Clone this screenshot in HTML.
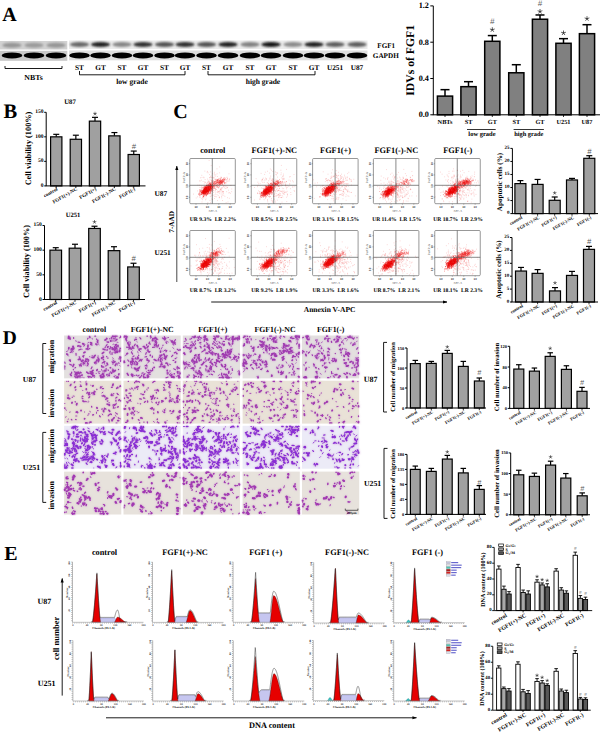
<!DOCTYPE html><html><head><meta charset="utf-8"><title>Figure</title><style>html,body{margin:0;padding:0;background:#fff;width:600px;height:733px;overflow:hidden;}svg{display:block;font-family:"Liberation Serif",serif;text-rendering:geometricPrecision;}</style></head><body><svg width="600" height="733" viewBox="0 0 600 733" font-family="Liberation Serif" font-weight="bold">
<defs><filter id="bl1" x="-50%" y="-50%" width="200%" height="200%"><feGaussianBlur stdDeviation="1.3"/></filter><filter id="bl2" x="-50%" y="-50%" width="200%" height="200%"><feGaussianBlur stdDeviation="1.0 0.8"/></filter><filter id="bl3" x="-50%" y="-50%" width="200%" height="200%"><feGaussianBlur stdDeviation="0.45"/></filter><marker id="ah" viewBox="0 0 10 10" refX="9" refY="5" markerWidth="5" markerHeight="5" orient="auto"><path d="M0,1.5 L10,5 L0,8.5 z" fill="#000"/></marker><filter id="halo0" x="-5%" y="-5%" width="110%" height="110%"><feGaussianBlur in="SourceAlpha" stdDeviation="1.1" result="b"/><feFlood flood-color="#cc8fd4" flood-opacity="0.95"/><feComposite in2="b" operator="in" result="h"/><feMerge><feMergeNode in="h"/><feMergeNode in="SourceGraphic"/></feMerge></filter><filter id="halo1" x="-5%" y="-5%" width="110%" height="110%"><feGaussianBlur in="SourceAlpha" stdDeviation="0.8" result="b"/><feFlood flood-color="#c890c8" flood-opacity="0.8"/><feComposite in2="b" operator="in" result="h"/><feMerge><feMergeNode in="h"/><feMergeNode in="SourceGraphic"/></feMerge></filter></defs>
<rect width="600" height="733" fill="#fff"/>
<text x="9.50" y="14.90" font-size="20" text-anchor="middle" dominant-baseline="central" fill="#000">A</text>
<text x="10.40" y="112.00" font-size="20.5" text-anchor="middle" dominant-baseline="central" fill="#000">B</text>
<text x="180.60" y="111.60" font-size="20" text-anchor="middle" dominant-baseline="central" fill="#000">C</text>
<text x="9.75" y="338.80" font-size="19.5" text-anchor="middle" dominant-baseline="central" fill="#000">D</text>
<text x="10.90" y="554.00" font-size="20" text-anchor="middle" dominant-baseline="central" fill="#000">E</text>
<rect x="0" y="41" width="67.3" height="8.5" fill="#d2d2d2"/>
<rect x="0" y="50.8" width="67.3" height="10" fill="#c8c8c8"/>
<rect x="69" y="40.5" width="298.5" height="8.5" fill="#ececec"/>
<rect x="69" y="50.5" width="298.5" height="9.8" fill="#dedede"/>
<ellipse cx="12" cy="45.2" rx="9.6" ry="2.5" fill="rgb(150,150,150)" filter="url(#bl2)"/>
<ellipse cx="12" cy="55.4" rx="10.3" ry="3.0" fill="#020202" filter="url(#bl3)"/>
<ellipse cx="34" cy="45.2" rx="9.6" ry="2.5" fill="rgb(155,155,155)" filter="url(#bl2)"/>
<ellipse cx="34" cy="55.4" rx="10.3" ry="3.0" fill="#020202" filter="url(#bl3)"/>
<ellipse cx="56" cy="45.2" rx="9.6" ry="2.5" fill="rgb(150,150,150)" filter="url(#bl2)"/>
<ellipse cx="56" cy="55.4" rx="10.3" ry="3.0" fill="#020202" filter="url(#bl3)"/>
<ellipse cx="79.5" cy="44.6" rx="9.6" ry="2.5" fill="rgb(105,105,105)" filter="url(#bl2)"/>
<ellipse cx="79.5" cy="55.4" rx="10.3" ry="3.0" fill="#020202" filter="url(#bl3)"/>
<ellipse cx="100.5" cy="44.6" rx="9.6" ry="2.5" fill="rgb(35,35,35)" filter="url(#bl2)"/>
<ellipse cx="100.5" cy="55.4" rx="10.3" ry="3.0" fill="#020202" filter="url(#bl3)"/>
<ellipse cx="122" cy="44.6" rx="9.6" ry="2.5" fill="rgb(135,135,135)" filter="url(#bl2)"/>
<ellipse cx="122" cy="55.4" rx="10.3" ry="3.0" fill="#020202" filter="url(#bl3)"/>
<ellipse cx="143" cy="44.6" rx="9.6" ry="2.5" fill="rgb(50,50,50)" filter="url(#bl2)"/>
<ellipse cx="143" cy="55.4" rx="10.3" ry="3.0" fill="#020202" filter="url(#bl3)"/>
<ellipse cx="164.5" cy="44.6" rx="9.6" ry="2.5" fill="rgb(85,85,85)" filter="url(#bl2)"/>
<ellipse cx="164.5" cy="55.4" rx="10.3" ry="3.0" fill="#020202" filter="url(#bl3)"/>
<ellipse cx="185" cy="44.6" rx="9.6" ry="2.5" fill="rgb(50,50,50)" filter="url(#bl2)"/>
<ellipse cx="185" cy="55.4" rx="10.3" ry="3.0" fill="#020202" filter="url(#bl3)"/>
<ellipse cx="206.5" cy="44.6" rx="9.6" ry="2.5" fill="rgb(85,85,85)" filter="url(#bl2)"/>
<ellipse cx="206.5" cy="55.4" rx="10.3" ry="3.0" fill="#020202" filter="url(#bl3)"/>
<ellipse cx="228" cy="44.6" rx="9.6" ry="2.5" fill="rgb(35,35,35)" filter="url(#bl2)"/>
<ellipse cx="228" cy="55.4" rx="10.3" ry="3.0" fill="#020202" filter="url(#bl3)"/>
<ellipse cx="250" cy="44.6" rx="9.6" ry="2.5" fill="rgb(130,130,130)" filter="url(#bl2)"/>
<ellipse cx="250" cy="55.4" rx="10.3" ry="3.0" fill="#020202" filter="url(#bl3)"/>
<ellipse cx="271" cy="44.6" rx="9.6" ry="2.5" fill="rgb(20,20,20)" filter="url(#bl2)"/>
<ellipse cx="271" cy="55.4" rx="10.3" ry="3.0" fill="#020202" filter="url(#bl3)"/>
<ellipse cx="293" cy="44.6" rx="9.6" ry="2.5" fill="rgb(140,140,140)" filter="url(#bl2)"/>
<ellipse cx="293" cy="55.4" rx="10.3" ry="3.0" fill="#020202" filter="url(#bl3)"/>
<ellipse cx="314" cy="44.6" rx="9.6" ry="2.5" fill="rgb(35,35,35)" filter="url(#bl2)"/>
<ellipse cx="314" cy="55.4" rx="10.3" ry="3.0" fill="#020202" filter="url(#bl3)"/>
<ellipse cx="335" cy="44.6" rx="9.6" ry="2.5" fill="rgb(95,95,95)" filter="url(#bl2)"/>
<ellipse cx="335" cy="55.4" rx="10.3" ry="3.0" fill="#020202" filter="url(#bl3)"/>
<ellipse cx="357" cy="44.6" rx="9.6" ry="2.5" fill="rgb(95,95,95)" filter="url(#bl2)"/>
<ellipse cx="357" cy="55.4" rx="10.3" ry="3.0" fill="#020202" filter="url(#bl3)"/>
<text x="79.50" y="67.20" font-size="7.3" text-anchor="middle" dominant-baseline="central" fill="#000">ST</text>
<text x="100.50" y="67.20" font-size="7.3" text-anchor="middle" dominant-baseline="central" fill="#000">GT</text>
<text x="122.00" y="67.20" font-size="7.3" text-anchor="middle" dominant-baseline="central" fill="#000">ST</text>
<text x="143.00" y="67.20" font-size="7.3" text-anchor="middle" dominant-baseline="central" fill="#000">GT</text>
<text x="164.50" y="67.20" font-size="7.3" text-anchor="middle" dominant-baseline="central" fill="#000">ST</text>
<text x="185.00" y="67.20" font-size="7.3" text-anchor="middle" dominant-baseline="central" fill="#000">GT</text>
<text x="206.50" y="67.20" font-size="7.3" text-anchor="middle" dominant-baseline="central" fill="#000">ST</text>
<text x="228.00" y="67.20" font-size="7.3" text-anchor="middle" dominant-baseline="central" fill="#000">GT</text>
<text x="250.00" y="67.20" font-size="7.3" text-anchor="middle" dominant-baseline="central" fill="#000">ST</text>
<text x="271.00" y="67.20" font-size="7.3" text-anchor="middle" dominant-baseline="central" fill="#000">GT</text>
<text x="293.00" y="67.20" font-size="7.3" text-anchor="middle" dominant-baseline="central" fill="#000">ST</text>
<text x="314.00" y="67.20" font-size="7.3" text-anchor="middle" dominant-baseline="central" fill="#000">GT</text>
<text x="335.00" y="67.20" font-size="7.3" text-anchor="middle" dominant-baseline="central" fill="#000">U251</text>
<text x="357.00" y="67.20" font-size="7.3" text-anchor="middle" dominant-baseline="central" fill="#000">U87</text>
<path d="M5,66 V68.5 H62 V66" fill="none" stroke="#000" stroke-width="0.9"/>
<text x="33.50" y="77.80" font-size="7.8" text-anchor="middle" dominant-baseline="central" fill="#000">NBTs</text>
<path d="M79.5,71 V74.8 H185 V71" fill="none" stroke="#000" stroke-width="0.9"/>
<text x="132.00" y="81.30" font-size="7.5" text-anchor="middle" dominant-baseline="central" fill="#000">low grade</text>
<path d="M208,71 V74.8 H315 V71" fill="none" stroke="#000" stroke-width="0.9"/>
<text x="263.00" y="81.80" font-size="7.5" text-anchor="middle" dominant-baseline="central" fill="#000">high grade</text>
<text x="386.20" y="45.50" font-size="7.1" text-anchor="middle" dominant-baseline="central" fill="#000">FGF1</text>
<text x="385.80" y="55.50" font-size="7.2" text-anchor="middle" dominant-baseline="central" fill="#000">GAPDH</text>
<line x1="445.00" y1="96.11" x2="445.00" y2="89.66" stroke="#000" stroke-width="1.5"/>
<line x1="440.50" y1="89.66" x2="449.50" y2="89.66" stroke="#000" stroke-width="1.5"/>
<rect x="437.40" y="96.11" width="15.20" height="18.69" fill="#808080" stroke="#000" stroke-width="1.5"/>
<line x1="468.50" y1="86.67" x2="468.50" y2="81.68" stroke="#000" stroke-width="1.5"/>
<line x1="464.00" y1="81.68" x2="473.00" y2="81.68" stroke="#000" stroke-width="1.5"/>
<rect x="460.90" y="86.67" width="15.20" height="28.13" fill="#808080" stroke="#000" stroke-width="1.5"/>
<line x1="492.30" y1="41.29" x2="492.30" y2="35.58" stroke="#000" stroke-width="1.5"/>
<line x1="487.80" y1="35.58" x2="496.80" y2="35.58" stroke="#000" stroke-width="1.5"/>
<rect x="484.70" y="41.29" width="15.20" height="73.51" fill="#808080" stroke="#000" stroke-width="1.5"/>
<path d="M492.30 29.75L492.30 27.65M492.30 29.75L494.30 29.10M492.30 29.75L493.53 31.45M492.30 29.75L491.07 31.45M492.30 29.75L490.30 29.10" stroke="#333" stroke-width="0.798" stroke-linecap="round"/>
<text x="492.30" y="21.90" font-size="8" text-anchor="middle" dominant-baseline="central" fill="#555" font-family="Liberation Sans" font-weight="normal" font-style="italic">#</text>
<line x1="516.30" y1="72.78" x2="516.30" y2="64.71" stroke="#000" stroke-width="1.5"/>
<line x1="511.80" y1="64.71" x2="520.80" y2="64.71" stroke="#000" stroke-width="1.5"/>
<rect x="508.70" y="72.78" width="15.20" height="42.02" fill="#808080" stroke="#000" stroke-width="1.5"/>
<line x1="540.00" y1="19.24" x2="540.00" y2="14.97" stroke="#000" stroke-width="1.5"/>
<line x1="535.50" y1="14.97" x2="544.50" y2="14.97" stroke="#000" stroke-width="1.5"/>
<rect x="532.40" y="19.24" width="15.20" height="95.56" fill="#808080" stroke="#000" stroke-width="1.5"/>
<path d="M540.00 11.50L540.00 9.40M540.00 11.50L542.00 10.85M540.00 11.50L541.23 13.20M540.00 11.50L538.77 13.20M540.00 11.50L538.00 10.85" stroke="#333" stroke-width="0.798" stroke-linecap="round"/>
<text x="540.00" y="3.50" font-size="8" text-anchor="middle" dominant-baseline="central" fill="#555" font-family="Liberation Sans" font-weight="normal" font-style="italic">#</text>
<line x1="563.50" y1="43.29" x2="563.50" y2="38.66" stroke="#000" stroke-width="1.5"/>
<line x1="559.00" y1="38.66" x2="568.00" y2="38.66" stroke="#000" stroke-width="1.5"/>
<rect x="555.90" y="43.29" width="15.20" height="71.51" fill="#808080" stroke="#000" stroke-width="1.5"/>
<path d="M563.50 33.00L563.50 30.90M563.50 33.00L565.50 32.35M563.50 33.00L564.73 34.70M563.50 33.00L562.27 34.70M563.50 33.00L561.50 32.35" stroke="#333" stroke-width="0.798" stroke-linecap="round"/>
<line x1="587.00" y1="33.67" x2="587.00" y2="24.69" stroke="#000" stroke-width="1.5"/>
<line x1="582.50" y1="24.69" x2="591.50" y2="24.69" stroke="#000" stroke-width="1.5"/>
<rect x="579.40" y="33.67" width="15.20" height="81.13" fill="#808080" stroke="#000" stroke-width="1.5"/>
<path d="M587.00 18.70L587.00 16.60M587.00 18.70L589.00 18.05M587.00 18.70L588.23 20.40M587.00 18.70L585.77 20.40M587.00 18.70L585.00 18.05" stroke="#333" stroke-width="0.798" stroke-linecap="round"/>
<line x1="433.30" y1="114.80" x2="433.30" y2="5.90" stroke="#000" stroke-width="1.0"/>
<line x1="432.80" y1="114.80" x2="600.00" y2="114.80" stroke="#000" stroke-width="1.0"/>
<line x1="430.30" y1="114.80" x2="433.30" y2="114.80" stroke="#000" stroke-width="1.0"/>
<text x="428.90" y="114.80" font-size="8.2" text-anchor="end" dominant-baseline="central" fill="#000">0.0</text>
<line x1="430.30" y1="78.50" x2="433.30" y2="78.50" stroke="#000" stroke-width="1.0"/>
<text x="428.90" y="78.50" font-size="8.2" text-anchor="end" dominant-baseline="central" fill="#000">0.4</text>
<line x1="430.30" y1="42.20" x2="433.30" y2="42.20" stroke="#000" stroke-width="1.0"/>
<text x="428.90" y="42.20" font-size="8.2" text-anchor="end" dominant-baseline="central" fill="#000">0.8</text>
<line x1="430.30" y1="5.90" x2="433.30" y2="5.90" stroke="#000" stroke-width="1.0"/>
<text x="428.90" y="5.90" font-size="8.2" text-anchor="end" dominant-baseline="central" fill="#000">1.2</text>
<line x1="445.00" y1="114.80" x2="445.00" y2="117.00" stroke="#000" stroke-width="0.8"/>
<line x1="468.50" y1="114.80" x2="468.50" y2="117.00" stroke="#000" stroke-width="0.8"/>
<line x1="492.30" y1="114.80" x2="492.30" y2="117.00" stroke="#000" stroke-width="0.8"/>
<line x1="516.30" y1="114.80" x2="516.30" y2="117.00" stroke="#000" stroke-width="0.8"/>
<line x1="540.00" y1="114.80" x2="540.00" y2="117.00" stroke="#000" stroke-width="0.8"/>
<line x1="563.50" y1="114.80" x2="563.50" y2="117.00" stroke="#000" stroke-width="0.8"/>
<line x1="587.00" y1="114.80" x2="587.00" y2="117.00" stroke="#000" stroke-width="0.8"/>
<text x="410.20" y="60.30" font-size="11.7" text-anchor="middle" dominant-baseline="central" fill="#000" transform="rotate(-90 410.20 60.30)">IDVs of FGF1</text>
<text x="445.00" y="122.90" font-size="6.3" text-anchor="middle" dominant-baseline="central" fill="#000">NBTs</text>
<text x="468.50" y="122.90" font-size="6.3" text-anchor="middle" dominant-baseline="central" fill="#000">ST</text>
<text x="492.30" y="122.90" font-size="6.3" text-anchor="middle" dominant-baseline="central" fill="#000">GT</text>
<text x="516.30" y="122.90" font-size="6.3" text-anchor="middle" dominant-baseline="central" fill="#000">ST</text>
<text x="540.00" y="122.90" font-size="6.3" text-anchor="middle" dominant-baseline="central" fill="#000">GT</text>
<text x="563.50" y="122.90" font-size="6.3" text-anchor="middle" dominant-baseline="central" fill="#000">U251</text>
<text x="587.00" y="122.90" font-size="6.3" text-anchor="middle" dominant-baseline="central" fill="#000">U87</text>
<line x1="467" y1="129.5" x2="495.7" y2="129.5" stroke="#000" stroke-width="0.8"/>
<line x1="513.6" y1="129.5" x2="543.9" y2="129.5" stroke="#000" stroke-width="0.8"/>
<text x="482.00" y="134.30" font-size="6.5" text-anchor="middle" dominant-baseline="central" fill="#000">low grade</text>
<text x="528.80" y="134.30" font-size="6.4" text-anchor="middle" dominant-baseline="central" fill="#000">high grade</text>
<line x1="56.25" y1="136.83" x2="56.25" y2="134.33" stroke="#000" stroke-width="1.2"/>
<line x1="53.25" y1="134.33" x2="59.25" y2="134.33" stroke="#000" stroke-width="1.2"/>
<rect x="50.60" y="136.83" width="11.30" height="49.07" fill="#a0a0a0" stroke="#000" stroke-width="1.2"/>
<line x1="75.85" y1="139.28" x2="75.85" y2="135.21" stroke="#000" stroke-width="1.2"/>
<line x1="72.85" y1="135.21" x2="78.85" y2="135.21" stroke="#000" stroke-width="1.2"/>
<rect x="70.20" y="139.28" width="11.30" height="46.62" fill="#a0a0a0" stroke="#000" stroke-width="1.2"/>
<line x1="95.00" y1="121.13" x2="95.00" y2="117.35" stroke="#000" stroke-width="1.2"/>
<line x1="92.00" y1="117.35" x2="98.00" y2="117.35" stroke="#000" stroke-width="1.2"/>
<rect x="89.35" y="121.13" width="11.30" height="64.77" fill="#a0a0a0" stroke="#000" stroke-width="1.2"/>
<path d="M95.00 113.75L95.00 112.15M95.00 113.75L96.52 113.26M95.00 113.75L95.94 115.04M95.00 113.75L94.06 115.04M95.00 113.75L93.48 113.26" stroke="#333" stroke-width="0.6080000000000001" stroke-linecap="round"/>
<line x1="114.40" y1="135.85" x2="114.40" y2="132.56" stroke="#000" stroke-width="1.2"/>
<line x1="111.40" y1="132.56" x2="117.40" y2="132.56" stroke="#000" stroke-width="1.2"/>
<rect x="108.75" y="135.85" width="11.30" height="50.05" fill="#a0a0a0" stroke="#000" stroke-width="1.2"/>
<line x1="133.75" y1="154.50" x2="133.75" y2="151.06" stroke="#000" stroke-width="1.2"/>
<line x1="130.75" y1="151.06" x2="136.75" y2="151.06" stroke="#000" stroke-width="1.2"/>
<rect x="128.10" y="154.50" width="11.30" height="31.40" fill="#a0a0a0" stroke="#000" stroke-width="1.2"/>
<text x="133.75" y="146.25" font-size="7.6" text-anchor="middle" dominant-baseline="central" fill="#555" font-family="Liberation Sans" font-weight="normal" font-style="italic">#</text>
<line x1="46.20" y1="185.90" x2="46.20" y2="112.30" stroke="#000" stroke-width="1.0"/>
<line x1="45.70" y1="185.90" x2="145.50" y2="185.90" stroke="#000" stroke-width="1.0"/>
<line x1="44.20" y1="185.90" x2="46.20" y2="185.90" stroke="#000" stroke-width="1.0"/>
<text x="43.40" y="185.90" font-size="5.5" text-anchor="end" dominant-baseline="central" fill="#000">0</text>
<line x1="44.20" y1="161.37" x2="46.20" y2="161.37" stroke="#000" stroke-width="1.0"/>
<text x="43.40" y="161.37" font-size="5.5" text-anchor="end" dominant-baseline="central" fill="#000">50</text>
<line x1="44.20" y1="136.83" x2="46.20" y2="136.83" stroke="#000" stroke-width="1.0"/>
<text x="43.40" y="136.83" font-size="5.5" text-anchor="end" dominant-baseline="central" fill="#000">100</text>
<line x1="44.20" y1="112.30" x2="46.20" y2="112.30" stroke="#000" stroke-width="1.0"/>
<text x="43.40" y="112.30" font-size="5.5" text-anchor="end" dominant-baseline="central" fill="#000">150</text>
<line x1="56.25" y1="185.90" x2="56.25" y2="188.10" stroke="#000" stroke-width="0.8"/>
<line x1="75.85" y1="185.90" x2="75.85" y2="188.10" stroke="#000" stroke-width="0.8"/>
<line x1="95.00" y1="185.90" x2="95.00" y2="188.10" stroke="#000" stroke-width="0.8"/>
<line x1="114.40" y1="185.90" x2="114.40" y2="188.10" stroke="#000" stroke-width="0.8"/>
<line x1="133.75" y1="185.90" x2="133.75" y2="188.10" stroke="#000" stroke-width="0.8"/>
<text x="28.20" y="148.50" font-size="8.3" text-anchor="middle" dominant-baseline="central" fill="#000" transform="rotate(-90 28.20 148.50)">Cell viability (100%)</text>
<text x="57.75" y="189.50" font-size="5" text-anchor="end" dominant-baseline="central" fill="#000" transform="rotate(-30 57.75 189.50)">control</text>
<text x="77.35" y="189.50" font-size="5" text-anchor="end" dominant-baseline="central" fill="#000" transform="rotate(-30 77.35 189.50)">FGF1(+)-NC</text>
<text x="96.50" y="189.50" font-size="5" text-anchor="end" dominant-baseline="central" fill="#000" transform="rotate(-30 96.50 189.50)">FGF1(+)</text>
<text x="115.90" y="189.50" font-size="5" text-anchor="end" dominant-baseline="central" fill="#000" transform="rotate(-30 115.90 189.50)">FGF1(-)-NC</text>
<text x="135.25" y="189.50" font-size="5" text-anchor="end" dominant-baseline="central" fill="#000" transform="rotate(-30 135.25 189.50)">FGF1(-)</text>
<text x="70.00" y="102.00" font-size="6.8" text-anchor="middle" dominant-baseline="central" fill="#000">U87</text>
<line x1="55.75" y1="250.16" x2="55.75" y2="247.69" stroke="#000" stroke-width="1.2"/>
<line x1="52.75" y1="247.69" x2="58.75" y2="247.69" stroke="#000" stroke-width="1.2"/>
<rect x="49.95" y="250.16" width="11.60" height="49.34" fill="#a0a0a0" stroke="#000" stroke-width="1.2"/>
<line x1="75.00" y1="248.19" x2="75.00" y2="244.24" stroke="#000" stroke-width="1.2"/>
<line x1="72.00" y1="244.24" x2="78.00" y2="244.24" stroke="#000" stroke-width="1.2"/>
<rect x="69.20" y="248.19" width="11.60" height="51.31" fill="#a0a0a0" stroke="#000" stroke-width="1.2"/>
<line x1="94.50" y1="228.45" x2="94.50" y2="226.23" stroke="#000" stroke-width="1.2"/>
<line x1="91.50" y1="226.23" x2="97.50" y2="226.23" stroke="#000" stroke-width="1.2"/>
<rect x="88.70" y="228.45" width="11.60" height="71.05" fill="#a0a0a0" stroke="#000" stroke-width="1.2"/>
<path d="M94.50 222.00L94.50 220.40M94.50 222.00L96.02 221.51M94.50 222.00L95.44 223.29M94.50 222.00L93.56 223.29M94.50 222.00L92.98 221.51" stroke="#333" stroke-width="0.6080000000000001" stroke-linecap="round"/>
<line x1="114.00" y1="250.65" x2="114.00" y2="246.71" stroke="#000" stroke-width="1.2"/>
<line x1="111.00" y1="246.71" x2="117.00" y2="246.71" stroke="#000" stroke-width="1.2"/>
<rect x="108.20" y="250.65" width="11.60" height="48.85" fill="#a0a0a0" stroke="#000" stroke-width="1.2"/>
<line x1="133.50" y1="266.94" x2="133.50" y2="263.24" stroke="#000" stroke-width="1.2"/>
<line x1="130.50" y1="263.24" x2="136.50" y2="263.24" stroke="#000" stroke-width="1.2"/>
<rect x="127.70" y="266.94" width="11.60" height="32.56" fill="#a0a0a0" stroke="#000" stroke-width="1.2"/>
<text x="133.50" y="258.75" font-size="7.6" text-anchor="middle" dominant-baseline="central" fill="#555" font-family="Liberation Sans" font-weight="normal" font-style="italic">#</text>
<line x1="44.50" y1="299.50" x2="44.50" y2="225.49" stroke="#000" stroke-width="1.0"/>
<line x1="44.00" y1="299.50" x2="145.00" y2="299.50" stroke="#000" stroke-width="1.0"/>
<line x1="42.50" y1="299.50" x2="44.50" y2="299.50" stroke="#000" stroke-width="1.0"/>
<text x="41.70" y="299.50" font-size="5.5" text-anchor="end" dominant-baseline="central" fill="#000">0</text>
<line x1="42.50" y1="274.83" x2="44.50" y2="274.83" stroke="#000" stroke-width="1.0"/>
<text x="41.70" y="274.83" font-size="5.5" text-anchor="end" dominant-baseline="central" fill="#000">50</text>
<line x1="42.50" y1="250.16" x2="44.50" y2="250.16" stroke="#000" stroke-width="1.0"/>
<text x="41.70" y="250.16" font-size="5.5" text-anchor="end" dominant-baseline="central" fill="#000">100</text>
<line x1="42.50" y1="225.49" x2="44.50" y2="225.49" stroke="#000" stroke-width="1.0"/>
<text x="41.70" y="225.49" font-size="5.5" text-anchor="end" dominant-baseline="central" fill="#000">150</text>
<line x1="55.75" y1="299.50" x2="55.75" y2="301.70" stroke="#000" stroke-width="0.8"/>
<line x1="75.00" y1="299.50" x2="75.00" y2="301.70" stroke="#000" stroke-width="0.8"/>
<line x1="94.50" y1="299.50" x2="94.50" y2="301.70" stroke="#000" stroke-width="0.8"/>
<line x1="114.00" y1="299.50" x2="114.00" y2="301.70" stroke="#000" stroke-width="0.8"/>
<line x1="133.50" y1="299.50" x2="133.50" y2="301.70" stroke="#000" stroke-width="0.8"/>
<text x="26.50" y="261.50" font-size="8.2" text-anchor="middle" dominant-baseline="central" fill="#000" transform="rotate(-90 26.50 261.50)">Cell viability (100%)</text>
<text x="57.25" y="303.00" font-size="5" text-anchor="end" dominant-baseline="central" fill="#000" transform="rotate(-30 57.25 303.00)">control</text>
<text x="76.50" y="303.00" font-size="5" text-anchor="end" dominant-baseline="central" fill="#000" transform="rotate(-30 76.50 303.00)">FGF1(+)-NC</text>
<text x="96.00" y="303.00" font-size="5" text-anchor="end" dominant-baseline="central" fill="#000" transform="rotate(-30 96.00 303.00)">FGF1(+)</text>
<text x="115.50" y="303.00" font-size="5" text-anchor="end" dominant-baseline="central" fill="#000" transform="rotate(-30 115.50 303.00)">FGF1(-)-NC</text>
<text x="135.00" y="303.00" font-size="5" text-anchor="end" dominant-baseline="central" fill="#000" transform="rotate(-30 135.00 303.00)">FGF1(-)</text>
<text x="73.00" y="215.30" font-size="6.6" text-anchor="middle" dominant-baseline="central" fill="#000">U251</text>
<text x="212.80" y="150.60" font-size="8.3" text-anchor="middle" dominant-baseline="central" fill="#000">control</text>
<text x="274.25" y="150.60" font-size="8.3" text-anchor="middle" dominant-baseline="central" fill="#000">FGF1(+)-NC</text>
<text x="335.60" y="150.60" font-size="8.3" text-anchor="middle" dominant-baseline="central" fill="#000">FGF1(+)</text>
<text x="396.40" y="150.60" font-size="8.3" text-anchor="middle" dominant-baseline="central" fill="#000">FGF1(-)-NC</text>
<text x="457.75" y="150.60" font-size="8.3" text-anchor="middle" dominant-baseline="central" fill="#000">FGF1(-)</text>
<path d="M207.1 190.4h0m-0.5-2.2h0m0.4-0.5h0m1.1 4.2h0m-0.6-3.8h0m-1.7 3.5h0m-0.3-2.6h0m2.1 1.8h0m2.5-4.5h0m0.6-2.4h0m1 1.6h0m-1.1 1.9h0m-4.4 2.7h0m7.1-6.6h0m-6.2 6.5h0m3.5-4.1h0m-1.9 0.8h0m-5.7 4.7h0m4.8-0.3h0m0.5-2.6h0m-1.7 1.8h0m3.7-3h0m-9 3.8h0m3.2 1h0m6.3-0.9h0m-7.4-1h0m3.8 0.7h0m0.9-0.4h0m-0.4 0.2h0m-5.7 1.7h0m3.7-2.5h0m-0.5-1.2h0m3-0.3h0m-2.7 5.2h0m4.1-7.7h0m-6.8 3h0m5.2-0.1h0m-4 5h0m3.3-5h0m1.8 2.6h0m-1.4-2.8h0m-2 2h0m0.4-2.5h0m0.3 1.3h0m-2.2 4.1h0m3.4-2.7h0m1.3-0.2h0m-1.5 0.2h0m3.4-3.3h0m-1.5-4.1h0m-2.6 4.7h0m2.1 5.2h0m-0.3-6h0m-1.7 3.8h0m0.3-1.8h0m-1.7 3h0m4.2-4.8h0m-4 1.2h0m-0.5 0.8h0m-0.8 3h0m1.6-3.1h0m-0.9-2.3h0m5.4 0.8h0m3.3-1.7h0m-1.2 0.8h0m-2.5 2.1h0m-5.2-0.8h0m0.1 6.5h0m1.8-5.3h0m-0.5-1.2h0m-3.1 3.5h0m3-3h0m1.1-1.9h0m-4.1 5.8h0m1-0.5h0m4.3-4.2h0m0 0.7h0m-0.9 0h0m2.3-2.9h0m-8.4 7.1h0m8.7-4.9h0m-8.8 3.3h0m5.4-2.6h0m5.8-1.8h0m-5.6 3.1h0m2.5-1.1h0m-1.2-0.3h0m0.4-2.7h0m-6.1 6.5h0m3.4-1.8h0m1.6-2.3h0m-2.8 2.7h0m2.5-1.3h0m-3 3.9h0m0.9-3.5h0m6.6-2h0m-7.8 3.9h0m2.2 0.3h0m-0.6 0.8h0m4.2-2.1h0m1.5-2.7h0m-4.8 4h0m-3.3 4h0m5.1-11.2h0m-4.8 5.4h0m4.3 0.6h0m1.4-7.7h0m-3 7.3h0m1.4-1.2h0m0.1-3.5h0m-1.4 2.3h0m5.7-1.4h0m-4.5 3.5h0m1.5-3.5h0m-0.3-0.4h0m-3.2 2.9h0m0.8 1.9h0m-6.6 1.5h0m4.6-0.9h0m1.1-3.8h0m3.6 1.8h0m-1.8 0h0m1.8 1h0m-4.4-3.8h0m2.1-1.3h0m8.7-4h0m-12.2 11.3h0m6-7h0m-5.3 6.7h0m2.8-2.8h0m1 1.1h0m-2.1 0.5h0m4.8-3.3h0m-0.4 1.6h0m0.3-3h0m-4.8 1.3h0m-1.8 7.7h0m5.3-5.9h0m-6-2.6h0m3.1 3.1h0m-0.6-1.7h0m2 0.3h0m-3.6 4.1h0m4.7-1.2h0m-0.6-3.8h0m5.7-0.3h0m-8.5 5.5h0m-0.1-1.7h0m0.9-1.5h0m1.5-0.6h0m-4.2 4.6h0m3.1-5.1h0m4 1.6h0m-4.8 0.6h0m1.1-3.6h0m1.3 3.3h0m-0.2-2.2h0m-0.2 0.8h0m3.5-3.6h0m-0.9 3.2h0m-0.5-0.2h0m-7.4 4.1h0m6.5-4.2h0m-3-0.2h0m2 5h0m-0.4-4.6h0m2.8-1.1h0m-1-2.3h0m-6.9 6h0m3.2 2.8h0m1.3-3.2h0m-5.6 2.9h0m5.9-7.3h0m1.3 5.1h0m-5.2-1h0m5.5-3.6h0m-2.8 3h0m0.7 0.5h0m1.1-1.6h0m-1.5 1.1h0m1.3 3.2h0m-2.2-2.2h0m6.7-4.8h0m-1.2-2.9h0m-5.5 9.2h0m0.2-5.5h0m1.7 0.9h0m0.4 6.1h0m-2.1-4.9h0m4.6-2.3h0m-3.9 0.9h0m-0.9 0.7h0m-0.4 5.2h0m-1.5-2.1h0m1.9-0.9h0m2.3-2.3h0m1.4-3.6h0m-4.5 6.5h0m2.9 0.2h0m3.5-6.8h0m-4.1 5.9h0m2.3-0.4h0m-4.1-1.6h0m5.4 0h0m-6.8-0.3h0m0.2 5.3h0m-1.1-1.3h0m3.8-4.8h0m-6.9 7.8h0m2.2-2.8h0m2.8-4.6h0m4.4 2.2h0m2.6-1.9h0m-6.8 0.9h0m3-1.2h0m-1.3 1h0m2.4-1.5h0m-0.5-1.8h0m-0.4 5.2h0m3.2-4.6h0m-3.5 0.7h0m-3.7 4.1h0m-2.1 1.1h0m3.7-1.8h0m4-1.6h0m-1.6 1.4h0m-2.1-1.9h0m1.3 1.3h0m-4 1.2h0m2-3.4h0m-1.3 2.5h0m8-4.3h0m-9.7 4.7h0m6.9-4h0m1.4 1.4h0m-2.1-0.7h0m-3.9 3.1h0m0.1-0.6h0m3.7-4.9h0m-7 9h0m4.9-3.3h0m0.3-0.1h0m-6.1 2.6h0m9.8-7.9h0m1.2 2.8h0m-7.8 2.7h0m6.8-4.3h0m-10.4 3.2h0m4.3 0.3h0m-1.5 1.2h0m3.3-3.6h0m5 2.2h0m-6.9 1.8h0m3.1-5.9h0m0.7 3.6h0m-1 0.6h0m3-2.4h0m-1.6 4.3h0m-6.9 2.5h0m7.5-5.9h0m-1.2-0.6h0m-1.9 0.9h0m-0.8 2.8h0m0.9-1h0m1.9-3.2h0m-0.9 1.6h0m-0.8 1.8h0m4.6-3.5h0m-0.8-0.9h0m-4.5 0.5h0m1.3 3.8h0m0.1-1.3h0m0-1.2h0m0.2 0.8h0m-1.8-0.1h0m1.1 2.1h0m0.4-1.6h0m-3.2 0h0m2.3 2.3h0m0.6-0.2h0m1.9-3h0m-2.8 3.8h0m-0.9-3.5h0m2 4.3h0m-2.4-0.2h0m8-4.9h0m-7.7-1.4h0m-0.4 2.6h0m5.6-2.7h0m-6.9 6.2h0m5.1 0.5h0m-5.7 0.6h0m3.9-5.7h0m3.1 1.2h0m-3.4 2.1h0m-2.6 0.2h0m4.5-0.5h0m-1.4 2h0m-0.9-2.3h0m-0.7-1h0m7.3-2.5h0m-4.7 3.3h0m3.9-4.7h0m-3.7 1.9h0m5.3-3.1h0m-8.1 8.2h0m3.8-4h0m-6.8-0.5h0m6 2.3h0m-1 3.4h0m-2.7-0.8h0m2.8-1.3h0m1.5-3h0m-1.9 6h0m0.8-5.1h0m0.5 2.6h0m0.8-0.3h0m0.8-4.4h0m-1.1 3.1h0m-6-0.2h0m7.5-2.1h0m-2.7-1.8h0m-2.6 6.5h0m0.5-2.5h0m-1.2 1.5h0m-1-0.7h0m6.7-3h0m0.1 1h0m-4.4 0.1h0m1.1 0.3h0m-2.6 1.6h0m5.7-0.7h0m-6.6 7.2h0m4.2-7.4h0m-4.5 3h0m7.3-5.5h0m-5.1 2h0m5.3-5.6h0m-5.8 6.2h0m3.3-0.5h0m-2.7 1h0m-0.3-1h0m2.3-2.2h0m-3.1 4.8h0m4.9-4.8h0m-0.3 2.6h0m1.9-5.4h0m0.5 7.5h0m-6.6-0.5h0m3 2.3h0m0.1-5.3h0m-3.2 4.4h0m0.5-2.5h0m-1.1 5.8h0m2.7-4.5h0m7.2-6h0m-5.4 3.9h0m-3.3 1h0m7.4-4.5h0m-3.4 1.3h0m-0.4 0.3h0m6.5-1.9h0m-7.3 5.7h0m-6 2.6h0m9.6-9.9h0m-1.3 1.9h0m-5.2 0.9h0m-0.2 1.3h0m1.6 1.7h0m1.8-1.3h0m0-1.2h0m3.9-1.9h0m-7.7 10.7h0m0.1-2.8h0m6.4-3.7h0m-3.4-0.5h0m0.8-0.3h0m0.2-0.6h0m1.5-1.9h0m-9.1 8.1h0m7.7-4.9h0m-4.4 0h0m4.8 0.5h0m-2.2 0.1h0m-4.5 1.9h0m4.3-3.2h0m-5.5 1.3h0m7.6-3h0m-2.5 4.5h0m-4.4-1.2h0m3.2 0.2h0m4.8-2.1h0m-2.1-4h0m-0.9 2h0m2.8 1.8h0m-1.4 3.8h0m-1.9-5.3h0m2.2-0.4h0m2.8 0.7h0m-4.2-1.9h0m-1.8 5.6h0m1.2-0.5h0m-0.8 0.5h0m-1.3 1.9h0m2.3-2h0m4.6-5h0m-3 3.3h0m4.7-0.7h0m-7.2-0.4h0m6.1-2.9h0m-5 3.1h0m-0.5 0.6h0m-1.3 0.9h0m3.5 0.9h0m-9.5 3.4h0m8.7-6.8h0m-3.8 2.5h0m4.7-1.5h0m0.4-2.3h0m-2.6-0.4h0m4.5 0h0m-4.2 4h0m5.1-4.8h0m-6.1 7.3h0m0.9-3.9h0m-1.7 2h0m4.8-4.4h0m-6.2 7.3h0m0-1.6h0m0.5-0.6h0m6.4 1.5h0m-5.8-1.8h0m3.3-0.9h0m-4.5 1.9h0m8.5-6.5h0m-4.5 4.6h0m-3.4 3.2h0m-0.2-3h0m3.3 4.4h0m-1.7-2.7h0m3.4 0.6h0m1-5h0m-3 4.3h0m2.1-2.6h0m-0.7 0.1h0m-1.8-1.3h0m1.9 2.9h0m1.4-3.6h0m-5.4 2.6h0m1.3-1.1h0m1 6.6h0m-5.2-1.2h0m4-2.5h0m3.3 0.4h0m3.4-3.9h0m-3.1 3.3h0m-3-2.2h0m1.3 2.1h0m0.4-0.9h0m-1.2-4.7h0m-1 7h0m1.5-2.6h0m-3.1 1.4h0m5.2-3.7h0m-6.6 2.8h0m0.8 1h0m8.4-2.8h0m-5.5-1h0m3.1 2.3h0m-5.8 1.8h0m3.4-0.3h0m2.6-2.9h0m-2.7 0.2h0m1.9-0.2h0m-2.1 0.3h0m3.1 1.2h0m-2 1.2h0m-3.1 1.8h0m-4.5 0.6h0m4.6-2.7h0m-0.8 5.1h0m7.8-12.3h0m-5.4 8.4h0m-1.1-1h0m1.5 0.3h0m1.9-0.7h0m5.7-5.5h0m-3.1 3.2h0m-4.2-0.6h0m-1.7 1.4h0m2.9-3.9h0m-0.3 4.8h0m-3.6 1.6h0m0.1 0.2h0m3.8-1.9h0m-4.2 1.5h0m3.8-2.8h0m-1.7-0.2h0m-2.1 2.8h0m1.1-1.8h0m1.6 1.3h0m4 0.4h0m-2.5 1.5h0m-4.3-1.9h0m4.9-1.6h0m-1.6 0.5h0m-1.1-3.2h0m-0.6-0.4h0m0 3.3h0m3.6-1.8h0m-4.1 0.6h0m6-4.1h0m1-0.6h0m-10.3 8.3h0m2.3-2.6h0m2.1 0.6h0m2 0.3h0m-5.5 3.7h0m3.3-5.3h0m-0.5 2h0m-0.5 0.9h0m-4.6-0.5h0m8.8-0.9h0m-1.7-2.3h0m-0.8-0.6h0m3 5.9h0m-6.7-2.3h0m6.4-3.7h0m-5.7 3.7h0m6.6-1.6h0m-5.7 1.9h0m4.3-6.1h0m-2 0.1h0m-2.3 5.4h0m3.5 2.7h0m-5.2-2.4h0m3.3 2.3h0m2.3-6.5h0m-2.5 0.6h0m-5.3 2.6h0m9.5-3.1h0m-2 2.6h0m-1.8 0.6h0m-4.5-0.5h0m4.7-0.7h0m0.7 1.5h0m2-3.5h0m-3.7 5.2h0m5.9-1.2h0m-12.1 2.3h0m9.9 0.6h0m-3.9-1.9h0m2-3.3h0m0 0h0m-2.5 2.4h0m2.4-3.8h0m-0.7 1.3h0m2.4 2.3h0m-2.1 0.5h0m-0.4-0.6h0m0.9-1.6h0m-3.3 1h0m-0.4 2.8h0m5.3-5.5h0m0.5 1.1h0m1.1 1.2h0m-3.5-4.7h0m0.2 0.5h0m1.4 5.6h0m-4.6-1.6h0m7.4 0.9h0m-5 0.1h0m0.6 5h0m-3.2-2.5h0m3.2-1.6h0m0.9-4.4h0m-1.8 1.7h0m1.5 1.1h0m-7.8 4.3h0m7.7-4.8h0m-0.3 2.9h0m0.6-4.6h0m3.1-2.8h0m-5.1 6.3h0m3.9-4.1h0m-1.9 3.5h0m0.9-2.4h0m2.4-4h0m-10.7 6.5h0m8.1-1.3h0m-1-1.4h0m0 1.8h0m-2-2.6h0m1.3 1.2h0m2.3 0.5h0m-2.6 3.7h0m3.2-2.6h0m-4.5 4.1h0m-1.9-1.2h0m5.4-2.3h0m2.7-3.6h0m-3 1.2h0m2.8-3.5h0m-2.9 6.3h0m-3.9 1.1h0m2.5-3.7h0m-1 2.1h0m1.6 3.1h0m-1.7-5.7h0m2.3-1.9h0m4 2.9h0m-7.1-0.5h0m1.8 4.7h0m0.8-4.9h0m1 1.3h0m-1.8 3.4h0m-1.6 1.3h0m-1-0.3h0m7.2-7.7h0m-5.4 3.9h0m-1.6 1.4h0m7.1-1.8h0m-5.8 2h0m0.2 1.7h0m-2.2-6h0m5 0.3h0m1.6 0.2h0m-6.9 4.1h0m9.3-2h0m-5.5-2.8h0m-0.1 3.8h0m3-1.7h0m-2.4-1.7h0m-0.1 3.7h0m1.8-2.4h0m1.2 4.5h0m0.2-3.3h0m-3.5-0.5h0m-1.1 3.1h0m-2.1 0.5h0m4.3-5.4h0m-1.9 4h0m-2.7 1.9h0m2.2 0.6h0m-0.8-6h0m3.8-3h0m-7.1 7.1h0m2.6 1.1h0m-0.9 1.7h0m3.8-5.8h0m-0.1 0.9h0m1.5-1.7h0m-7.8 2.8h0m4.6-2.1h0m2.1 2.1h0m0.6-0.6h0m4.6-3.1h0m-3.2 1.6h0m-5.7-2.4h0m5.7 1.6h0m-6.4 5.3h0m1.8-5.2h0m0.1 7h0m1.8-5.9h0m5.8-2.4h0m-12.3 9.7h0m3.8-3.5h0m7.2-4.1h0m-1-2.6h0m-3 4.9h0m-0.9-0.3h0m1.4-4.9h0m-1.6 2.6h0m3.2-3.9h0m-2.9 1.1h0m2.6-1.6h0" stroke="#ee0000" stroke-width="0.8" stroke-linecap="round" opacity="0.5" fill="none"/>
<path d="M219.3 182.8h0m-7.3-1h0m10.6 0.9h0m-2.2-1.4h0m-6.9 1.9h0m9.9-4.3h0m-4.7 3.9h0m5.6-3.6h0m-6.2 4.2h0m4.3-1.1h0m-5.4-2.4h0m4.1 2.4h0m-0.1-4h0m0.1 4.5h0m-7.9-2.4h0m-3.2 2.6h0m6.9 1.8h0m-0.6-1.6h0m7.9-1.4h0m-2.9-4.2h0m-11.3 8.3h0m2.9-3.4h0m2.3 3.3h0m-1-2.3h0m9.8-3h0m3-3.2h0m-7.9 3.3h0m1.2 1.1h0m-6.9 4.2h0m7.1-2.2h0m2-3h0m-6.5 0.4h0m4.2-1.3h0m-0.1 4.7h0m2.5-2.9h0m-0.1-2.2h0m2.3 3.5h0m-13.3 2.2h0m11.2-2.8h0m-1.4 0.5h0m-2.4-0.1h0m-1.5-0.9h0m3.1-2.8h0m0.3 0.5h0m-0.9 0.9h0m-0.3 2.4h0m4.9-3.4h0m-1 2.8h0m-9.5 2.8h0m7.7-1.2h0m4.1-1.1h0m-4.8-5.5h0m-10 9.8h0m12.6-5.8h0m-3 0.7h0m4.2-2.4h0m-6.6 3.3h0m-2.7 0.5h0m-4.4 0h0m7-3.9h0m6.7 3.3h0m-1.4-0.9h0m-3.8-1.4h0m1.2 0.5h0m1.1 1.7h0m-4.7-0.8h0m6-0.3h0m-2.6 1.9h0m-10 2.5h0m9.3-4.2h0m2.6-1.9h0m0.7 0.6h0m-1.6 2.3h0m-0.5-1.4h0m3.7 1.9h0m-6.1 2h0m-1.1-0.2h0m3.4-2.2h0m-11.4 0.1h0m6.7 2.8h0m2.3-2.1h0m-3.7-1.3h0m3-1.2h0m4.1-0.7h0m-1.6 1.7h0m-2.9-1.8h0m-4.5 5.5h0m4-3.6h0m3.4 0.5h0m-2.8-2.8h0m0.7 7.3h0m8.7-5.6h0m-8.6 0.6h0m-4.1-0.6h0m5.5 2.8h0m0.5-3.2h0m-1.1 0.2h0m-5.5 0.8h0m2.4-1.2h0m1.2 1.5h0m12-3.2h0m-5.8 0.9h0m-9.8 1.7h0m10.6 1.2h0m-4.3 1.4h0m-1.8-3.5h0m2.4 2.8h0m-4.3-0.8h0m3.3-1.1h0m3.2 2.4h0m-3.5-4h0m2.6 2.3h0m-4.5-0.1h0m4.9-1.2h0m3.1-3h0m-8.7 3.8h0m2.2 2.1h0m-1.5-1.5h0m-5.2 2.5h0m9.2-2.5h0m-3.5-1.6h0m1.6 0.7h0m7.5-2.1h0m-6.3 1.3h0m5-1.2h0m-5.7 2.3h0m4.3-0.3h0m-0.1-1.4h0m-9.5 1.9h0m7.4 0.8h0m-1-1.9h0m-1.7 2.6h0m8.2-5.3h0m-4.6 0.8h0m-0.4 0.5h0m-4.3 1.2h0m1.2 1.7h0m3-1.3h0m-8.6 2.8h0m8.2-3h0m1.2 0.3h0m-7 0.2h0m4.7 1.8h0m0.7-1.7h0m1.5-2.1h0m-0.6 5h0m-1.6-3.9h0m0.7 0.4h0m-4.2 1.7h0m-5 1.5h0m2.2-0.5h0m2.3-3.4h0m3.2 1.3h0m-0.4-3.2h0m-3.3 3.7h0m4.8-1.1h0m-0.5 1.2h0m3.2-3.1h0m-5.2 3.2h0m2.1-1.7h0m1.9 0.3h0m-7.7 0.5h0m-0.4 3.2h0m7-2.1h0m2.6-4.7h0m-0.1 2.1h0m-3.4 0.8h0m-2.2-2h0m-1.2 1.5h0m4.6 0.3h0m-9.1 5.4h0m-3.6-0.8h0m-0.3-0.6h0m3.6 2h0m-1.6-0.6h0m6.1-6h0m2.1 2.9h0m-9.9 7.2h0m1.7-3.3h0m1.6 2.6h0m-3.6 0.6h0m8.7-5.5h0m-11.5 4.1h0m7.1 0.3h0m2.3 0.2h0m-0.4-5.5h0m-3.3 1.7h0m9.3-0.5h0m-10.2 0.6h0m3.9-0.2h0m-8.9 5.1h0m8.3-8.4h0m-7 6.6h0m5.2-4.2h0m7-1.8h0m-1.7-2.9h0m-1.6 3.8h0m-0.6 0h0m-3.6 6.7h0m-1.7-1h0m0.2-0.8h0m-2.3 3.3h0m11.1-7h0m-10.7 6.7h0m3.4-3.2h0m-2.1 0.6h0m-0.9 0.1h0m7.8-3.1h0m-7 3.4h0m8.2-2.3h0m-2.9-5h0m-4.9 4.5h0m11.9-2.7h0m-3.1-2.1h0m-7.3 7.1h0m9.7-6.9h0m-1.3 1.4h0m-7.3 1.8h0m-2-2.5h0m8.9 1.4h0m-1.5-4.1h0m-3.9 8h0m-4.3 4.3h0m7-7.4h0m-2-0.1h0m-5.4 3.5h0m6.8-2.4h0m-5.9 1.3h0m8.9-6.1h0m-9.2 6.3h0m-2 1h0m-2.1 5.5h0m7.8-5.5h0m5.7-1.7h0m-9.3 1.6h0m3.1-1.2h0m8.9-4.7h0m-11.2 6h0m0.9-2.6h0m9.1-2.8h0m-13.2 8.3h0m13.5-10.8h0m-4.4 0.2h0m-8.1 8.2h0m4.9-4.8h0m-0.6 0.2h0m3.7 3.4h0m-10-0.2h0m4.1 0.6h0m-3-0.1h0m0.5 1.3h0m0.8-0.8h0m10-6h0m-4.1 1.8h0m-3.1 2.7h0m5.7 0.1h0m-6.8-2.4h0m2.5 6.1h0m-3.6-5.8h0m8.2-3.5h0m-10 6h0m3.7-4.4h0m9.1-1.8h0m-10.4 7.8h0m8.4-6h0m-10.5 4.5h0" stroke="#f01818" stroke-width="0.8" stroke-linecap="round" opacity="0.42" fill="none"/>
<path d="M228.7 192.9h0m-24.3-4.9h0m15.5 3.6h0m9.4 6.7h0m-20.1-11h0m-6.3 2.6h0m11.7-17.6h0m-6.5 16.5h0m-5-7.3h0m7.6 9.1h0m1.7-9.3h0m8.1 2.7h0m-10.9-6.3h0m-2.5 15.2h0m-7.1-5.4h0m19.9-2.3h0m-4.1-5.6h0m9.1 16.7h0m-9.1-21.5h0m-10.9 20.5h0m23.5-5.1h0m-4-6.8h0m-12.2 4.6h0m5.2-11.5h0m4.4 21.4h0m-17.8-20.1h0m12.8 5.3h0m-23.2 11h0m21.5-9.7h0m16.7 4.6h0m-24.4-0.2h0m-2.4-6.5h0m12.1 1.5h0m-7.1 16.7h0m11.1-6.5h0m-2.8-2.4h0m7.9-3.7h0m3.4-7h0m-18-3.2h0m-0.7 14.2h0m15.2-8.9h0m-12.3 2.3h0m-6.3-6.2h0m6.8-4.1h0m0.4 13.2h0m-6.5-7.8h0m-6.2 21.6h0m0.4-2.3h0m16.5-14.4h0m-14.9 10.5h0m24.5-14.8h0m-17.2 14.9h0m-2.3-3.8h0m-1.4-20.7h0m5.1 15.6h0m17.4-1.5h0m-16.4 7h0m13.6-5h0m-4.7 4.4h0m-11.3-3.3h0m2.7-7.5h0m10.1-3.5h0m-0.3 17.6h0m-10.8-12.9h0m-1.1 9.2h0m8.2-1.3h0m2.1-6.4h0m-6.4-7.6h0m4.5 12.9h0m-10 7.6h0m9.4-29.8h0m-5.6 10.2h0m-4.7 11.5h0m2.3 2h0m7.6 7.1h0m-13.9 2.1h0m0.5-9.7h0m17.7 3.2h0m-17.8-10.6h0m4.1 4.9h0m13.6-9.3h0m-5.7 14.3h0m0.7-1.1h0m8.2 0.2h0m-5.6 0.5h0m7.9-18.4h0m-4.3 12.2h0m-13.3-5.3h0m-13.5 4.4h0m10.1 6.6h0m-6.7 7h0m14.8-12.6h0m-8.3-4h0m-3.6 1.8h0m9.7 2.8h0m-12.1-0.7h0m4.4 3.2h0m23.4 3.5h0m-18.5-16.9h0m-9.3-0.5h0m18.2 7h0m-5.7 1h0m0.3 15.2h0m-6.6-13.1h0m-1.1 9.2h0m-1.8-15.1h0m-3.1-2.1h0m3.3 17.7h0m10.6-15.4h0m-4.5 6.6h0m-3.5 16.2h0m-10.3-11.6h0m19-7.2h0m-1.5 10.9h0m0-3.5h0m4.6-18.3h0m2.4 22.8h0m-20.3-8.5h0m5.1-3.5h0m15.1-1.6h0m-9.3-8.3h0m-0.2 15h0m-4.7-6.1h0m22-3.7h0m-24.9 3h0m11.7 0.7h0m-6.4 13.4h0m-4.1 2.9h0m19.7-10.4h0m-6.5 5.1h0m7.7-13.5h0m-3.2 5.1h0m-16.5 3.6h0m4.7-8.2h0m-11.8 0.3h0m25.9 21.8h0m-6.8-5.8h0m-9.9-9.5h0m6.8-7.5h0m-10.8 8.8h0m5.7-8.7h0m6 6h0m5.4 2h0m-11.3 1h0m1.1-6h0m-1.9 10.6h0m8.9 4h0m-19.9-12.5h0m10.9 4.2h0m-0.3-5.1h0m10.5 5.1h0m-16.6 8.7h0m18.4-14.3h0m-1.4-1.2h0m2.5 3.9h0m-16.4-1.2h0m0.3 4.2h0m8-1.1h0m-6.2-27.8h0m5.5 13.3h0m1.3 22.7h0m0.2-11.4h0m-3.8 1.9h0m-3.2-3.4h0m-3.2 13.3h0m7.8-1.7h0m-2-6.7h0m0.7 3h0m8.4-1.7h0m-12.7-7.6h0m19.8 3.7h0m-16.6 13.1h0m11.7-7h0m-5.9 0.1h0m-4.8-14.7h0m-9.8 13.7h0m14.6-4.9h0m-13.3-9h0m7.2-0.1h0m10.4 19.5h0m-12.6-15.1h0m3.5 13.8h0m6.7-2.9h0m-3.4 0.6h0m10.5-13h0m-16.2-2.4h0m17.7 20.1h0m-7.4-18.7h0m-4.9 7.2h0m-0.8 0.4h0m3.7-1.6h0m2.9 4.8h0m-9.8-2.6h0m-1.2 6.9h0m1.4-3.9h0m-1-13.3h0m11 3.2h0m-1.9 11.1h0m-19.9-10.3h0m9.7 0.9h0m-5.6 11.8h0m8-2.7h0m-1.7-0.6h0m-2.7-2.5h0m11.3 0.5h0m-8.8-8.4h0m5.3 10.7h0m-3.6-8.4h0m-0.4 8.3h0m5.8-21.7h0m-2.1 13.9h0m10.7 3.4h0m-18.4 0.3h0m8-2.6h0m-1.8-6h0m-1.5 16h0m18.6-0.5h0m-14.4 3.6h0m6.4 3.6h0m0.5-13.4h0m-7 2.2h0m0.4 0.2h0m-9.3-17.3h0m1 0.6h0m6.3 15.2h0m-14.8 5.2h0m21.6-4.5h0m6.8 13.3h0m-24.5-6.2h0m14-4.7h0m4.2-8.5h0m-12.9-0.8h0m-1.4 5.5h0m-5.9-7.1h0m17.2 7.3h0m-1.6-13.7h0m-10 10h0m7-0.2h0m7.6 4h0m-7.8 0.5h0m5.9-3.6h0m3.5 7h0m-8.2-3.2h0m3.1 7.3h0m3.6-4.8h0m-0.5-1.9h0m3.1-1.1h0m-28.2 10.2h0m18.5-18.8h0m-2.6 2.2h0m19.6 10.3h0m-31.2 0.4h0m9.9 10.3h0m-5.5-31.3h0m9.5 14.3h0m-4.1-13.5h0m7.1 28.7h0m-19.8-3.8h0m19.9-10.2h0m5.7 5.3h0m-14.4 1.4h0m0.7-18.7h0m21.6 10.8h0m-22.5 5.1h0m-8.1-12.7h0m9.1 6.3h0m4.8 12.3h0m-4.6-4.7h0m9.1-11.8h0m-3.2 1h0m7.1 10.5h0m-8.9-13.4h0m0.9 4.2h0m5 4.9h0m-12.9 7.8h0m13-11.3h0m3.8 2.2h0m-12.5 3.1h0m-3.8-4.2h0m5 14.8h0m14.1-13.4h0m1 1.6h0m-10.5 6.9h0m-1.1-15.6h0m9 5.9h0m-13.7-19.3h0m11.1 28.5h0" stroke="#f04848" stroke-width="0.7" stroke-linecap="round" opacity="0.38" fill="none"/>
<rect x="189.8" y="158.5" width="45.5" height="45.2" rx="1" fill="none" stroke="#606060" stroke-width="0.65"/>
<line x1="212.3" y1="158.5" x2="212.3" y2="203.7" stroke="#4a4a4a" stroke-width="0.65"/>
<line x1="189.8" y1="185.3" x2="235.3" y2="185.3" stroke="#4a4a4a" stroke-width="0.65"/>
<text x="186.80" y="163.70" font-size="3.2" text-anchor="middle" dominant-baseline="central" fill="#333" transform="rotate(-90 186.80 163.70)">10</text>
<line x1="188.8" y1="163.70" x2="189.8" y2="163.70" stroke="#444" stroke-width="0.4"/>
<text x="196.00" y="207.10" font-size="3.2" text-anchor="middle" dominant-baseline="central" fill="#333">10</text>
<line x1="196.00" y1="203.7" x2="196.00" y2="204.7" stroke="#444" stroke-width="0.4"/>
<text x="186.80" y="174.90" font-size="3.2" text-anchor="middle" dominant-baseline="central" fill="#333" transform="rotate(-90 186.80 174.90)">10</text>
<line x1="188.8" y1="174.90" x2="189.8" y2="174.90" stroke="#444" stroke-width="0.4"/>
<text x="207.40" y="207.10" font-size="3.2" text-anchor="middle" dominant-baseline="central" fill="#333">10</text>
<line x1="207.40" y1="203.7" x2="207.40" y2="204.7" stroke="#444" stroke-width="0.4"/>
<text x="186.80" y="186.10" font-size="3.2" text-anchor="middle" dominant-baseline="central" fill="#333" transform="rotate(-90 186.80 186.10)">10</text>
<line x1="188.8" y1="186.10" x2="189.8" y2="186.10" stroke="#444" stroke-width="0.4"/>
<text x="218.80" y="207.10" font-size="3.2" text-anchor="middle" dominant-baseline="central" fill="#333">10</text>
<line x1="218.80" y1="203.7" x2="218.80" y2="204.7" stroke="#444" stroke-width="0.4"/>
<text x="186.80" y="197.30" font-size="3.2" text-anchor="middle" dominant-baseline="central" fill="#333" transform="rotate(-90 186.80 197.30)">10</text>
<line x1="188.8" y1="197.30" x2="189.8" y2="197.30" stroke="#444" stroke-width="0.4"/>
<text x="230.20" y="207.10" font-size="3.2" text-anchor="middle" dominant-baseline="central" fill="#333">10</text>
<line x1="230.20" y1="203.7" x2="230.20" y2="204.7" stroke="#444" stroke-width="0.4"/>
<text x="183.60" y="177.50" font-size="3.0" text-anchor="middle" dominant-baseline="central" fill="#444" transform="rotate(-90 183.60 177.50)" font-weight="normal">PerCP-A</text>
<text x="212.80" y="210.50" font-size="3.0" text-anchor="middle" dominant-baseline="central" fill="#444" font-weight="normal">APC-A</text>
<text x="213.10" y="220.00" font-size="5.6" text-anchor="middle" dominant-baseline="central" fill="#000" style="white-space:pre">UR 9.3%  LR 2.2%</text>
<path d="M266.6 193.6h0m-3.6 0.7h0m1.3-2.6h0m5.6-0.6h0m-4.7-1.5h0m1.3 1.5h0m4-1.9h0m-3.3-1.7h0m5.6 2.8h0m-0.6-3h0m-5.5 5.4h0m4.1-5.4h0m-2.6 4.6h0m0.1-4.4h0m-2.2 6.8h0m0-3.8h0m0.6 1.1h0m-2.6-0.8h0m3.2-0.2h0m3.8-2.4h0m-3.9 1.8h0m-2.1-0.5h0m3.3 1.4h0m-0.3 1.7h0m1.4-6.8h0m-1.9 5.8h0m-5.1 4.6h0m8.6-6.6h0m-2.6-3h0m-7.7 10.3h0m5.6-4h0m-3.4 2.1h0m0.2-3.1h0m10-2.7h0m-9 5.4h0m3.1-3.4h0m4-0.3h0m-4.8 1.8h0m1.3 0h0m-0.7-0.1h0m4.5-4.1h0m-10.5 6.3h0m8-3.4h0m-3.4 2.1h0m7.1-6.1h0m-2.6-0.7h0m-4.3 4.7h0m3 5.1h0m-2.5-3.3h0m3.2-5.6h0m0.6-0.2h0m-0.1-0.3h0m-2.8 1.6h0m3-3.2h0m-3.8 6.1h0m-0.5 2.6h0m3.4-3.6h0m4.8-0.4h0m-10 2.8h0m7.2-4.7h0m0.7-3.1h0m-6.4 7.1h0m4.5-1.7h0m0.8-2.1h0m-2.8-0.3h0m-2.8 2.1h0m-3.6 3.8h0m-0.8-0.5h0m3.8-3.3h0m6.9-2.7h0m-7.2 2.8h0m-0.9 1.8h0m4.2-0.9h0m-3.7-1.8h0m-0.3 5.5h0m4-6.8h0m3.2-3.4h0m-5.1 6.5h0m4.4-4.1h0m-7.3 6.5h0m7.8-2.8h0m-4.3 0.7h0m1.3-4.5h0m2.7 0.1h0m-1.8 3.3h0m-2.3 1.6h0m-0.4-2.4h0m7.2-4.8h0m-3.5 2.6h0m-2.5 0.7h0m3.5-0.4h0m-4 2.1h0m-0.6 1.5h0m4.5-3.2h0m-8.8 5.7h0m4.2 1.1h0m-3.3-2.1h0m-0.5 2.4h0m6-5.7h0m-2.1 2.3h0m3.5-0.1h0m-1-4.3h0m-2.3 5.7h0m-2.8-1.6h0m1.7 2h0m-3.7-0.7h0m5.3-2.3h0m4.6-4.7h0m-7.3 6.6h0m6.6-2.5h0m-4.7 4.1h0m3.9-5.5h0m-5.7 3.4h0m6.5-2.1h0m-8.6 2.7h0m11.4-10h0m-3.1 5.4h0m-4.5 3.7h0m4-2.6h0m0.5-0.9h0m2 4.4h0m-7.8-1.3h0m5.5-3.7h0m1.5-1.8h0m-0.8 4.2h0m-2.7-1.5h0m2.1-2.6h0m-2.5 4.2h0m-3.8 2.2h0m1.2 1h0m0.5-5.5h0m6.6 0.7h0m-8.1 5.5h0m1.1-2.3h0m2.9-2.9h0m-2.7 4.4h0m2.7-3.7h0m-1.6 2.7h0m5.4-1.3h0m-4.9 0.2h0m-2.3 4.1h0m3.9-4.2h0m1.5-3.8h0m5.3-0.3h0m-1.6 0.1h0m-4.8 0.3h0m-0.4 3.1h0m-0.7 3.8h0m-0.2-1.7h0m2.5-2.4h0m-3.4 0.1h0m1.2 0h0m-0.4 1.3h0m0.8-3.1h0m-4.6 1.6h0m7.4 1.1h0m3.4-7.7h0m-10.6 6.5h0m-6.3 3.2h0m7.7 2.7h0m-0.5-3.5h0m0.9-2.2h0m-1.5 0.8h0m5.3 0.3h0m0.9-3.7h0m-4.7 1.6h0m-0.9 4.5h0m7-6.6h0m-2.7 0.9h0m-2.4 1.8h0m-2.5 2.1h0m0.7 0.9h0m-0.2-0.9h0m3.1-4h0m-0.8 5.3h0m-3.9 4h0m3.6-6.3h0m-0.2 0.6h0m-1.9 3.7h0m4.6-7.4h0m-5 6.3h0m5.4-2.5h0m-1.2-2.3h0m-1.6-2.3h0m-2.9 4h0m4.5-2.7h0m-2.9 3.9h0m0.3-3.8h0m0.5 0.1h0m0.9 3.3h0m2.7 1.5h0m-3.1-0.7h0m0.2-1.9h0m-0.9 3.6h0m6.3-5.3h0m-5.2 4h0m-2.2-3h0m7.9 0.3h0m-7.5-1h0m0.9 1.6h0m4-7.5h0m2.1 3.9h0m-4.9 2.9h0m0 1.8h0m5.7-6.6h0m-4.6 1.7h0m0.4 2.1h0m-2.2-1.1h0m4.4 4h0m-2.4-6.1h0m-1.3 6h0m-2.4-1.8h0m-1.1 1.7h0m6.2-4.7h0m-1.5 4.1h0m-2.8 0.7h0m-0.8 0.8h0m-1.5-2h0m9.3-2.8h0m-1.7-1h0m-3.8 2.7h0m3 1.7h0m5.3-5.4h0m-14.4 9.9h0m7.2-4.4h0m-7.3 1.7h0m6-2.6h0m-0.9 1.5h0m-1-0.5h0m1.5-1.8h0m2.6-0.9h0m-2.6-0.2h0m-3.7 5.3h0m9.6-5.1h0m-2.4 0.7h0m-2.3 1.3h0m-1.4-0.7h0m3.1 3.2h0m4.3-7.8h0m-8.7 4.6h0m8.5 0.1h0m-2.9 2.2h0m-4.7-0.6h0m0.8 0.6h0m-2.2 1.4h0m2.6-2.7h0m-2.7 3.6h0m5.1-7.3h0m-3.7 3h0m1.6-2h0m1.1 2.1h0m-3.9 2.3h0m-3.1 2.4h0m-2 3.9h0m5.9-8.1h0m9.7-7.2h0m-6.2 9.6h0m4.4-3.6h0m-4.5 1.1h0m5.8-6h0m-5.6 5.7h0m-3.1-1.4h0m-0.5 4.4h0m1.4-0.4h0m-2.6-0.2h0m5.5-7.4h0m-5.4 8.9h0m2.3-4.3h0m0.7 0.4h0m0.2-1.8h0m-6 7h0m6.1-8.4h0m2.6 2.4h0m-5.2 2.2h0m1.9-1.8h0m5-0.5h0m-2.9 4.9h0m0.3-6h0m-4.7 3.6h0m5.6-6.1h0m-2.8 5.1h0m1.3 0.4h0m-3.8 1.6h0m2.1-3h0m-0.2 2.8h0m0.9-1.8h0m-1-3.3h0m4.3 1.3h0m-3.2 4.4h0m0.3-1.8h0m-3.4 3h0m4.2-5.9h0m-3 0.6h0m1.2 3.4h0m3.7-0.9h0m-2.9-2.4h0m-0.6-0.6h0m-1.1 2.5h0m-2.8 3.6h0m2.2-3.7h0m5.6-4.3h0m-0.4 2.7h0m-1.6 2.8h0m-3 0.7h0m0.7-2h0m-0.4 1.9h0m3.4-3.7h0m-10 6.9h0m7.4-7.4h0m5.4-0.3h0m-5.2 2.3h0m-2.6 7h0m6.1-8.1h0m-5 2.6h0m0-0.9h0m-2.4 3.4h0m4.1-2.1h0m-2.4 0.3h0m3 0.4h0m-2.5-2h0m3.6-3.5h0m1 0.1h0m-6 0.2h0m3.6 3h0m-2.2-1.8h0m-2.8 2.9h0m6.6-6.2h0m-1.2 5.5h0m-4.1 1.7h0m5.7-6.6h0m-0.3 1.3h0m2.7-1.6h0m-7 5.2h0m-0.4-1.5h0m5.7-4h0m-5.5 8.2h0m4.7-3.5h0m0 0.7h0m-4.4-0.7h0m-1.2 0.3h0m4.1-4.9h0m-1.8 4.6h0m0.5-1.2h0m-4.2 3.4h0m7.8-2.7h0m-7 3.7h0m7.9-8.5h0m-5.9 6.2h0m-4.2 0.4h0m3.3-1.1h0m-1.2 2.2h0m0.2-1.4h0m6.3-6.2h0m-2.2 2h0m-2.5 7.2h0m0.1-5.2h0m1.4-0.5h0m-3.3 5h0m1.9-3.2h0m6.6-6.2h0m-1.2 3.5h0m-4.7 1.3h0m3.9 2h0m-1.1-4.6h0m-1.8 2h0m1.9 1.1h0m-8.5 1.9h0m6.8-1.6h0m0-0.4h0m2 0.9h0m-0.9-1.7h0m-1 1.3h0m1.4 0.8h0m-1.3-0.7h0m-1.2-1.6h0m2.1-1.9h0m-2.5 2.8h0m4.6-1.6h0m-6.6 1h0m-1.3 5h0m6.1-2.7h0m-2.3-1.8h0m-6.5 4.2h0m8.5-2.7h0m1.7-3.5h0m-1.3 6.7h0m0.9-6.2h0m-4.2 3.7h0m5.6-3.8h0m-3.7 3h0m-2.2 3.1h0m1.2-2.6h0m3.8-4h0m-4 2.7h0m-0.1-0.9h0m-0.8 7.3h0m3.5-6.8h0m0.5 1.5h0m-3.2 0h0m1.9-1.4h0m2.8-1.1h0m-1 0.5h0m-1.7 2.6h0m0.3-0.4h0m2.1-2.6h0m-2.4 1h0m0 1.7h0m5.2-5.6h0m-0.6 2.4h0m-1-4h0m2 4.1h0m-2.7-1.1h0m-4.2-0.8h0m2.1 3.7h0m-0.1 0.7h0m-0.5-1.6h0m0.4 0.4h0m-6.4 5.2h0m3.7-5.2h0m4.9 0.6h0m-1.5-4h0m-2.3 3h0m-7.9 2.2h0m7.8 0.4h0m2.7-5.2h0m-1.9 6.5h0m0.3-7.3h0m-1.9 8.4h0m-0.4-7.9h0m-2.8 6.8h0m1.1-0.6h0m3.7-4h0m-3.1 6.8h0m7.5-11.4h0m-10.3 9.7h0m9.2-6.7h0m-3.7 2.7h0m0.9-1.1h0m0.6 0.9h0m0.3-1.6h0m-0.1 3.6h0m-3-0.7h0m0.1 1.1h0m-1.4 1.4h0m-1.1 2.7h0m3.2-6.5h0m-1.6 3.3h0m0.6-4.9h0m6.9-1.5h0m-6.8 6.5h0m6-4.4h0m-2.8 0.9h0m-4 0.6h0m1.5-4h0m1.2-0.4h0m-1.8 5.6h0m-1 1.5h0m4.3-3.6h0m-0.4 0.9h0m-3.7-0.5h0m2 0.7h0m1.8 0.4h0m-7 2.9h0m3.7-7.2h0m1.3 2.9h0m6.5-3.7h0m-8.8 5h0m2.4-2.5h0m-3.7 1.9h0m6.7 2.1h0m-2.6-1.2h0m-1.2-2.6h0m1.4 2.4h0m2.7-2.4h0m-5.6 6.2h0m5.7-9.2h0m2.3 2.6h0m-6.6 4.6h0m2.1-5.9h0m-1.3 3.9h0m2.7-2.1h0m-4.1 3.6h0m2.2-7h0m0.3 4.8h0m-0.7-0.8h0m2.5 0.6h0m-2.5 0.6h0m1.8-3h0m-3.6 2.1h0m4.7-2.4h0m-6.3 6.3h0m-1.1 0.2h0m3.6-5.7h0m3.8 3.1h0m-3.3 1.1h0m-1.8-0.1h0m2.7-1.9h0m-2.1 2.4h0m0.1-0.8h0m3.1-3.4h0m1.9 1.3h0m1.9-4.3h0m-12.7 10.1h0m10.2-7.6h0m-6.9 5.3h0m2.1-1.2h0m6.1 1.8h0m-5.2-3.8h0m2.5-0.1h0m-2.1 2.6h0m-1.6-3.6h0m0.1 2.4h0m1-3.4h0m1.7 0.3h0m-2.3 0.3h0m1.4 2.3h0m2.5-3.7h0m0.9 2.6h0m3.4-5.5h0m-2.6 1.9h0m-7.2 5.5h0m1.8-1.9h0m-3.2 6.5h0m-0.1-4.9h0m8.8-1.9h0m-4 0.3h0m-2.5-0.1h0m0.1 2.7h0m0.1-1.6h0m-0.1 0h0m0.7 3.5h0m-0.5-0.9h0m-2.7-4.9h0m2 3.7h0m2.1-1.8h0m3.9-3.7h0m-3.7 7.3h0m1.1-6h0m-5.8 4.8h0m-0.7 2.6h0m9.3-5.5h0m-9.8 2.7h0m1.6 1.2h0m0.1-0.3h0m9.5-5.9h0m-5.3 7.9h0m-3.7 0h0m4.2-6.1h0m-0.2-0.6h0m-1.9-2.2h0m1.4 4.4h0m-5.8 6.5h0m8.3-7.3h0m0.8-3.2h0m4 1.2h0m-9.7 2.2h0m4.1 1.3h0m-2.1 0.5h0m2.7-4.4h0m-1 4.2h0m0.4-4.8h0m-5.4 4.8h0m1.5 1.4h0m2.2 1.5h0m-0.5-1.7h0m2.9-5.6h0m-2 6.5h0m-1.2 2.7h0m0.7-5.2h0m-2.1 1.3h0m1.8-3.8h0m-3 2.4h0m1-1.6h0m-1.2 1.9h0m0.1-1.4h0m6.6 0.7h0m-0.2-2.3h0m-3.5-2.3h0m0.8 5.4h0m4.1-3.1h0m-2.6-1.3h0m-1.9 2.2h0m-7.3 4.1h0m7.1-0.2h0m4.6-9.8h0m-5.7 7.5h0m2.2 1.7h0m-0.3-4.7h0m8-3.7h0m-4.9 4.3h0m-5.1 0.4h0m-1.5 6.7h0m0-5h0m4.2-2.1h0m-0.6-0.7h0m-0.9 3.7h0m-0.6-1.1h0m-1.9 3h0m10.4-10.3h0m-5.7 8.2h0m-0.7-2.1h0m2 0.4h0m-1.9-1.2h0m2 0.8h0m-3-2.4h0m-2.2 3.9h0m2 0.8h0m-1.7 2.8h0m3.7-5.6h0m4 0.7h0m-5.2 3.7h0m-1.6-6.3h0m-2.8 7h0m3.8-3.2h0m-0.9 1.8h0m6.9-4.4h0m-4.7 0.4h0m-4.8 7h0m2.8-8.4h0m1.2 4.3h0m-1.3-2.9h0m2-1.7h0m-0.6 5.1h0m-3.9-0.2h0m3.6-0.1h0m1.3-2.7h0m-7 6.5h0m2.8-3.6h0m1-3.7h0m3.3 3.7h0m-5.9 4.9h0m2.7-4.8h0m3.4-3.2h0m-4.1 2h0m-1.1 0.4h0m7.5-6.2h0m-0.7-0.2h0m-6.5 7.9h0m4-0.3h0m-4.7 0.2h0m0.7 1.4h0m3.8-3h0m2.7-4.9h0m-2.2 4.9h0m0-1.6h0m-2.1 5.1h0m0.4-0.7h0m1.6-4.7h0m-2.1 1.6h0m4.5 0.7h0m-3.7-2.7h0m1.1 5.2h0m0.5-1.7h0m-0.5-3.5h0m1.1-0.1h0m-8.1 4.5h0m0.7-0.3h0m7.2-1.8h0m-3 1.2h0m6.5-5.1h0m0.6 4.3h0m-4.8-1.2h0m1.8-3.1h0m2 1.6h0m-3.3 1.8h0m0-2.3h0m-6 3.9h0m10.1-5.3h0m-2.7 0.4h0m-6.2 4.2h0m0.3 0.1h0m0.4 4.1h0m3.8-6.6h0m1.5-0.2h0m-7.3 2.3h0m0.8-0.3h0" stroke="#ee0000" stroke-width="0.8" stroke-linecap="round" opacity="0.5" fill="none"/>
<path d="M279.6 179.5h0m-9.9 5.7h0m6.4-3h0m-3.5-1.2h0m5.5 5.3h0m0.5-3.7h0m-4.1-0.1h0m3.1 1.9h0m-0.9-0.7h0m1.9-0.6h0m-0.9 2.1h0m-3.1-1.8h0m11.7-1.8h0m-12.1 0.8h0m9.7-3.1h0m-10.4 3.1h0m5.5 0.5h0m-6.1 1.3h0m4.5-2.1h0m-5.5 4.1h0m5.1-5.4h0m3.3 2.3h0m-0.1 0.5h0m-4.1 0.2h0m-1 0.6h0m5.1-2.7h0m-11.8 1.9h0m11 0.5h0m-1.9-2.5h0m4.7 0.9h0m-8 3.6h0m3.3-1.5h0m3.5-2.4h0m-1.3 0.4h0m-4.7 2.7h0m6.3-1.4h0m-2.8-2.9h0m-1.2-0.3h0m0.1 2.7h0m0.8 0.2h0m0.2-0.9h0m4-1.1h0m-2.3-0.1h0m-2.4 1.7h0m4.8-4.2h0m-4 4.4h0m-2.2 1.3h0m-3.5 0.3h0m4.1-3.5h0m3.5-0.1h0m-4 2.2h0m0.8-0.8h0m-2.1 1.1h0m1.2-0.1h0m2.5-2.9h0m-3.1 3.2h0m2.2-1.9h0m-9.1 2h0m9.3-1h0m3.3-1.2h0m-10.2 4.2h0m4-1.7h0m2 0h0m0.4-2.3h0m-0.3 2.2h0m-1-0.1h0m8.7-1.6h0m-15.6 4.6h0m8.6-5.9h0m-2.2 0.4h0m-5.1 1.9h0m4.2-0.2h0m0.5 3.6h0m-0.1-3.4h0m-0.7 3.1h0m4-4.8h0m-1.6 2.9h0m-3.9 5.9h0m-0.6-7.5h0m-1.5 8.8h0m0-2.7h0m3.5-2.5h0m-3.9 1.6h0m-0.5 0.4h0m2.8-2h0m0.2-4.6h0m-2 5.4h0m-2.1 0.3h0m2 1.4h0m-1.7 0.8h0m6.1-5.6h0m-8.7 6.2h0m6.7-2.5h0m-8-2.4h0m2.6-0.8h0m10.1 0h0m-7.5 3.4h0m3.7-2.6h0m-1.6 1.6h0m-8.7 1.7h0m6.7 0.4h0m4.8-6.6h0m-5.5 7.2h0m3.7-6.9h0m-8.3 3h0m6.4-5.7h0m-0.6 9.9h0m-2.7-1.9h0m5.4-3.8h0m2.9-3.5h0m-11.2 6.1h0m3.4 2.1h0m0.6-4.9h0m1.8 1.9h0m-3 4.7h0m3.1-7.4h0m1.8 1.6h0m-0.5 0.2h0m0.7 2h0m-1.5 2.3h0m-2.7-3.4h0m-0.1 1.9h0m3-0.9h0m4.6-1.6h0m-7.2 1.7h0m7.1-4h0m-7.2 6.2h0m-2.3-0.9h0m-1.1 0h0m3.1 0.3h0m4.6-6.1h0m-0.1-1.1h0m4.3 0.5h0m-5.7 2.8h0m-4.3 1.6h0m4.7-2.2h0m4.7-0.7h0m-9.1 7.3h0m7.6-6h0m-6.7 5h0m4.8-4.7h0m-2.5 1.9h0m7-2.2h0m-3.3-4h0m-7.2 8.5h0m6.6-3.9h0m-5.1 4.2h0m1.4-3.3h0m0.8 6.1h0m0.6-4.7h0m-2.7 0.3h0m-1.8 2.3h0m3.3-4h0m4.7-2.5h0m-4.7 6.4h0m2.2-9.3h0m-4.2 3.8h0m1.7 4.4h0m4.9-5.9h0m-5.1 0.3h0m-1.6 1.4h0m5.1-0.5h0m4.4 1.5h0m-10 2.9h0m-0.1-0.5h0m3.3-0.5h0" stroke="#f01818" stroke-width="0.8" stroke-linecap="round" opacity="0.42" fill="none"/>
<path d="M282.8 197h0m-5.6-6.4h0m-3.4 0.1h0m-8.9 0.4h0m11.2-9.4h0m16.5-0.9h0m-25.7 9.4h0m-9-8h0m3.5-1.3h0m11.8 9.6h0m10.5 3.6h0m0.6-1.6h0m-14 3.9h0m-0.1-12.9h0m17.1 10.5h0m-11.1-0.3h0m5.5-15.8h0m-8.2 1.4h0m1.8 3.8h0m10.5 8.9h0m-18.4-4.1h0m-3.4 0.5h0m14.9 1.7h0m-21-4.5h0m20.7 4.8h0m5.5-12h0m-5.4 4.8h0m-2.8 7.9h0m4.2-7.4h0m-4.3-4.4h0m-13.5 12.9h0m11.5-16.3h0m-6.8 12.3h0m20.5 7.7h0m-6.5-21.2h0m-7.6 16.9h0m4.2-0.4h0m-5.3 10h0m14.5-13.8h0m-17.2 9.6h0m20.9-16h0m-13.8 4.5h0m1.9 5h0m12.2 2h0m-16.6 4h0m-2.3-11.2h0m21.4-3.4h0m-23.2 6.5h0m-4.8-16.2h0m17.9 10h0m-13.5 3.1h0m-3.8-5.3h0m14.6 13.7h0m-19-5.8h0m2.7 5.9h0m8.1-5.5h0m1.2-4.6h0m-12.2 8.7h0m1.2-13.2h0m9.2 3.6h0m4.8 12.8h0m-0.1-6.1h0m-2 5h0m-15.8-3.7h0m7.7-12h0m8 6.4h0m4.9 11.1h0m-24.7-8.8h0m36.4 7.1h0m-4.4-5.8h0m-24.5-9.2h0m18.3 15.6h0m-12.3-9.2h0m8.5-11.1h0m-5.2 25.3h0m21.5-13h0m-3-3.1h0m-22.4-12.8h0m15 14h0m11.7 5.2h0m-18.2-16h0m11.1 10.8h0m-14.1-13.8h0m9.2 24h0m-13-6.7h0m8.5 6.5h0m-2.4 5.7h0m-3-17.5h0m-1.9-14.5h0m-2.9 26.6h0m9.1-13.7h0m0.8-9h0m-5.4 19.1h0m8.3-9.7h0m1.8 19.8h0m-11.3-8.4h0m-9.6-20.3h0m18.4 15h0m-3.5-4.7h0m-4.2 10.5h0m17.1-7.7h0m-28.6 11.2h0m19.1-4.5h0m-4.4-1.2h0m-16.4-8.2h0m9.9 4.1h0m8.8-5.4h0m11.7-2.4h0m-18.5 9.8h0m-6.8 2.5h0m16-6.5h0m10.9 2.8h0m-13.9-7.8h0m-16.6 2.5h0m11.5 1.3h0m9.3-14.5h0m-16.2 4.2h0m21 9.5h0m-15.8-4.1h0m12.1 5.2h0m-5.8-12.2h0m8.1 18.3h0m-5.3 6.3h0m-6.3-10.5h0m7.7 4.4h0m-8.2-2.8h0m-2.2 5h0m12.3-5.3h0m8-11.6h0m-18 24.4h0m-1.6-24.9h0m15.5 16.1h0m-22 1.8h0m1.4-15.9h0m7.4 6.4h0m-8 0.9h0m0.8 3.2h0m8.3 5.1h0m-3.6-15.6h0m-7.4 8.2h0m24.3 8.2h0m-18.5 0.7h0m-4.4 0.6h0m6.6-1.9h0m8.6-7.8h0m-2.6-6h0m-3.4 16.2h0m1.4-15.8h0m8.3-4.8h0m-15.9 15.1h0m-3.4 8.9h0m19.6-15.8h0m-14.1-5.7h0m-7.2 13.3h0m17.3-0.7h0m-3.1-6.9h0m0.8-6.8h0m-3 22.1h0m11.2-14.5h0m-14.1 13.8h0m18.1-21.6h0m-18.9 13h0m14.1-8.1h0m-5 4.1h0m14.8 5.5h0m-21.4-5.8h0m10.2 7.7h0m-18.3-3.5h0m-2.2-7.3h0m0.4-4.3h0m5.2 2.6h0m10.4 13.4h0m-6.6-14.5h0m8.9-6.8h0m-23.3 20.7h0m22.1 1.9h0m-7.5-16.8h0m-2.5 13.7h0m-2.2-9.5h0m-5.3-3.5h0m19.1 12.2h0m-17.1-11.6h0m5.1 12.3h0m-5.2-5.4h0m-8.3-8.2h0m21.9 16.2h0m-13.5-12.6h0m16.7 2.9h0m-11.5 6.9h0m6.3 4.4h0m5.2-12.7h0m-7.8 3.9h0m-10.6-6.9h0m19.9-4.6h0m0.2 14.1h0m-9.7 1.9h0m5.2 5.1h0m-7.4-10.8h0m1.3 15.9h0m10.2-21.2h0m-11 1.7h0m3 6.9h0m19.5-15.3h0m-10.8 17h0m-14.8-4.4h0m1.8 1.5h0m12.8-11.8h0m2.6 8.6h0m1.6 5.9h0m-2.3 1.2h0m-1.2-3.9h0m-16.4 4.7h0m-9.9-6.6h0m26.1-7.9h0m3 2.8h0m0.1 15.6h0m-5.5-6.1h0m-4.6-9.4h0m-6.4 12.1h0m5.6 8.4h0m-4.1-32h0m0 20.2h0m6.2-1.6h0m-10.3 10.7h0m1.4-5.9h0m3.2-14.3h0m14.4-9.9h0m-19.2 22.1h0m4.2 2.4h0m2.2-9h0m19.2 1.8h0m-19.7-6.5h0m-5 13h0m11.2-4.9h0m-10.8 5.2h0m-8.5-7.7h0m12.3-3.8h0m3.5 1.3h0m-8.1 18.6h0m13.1-4.5h0m-5.8-1.8h0m6.2 1.9h0m13.5-10.8h0m-17.9 1.3h0m-2.1 5.2h0m-5 3.8h0m15.8-11.7h0m1.2 16.3h0m-8.1-20.5h0m8.5 6.1h0m-15.7 2.2h0m-1.3 7.1h0m11.1 1.1h0m-1.6-15.1h0m-6.3 12.6h0m-0.7-11h0m11.8 10h0m-10-7.3h0m3.9 8h0m2.8-8.6h0m-2.8 8.6h0m2.9-29.4h0m-14.1 17.3h0m5.6 7.1h0m9.8 3.3h0m-8.9-4.4h0m16-4.8h0m-12.4 16.3h0m0.4-27h0m0.2 12.4h0m-4.1 10.8h0m4.9-9.9h0m3.6 5.3h0m-6.7-1h0m1.3-4.8h0m-6.1 2.7h0m-4.2-9.6h0m19.2 7.6h0m-11.3 0.8h0m0.4 1.2h0m0.4-6.2h0m7.4 0.8h0m0.8-9.2h0m-17.8 21.8h0m7.8-12.4h0m4.4-2.8h0m-2.5-8.8h0m-4.5 11.7h0m8.4 11.5h0m-11.8 5.5h0m2.2-27.5h0m-15.2 26.9h0" stroke="#f04848" stroke-width="0.7" stroke-linecap="round" opacity="0.38" fill="none"/>
<rect x="251.25" y="158.5" width="45.5" height="45.2" rx="1" fill="none" stroke="#606060" stroke-width="0.65"/>
<line x1="273.75" y1="158.5" x2="273.75" y2="203.7" stroke="#4a4a4a" stroke-width="0.65"/>
<line x1="251.25" y1="185.3" x2="296.75" y2="185.3" stroke="#4a4a4a" stroke-width="0.65"/>
<text x="248.25" y="163.70" font-size="3.2" text-anchor="middle" dominant-baseline="central" fill="#333" transform="rotate(-90 248.25 163.70)">10</text>
<line x1="250.25" y1="163.70" x2="251.25" y2="163.70" stroke="#444" stroke-width="0.4"/>
<text x="257.45" y="207.10" font-size="3.2" text-anchor="middle" dominant-baseline="central" fill="#333">10</text>
<line x1="257.45" y1="203.7" x2="257.45" y2="204.7" stroke="#444" stroke-width="0.4"/>
<text x="248.25" y="174.90" font-size="3.2" text-anchor="middle" dominant-baseline="central" fill="#333" transform="rotate(-90 248.25 174.90)">10</text>
<line x1="250.25" y1="174.90" x2="251.25" y2="174.90" stroke="#444" stroke-width="0.4"/>
<text x="268.85" y="207.10" font-size="3.2" text-anchor="middle" dominant-baseline="central" fill="#333">10</text>
<line x1="268.85" y1="203.7" x2="268.85" y2="204.7" stroke="#444" stroke-width="0.4"/>
<text x="248.25" y="186.10" font-size="3.2" text-anchor="middle" dominant-baseline="central" fill="#333" transform="rotate(-90 248.25 186.10)">10</text>
<line x1="250.25" y1="186.10" x2="251.25" y2="186.10" stroke="#444" stroke-width="0.4"/>
<text x="280.25" y="207.10" font-size="3.2" text-anchor="middle" dominant-baseline="central" fill="#333">10</text>
<line x1="280.25" y1="203.7" x2="280.25" y2="204.7" stroke="#444" stroke-width="0.4"/>
<text x="248.25" y="197.30" font-size="3.2" text-anchor="middle" dominant-baseline="central" fill="#333" transform="rotate(-90 248.25 197.30)">10</text>
<line x1="250.25" y1="197.30" x2="251.25" y2="197.30" stroke="#444" stroke-width="0.4"/>
<text x="291.65" y="207.10" font-size="3.2" text-anchor="middle" dominant-baseline="central" fill="#333">10</text>
<line x1="291.65" y1="203.7" x2="291.65" y2="204.7" stroke="#444" stroke-width="0.4"/>
<text x="245.05" y="177.50" font-size="3.0" text-anchor="middle" dominant-baseline="central" fill="#444" transform="rotate(-90 245.05 177.50)" font-weight="normal">PerCP-A</text>
<text x="274.25" y="210.50" font-size="3.0" text-anchor="middle" dominant-baseline="central" fill="#444" font-weight="normal">APC-A</text>
<text x="274.55" y="220.00" font-size="5.6" text-anchor="middle" dominant-baseline="central" fill="#000" style="white-space:pre">UR 8.5%  LR 2.5%</text>
<path d="M328.6 188.9h0m1.4-2.1h0m-4.8 6.2h0m-1.3 0.8h0m12.7-8.1h0m-6.7 3.1h0m-5.5 4.4h0m1.4-0.5h0m6-3.8h0m0.3 1.3h0m-5.6 2.1h0m1.5-0.2h0m2.8-1.6h0m-0.4-0.2h0m1.5-2.3h0m-4.8 1.9h0m2.6-1.6h0m-3.4 2.4h0m3.2 2.3h0m-3.1-4.3h0m3.5 3h0m1.2-0.9h0m-3.3 1.2h0m1.5-3.2h0m0.6 0.7h0m-1.8 2.3h0m1.9-2.4h0m-3.8-0.6h0m4.2-1.6h0m-1 2h0m-0.5-0.9h0m-1.4 3.7h0m6.2-5.7h0m0.4 3.4h0m-4.2-1.2h0m-1.3 1.5h0m2.3 2h0m-1.6-0.3h0m-4.4-0.3h0m0.2 3.4h0m0.4-3.7h0m1.7 1.4h0m5.8-0.7h0m-5.8-0.7h0m2.3 0.6h0m-3 1.7h0m0.7 1.4h0m4.8-8.2h0m-0.2 1.4h0m-6.1 6.2h0m6-6.9h0m-6.1 4.4h0m4.1-1.4h0m5.3-3.4h0m-6.3 4.7h0m2.3-4.8h0m0 2.2h0m-2 1.4h0m-3.5 5.5h0m4.9-8.3h0m-6.5 6h0m3 1.7h0m3.4-6.8h0m-2.4 0.6h0m3.5-1.8h0m-5.2 4.1h0m2.9-2.4h0m5.4-0.1h0m0.4-5.1h0m-8.9 5.7h0m2.7 3.6h0m3-4.7h0m1-0.2h0m-3.6 2.4h0m-3.3 3.2h0m0.2 0.2h0m6.7-6.3h0m-6.6 1.6h0m-0.7 3.9h0m1.7-3.5h0m2.1 0.9h0m0.9-1.2h0m6.4-2.4h0m-6.7-2.4h0m1.1 2.2h0m-4.3 3.3h0m0.6-0.6h0m-3.7 6.3h0m-1-2.6h0m3.7-2.9h0m2 2h0m4.1-7.4h0m-1.6 0.5h0m-0.6 1.7h0m3.1-0.2h0m-7.1 2.7h0m4.5-0.8h0m-1.6-0.2h0m-1.3 4.4h0m-0.7-1.7h0m-1.6 5.6h0m4.7-7.9h0m-5.2 2.7h0m3.1-0.7h0m2.8-2.9h0m2.1-2.4h0m4.2 2.8h0m-10.9 6.6h0m3.1-3.1h0m-2.7 2.3h0m-1.1-3.4h0m1.8-0.6h0m3.9-4.5h0m-2.2 6.6h0m5.8-3.2h0m-10.2 3.7h0m5.7-4h0m-4.4 2.9h0m6.7-3.9h0m2.4-2.4h0m-8.8 7.6h0m1.2-0.7h0m-0.2-0.5h0m4-4.1h0m-0.5 3.7h0m-5.7 2.8h0m5.4-7h0m0.7 4.1h0m-3-0.7h0m4.1-1.3h0m-4 1.2h0m2.4 1.9h0m0.8-0.6h0m-5.7 1h0m0.8-1h0m4.6-4.2h0m1.1 0.9h0m-2.5 2.2h0m-6.3-3h0m2.9 0.5h0m1.4 0.9h0m2.6 2.8h0m3.8-5.7h0m-6.8 1h0m0 4.2h0m2.4-3.6h0m-10 9h0m13.4-12.3h0m-3.4 4.1h0m-1.5-0.3h0m-1.1 2.2h0m4.9-4.8h0m-0.9 4.4h0m-3.7 0.5h0m1.9-0.4h0m-6.6 3.6h0m5.9-1.9h0m3.4-3.9h0m-3.9 1.7h0m0.5 2.9h0m-2.9-0.4h0m5.4 1.2h0m1.3-5.7h0m-5.6 4.4h0m0.7-0.5h0m0.9 1.7h0m1.5-3.6h0m-1.1-0.5h0m-0.9-0.8h0m1 5.5h0m-3.2 1.6h0m7.7-5.8h0m-2.4-1.5h0m-8.2 4.5h0m4.2-0.5h0m1.6-3.8h0m-1.2 1.9h0m0.1 3.6h0m4.9-7.8h0m-3.7 1.5h0m3.6-0.1h0m-4.4-0.3h0m3.3 2.1h0m0.3-3.4h0m-5.4 9.4h0m6.1-10.9h0m-5.4 4.8h0m2.5-0.5h0m-4.5-0.8h0m9.1-4.7h0m-7.8 8.8h0m8.3-5.4h0m-7.5 4.6h0m3.6-1.5h0m-4.6 3.2h0m1.7-1.8h0m1.6-3.3h0m-1.1 2.3h0m2.7 0.5h0m-2.1 1.6h0m5.4-5.2h0m-4.2 0.5h0m2.9 2h0m-6.8 1.4h0m6.3-3.6h0m-0.1 3.7h0m-1-6.9h0m-1.4 5.2h0m-0.3 1.9h0m-6.6 3h0m5.8-7.9h0m0.6 5.3h0m1.8-0.7h0m-0.4 1.1h0m-3.7-2.7h0m2.2-2.9h0m5.1-0.1h0m-5.5 8.2h0m0.2-5h0m4.3-0.8h0m-5.9 1.3h0m0.4 2.2h0m7.3-5.6h0m-6.8 3.1h0m3.9 1.5h0m-5.4 4.6h0m4.8-9.4h0m-6.3 4h0m3.9-4.5h0m-4.1 9.7h0m3-4.4h0m1.7-2.8h0m-3.2 2h0m-1.5 1.7h0m7.8-2.5h0m-2.8 0.7h0m-2.3-4.3h0m-1.7 3.4h0m-1.7 0.9h0m10.3-4.3h0m-6.7 5h0m5.5-2.7h0m-0.8-2.4h0m-1.8 1.7h0m-4.9 3.4h0m2.3 1.1h0m4.3-7.7h0m-3.1 3.8h0m-3.3-0.1h0m1.7 4.4h0m0.2-4.8h0m0.4 1.5h0m-1.1 1.9h0m-0.8-0.1h0m-4-0.8h0m9.9-2h0m1.6-0.8h0m-1.5-0.2h0m-1.4 0h0m-2.7 3h0m4 1.7h0m-4.5-3.3h0m-0.6 4.5h0m0.2 2h0m5.3-6h0m-7 3.4h0m-0.7-6h0m7.4 4.4h0m0.9-5.8h0m-4.6 6.2h0m-6.3 0h0m7.3-0.2h0m2.8-4.3h0m-7.5 9.2h0m-0.4-8.3h0m5.1 2.4h0m0-1h0m-9.7 7.6h0m11.9-8.7h0m-2.5 0.8h0m0.6 1.9h0m-3.1-1.8h0m2.9 1.3h0m1.6 0.1h0m-5.7 0.1h0m4.4 2.8h0m-5.6 0.2h0m1.2-2.3h0m7.9-3.8h0m-4.8 3.8h0m0.5-0.8h0m1.5-1h0m-4.3 2.4h0m-1.8-2.3h0m8 0.6h0m-8.5 4.3h0m3.6-6.3h0m0.9 3.8h0m5-4.6h0m-5.7 4.4h0m4.6-3.6h0m2.1 0.4h0m-7.4 0.3h0m-0.9 5.8h0m6.7-3.2h0m-1.1-3.3h0m-8.9 1.6h0m2.9 2.5h0m1.8-3.7h0m-1 0.8h0m4.3-2.1h0m2.9 2.1h0m-2.2-3.3h0m-2 3.3h0m-2.2 3.6h0m1.7-4.1h0m0.4 2.4h0m-3.3-0.3h0m10.6-2.8h0m-10.5 4.4h0m0.9-2.4h0m3.9-2.8h0m-2.5 1.4h0m3.8-2.5h0m-5.8 4.5h0m-0.2-3.4h0m2.7 2.1h0m1.2-4.5h0m-3.6 5h0m0.2 0.7h0m-0.3 0.4h0m6.2-4.6h0m-2.5 3.7h0m-0.8-1.7h0m-1.9 5.1h0m0.1-0.4h0m0.6-1h0m-1.6 0.4h0m2-2.2h0m-6.7 5.2h0m7-6.5h0m0.1 1.2h0m0.6-5.4h0m-3.6 3.8h0m2 2.2h0m-0.8 4h0m-0.2-4.7h0m4-3.8h0m-4.7 1.1h0m2.1 2.8h0m-2 0.8h0m1.1-1.7h0m0.5-2.7h0m1.9 5.7h0m-1.4-1.4h0m4.4-1.3h0m-1.3-0.3h0m-4.3-0.3h0m-1.6 3.4h0m2.9-1.4h0m-0.3-1.5h0m-1.4 1h0m0.8-1.2h0m4.3-3.6h0m-2 3.2h0m-6.5 1.6h0m2.4-3.1h0m5.1-0.5h0m1.9-4.5h0m-4.6 8.1h0m-0.2-1.8h0m-5.7 6h0m10.4-4.5h0m-6.3 0.7h0m-1.1 2h0m1.7-1.1h0m5.4-2.9h0m-5.4 0.1h0m4.7 0.5h0m-2.1-0.3h0m-2.8 2.5h0m6.7-4.4h0m-6.7 6h0m-2.4 0.9h0m3.6-0.3h0m3.2-2.3h0m-6.7 3.4h0m-0.2 0.3h0m7.9-5.8h0m-4.2 1.8h0m1.5 0.8h0m-3.3-1.7h0m1.7 1.7h0m2.2-4.3h0m-1.2 0.5h0m-0.3 3.8h0m-4.1 3.8h0m2.4-2h0m-2.5-1.3h0m2.5-0.6h0m1.5-2.9h0m1.2-0.6h0m2.9-0.6h0m-3.8 2.2h0m-0.4 1.6h0m1.7-3.2h0m0.6-5.1h0m5 4.2h0m-1.5-1.2h0m-10.2 6.4h0m2 3.4h0m2.5-0.9h0m-2.4-4.8h0m0.6 0.1h0m4.2-5.3h0m-9.4 9.3h0m6.4-5.5h0m0 0.9h0m0.5-2.5h0m3.3-1.7h0m-1.7 7.6h0m-2.4 1.5h0m-0.5-3.8h0m5.2-4.1h0m2-2.3h0m-9.9 9.5h0m0.6-2h0m6.9-5.9h0m-0.9 4.5h0m-8.8 2.8h0m7.2-4.5h0m-1.2-1.5h0m0.5 3.2h0m-2.5-1.4h0m0.8-1.9h0m-2.1 3.3h0m3.9-1.9h0m0.2-1.5h0m6.4 0.9h0m-7.3 2.7h0m-5.5 3.8h0m4.4-3.4h0m-1.2 2.1h0m1.6-3h0m1.6 1.8h0m5.2-7.1h0m-4.8 3.6h0m5.5-2.3h0m-4.2 1.4h0m-2.5-1.1h0m-0.4-0.1h0m3 0.8h0m-2.2 2.7h0m2.6 2.4h0m-5.2-3.1h0m3.5-1.7h0m-1.1 1.1h0m4.3 1.4h0m-4.6-0.5h0m0.9-0.5h0m-3.8 4.6h0m-3.2-5.3h0m6.8 3.7h0m-5.8 2.4h0m11-7.7h0m-5.7-0.6h0m3.1 3.7h0m-5.4 3.7h0m8.2-2.8h0m-2.5-3.7h0m2.3 1.3h0m-5.8 3.7h0m0-2h0m-2.2-2.2h0m0.7 5.5h0m2.9-4.4h0m-0.2 3.7h0m-2-1.7h0m0.9-4.2h0m2 1.9h0m-1 0.8h0m-2.4 2.7h0m1.6-0.7h0m-0.5-1.2h0m-2.7-1.5h0m-1.7 2.3h0m2.6 0.8h0m-0.7 0.7h0m6.8-3.4h0m-4.2 1.4h0m1.3 0.9h0m-2.9 0.7h0m5.9-6.3h0m-2.2 6.7h0m-2.9-1.9h0m-2.3 1.9h0m3.8-2.5h0m4.9-2.3h0m-6.7 2.8h0m4.9-2.9h0m-8 4.7h0m8-4.3h0m-1.3-4.7h0m-1.6 4.7h0m-0.3 0.5h0m-1.4 1.9h0m2.4-2.5h0m-1.9 4.7h0m-1.1 0.3h0m9.9-11.9h0m-7 8.5h0m5-1.4h0m-7.6 1.7h0m0.7 0h0m3.5-1h0m-3-1.8h0m2 1.3h0m2.7 0.8h0m0.5 0.6h0m-8.4 1h0m4.4 1.1h0m-1.7-3.9h0m2.6 4.9h0m3-5.6h0m-5 2.6h0m0.9-1.2h0m-3 4.5h0m6.8-3.4h0m-0.2-1.9h0m-3.5 4.1h0m-0.7 0.3h0m1-1h0m0.2 2.4h0m1.9-3.7h0m-4.3 1.4h0m3.1-2.1h0m0.6-4.4h0m-6.3 4.7h0m-0.6 3.4h0m3.7-2.3h0m-0.9 0h0m2.4-1.6h0m-2.6 4.9h0m-1.5-0.5h0m1.9-6.1h0m0.4 5.3h0m2.9-2.5h0m-5.5 3h0m0.8-0.3h0m7-7.4h0m-2.6 4.3h0m0.2-2.3h0m0.7 0.3h0m-1.8 3.7h0m-2.9 0.6h0m1.5-1.3h0m1.9 1.6h0m5.4-8.3h0m-6.4 8.2h0m3.1-4.3h0m-6.3 3.5h0m7.8-6.3h0m-0.9 3h0m0.3 2.3h0m-5.6-1.2h0m1.5-1.8h0m0.3 5.4h0m1.1-2.1h0m1.3-2.5h0m-10.9 5.2h0m5.8 1h0m5.9-10.6h0m0 5.2h0m-2.7-0.2h0m-2.9 3h0m0.9-1.7h0m-3 1.4h0m-1.1 1.9h0m8-4.4h0m-6.3-0.6h0m1.3 0.3h0m5.2 0.4h0m-0.3-0.6h0m0.3 3.1h0m-4.1-3.4h0m3.1-2h0m-2.5 4h0m-2.2 2.2h0m2.6-1.7h0m0.7-0.7h0m-2.1 2.8h0m1-6.4h0m3 2.1h0m3.8-4.9h0m-8.3 6.6h0m6.9-0.5h0m-9.2 3.1h0m1.9 1.9h0m8.4-3.8h0m-3.8-3.5h0m0.8 0.1h0m0.6-0.6h0m-6.5 5.8h0m5.2-1.4h0m1.2-2.2h0m-2.5 0.4h0m-1 0.6h0m-0.8-1.4h0m2.8 0.5h0m-3-1.1h0m2.1-0.8h0m-0.8 2.7h0m-1.3-0.8h0m-0.6-1.1h0m9.5-4.9h0m-4.4 1.6h0m0.5 3.1h0m-0.4-0.5h0m-3.6-0.3h0m4.8-0.3h0m-5.1 4.9h0m-4.6 2.7h0m3.9-4.1h0m0.3-0.7h0m5.3 0.7h0m0.9-4.5h0m-6.6 5.2h0m3.6-3.7h0m-2.4 0h0m-0.4 1.8h0m2.6 0.3h0m1.1-1.5h0m-1.2 1h0m-2.1 1.3h0m1.8-3.8h0m0.7 1.6h0m-3.5 4.8h0m2.4-4.1h0m0.6-5.6h0m-0.4 3.7h0m0.7-3h0m-4.7 6h0m9.5-0.9h0m-8 0.7h0m-1.9 0.6h0m-3.4 1.1h0m9.6-4.8h0m0.2 3.2h0m0-4.7h0m-3.7 5.9h0m-2.4 1.4h0m-4.2 1.7h0m7.1-2.9h0m0.1-2.6h0m0.1-0.8h0m1.9-1.4h0m2.2 0.2h0m1.9 2.1h0m-10.2 6.3h0m3.5-6.6h0m-3.1 4.3h0m0.8-2.7h0m-1.5 1h0m1.7-3.4h0m4.5 1.2h0m-1.5-0.8h0m-3.1 3.3h0m-3.8-2h0m5 2.3h0m4-7.2h0m-6.5 5.8h0m6-1.3h0m-1 0.6h0m1.3-1.5h0m-5.4 4.5h0m9.5-7.1h0m-7.9 3.2h0m-4.7 1.9h0m-0.1 2.6h0m1.5 0h0m8.2-6.4h0m-4.1 4.4h0m-3.6-0.2h0m3.3 0.8h0m0.3-3.9h0m3.8 0.6h0m-6.6 1.9h0m8.2-2.1h0m-0.6-1.9h0m-4.1-0.8h0m-1 4.1h0m-1 6.3h0m3.2-5.4h0m-5.1 0.8h0m7.6-1.6h0m-3.1-1h0m-0.3 0.1h0m1.8 0.4h0m-6.4 2.8h0m7.8-5.5h0m-0.4-1.1h0m-4.4 10.1h0m-1.3-6.4h0m-2.4-0.7h0m8.2 1.6h0m-7.2-0.5h0m9.1-2.6h0m-6 1.8h0m-1.3 1.1h0m8-3.5h0m-5.5 0.5h0m3.3 0.1h0m-1.1 1.7h0m-1 1.8h0m-1.5-2.5h0m3.9-4.2h0m-3 11.5h0m1.1-9.8h0m-2.8 5.6h0m2.4-2.8h0m2.2-2.7h0m-5 8.3h0m1-4.9h0m-0.3 3.2h0m-2.1-2.4h0m2.2 2h0m0.5-5.5h0m-1.5 5h0m-1.6 0.7h0m3.9-4.3h0m0.5-1.6h0m-0.8 1.7h0m-5.4 2.8h0m3.9-1.8h0m-3.4 4.7h0m5.8-3.6h0m-2.6-0.7h0m-2.8 5h0m-0.1 1h0m1.6-3.5h0m5.8-3.5h0m-3.3 2.6h0m-1.2-2h0m4.2-0.4h0m-7.4 3.9h0m4.1 0.3h0m1.7-5.2h0m2.5 1.3h0m-5.7 1h0m5.7-4h0m-7.5 5.9h0m4.9-2h0m1.7-2.6h0m-6 3.1h0m5-1.9h0m-2.5 1h0m-0.4 1.3h0m2.2-3.7h0m-1.9 5.5h0m-4.6-0.6h0m2.4 1.5h0m2.9-2.9h0m-1 3.7h0m3.9-5.8h0m-3.4 1h0m-2.4 4.3h0m4.8-6.4h0m-4.7 1.4h0m-0.3 3.1h0m2.4-1h0m-4.9 3.3h0m7.8-2.7h0m-2-3.2h0m4.2 0h0m-5.3 3h0m-0.4-1h0m2-3h0m-2.4 3.9h0m-4.3 1.6h0m5.6-5.1h0m-5.4 3.9h0m4.5 2.1h0m1.8-3h0m4.3-5.9h0m-0.7 1.8h0m-5.6 2.5h0m-1.4 3.6h0m3.1-4.5h0m3-1.7h0m-10.5 7.5h0m4.9-3.7h0m0 2.2h0m0.5-5.2h0m3.9 3.2h0m-1.3-0.1h0m-2-3.8h0m-0.2 4.9h0m2-3.2h0m-2.6 1.7h0m0.3 0.6h0m7.5-6h0m-5.6 3.1h0m-2.4 2.7h0m1.3 2.4h0m-1.7-4.4h0m5 1.2h0" stroke="#ee0000" stroke-width="0.8" stroke-linecap="round" opacity="0.5" fill="none"/>
<path d="M340.3 181.5h0m-0.1 2.1h0m-1.2 0.5h0m3.5-2.4h0m-1.9 1h0m6.4-2.2h0m-2 3.1h0m-10.2 3.4h0m1.8-4h0m-0.4 0.6h0m0.9-1.4h0m4.8 0.8h0m-8.5 1.7h0m-0.6 4.5h0m11.4-7.6h0m-1.2 0.2h0m-1.5 0.5h0m-4.9 3h0m2.1-2.1h0m0.6 0.1h0m-1.7 0.2h0m-0.3-1.9h0m0.3 4.7h0m0.8-5.2h0m-3.7 2.7h0m15.4-4.1h0m-12.4 4.4h0m-2.2 1h0m2.9-4.9h0m5.3 1.9h0m-6.9 0h0m5.2 0.9h0m3.6-4.8h0m-5 4.9h0m-0.2-4h0m-1.4 2h0m-1.7 2.4h0m1.7 0.7h0m2.8-0.5h0m-6.4 1.1h0m-0.7-1.4h0m1.8 0.9h0m6.6-2.4h0m-1.8-0.3h0m-1.5 3h0m-6.3 2h0m0.7-1.1h0m4.4-2.6h0m-5.8 5.7h0m-1 0h0m0.3-4.6h0m7.3-3.6h0m-0.1 1.8h0m-5.8 5h0m-1.7-1.7h0m3.8-0.6h0m4.8-3h0m-2.7 1.8h0m2-0.3h0m-8.2 4.3h0m5.6-4.7h0m-3.9 0.2h0m5.1 1.6h0m-0.7-0.6h0m-5.3 3.5h0m3.6-1.8h0m2.4-2.5h0m-5.1 4h0m-2.2-0.2h0m5.2-0.6h0m2.6-1.7h0m-5.1-0.7h0m-0.5 5.2h0m2.6-5.4h0m7.9 0.1h0m-8-1.2h0m4.4-1.4h0m-3.8 2.7h0m2.8 1.3h0m-0.6-1.5h0m-3.2 2.7h0m-1.6-2.5h0m-1.2 5.6h0m2.6-4.3h0m0.8-0.8h0m2.4-3h0m-5.4 2.7h0m0.4-0.3h0m-2.8 4.8h0m-3.4 2.6h0m7.2 0.1h0m-1.8-3.3h0m7.1-5.2h0" stroke="#f01818" stroke-width="0.8" stroke-linecap="round" opacity="0.42" fill="none"/>
<path d="M330.8 187.7h0m16.7 4.1h0m-15.2-9h0m0 9.3h0m19.3-12.2h0m-15.8 5h0m-6.3 5.8h0m11-13.5h0m-13.4 19.4h0m11.4-5h0m-6.9-6.7h0m8.1-0.9h0m-13.2 3.7h0m16.9-7.6h0m1.3 12.9h0m-16.2-5.2h0m7 4.7h0m5.9-14.4h0m-16.9 17.3h0m12.3-4.6h0m1.8 8.3h0m-12.9-3.3h0m3.2-2.7h0m18.2-15.6h0m-7.9 8.2h0m-5.8 2.4h0m-6.4-7.5h0m14.3 13.4h0m-10.3-17.1h0m24.3 19h0m-16.5-15.8h0m-7.9 9.4h0m-3.2 10.1h0m9.3-8.9h0m-9.8-9.7h0m2 8.8h0m4.4-4.2h0m4.9 3.8h0m9.8-3.1h0m-21 1.4h0m20.8-4h0m-11.9 1.4h0m3 4.5h0m-10.2-3.5h0m14.7 9.7h0m-0.2-1.7h0m-10.5-9h0m10.6-6h0m-8.3-5h0m-2.7 8.4h0m-6.9 9.5h0m4-7h0m4-2.7h0m14 1.8h0m-10.2-6h0m-5.6 7.3h0m1.4-1.9h0m3.7 15.7h0m-2.3-12.5h0m14.6 5.2h0m-7.6-9.4h0m-7.1 6.8h0m2.2-7.8h0m-7.5 10.1h0m9.1-19.3h0m-1.8 24.8h0m-6.1-7.6h0m-6.8 4.4h0m2.8-15.3h0m4.2-0.1h0m9 11h0m10-11.1h0m-27.1 7.1h0m16.4 4.9h0m5.9-13.6h0m-15.9 10h0m13.8 4.5h0m-10.5-11h0m10.9 14.5h0m6.2-15.9h0m-18.1 3.9h0m0.7-1.5h0m-0.7 6.1h0m0.8 5.2h0m3.1-4.8h0m12.9 2.3h0m-11-2.5h0m-0.7 4.4h0m-7.2 4.2h0m19.7 0.1h0m-17.1-20.2h0m0.4 12.8h0m10.5-2.5h0m-9.4 12.6h0m-3-3.4h0m13.1-17.6h0m-5.2 5.7h0m-10.2-9.5h0m-5.2 16.6h0m9.8-1h0m-5.6-4.4h0m6.6-9h0m-11.6 14.6h0m15.1-10.1h0m-2.1 11.7h0m16.1-11.3h0m-14.7 17.3h0m-22.1-0.2h0m21.5-24.4h0m6.5 21.5h0m3.6 1.1h0m-10.3-14.3h0m-3.6 5.2h0m7.2-3.3h0m-2.9 10h0m17.5-14.9h0m-22.7-1.1h0m-5 13.6h0m1.5-11.7h0m6 13.6h0m-0.7-8.5h0m10.6 6.1h0m-3.8 3.5h0m-12.3-5.4h0m3.2 5.9h0m12.1-15.2h0m4.3-0.9h0m-1.4 10.1h0m-17-9.8h0m4.7 8.1h0m-3.4 4.3h0m-5.8-4.2h0m11.8-13.7h0m2.5 4.5h0m-23.4 4.7h0m18.9 11.3h0m-2.1 4.2h0m16.1-2.9h0m-1-5.4h0m-15.7 2.2h0m12.7-3.1h0m-10.1-13.3h0m7.7 14.2h0m-16.6-1.9h0m17-1.5h0m0.5 6.4h0m-18.9-7.9h0m16.4 9.1h0m7.8-21h0m-12.4 19.5h0m10.8 7.2h0m-18.1-15.3h0m-1 8.8h0m-2.3 2.7h0m19-5.1h0m-26.1-8.6h0m24.5-5.5h0m-8.3 9.7h0m9.5 2.9h0m-5.2-5.4h0m-2.2 2.3h0m6.1-0.4h0m2.5-11.2h0m1.4 11.3h0m-0.6 1.9h0m-2.3 10.4h0m-11.8-10.4h0m3.2 0.9h0m-12.2-2.8h0m11.5-4.6h0m0.5-5.6h0m13.4 14.8h0m4-9.8h0m-25.6 8.5h0m-4.2-0.4h0m8.1-4.1h0m8 2.8h0m13.6 4.3h0m-26.5 2.6h0m-0.4-6.6h0m0.7-6.8h0m21.5 2h0m-16.4 0h0m2.8 14.8h0m-7.3-19.8h0m14.8-2.7h0m-8 20.2h0m3.1-11.9h0m-6-3.3h0m1 7.8h0m15.4 6.1h0m-15.2-12.5h0m10.6-8.1h0m-9.6 11.1h0m-5.6-5h0m12.2-4.9h0m-10.6 7.4h0m8.4-5.3h0m8.4 7.8h0m-11.3-0.4h0m-3.5-4.6h0m15.2 8.8h0m-10.5 5.8h0m-5.1-2.7h0m6.2-11.3h0m6.1-4.4h0m-0.9 4.5h0m-2 16.7h0m1.3-14.7h0m-5 1.8h0m-9.6-5.5h0m10.1 12.1h0m-15.1-4.5h0m19 1.3h0m-12.7 6.8h0m-1.8-2.8h0m23.6-19.9h0m-11.3 17.4h0m-0.2-8h0m-4.5-4.7h0m3.7 14.3h0m-6.7-10.8h0m1.6 6.8h0m4.4-0.7h0m0.1-8.9h0m11.3-0.8h0m-17.5 12.6h0m13.6 2.6h0m2.7-5.2h0m-7.3 3.4h0m-7 5.8h0m8.8-1.6h0m-8.5 0.4h0m-5.5-4.7h0m-13-10.4h0m27.9 4.2h0m-4.7-8.7h0m11.4 16.3h0m-13.1-1.3h0m3 7.3h0m-1-21.2h0m-3.9 20.3h0m6.9-12.5h0m0.3 3.9h0m0-12.5h0m-12.5 16.5h0m5.6-2.3h0m18.1-4.8h0m-14.2-1.8h0m-7.2 3.5h0m-6.9-14.9h0m23.4 14.7h0m-2 1.6h0m-8.1 4.1h0m4.7-13.8h0m4.1 1.7h0m-9.4 19.4h0m-3.5-7.7h0m3.3-1.5h0m-7.5-9.8h0m9.8-4.7h0m-9.7 16.2h0m1.9-11.2h0m-4.1 7.5h0m6.1 0.1h0m1.5 12.4h0m-2.1-27.9h0m4.6 14.4h0m0.4-11.8h0m8.1 11.5h0m-9.8-11.3h0m4.3 11.1h0m7.3-2.6h0m-21.5 4h0m2.7 2.1h0m-1.4-4h0m7.1 0.7h0m-2.4-5.7h0m3.8 1.7h0m1.7 2.3h0m-19.8 1.5h0m30 2.7h0m-6.5 1.1h0m-8.8-13h0m10.5 17.3h0m-2-4.5h0m-1.4-3.3h0m-1 0.3h0m0.5-7h0m-7.9 11h0m2.4-21.7h0m3.8 1h0m14.7 21.8h0" stroke="#f04848" stroke-width="0.7" stroke-linecap="round" opacity="0.38" fill="none"/>
<rect x="312.6" y="158.5" width="45.5" height="45.2" rx="1" fill="none" stroke="#606060" stroke-width="0.65"/>
<line x1="335.1" y1="158.5" x2="335.1" y2="203.7" stroke="#4a4a4a" stroke-width="0.65"/>
<line x1="312.6" y1="185.3" x2="358.1" y2="185.3" stroke="#4a4a4a" stroke-width="0.65"/>
<text x="309.60" y="163.70" font-size="3.2" text-anchor="middle" dominant-baseline="central" fill="#333" transform="rotate(-90 309.60 163.70)">10</text>
<line x1="311.6" y1="163.70" x2="312.6" y2="163.70" stroke="#444" stroke-width="0.4"/>
<text x="318.80" y="207.10" font-size="3.2" text-anchor="middle" dominant-baseline="central" fill="#333">10</text>
<line x1="318.80" y1="203.7" x2="318.80" y2="204.7" stroke="#444" stroke-width="0.4"/>
<text x="309.60" y="174.90" font-size="3.2" text-anchor="middle" dominant-baseline="central" fill="#333" transform="rotate(-90 309.60 174.90)">10</text>
<line x1="311.6" y1="174.90" x2="312.6" y2="174.90" stroke="#444" stroke-width="0.4"/>
<text x="330.20" y="207.10" font-size="3.2" text-anchor="middle" dominant-baseline="central" fill="#333">10</text>
<line x1="330.20" y1="203.7" x2="330.20" y2="204.7" stroke="#444" stroke-width="0.4"/>
<text x="309.60" y="186.10" font-size="3.2" text-anchor="middle" dominant-baseline="central" fill="#333" transform="rotate(-90 309.60 186.10)">10</text>
<line x1="311.6" y1="186.10" x2="312.6" y2="186.10" stroke="#444" stroke-width="0.4"/>
<text x="341.60" y="207.10" font-size="3.2" text-anchor="middle" dominant-baseline="central" fill="#333">10</text>
<line x1="341.60" y1="203.7" x2="341.60" y2="204.7" stroke="#444" stroke-width="0.4"/>
<text x="309.60" y="197.30" font-size="3.2" text-anchor="middle" dominant-baseline="central" fill="#333" transform="rotate(-90 309.60 197.30)">10</text>
<line x1="311.6" y1="197.30" x2="312.6" y2="197.30" stroke="#444" stroke-width="0.4"/>
<text x="353.00" y="207.10" font-size="3.2" text-anchor="middle" dominant-baseline="central" fill="#333">10</text>
<line x1="353.00" y1="203.7" x2="353.00" y2="204.7" stroke="#444" stroke-width="0.4"/>
<text x="306.40" y="177.50" font-size="3.0" text-anchor="middle" dominant-baseline="central" fill="#444" transform="rotate(-90 306.40 177.50)" font-weight="normal">PerCP-A</text>
<text x="335.60" y="210.50" font-size="3.0" text-anchor="middle" dominant-baseline="central" fill="#444" font-weight="normal">APC-A</text>
<text x="335.90" y="220.00" font-size="5.6" text-anchor="middle" dominant-baseline="central" fill="#000" style="white-space:pre">UR 3.1%  LR 1.5%</text>
<path d="M386.6 191.8h0m5.3-3.4h0m-3.7 1.8h0m1.2 2.2h0m-3-1.2h0m8.5-4.8h0m-3.6 3.9h0m-5 6.6h0m3.1-3.7h0m-4.7 1.7h0m4.5-2h0m-0.6-2.4h0m2.5-1h0m0.4 1.3h0m0 1.5h0m-7 0h0m1.2 0.8h0m0.2 1.8h0m4-2.9h0m1-1.6h0m-3 1.5h0m-0.9-1.1h0m-0.7 0.1h0m1.6 2.3h0m-1.3-1.1h0m-5.9 5.5h0m7.1-7h0m-3.1 3.2h0m0.7-1.5h0m2.4-0.8h0m-1.6 1.4h0m5.6-2.9h0m-0.6-2.5h0m-6.2 3.1h0m1.6 1.9h0m5.1-2.9h0m-5 2.4h0m3.6-0.1h0m-3.4 1h0m3.2-4.4h0m1.2 2.4h0m-3.5 2.1h0m-2.8 1h0m4.6-3.9h0m-7.8 2.8h0m6.9-0.3h0m2.5 1.8h0m-4.6 0.5h0m5.2-4.8h0m-1.8 0.5h0m-2.1 0.6h0m1 3.6h0m-2.5-0.9h0m8.7-5.3h0m-9.2 4.9h0m5-2.3h0m1-0.5h0m-1.1-2.7h0m-3.4 1.7h0m2.1 2.4h0m3.8-2.3h0m-2.3 1.1h0m-3.1 0.5h0m0.7-3.2h0m1.4 0.8h0m-4.4 7.3h0m7.7-6.8h0m-5.4 2h0m0.6 1.9h0m1.6-3.5h0m-2.6 0.7h0m0.8 1.2h0m1.5-2.8h0m-0.8 4.2h0m-1.8-2.1h0m-0.1 2.2h0m1.4 0.9h0m2.6-4.8h0m-1.5-0.3h0m-5 7.9h0m9.4-8.8h0m-2.5 3.5h0m-3-0.2h0m0.4 0.8h0m-0.3-1h0m1.2 0.5h0m2.1-2.7h0m-3.2 1.5h0m-3 0.9h0m3.3-1.8h0m-2 2.4h0m2.2 0h0m4.3-3.5h0m-2.9 1h0m-0.6 2.7h0m-1.2 3h0m-0.8-4h0m2.9-0.1h0m-5.8 4.2h0m5.6-4.8h0m-2.4 1.5h0m0-5.3h0m3.1 4.8h0m-5.3-2.4h0m0.9 0h0m-3.1 6.8h0m8.9-6.1h0m-1.3 0.6h0m-3.8-0.4h0m-1.9 1.2h0m-0.3 3.1h0m4.3-7.3h0m-3.7 9.6h0m7.7-5.9h0m-5.6 0.8h0m0.7-0.6h0m-3.6 3.8h0m10.5-4.7h0m-10.3 2h0m3.4-2.5h0m0.3 2.5h0m-1.5-0.8h0m4.1-0.5h0m-0.4 3.3h0m0.4-3.4h0m-3.8 0h0m-2.5 3.9h0m5.4-5.4h0m-5.9 3h0m1 3.1h0m5-2.7h0m-6.1 3.4h0m5.4-1.9h0m-6.2-0.5h0m5.1-2.8h0m-0.7-2h0m-1.9 4.7h0m3.5-0.1h0m0.2-3.2h0m-2.6 1.4h0m2.3 0.6h0m0.3 0.9h0m0.8-3h0m1.4-1.8h0m-0.4 3.4h0m-4.6 2h0m-2 3.6h0m0.8-5.1h0m6.4-3.9h0m-3.5 1.6h0m-1.2-1.1h0m-4.2 4.5h0m7.5-2.5h0m2.8-1.7h0m-8 4h0m5.2-4.5h0m3.9 0.6h0m-7.2 1.5h0m3.9-0.5h0m-8.3 3h0m5-5.1h0m-1.3 5.1h0m-4.5 3h0m6.5-6.5h0m-4.3 1.6h0m2.2 2.1h0m2.1-4.1h0m-1.3 6.8h0m2.6-4.9h0m-7 3.3h0m4.7-5.1h0m0.9 1.7h0m0.1-1.4h0m2.4-3.3h0m0.5 3.8h0m-2.8-0.9h0m-1.7 4.3h0m2.6-4.5h0m-2.8 4.3h0m3.9-3.4h0m-1.3 2.8h0m2-2.1h0m-5.4 0.5h0m0.3 3.7h0m7.5-3.8h0m-3.5-3.3h0m-0.4 4h0m-3.4 0.9h0m-1.5 2.3h0m2.4 3.1h0m-2.4-9.4h0m3.3 0.4h0m-0.2 2.7h0m2.2-4.5h0m-1.6 3.4h0m7.5-3.7h0m-8.1 4.6h0m-1.8-0.7h0m3.1 1.8h0m-3.6 1.8h0m2.3-4.7h0m-2.9 5.3h0m1.9-7.3h0m1.4-0.7h0m-3.5 7.4h0m4.9-5h0m-7.5 9.4h0m9.3-10.6h0m-2-1.8h0m0.6 8.5h0m-6.3 0.1h0m5.4-4.2h0m-5.6 1h0m11.5-2.2h0m-6.2 4.5h0m0-0.3h0m1.3-3.1h0m-5.4 5.5h0m5.4-4.7h0m-1.9-3.5h0m-0.3 6.4h0m-3.7-2.7h0m2 2.6h0m0.3-7.2h0m-0.5 7.8h0m-1.3-4.6h0m8.4-1h0m-6.9 4.6h0m2.8-2.5h0m0.1-1.6h0m1.5 0h0m-0.5 1.9h0m-5.1 0.3h0m-3.4 2.1h0m6.2-0.3h0m-5.8-2.4h0m4.4 3.9h0m-4.9-3.5h0m8.2-2.1h0m0.9 2.4h0m0.5-0.6h0m-6.3-0.7h0m5.4-2.3h0m-1.5 4.4h0m0.7-0.7h0m-0.4-8.4h0m0.3 7.4h0m-1.5-2h0m1 5.7h0m-1.4-4.7h0m5 1.8h0m-3.7 0.1h0m-3.1 3.5h0m5.9-5.1h0m-5.4 3.5h0m-1.6-1h0m3-2.5h0m-2.4 1.8h0m0.5-1.4h0m2.3-0.3h0m0.5 0.7h0m-0.2-0.6h0m6.7-2.6h0m-5.5 1.5h0m1.9 1.2h0m-0.3-0.8h0m-4.6 6.3h0m-1.2-1.4h0m7.4-4.5h0m-7.1 4.8h0m0.2-1.8h0m4.8-1.7h0m-7.3 1.3h0m2.4 0.8h0m0.1 0h0m0.2 1.5h0m-2-3.6h0m1.7 1.7h0m6.2-3.6h0m0.9-0.3h0m-10.1 5.2h0m3.2-0.5h0m-1.2-3h0m1.7 1.8h0m-0.5 0.2h0m-0.7 1.1h0m2.3 0.5h0m1-1.6h0m-0.6-0.5h0m2.3-1.4h0m-5.7 2.9h0m1.7-0.3h0m5.2-4.4h0m-7.6 4.4h0m9.3-6.2h0m-1.4 4.8h0m-3.6-1.1h0m1.8-1h0m-1.4-1.3h0m-1.2 1.2h0m-4.2 2.7h0m4.3-2.5h0m6.1 0.1h0m1.8-1.9h0m-3.4-0.2h0m-12.4 5.4h0m13.6-3.8h0m-6.2 1.1h0m0.1-1h0m2.2 3.5h0m-0.1-2.9h0m-2.4 6h0m3.2-6.2h0m-1.1-1.2h0m-0.4 0.4h0m2.2-4.7h0m-0.5 5h0m-6.1 3.5h0m5.1-1.6h0m-3.3 1h0m4.3 0.8h0m-1.8-3.7h0m4.6-1.7h0m-2.2 5h0m-1-1.6h0m-2.6 3.9h0m6.1-5.1h0m-5.4 0.8h0m0.6-1.1h0m-2-2.6h0m0.2 5.1h0m3.9-3.5h0m-8.5 7.9h0m8.8-4.3h0m-0.8-3.4h0m-0.8 0.5h0m-2.6 3.9h0m3.2-4.2h0m-2.5 1.5h0m0-0.7h0m2.7-0.6h0m1.2-0.2h0m-3.7 0.2h0m1.6-0.4h0m-0.6 1.8h0m-0.9-1.4h0m-2.6 6h0m3.6-2.9h0m-1.8-1.1h0m3.7 3.2h0m-4.2 0h0m3.4-3.7h0m-7.4 5.7h0m4-1.6h0m1.6-0.5h0m-0.1-2.3h0m4.6 0.8h0m-5.2-1.2h0m-3.5 1.7h0m3.4-3.5h0m0.4 0.6h0m-1.2 1.4h0m3-2.7h0m-1.6 0.8h0m-1.6 3.8h0m0.2-4.1h0m-1.1 0.7h0m2.3 1h0m1.2-2.9h0m3.3 3.5h0m-3.5-2h0m-2.7 3.6h0m-2-1.9h0m10.6 1h0m-6.6-2.3h0m0.8 2.1h0m2.9-3.9h0m-2.8 3.1h0m-1.8-1.1h0m0.9-4.7h0m-4 5.3h0m7 0.9h0m-1.1-1.4h0m-0.4 0.6h0m-2-1h0m-3.3 3.2h0m7.2-6h0m-5.9 3.2h0m1.3 2.9h0m-5 1.2h0m2.8-4.6h0m4.8-0.1h0m-2.4 1.6h0m0.8-1.8h0m1.9 0.4h0m-2.4 2.6h0m-0.6 1.7h0m5.8-8.3h0m-4.6 3.4h0m-1.8 4.4h0m2.5-3.3h0m-4.2 2.4h0m5.5-1.9h0m-1.5 2.4h0m-0.5-1h0m0.7-4.2h0m-3.2-1h0m2.7 5.5h0m-0.4-2.2h0m-2.5 2.4h0m2.6 2.6h0m-0.6-2.1h0m-0.1-1.4h0m0.4-0.7h0m-3.9-0.4h0m6-0.1h0m0.7-2.2h0m0.2 1h0m-3.2 4.7h0m-1.2-3.5h0m2 1.1h0m-5.9-0.9h0m3.1-1.9h0m1.4 3.6h0m1 0.1h0m-1.2-2.2h0m2 2.3h0m0-2.5h0m4.1-1h0m-3.9-0.8h0m-0.2-0.1h0m1.6 3.1h0m-2.6 2.5h0m-4.2-1.4h0m5.1 0.8h0m-7.8 0.3h0m11.8-5.7h0m-4.4 0.5h0m-1.7 1.8h0m7.9-4.8h0m-5.7 6.1h0m-2.7 1.2h0m2.3-3.7h0m4-2.8h0m-5.9 7.2h0m-3.7 1.3h0m11.3-7.2h0m-9.6 3.7h0m8.4-4.2h0m-7.5 3.5h0m3.2-1.8h0m1.7-2.6h0m-2.6 4.1h0m-0.1-4.6h0m-4.8 7.4h0m4.9-4.4h0m-1.8 0.7h0m2.1 1h0m-3.1 0.7h0m5.1-2.4h0m-8.6 4.5h0m5.6-2.9h0m1.3 1.7h0m0.1-0.9h0m-1.3-0.8h0m0.2-2.4h0m1.3 0.8h0m1.3 2.1h0m-2 1.1h0m-4.8-2h0m4.2 1.4h0m0.1-2.7h0m0.8 4.5h0m-2.5-0.5h0m2 0.4h0m-2.8 3h0m3.3-5.1h0m0.1 0.2h0m2.3-0.8h0m-1.1-2.4h0m-2.5 2.6h0m0-3.2h0m-0.6 4.8h0m2.9-1.4h0m-2.1-0.7h0m-4.5 4.2h0m5.1 0.6h0m2.4-5.6h0m1.6 0.7h0m-3.5-1.6h0m-2.4 6.1h0m6.2-4.4h0m-1.3 4.2h0m-7.5-0.7h0m5-4.8h0m-0.1 2.1h0m-1.6 1.3h0m5-5.9h0m-5.7 8.8h0m2.9-5.1h0m0.2 0.2h0m4.9-2.2h0m-3.5 1.2h0m5.1-3.9h0m-12.9 5.3h0m2.3 3.8h0m3.9-7.5h0m-3.1 6.5h0m0.9-1.9h0m4.9-1.7h0m0.5-0.3h0m0-3.8h0m1.7 3.3h0m-1.7-3.8h0m-5 7h0m-2.5 5.4h0m3.1-4.9h0m4.9-7.3h0m-3.3 4.2h0m2-3.3h0m0.7 3.7h0m-4.9 1h0m2.5-0.7h0m0.6-1.7h0m3.7-1h0m-7.5 5.5h0m1.3-1.1h0m-4.4 3.2h0m7.8-8.9h0m-3.3 7.1h0m-0.4-0.2h0m-0.8-4.2h0m2-2.3h0m-0.4 1.2h0m0 2.6h0m6.4-3.4h0m-9.5 3.3h0m3.9 1.3h0m1.3-0.8h0m-1.1 1.4h0m-1.3-1.6h0m0.1 1.9h0m-0.5-2.1h0m2.8-2.2h0m0.1 1.2h0m-2.3 1.2h0m0.7 0h0m-3.1 4.7h0m4.9-5.7h0m-1.2-0.1h0m-0.8-0.5h0m1.1-4.8h0m-0.4 8.1h0m2.3-3.3h0m-1.6 0.8h0m0.6-1.5h0m-4.1-1.2h0m1.4 3.5h0m8.1-4.9h0m-7.1 4.8h0m-1.7 0.1h0m3.9-3.2h0m1 4.8h0m-9 1.6h0m7-4h0m-3.7 0.9h0m7-0.1h0m-9.2 0.1h0m8.4-5.4h0m-4 6.2h0m-0.7-4h0m0.8 4.1h0m-0.6-1.9h0m-1.1 1.8h0m4.8-3.6h0m1.4 0.7h0m-6.9 1.5h0m3.1 2.3h0m4.9-7.1h0m-11.8 6.7h0m5.1-3.9h0m-1.3-1h0m6.2-1.1h0m-3.8 5.1h0m0 1.6h0" stroke="#ee0000" stroke-width="0.8" stroke-linecap="round" opacity="0.5" fill="none"/>
<path d="M404.4 183.7h0m5.5-3h0m-13.6 7.6h0m7.6-4.5h0m-1-1.5h0m-3.4 1h0m8.2 1.7h0m6.2-4.6h0m-1.6-1.1h0m-5.6 2h0m-1.1-0.3h0m0.8-0.9h0m0.9-0.6h0m-3.6 1.2h0m0.2 1.3h0m4.1 1.3h0m-2.7-4h0m-1.8-1.1h0m1.9 3.4h0m6.1-1h0m-3.1 3.9h0m0.4-0.2h0m-7.5-1.9h0m8.6 0.6h0m-2.9-1h0m-0.1-2.1h0m0.5 0.2h0m4.4-0.1h0m-11 6.1h0m6-4h0m-1.6 2.3h0m0-2.9h0m3.2 1.7h0m-11.4 0.4h0m17.1-2.5h0m-7.3 1h0m-4.7 1.2h0m8.3-5.6h0m-4.2 2.5h0m-1.3 0.1h0m2.2-0.9h0m0.5 1.5h0m-2.7 3.6h0m1.9-4h0m-7.1 3.9h0m4.9-1h0m-2.9 1.5h0m2.7-1.2h0m4.9-3.5h0m-2.4 1.8h0m-0.4 0.4h0m-0.3-1.1h0m6.4 0.2h0m-8.6-0.3h0m0.9 1.8h0m0.6-3.7h0m5 0.5h0m-10.1 2.5h0m6.9-2.4h0m1.1 2h0m4.3-6.2h0m-8.6 7h0m4.9 0.1h0m-6.9-3h0m5.4 3.6h0m1.2-2.6h0m-5.7 1.7h0m7.5-2.8h0m1 1.7h0m1.6 0.3h0m-0.7-1.4h0m-0.8-0.3h0m-8.3 4.6h0m-1.5-1.5h0m4.4-0.7h0m-18.7 8h0m13.6-7.9h0m-8.4 6.8h0m7.4-4h0m-6.5 1.3h0m1.6 5h0m-3.6 0.3h0m19.1-7.5h0m-17.4 2.9h0m11.3-5.6h0m-9.1 4h0m6.9-2.1h0m-5.7 0.8h0m6.1-3.4h0m-4.3 6.9h0m-5.3-5.6h0m-2.3 6h0m-1.5 0h0m0.5 0.7h0m16.3-2.6h0m-11.4 1.5h0m9.1-4.4h0m-12.4 6h0m15.7-5.3h0m-14.4 8.1h0m1.2-5.4h0m-2.7-0.1h0m2 2.9h0m4.9-3.4h0m3.1-1h0m-8.9 4.5h0m1.4 2.1h0m-3.4-1.1h0m7.8-4.1h0m-6 3.8h0m4.6-6.4h0m7-1.1h0m-7.3 3h0m-2.8 4.4h0m2.2-3.5h0m10.1-2h0m-15.3 2.7h0m12.6-3.3h0m-15.2 3.1h0m4.1 0.6h0m11.5-6.3h0m-7.4 2.1h0m1.1 2.8h0" stroke="#f01818" stroke-width="0.8" stroke-linecap="round" opacity="0.42" fill="none"/>
<path d="M395.5 191.1h0m-8 6.3h0m9.6-4.8h0m-15.9-16.5h0m12.4 18.5h0m14.6-7.3h0m-14.9 5.3h0m15.3-9.6h0m-7.7 4.4h0m-8.2 7.9h0m-3.8-14.1h0m12.3 7.8h0m-7.9-0.8h0m6.5-1.8h0m2.3 5.9h0m6.1 6.4h0m-5.3-11h0m-6.3-2.9h0m3.7 14.6h0m-16.3-16.4h0m8.2-1.2h0m-7.4 3.6h0m21.8 9.3h0m-10.7-5.2h0m-14.4 5h0m17.7-13.4h0m-1.8 6.7h0m-6.2-6h0m-1.3 0.4h0m9.7 9.8h0m-1.2-4.1h0m-18.6 10.3h0m18.8-8.4h0m-7.3-2.2h0m-5.7-8.7h0m9.1-2h0m8.1 20.7h0m-4.8-6.7h0m-1.4 1.5h0m5.4 3.4h0m8.9-6.3h0m-7.9-12.4h0m-8.5 3h0m5.8-0.6h0m-5.6 10h0m2.7 8h0m6.4-28.1h0m3.5 16.2h0m-16.4 14.3h0m2.5-20.9h0m-9 10.8h0m19 10.8h0m-9.2-14.8h0m15.3 0.1h0m-1.4 5.2h0m-10.4-3.5h0m0.5-1.8h0m-8.3 2.5h0m0.3 3.3h0m6.2-4.2h0m-2.4 0.2h0m16.5 1.7h0m-19.8-2.2h0m10.6 0.7h0m-6.9-0.4h0m2.7 4.9h0m2.4-15.2h0m-12.9-7.5h0m15.9 28h0m4.2-7.2h0m-1.2-1.4h0m-10.8-11.2h0m-5.7 7.1h0m14.5 16.9h0m-11.8-9.7h0m6.3-8.6h0m-16.9 0.2h0m2.4 3.2h0m11 1.1h0m-0.2 4.9h0m-6.5 3.1h0m-6.3-6.2h0m17.5-6.4h0m-16.9 10.7h0m7.9 1.1h0m12.2-5.9h0m-6.5 7.4h0m3.2-14.4h0m-1.8 11.1h0m0.3-2.7h0m-3-2.3h0m-6.7-9.8h0m17.5 5.9h0m-7.7-6.4h0m-0.5 5h0m-9.5 13.2h0m17.8-22.7h0m-7.5 22.2h0m-12.5-1.4h0m5.9-12.6h0m1.5 4h0m-0.9-2.1h0m11.1 5h0m4-1.4h0m-8.3 2.7h0m-1.5-2.3h0m-2.3 14.1h0m-4.9-16.6h0m2.9 8.3h0m6.2 2.7h0m-14.7-5h0m9.9-4h0m2.8-12.6h0m1 15.8h0m-14.4-1.8h0m25.1-2.2h0m-8 1.2h0m-11.9-5.2h0m3.5 16.6h0m10.2-15h0m1.6 4.3h0m-14.3 4.2h0m-1.8-14.9h0m18.6-1.9h0m-6.4 2.3h0m-4.8 9.8h0m-3.4-14.7h0m2.7 15.9h0m-6.6-0.2h0m15.9-4.8h0m-6.2-3.2h0m1.1 13.2h0m17.6 2h0m-17.2 3.7h0m-12-2.5h0m3.8-12.5h0m13.8 6.3h0m1.9-12.4h0m-8.8 6.8h0m-4.6-10.2h0m10.2 15.7h0m-16.1-11.5h0m0.9 20.3h0m6.5-12.8h0m5 2.5h0m-2.2 5.5h0m0.8 1h0m-12.7-6.1h0m7 0.4h0m2.6-5.5h0m-2.5 11.7h0m-1.7-16.2h0m9.6 16.4h0m-7.2-6.2h0m-4.8-2.5h0m16.3 7.4h0m-8-7.9h0m-14.8 4.4h0m17.4 5.4h0m13-5h0m-8.9-10.9h0m2.1 14.6h0m1.3-1.4h0m-7.5 5.9h0m-9.3-6.2h0m14.5-10.4h0m-18.6 8.9h0m10.7 1.3h0m4.3-10.1h0m-2.5 13.9h0m-5.8-10.3h0m-6.4 8h0m25.6-15.9h0m-9.9 16.6h0m-10.9-9.3h0m-4.1-3h0m10.1 10.5h0m-0.4 1.5h0m0.7-14.8h0m10.4 17.2h0m-17.9 4.3h0m9.7-12h0m12-19.2h0m-29.1 23.4h0m11.2-12.1h0m14.6 10.5h0m-23.1-8.4h0m17.6 17.9h0m-23.6-11.2h0m13.4-14.6h0m1.8 1.1h0m-3 23.5h0m8.7-6.1h0m0.7-3.1h0m3.1-11.1h0m-11 14.8h0m-3.1-9.5h0m16.1 14.5h0m-15-17.2h0m9.8 7.9h0m-10.4 2.4h0m10.2-3.7h0m2.2 6.9h0m-12.7-5.2h0m6.5-6.5h0m1.6 6h0m-2.6-5.4h0m7.3-8.1h0m0 11.8h0m-4.6-17.5h0m11.7 4.7h0m-21.1 17.4h0m2.1-7.7h0m-13.5-0.2h0m20.3 8.2h0m-4.1-3.4h0m6-6.5h0m-10.7 14h0m7.7 1.7h0m-5.9-7h0m8-5.4h0m-0.1-4h0m-3.3 2.7h0m7 2.3h0m-17.9-2.1h0m10.8-3.9h0m11.9 9.6h0m-4.1-8.6h0m-10.3 13.1h0m-8.7-4.8h0m12.7-6.3h0m0-4.3h0m1.2-1h0m-12.6 19.2h0m4.8-25.8h0m14 9.9h0m-0.4 8.2h0m6.6-3.5h0m-9.3-6.5h0m-3.6 18.7h0m2.8-10.1h0m-20.7-3.9h0m5.7 8.5h0m4.6-3.1h0m-3.6-1.6h0m2.5 3.5h0m15.6 1.9h0m-24.8-4.8h0m17.1-5.1h0m5 7.1h0m-15.5 8.4h0m7.9-25h0m13.7 24.3h0m-1.2-7.3h0m-18 2.9h0m23.1-0.9h0m-2.1-11.8h0m-4.9 12.7h0m-21.1-19h0m6.5 12.7h0m9.8-2.3h0m-4.3 0.8h0m1.3 5.2h0m3.4-4.7h0m-2-3h0m4.6-0.4h0m7.1 3.6h0m-11.5-5.5h0m-5.3 6.9h0m3.1-5.8h0m-9.9 4.9h0m11 3.8h0m9.3-6.4h0m-27.4 1.2h0m1.3-8.5h0m24.3 13.8h0m-14.2-8.9h0m4.7-8.4h0m4.8 10.5h0m11.5-5.3h0m-7.1 2.8h0m0.2-2.2h0m-2.4 4h0m-13.2 2.2h0m11 4.1h0m9.3 3.1h0" stroke="#f04848" stroke-width="0.7" stroke-linecap="round" opacity="0.38" fill="none"/>
<rect x="373.4" y="158.5" width="45.5" height="45.2" rx="1" fill="none" stroke="#606060" stroke-width="0.65"/>
<line x1="395.9" y1="158.5" x2="395.9" y2="203.7" stroke="#4a4a4a" stroke-width="0.65"/>
<line x1="373.4" y1="185.3" x2="418.9" y2="185.3" stroke="#4a4a4a" stroke-width="0.65"/>
<text x="370.40" y="163.70" font-size="3.2" text-anchor="middle" dominant-baseline="central" fill="#333" transform="rotate(-90 370.40 163.70)">10</text>
<line x1="372.4" y1="163.70" x2="373.4" y2="163.70" stroke="#444" stroke-width="0.4"/>
<text x="379.60" y="207.10" font-size="3.2" text-anchor="middle" dominant-baseline="central" fill="#333">10</text>
<line x1="379.60" y1="203.7" x2="379.60" y2="204.7" stroke="#444" stroke-width="0.4"/>
<text x="370.40" y="174.90" font-size="3.2" text-anchor="middle" dominant-baseline="central" fill="#333" transform="rotate(-90 370.40 174.90)">10</text>
<line x1="372.4" y1="174.90" x2="373.4" y2="174.90" stroke="#444" stroke-width="0.4"/>
<text x="391.00" y="207.10" font-size="3.2" text-anchor="middle" dominant-baseline="central" fill="#333">10</text>
<line x1="391.00" y1="203.7" x2="391.00" y2="204.7" stroke="#444" stroke-width="0.4"/>
<text x="370.40" y="186.10" font-size="3.2" text-anchor="middle" dominant-baseline="central" fill="#333" transform="rotate(-90 370.40 186.10)">10</text>
<line x1="372.4" y1="186.10" x2="373.4" y2="186.10" stroke="#444" stroke-width="0.4"/>
<text x="402.40" y="207.10" font-size="3.2" text-anchor="middle" dominant-baseline="central" fill="#333">10</text>
<line x1="402.40" y1="203.7" x2="402.40" y2="204.7" stroke="#444" stroke-width="0.4"/>
<text x="370.40" y="197.30" font-size="3.2" text-anchor="middle" dominant-baseline="central" fill="#333" transform="rotate(-90 370.40 197.30)">10</text>
<line x1="372.4" y1="197.30" x2="373.4" y2="197.30" stroke="#444" stroke-width="0.4"/>
<text x="413.80" y="207.10" font-size="3.2" text-anchor="middle" dominant-baseline="central" fill="#333">10</text>
<line x1="413.80" y1="203.7" x2="413.80" y2="204.7" stroke="#444" stroke-width="0.4"/>
<text x="367.20" y="177.50" font-size="3.0" text-anchor="middle" dominant-baseline="central" fill="#444" transform="rotate(-90 367.20 177.50)" font-weight="normal">PerCP-A</text>
<text x="396.40" y="210.50" font-size="3.0" text-anchor="middle" dominant-baseline="central" fill="#444" font-weight="normal">APC-A</text>
<text x="396.70" y="220.00" font-size="5.6" text-anchor="middle" dominant-baseline="central" fill="#000" style="white-space:pre">UR 11.4%  LR 1.5%</text>
<path d="M459.1 184.2h0m-1.8 1.4h0m-8.3 4.8h0m6.6-2.2h0m-0.9 3.9h0m-2.9 0h0m-5.1 1.9h0m4.4-4.6h0m1.4 3.3h0m-4.2 1.1h0m5-5.7h0m2.9-0.4h0m-10.4 3h0m13.9-3.1h0m-2.7-0.1h0m-0.5 1.4h0m-6.4 3.8h0m-0.2 0h0m2.6 1.7h0m-4.1-2h0m5.7-3.8h0m-1.2 1.7h0m1.6-0.1h0m-2.1 1.1h0m0.4 0.3h0m4.4-1.5h0m-5.6 2h0m0 1.5h0m-1.3-0.8h0m0.6-4.6h0m0.3 2.6h0m4.4 2.4h0m1.8-6.6h0m-7.6 8.2h0m-2.5-2.9h0m8.2-2.5h0m-0.7 3h0m-3.1-0.8h0m-1.1-0.2h0m0.5-1.2h0m0.6-0.1h0m-1.8-0.6h0m6.9-1.5h0m-6.4 2h0m1.2-1.1h0m-6.9 4.5h0m1.7 0.3h0m4.2-2.3h0m3.6-0.2h0m-4.7 1.1h0m7.4-0.8h0m-8.6 2.7h0m4.9-3.7h0m0 2.1h0m1.6-4h0m0.9 2.1h0m-8.7 4.1h0m5.1-0.9h0m-0.2-5h0m-2.2 5h0m4.6-1.6h0m-4.8-3.3h0m1.6 2.5h0m-4.3 3.6h0m6.3-4.2h0m-3.2-1.4h0m1.5 1.2h0m-0.6 6.5h0m3.4-10.2h0m-0.5 1h0m0.4 1.3h0m-6.5 2.3h0m6.8-6.7h0m-4 10.2h0m4.2-9.9h0m-1.7 7.4h0m-3.4 0.8h0m1-0.6h0m5.2-0.7h0m-4.8-2.7h0m0.8-1.7h0m1.5 4.6h0m3.6-2.9h0m-10.2 6.7h0m7.8-9h0m-2.8 1.3h0m3.7-0.8h0m-2.1 3.6h0m4.3-0.6h0m-7.4 3.9h0m5.7-2.9h0m-0.8 0.8h0m-6.9-0.3h0m7.3 0.2h0m-6.3 0.6h0m2.6-1.3h0m2.3-2.8h0m-0.5 0h0m-3.8 1.9h0m0.5 2h0m0.7 1.1h0m-1.6 0.7h0m0.6-2.3h0m-0.4-1.2h0m4.1 0.3h0m-0.9 0h0m3.8-1.1h0m-2.4-0.2h0m-0.9 2h0m-1.1-3.4h0m5-2.5h0m-1.1 2.7h0m-10.4 2.4h0m10.4-2.9h0m-7 5.8h0m2.7-1.8h0m0.6 2h0m-3.3-3.7h0m4.6-0.6h0m0.5-1.4h0m-1.3 0.1h0m-3.1 3.2h0m4.7-4.5h0m-0.1 6.3h0m-1.3-0.3h0m-4.6-4.3h0m1.7 1.5h0m4.6-4.3h0m-9.4 6.6h0m9.8-2h0m-6.7-0.8h0m3.4-0.2h0m1.7 1.5h0m-0.1-2.3h0m-7.4 2.7h0m7.7-1.2h0m1.2-3.5h0m1.1 0.9h0m-1.3 2.4h0m-5.4 2.9h0m4.1-3h0m-2.8-1h0m-1.3 4.3h0m-0.9-2.8h0m3.5 4.9h0m-3.1-5.4h0m3.1 0.5h0m-0.7 0.2h0m-1 0.4h0m0.5-1h0m2.2 2h0m1.3-1.8h0m0-2.3h0m-0.1 3.6h0m1.5-1.2h0m0.5-3.5h0m-5.8 6.7h0m3.3-7.1h0m-5.4 4.4h0m1.7 0.3h0m4.8 2.4h0m-6.1 1.6h0m7.7-7.5h0m-4.5 2.8h0m-5.4 0.8h0m4.9 0.1h0m4.8-0.3h0m-0.4-3.5h0m-6.2 0.2h0m5.6-1.9h0m-4.2 7.7h0m-0.2-1.4h0m7.9-6.5h0m-3.8 5.2h0m-4.1 5.7h0m0.3-3.4h0m4.1-5h0m1.5 0.6h0m-1.3-1.4h0m-1.4 0.6h0m-3.7 2.8h0m0.2-1.1h0m-2.9 3.2h0m4.1 2.8h0m6.3-12.2h0m-3.9 8.1h0m-0.1-1.7h0m0.9-0.4h0m1.7-0.7h0m2-7.8h0m-11.4 13.9h0m10-3.6h0m-6.7 3.1h0m3.6-4.1h0m-5.1-0.9h0m1.3 2.2h0m-0.3 3.6h0m3.4-7.1h0m-1 3.7h0m0.9-2.5h0m-2.3 3.2h0m-1.8 1h0m3.6-7.5h0m-3.3 5.9h0m3.4-2.7h0m3.4-3h0m2.9-2.4h0m-2.4 7h0m-6.1 0.4h0m1.9 0.6h0m1.5-3.4h0m1.9 4.6h0m-6.1-5h0m2.9 7.8h0m6-2.9h0m-5.3-1.3h0m0.1-2.9h0m1-2.6h0m5.1 0.8h0m-3.7 1.3h0m-5.4 2.1h0m1.4 0.1h0m1.7-1.1h0m-2.7-0.1h0m4-3h0m-1.6 6.4h0m-5 1.7h0m1.3-1.5h0m-0.5 0.4h0m1.6-2.2h0m3.6 2h0m1.3-5.4h0m-0.7 2.7h0m-8.3 4h0m14.2-9.6h0m-12.3 4.9h0m4.3 0.1h0m6.8-3.9h0m-8.5 6h0m3.3-4.9h0m0.1 2.6h0m2.1 0.6h0m-8-1.8h0m-1.1 6.3h0m6.4-5.4h0m3.8-2.9h0m0.5-3.2h0m-8.6 12.2h0m2.5-7.1h0m-2.7 4.3h0m2.9-0.8h0m3.9-2.8h0m3.8-1.6h0m-4-1.5h0m-1.1 4h0m-4.5 2.8h0m0.7-0.3h0m-0.9-4.7h0m6.1-5.9h0m-4.2 8.2h0m0.7 0.4h0m-1.1-1.9h0m2.7-4.3h0m-4.7 10.4h0m6.1-7.8h0m-3.1 6.9h0m1.4-4.5h0m-7.3 1.6h0m7.5-2.2h0m2.4 3h0m-6.8 1.2h0m6.1-3.5h0m-6.2 1.9h0m2-3.8h0m1.6 4h0m-3.5 2.2h0m-0.8-2h0m5.8-0.7h0m-4.9-0.5h0m1.7 2.3h0m-1.4-0.5h0m3.9-2.5h0m-6.8 5h0m7.1-5.4h0m1.6-1.5h0m-1.9 3.2h0m-1.1 1.1h0m-7.9 3.5h0m10-6.6h0m-2.6 1.4h0m2-0.7h0m-5-2.1h0m3.7 2.7h0m-5.2 2.1h0m7.7-2.4h0m-1.7-0.9h0m-2.4 3.4h0m-0.8-3.6h0m-2.1 3.3h0m7.2-0.3h0m-7.5-0.9h0m4.8-2.1h0m-1.1-2.9h0m-1.4 7.4h0m0.3-3h0m1.2 1.4h0m2.6-4.4h0m-0.3 2.6h0m-4.6-0.8h0m6 2.1h0m-0.8-3h0m0.2 2.3h0m-3.5-1h0m3.5-2.4h0m-4.8 6.1h0m7.2-4h0m-6-1h0m-0.6 1.5h0m2-1.7h0m-1.3 1.4h0m5.9-2.5h0m-2.7 3.7h0m-3.7 1.8h0m1.7 0h0m-1-4.3h0m-3.9-0.7h0m5.3 2.3h0m1.3 1.3h0m-4.5 1.1h0m4.3-1.3h0m-0.9-2.7h0m-3 4.7h0m-4.6 2h0m12.3-8.1h0m-10 6.3h0m1.3 3.3h0m3.9-8.3h0m2.9 0h0m-5.7 4.8h0m4.2-6.5h0m-0.4-1.7h0m-0.2 0.3h0m-1.2 5.5h0m-2.8 1.3h0m3.8-3.1h0m-3.9 2.6h0m1.5-1.3h0m2-0.9h0m2.8 0h0m0.7-1.9h0m0.6 1.9h0m-9.1 2.2h0m3.5-3.6h0m0.6 3h0m-9.5 3.8h0m4.6-2.1h0m4.4-0.3h0m-1.2 0.1h0m1.6-2.4h0m0.3 2.5h0m2.8-6.1h0m-1.1-0.1h0m1 3.8h0m-8.2 7.3h0m8.1-9.6h0m0.3 0.6h0m-6.8 5.9h0m0.4-1.9h0m6.1-9.2h0m-2.5 7.8h0m-5 2h0m4.1-2h0m-3.2 1.9h0m7.5-3.5h0m-5.1 2.6h0m4.4-4.5h0m-0.9-3.8h0m-2.6 5.7h0m-0.2 4.4h0m2.1-1h0m0.5-2.7h0m1.2-2.4h0m-3.1 1.8h0m-4.4-0.2h0m2.5 0.4h0m1.3 1.6h0m0.6-2.2h0m3.3-0.6h0m-1.5 1h0m3.2-0.5h0m-1.4 0.7h0m-2.4 0.5h0m-0.7 0.9h0m0.2 1.1h0m-2.5 0.8h0m-4.4 0.5h0m1.9 0.2h0m8.4-6h0m-2.3 4.6h0m-1-2.9h0m-4.2-0.9h0m0.2 1.9h0m0.4 5.7h0m0.4-7.8h0m1.4 2.9h0m-2 0.6h0m5.6-4.3h0m1.4 3.2h0m-3.3-2.7h0m-2.6 0.7h0m2.4 0.6h0m0-0.3h0m-4.2 5h0m6.4-7.2h0m-6.2 4.6h0m2.6-0.7h0m-1.5 0.8h0m1.2-2.5h0m-1.5 1.1h0m-2.9 4.4h0m6.5-3.5h0m-1.2-0.6h0m-1-1h0m2.5-2h0m-5.8 4.9h0m4.6-3.4h0m-0.5 5.9h0m3.1-5.7h0m-3.9 1.3h0m-2.2-0.4h0m0.7 2.8h0m6.8-2.5h0m-5.8 3.8h0m5-7.4h0m-1.7 3.4h0m-8.1 1h0m5.8-0.7h0m-2.8 2.4h0m6.4-5.5h0m-1.3-0.3h0m-2.8 3h0m-1.8-0.9h0m-2.8 8.5h0m1.8-7.2h0m8.7-6.1h0m-2.1 8.7h0m-7.5-0.1h0m2.2 2.1h0m3.4-2.8h0m-2.9-1.8h0m4.9-2.8h0m-7.6 3.4h0m9.6-3.5h0m4.5-0.9h0m-7.7 3.9h0m-9 2.4h0m12.4-1.8h0m-4.8-1.4h0m-0.1 2.8h0m-4.2 1.3h0m4.6-4.1h0m-0.4 3.3h0m1.1 0.3h0m1.4-4.1h0m-6.7 7.2h0m1.7-6.3h0m3.8-1.5h0m-3 2.3h0m4.5-4.8h0m-3.9 6.7h0m4.2-6.1h0m0.5-0.9h0m-14.2 13.1h0m10.4-10h0m1.1-3.7h0m-1.6 4.8h0m-5.9 1.8h0m6.3 1.5h0m6.1-6.5h0m-1.2 0.6h0m-9.4 6.6h0m2.7-3.8h0m2 2.5h0m-0.1-2.8h0m-0.6 2.6h0m5-5.8h0m-2.2 2.9h0m-5.2 3.8h0m-2.1-1.2h0m4.8-4h0m-0.1 2.6h0m-0.7-2.4h0m0.5 1.3h0m-1.8 1.9h0m-1 1.9h0m8.2-7.6h0m0 2.6h0m-9.3 5.3h0m1.3-4.2h0m8.7-5.1h0m-6.8 3.4h0m1 3.2h0m-0.2 3h0m-2.6-2.2h0m3.1-0.3h0m4.1-1.8h0m-7.3 2.5h0m8.9 1.8h0m-7.4-0.3h0m-2.7 2.3h0m4.2-4.1h0m3.3-2.7h0m1.4-1.8h0m-8.2 2.2h0m-3.4 3.8h0m3.2-1.2h0m1.9-1.9h0m-4.4 7.4h0m1.7-2h0m2.5-3.4h0m3.2-1.6h0m-2-0.1h0m4.2-3.8h0m-5.8 4.5h0m1.1-0.2h0m3.1-4.3h0m-0.2 1.5h0m0.2 3.1h0m-1.1-6.2h0m-3.4 6.3h0m5.7 2.1h0m-6.7 1.1h0m0.9-1.8h0m-0.8-1h0m4.9-3.7h0m-4.3 8.1h0m5.8-5.7h0m-1.4 1h0m0.4-0.5h0m-2-1.2h0m0.2 0.8h0m-0.1-3.4h0m-5.4 6.7h0m8-10.8h0m4.7-0.1h0m-13.1 8.4h0m4.6-4.2h0m-1.7 6.3h0m3.4-0.5h0m-4.2 2.7h0m3.8-8.4h0m0.8-1.7h0m-6.4 8.8h0m5.2-3.4h0m-6.3 3.4h0m3.4-0.8h0m1.4-6.1h0m-1.8 4.1h0m5.1-1.9h0m-0.6 2.5h0m1.1-3.1h0m-2.9 2h0m-1.5 0.6h0m-2 0.6h0m8.4-5.3h0m-8.1 5.5h0m5.4-4h0m-2.1 2.1h0m-2.1-1.7h0m-0.9 5.9h0m7.7-4.5h0m-3.7 3.2h0m4.9-3.6h0m-7.6-2.1h0m-0.1 4h0m5.2-4h0m3.5-1.1h0m-5.9 2.9h0m-4.4 4.2h0m4.9-6.2h0m0.5 4.2h0m-0.8-4.1h0m-3.1 5h0m5 0.5h0m1.3-5.3h0m1.1-2h0m-5.3 7.5h0m5.1-4.8h0m-7 3.5h0m-4.7 4.2h0m10.1-7.4h0m4.1-0.7h0m-10.4 4h0m2.1 0.4h0m-5.1 1.6h0m7.7-9.6h0m-2.3 3h0m1.8 3h0m-0.7-2.5h0m-3.9 4.9h0m4.1-0.7h0m2.3-6.2h0m-10.1 10h0m10.1-8.5h0m-2.4-0.2h0m0.8 2.1h0m-0.5 1.6h0m2.7-6.8h0m-6.1 7.4h0m-0.4 2h0m7.8-5.9h0m-1.4 0.6h0m-4.4 7.8h0m2.2-5h0m-1 1h0m6.9-8.3h0m-7.2 7.9h0m3.4-2h0m-6.2 3.3h0m3.3-3.7h0m0.7 3h0m-5.8 1h0m6.7-6.2h0m-4.4 5.9h0" stroke="#ee0000" stroke-width="0.8" stroke-linecap="round" opacity="0.5" fill="none"/>
<path d="M464.7 183.6h0m-0.5-0.8h0m5-2.2h0m-3.9 2.7h0m1.5-1.7h0m-6.4 1.7h0m4.3-0.9h0m3.4-3h0m-0.9 1.4h0m-5.2 0.9h0m5.4 1.5h0m-1.2 0h0m-4.4-2.2h0m4.9-0.3h0m-6.1 3.1h0m3.9 1.9h0m2.5-3.4h0m-3 0.3h0m-2.6 2.5h0m0.6-1.4h0m4.7-2h0m-0.4-1.9h0m-1.7 4.4h0m0.8-2.4h0m0.2 1.2h0m-0.4 2.6h0m3.7-3.3h0m-5.8 1.1h0m2.9-2.6h0m2.1 2.2h0m-8 0.1h0m4 0.8h0m-2 0.1h0m2.3 0.4h0m5.5-2.9h0m1.3-3.7h0m-3.2 1.6h0m-3.8 5.2h0m2.5-2.5h0m-0.3-0.1h0m-1.1 1.3h0m1.7-2.4h0m0.9 2.4h0m-0.1 1h0m-0.7 0.1h0m2.6-4.1h0m-5.6 3.5h0m3 1.7h0m-1.6-2.4h0m2.9 1.4h0m-5.7-0.4h0m9-2.6h0m-4.2 1.2h0m-5.5-0.3h0m3.2 1.7h0m-0.3-1.8h0m4.3-1.8h0m1.4 2.3h0m-5.8-1.9h0m0.3-0.2h0m12.9 0.3h0m-17.2 0.6h0m7.5 0.6h0m-1.6-1.3h0m0.7 0.8h0m0.3 0.6h0m-1.5-1.1h0m-1.3-1.1h0m-5.2 1.4h0m6.4 1.5h0m-1.8 0.4h0m-3.6-1.2h0m5.3 0.5h0m1.2-1.5h0m-6.5 1.6h0m6.6-1.1h0m-0.8 0.9h0m0.1 0.3h0m-1.2 0.5h0m-5-0.7h0m-0.8 0.9h0m3.8-0.1h0m2.5-4.1h0m-6.3 3.7h0m9.3 0.2h0m-2.7 2.1h0m-6.2-0.1h0m5.1-1.4h0m5.4-2.4h0m-5.5 0.5h0m-0.8-1.3h0m-1.2 4.7h0m7.4-3.9h0m-10.1 3.2h0m8.6-4.6h0m-5.5 6h0m6.2-4.6h0m-1.3-0.1h0m-3.7 1.4h0m4.4 2.2h0m-2.8-2.9h0m-4.5 1.6h0m5.1 0h0m2.9-1.1h0m-7.4 2h0m4-2.2h0m5.4-1.8h0m-6.7 3.5h0m0-2h0m3.6-0.5h0m-2.9 2.9h0m-0.2-2.7h0m0.4-0.1h0m-0.3-2.6h0m5.2 0.1h0m-6.8 3.7h0m1.6 1.5h0m4.3-1.2h0m-5.9-1.3h0m-4.2 0h0m9.8-0.8h0m-5.4 1.6h0m8.9-2.7h0m-6.1 6.2h0m-6.1-2.1h0m8.8-2.1h0m0.2-0.3h0m-5.7 0.6h0m0.5 0h0m3.6 1.9h0m-4.8-1.5h0m5-0.7h0m-4.5 2.3h0m-3.3 0.4h0m9.8-0.3h0m-8.6 0.5h0m-1.5-3.2h0m6.4-0.3h0m-5.8 0.6h0m6.5 2.4h0m-4.2-1.8h0m-4.8-0.1h0m5.5 0.2h0m-0.2-0.1h0m4.9-0.6h0m1.9 0h0m-3.4 1.6h0m-0.2-2.5h0m-2.2 3.6h0m8.3-4.1h0m-10.2 0.5h0m6.2 1.5h0m-0.7-1.8h0m-9.1 2.1h0m8.5-4.6h0m1.3 1.3h0m-8.9 6.4h0m10.8-1.9h0m-8.1-1.1h0m0.1 0.9h0m4.7-4.7h0m1.2 2.4h0m-2.2-0.5h0m-4.9 0.8h0m0.6 0.8h0m2.5-1.7h0m0.5 0.4h0m6.5-0.6h0m-5.7 2.9h0m-1.9-2.4h0m2.6-3h0m3.3 5h0m-9.5 1.8h0m4.2-1.4h0m-1.6-3.2h0m6 2.9h0m-7.6 0.6h0m5-2.4h0m0.6-1h0m5.3 0.2h0m-5.4 1h0m-7.3 3.3h0m8.6-2.4h0m3-0.2h0m-6.8 0h0m-0.4 2.7h0m2.7-4.6h0m-8.7 4h0m1.9-1.6h0m3.9-1h0m-0.7 0.7h0m5.3 1.4h0m-5-4.2h0m2.5 1h0m3.6-0.5h0m-2.4 1.7h0m0.4-3.1h0m0.2 4.3h0m2.8-1.3h0m-6.9 0.3h0m0.4-0.6h0m2.4-1.1h0m-2 4.4h0m3.9-1.4h0m4.4-4.5h0m-2.9 4.9h0m-1.9-0.9h0m4.9-2.5h0m-9.4 2.4h0m11.8-3h0m-12.1 5.3h0m0.2-4.9h0m3.3 3.2h0m2-1.1h0m-1.4-0.3h0m-4.7 0h0m-7.2 3.4h0m8.6-3.8h0m1.2 0.4h0m4.9-3.4h0m-5.6 3.9h0m9.6-6h0m-7.5 5.4h0m-3.7-0.8h0m0.4 1.3h0m4-0.8h0m-5 2.5h0m-0.2-1.9h0m4-1.9h0m1.3 0.9h0m0.1 1.7h0m-3.2 1h0m1.2 0.1h0m0-0.2h0m-1.4 0.1h0m1.2-3.5h0m6.2 3.3h0m-7.2-0.4h0m1.7-1.8h0m-11.2 2h0m4.8-2.5h0m5.6-1.4h0m-8.8 11.5h0m8.2-10.9h0m-1.6 3.7h0m-0.5 0.1h0m-1.8 0.6h0m-8.6 4.1h0m-0.4-3.5h0m11.2-2.6h0m2.8 5.4h0m-7.3 1.4h0m4.8-3.7h0m-7.5 6.5h0m-3.3-4.2h0m9.7-1h0m-2.1-0.5h0m-7.8 0.8h0m9.4-2h0m-11.7 3.2h0m1.9 3h0m6.8-4h0m-5.1 1.6h0m6.5-4.2h0m-1.4-1.5h0m-2.6 5h0m7.6-7h0m-11 9.1h0m-1.3-0.4h0m6.7-6h0m-3.3 3.2h0m9.6-3.9h0m-2.1-2h0m-11.5 7.2h0m12.7-8.4h0m-1.2 7.2h0m5.8-6.8h0m-9.8 2.1h0m5.7 1h0m-1.3-0.4h0m1.3-2.9h0m2 1.6h0m-1.1 3.2h0m-13.1 4.4h0m14.5-6.3h0m-2.9 2.2h0m-5.9 3.4h0m0.1-2.5h0m-2 3.5h0m1.8-4.5h0m4.5 1.6h0m-0.5-0.4h0m2.3-4.9h0m-7.2 9.4h0m-1.1 0h0m6.1-4.3h0m1.6-3.7h0m-8.1 5.6h0m3.6-3.4h0m-7.2 3.7h0m1-2.4h0m10.3-2h0m5.4-3h0m-9.9 5.2h0m4.5-3.9h0m-5.9 6.2h0m4-5.1h0m6.7-2.2h0m-10.4 3.7h0m2.5-0.1h0m1.8 0h0m-7.2 1h0m-3.1 3.8h0m7.9-1.7h0m-3.3-1.8h0m-0.2 1.8h0m-1.1-1.3h0m9.6-0.9h0m-6.7 3.9h0m1.2-3.8h0m-1-5h0m3.3 9.2h0m2.5-8.9h0m-4.6 5.9h0m-5.1 2.6h0m3.8-4.4h0m-0.8-0.2h0m5.6-2.3h0m2.4-1.5h0m-11.7 10h0m8.1-5.6h0m-2.2-2.2h0m1.5 0.8h0m-3.2 0.1h0m7.3-1.2h0m-6.4 3.5h0m2 0.8h0m3-2.5h0m-2.9-0.9h0m-7.8 3.8h0m5.4-1.2h0m6.7-2.8h0m-10.2 1.9h0m3.4-2.4h0m-0.6 1.5h0m-5.6 1.4h0m1.3 3.7h0m3.2-0.8h0m4.2-5.1h0m-5.1 5.9h0m7.7-8.4h0m-2.2 0.4h0" stroke="#f01818" stroke-width="0.8" stroke-linecap="round" opacity="0.42" fill="none"/>
<path d="M457.1 189.2h0m14.8 9.9h0m-6.9-3.4h0m-2.5-4.1h0m5.7-1.7h0m-6.3-8.8h0m5.4 8.4h0m-1.2-2.6h0m-21.9 5.4h0m25-13.4h0m-18.2 7.4h0m6.2-10.5h0m17 20.3h0m-20.2-21.2h0m12.3 22.3h0m-15-7h0m12.8-17.5h0m-20.6 19.4h0m16.9-5.9h0m2-11.2h0m-4.5 3.7h0m-5.5 12.2h0m5.4-10.4h0m1.2 1.9h0m4.7 4.2h0m-1.2-0.2h0m3.1 1h0m-6.5-3.2h0m1.3-9.1h0m-0.4 9.8h0m-5 6.5h0m-0.2-6.2h0m-7.4-3.7h0m1.8 20.4h0m-1.4-21.5h0m13 18.7h0m-16.1-22.3h0m15.5 14.1h0m-13.1-16h0m3.9 19.1h0m7.7 0h0m-0.5-5.9h0m6.1-0.6h0m-3.2-6h0m-7.1 10.4h0m3.1-9.1h0m7.6 9.7h0m-5.7-9.8h0m-6.9-5.9h0m0.3 4.5h0m-4.1-1.8h0m18 15.3h0m5.3-0.9h0m-16.6 2.6h0m-1.1-10.8h0m-4.8 11.8h0m18.5-12.7h0m-11.2 3.8h0m4.3 6h0m-1.1-3.3h0m-13.3-5.3h0m-2.5 15.7h0m27.1-8h0m-3.9-17.4h0m-9.7-5.7h0m-5.2 8.4h0m6.8 12.2h0m-7.8-5.1h0m10.3 1h0m-3.9-16.9h0m-2.3 24h0m6-17.1h0m-4.6 13.1h0m-5.9 3.1h0m1.4-7.5h0m4.1-1.9h0m8.8 0.8h0m-4.4-13.4h0m0.9 16.8h0m-13.5 10.3h0m8.9-11.6h0m-9.1-10.8h0m6.3 0.8h0m9 17.9h0m-9.6-18.6h0m2.1 4.2h0m4.7 9.3h0m-5-0.8h0m12.5 12.2h0m-13.3-7.4h0m2.4-13.3h0m12.9 10.8h0m-9.7-0.2h0m-2.6-10.6h0m16.5 14.6h0m-12.9 0.5h0m8.7-8.7h0m-5.9-0.9h0m0.5 0.5h0m-1.1 5.4h0m-7.2 3.5h0m2.1-10.1h0m0.7-2.5h0m10.2 10.3h0m-1.9-14.8h0m-6 4.3h0m-1.6 15.3h0m1.5-10.8h0m7.3 8.9h0m6.2-21.6h0m-12.9 10.9h0m-10.2 4h0m-2.5-17.7h0m2.2 14.8h0m23.6-3.4h0m-25.8-9.4h0m6.9 13h0m4.3-9.1h0m-7.8-6.1h0m7.9 5.2h0m-24.7 20.5h0m27.6-6.1h0m-1.3-10.4h0m6.1-0.1h0m7.1 9.6h0m-31.9 4.8h0m32.5-8.4h0m-7.7 0.3h0m-14.4-17.8h0m15.8 16.1h0m-7.3-5.2h0m-10.9 16.9h0m4.4-11.4h0m-7.4 4.6h0m17.3-5h0m-8.2-5.7h0m13.6 4.5h0m-13.3 17.3h0m-0.6-24.3h0m-6 8.9h0m23.1 4.4h0m-17.1 4.6h0m13.1-12h0m1.1 12.2h0m-8.4-24.3h0m-2.2 28.4h0m-1-18.2h0m4.5 9.9h0m2-3.9h0m4-2.5h0m-10-5.2h0m-7.9 10.9h0m1.2-4.9h0m3.9 5.3h0m8.3 3.9h0m2.2-4.2h0m-13.4-13.6h0m1.7 6h0m-12.6 18.5h0m-0.2-9.8h0m20.5-4.4h0m-11.3 15.1h0m-0.3-24.3h0m-1.8 6.1h0m9.1 7.4h0m-13.5 0.1h0m32.3-8.1h0m-20.4 10.7h0m11.5-10.3h0m-18.6-2.6h0m17.7 14.5h0m-28.1-23.1h0m8 4.8h0m14.2 13.1h0m13.4 4.4h0m-15.9 2.9h0m-8.7-19.6h0m7.9 17.8h0m-14.2-0.4h0m21.4-10.6h0m-6 1.7h0m-0.7 8.3h0m-7.7 1.8h0m14.5-1.1h0m-24.5-21h0m22.9 9.7h0m-11.9-1.4h0m-5.6 3.6h0m5.3-2.8h0m10.4-4h0m5.6-7.9h0m-4.7 23.9h0m-5.1-1.3h0m-0.9-19.1h0m3.9 22.2h0m-7.7-21.7h0m-0.5 15.4h0m7.9 6h0m2.2-4.6h0m-4.4 2.7h0m-3.4-7.7h0m3.5 13.2h0m12.6-7.3h0m4.1-7.8h0m-12.7-0.4h0m6.7 3.7h0m-2.7 12.9h0m-5.7-15.6h0m-19.4 0.2h0m-3.3 3h0m18.4 13.3h0m-1.3-5.8h0m0.7-2.4h0m-11.1-14.3h0m10.9 8.3h0m-8.2-2.9h0m16.7-0.4h0m-7.5-3.3h0m13.4 20.5h0m-10.2-14.5h0m12.7 4.5h0m-20.3-14h0m5.8 8.7h0m11.5-0.2h0m-8.2-6.1h0m-14.1 2.3h0m12.7 0.6h0m-19 8.7h0m15.7-5.8h0m-3.9-15.2h0m19.2 13.7h0m-9.3 14.4h0m5.3-9.2h0m-9.8 0.8h0m7.8 2.1h0m-11.8-1h0m7.2 1.9h0m-1.5 5.2h0m0-3.7h0m-1.4-11.2h0m-8.6 3.2h0m12.9 10.9h0m-5.4-13.7h0m-3.7 13.9h0m5.4-13.8h0m5.5-6.3h0m-5.4 9.9h0m-2.2-8.6h0m9.7 21.8h0m-20.1-12h0m7.9-8.2h0m4.3 9.3h0m14.8-18.4h0m-34.3 23.4h0m25.6-17.7h0m-2.2 11h0m-2.7-6.5h0m-5.8-0.5h0m4.4 4.9h0m14.2 6.6h0m-28.4-1.6h0m26.2-1h0m-3-2.5h0m-3.3-6.9h0m0.7-3.4h0m4.4-1h0m-29.7 15.7h0m16.9-3.2h0m5.3-1.1h0m-11.5 1.8h0m10.8 2.2h0m14.3-9.5h0m-16.8 10h0m-4.4-13.5h0m-1.1 17.4h0m2.6-3.5h0m-4.1-1.3h0m0.6-9.9h0m6.8 6.9h0m11.9-12.9h0" stroke="#f04848" stroke-width="0.7" stroke-linecap="round" opacity="0.38" fill="none"/>
<rect x="434.75" y="158.5" width="45.5" height="45.2" rx="1" fill="none" stroke="#606060" stroke-width="0.65"/>
<line x1="457.25" y1="158.5" x2="457.25" y2="203.7" stroke="#4a4a4a" stroke-width="0.65"/>
<line x1="434.75" y1="185.3" x2="480.25" y2="185.3" stroke="#4a4a4a" stroke-width="0.65"/>
<text x="431.75" y="163.70" font-size="3.2" text-anchor="middle" dominant-baseline="central" fill="#333" transform="rotate(-90 431.75 163.70)">10</text>
<line x1="433.75" y1="163.70" x2="434.75" y2="163.70" stroke="#444" stroke-width="0.4"/>
<text x="440.95" y="207.10" font-size="3.2" text-anchor="middle" dominant-baseline="central" fill="#333">10</text>
<line x1="440.95" y1="203.7" x2="440.95" y2="204.7" stroke="#444" stroke-width="0.4"/>
<text x="431.75" y="174.90" font-size="3.2" text-anchor="middle" dominant-baseline="central" fill="#333" transform="rotate(-90 431.75 174.90)">10</text>
<line x1="433.75" y1="174.90" x2="434.75" y2="174.90" stroke="#444" stroke-width="0.4"/>
<text x="452.35" y="207.10" font-size="3.2" text-anchor="middle" dominant-baseline="central" fill="#333">10</text>
<line x1="452.35" y1="203.7" x2="452.35" y2="204.7" stroke="#444" stroke-width="0.4"/>
<text x="431.75" y="186.10" font-size="3.2" text-anchor="middle" dominant-baseline="central" fill="#333" transform="rotate(-90 431.75 186.10)">10</text>
<line x1="433.75" y1="186.10" x2="434.75" y2="186.10" stroke="#444" stroke-width="0.4"/>
<text x="463.75" y="207.10" font-size="3.2" text-anchor="middle" dominant-baseline="central" fill="#333">10</text>
<line x1="463.75" y1="203.7" x2="463.75" y2="204.7" stroke="#444" stroke-width="0.4"/>
<text x="431.75" y="197.30" font-size="3.2" text-anchor="middle" dominant-baseline="central" fill="#333" transform="rotate(-90 431.75 197.30)">10</text>
<line x1="433.75" y1="197.30" x2="434.75" y2="197.30" stroke="#444" stroke-width="0.4"/>
<text x="475.15" y="207.10" font-size="3.2" text-anchor="middle" dominant-baseline="central" fill="#333">10</text>
<line x1="475.15" y1="203.7" x2="475.15" y2="204.7" stroke="#444" stroke-width="0.4"/>
<text x="428.55" y="177.50" font-size="3.0" text-anchor="middle" dominant-baseline="central" fill="#444" transform="rotate(-90 428.55 177.50)" font-weight="normal">PerCP-A</text>
<text x="457.75" y="210.50" font-size="3.0" text-anchor="middle" dominant-baseline="central" fill="#444" font-weight="normal">APC-A</text>
<text x="458.05" y="220.00" font-size="5.6" text-anchor="middle" dominant-baseline="central" fill="#000" style="white-space:pre">UR 18.7%  LR 2.9%</text>
<path d="M206.1 266.9h0m-4.6-0.7h0m5.7-5h0m-2.1 3.3h0m0.4 0.6h0m2.1-5.6h0m0.2-0.7h0m-1.4 4.9h0m-7.3 6.5h0m8.2-4.7h0m1-3.3h0m-4.4 4.7h0m0.4-2.9h0m4.9-3.6h0m-0.9 2.6h0m-1.5 0.9h0m4.7-2.9h0m-5-1.6h0m2.6 0h0m-5.7 7.7h0m5.9-6.2h0m-4.9 0.2h0m2-2.7h0m-1-0.5h0m1.6 2.5h0m0.2 0.1h0m-5.1 5.2h0m3.8-0.6h0m-1.9 1.4h0m2.2-5.8h0m1.3 0.3h0m-1.8 2.4h0m-3.2 2.5h0m-0.7 3.2h0m6.3-5.6h0m7.5-4.9h0m-10.5 6.4h0m8.3-2.1h0m-7-0.2h0m-4 3.2h0m6.6-3.5h0m0.5-0.3h0m-2.8 3.2h0m3.9-3h0m-3.5 4.5h0m2.6-2.3h0m-5 1.7h0m3.8-3.7h0m-5.5 1.5h0m5.3-4.3h0m-6.5 7.4h0m1.6-1h0m2.3-2h0m2.6 0.1h0m-2.7 0h0m4.5-3.5h0m-2.9 0.5h0m-5.6 3.3h0m5.5-0.6h0m-5.2 1.6h0m3.3-0.9h0m1.5-6.6h0m5.3 1.8h0m-8 2.1h0m3.2-0.4h0m-0.4 1.1h0m-8.2 5h0m5.9-4.8h0m2.1-2h0m-0.7 1.4h0m-0.9 2.4h0m5.5-0.6h0m-1-2.8h0m-10.7 6.4h0m4.8 0.9h0m-0.8-6.7h0m-1 5.2h0m7-3.1h0m0.2-0.7h0m-1-0.3h0m0.4-2.5h0m-0.8 0h0m-2.5 3.3h0m1.6 2h0m-2.6-5h0m2.6 2.2h0m-2.7 4.4h0m-1.2-1.9h0m-0.4-2.3h0m0.2 4h0m1.3-2.9h0m1-1.5h0m-2.2 0.3h0m0.9 3.5h0m-3.6 1.7h0m6.3-4.7h0m-0.7-0.1h0m2.1-4h0m-0.6 2.4h0m0.8-2.6h0m-0.5 4.6h0m-0.3 0.2h0m-3.2 2.8h0m2.7-4.8h0m3.8-3.8h0m-7.1 4.9h0m0.2 5.5h0m4.4-4.7h0m0.8-5.1h0m-1.8 3.8h0m-1.5-0.7h0m-4.9 6.6h0m5.2-3.4h0m-0.7-1.5h0m0.6-3.6h0m-5.1 5.8h0m9.2-7.3h0m2.9 3.9h0m-6.3 3.9h0m-4 1.4h0m1.1-3.8h0m2-1.4h0m-0.5 0.2h0m-1.9 4.8h0m1.3-6.5h0m0.5 5.3h0m-0.2-4.7h0m1.1 4.3h0m6.2-6.1h0m-0.8-0.4h0m-10.2 8.3h0m3.2-3.5h0m4.3 2.4h0m-6.8-0.4h0m5.3-3.6h0m-7.1 6.3h0m2.4-3.3h0m8.7-3.3h0m-5.7 0h0m1.8-1.3h0m-1.2-1h0m-3 6.8h0m-0.2-1.5h0m2.4-0.8h0m-1.7 2.8h0m0.8-3.8h0m4.2-3.9h0m-1.3 1.7h0m4.1 1.5h0m-8.3-1.4h0m4.6-2.2h0m-1.1 6.3h0m3-3.5h0m-1.5 2.4h0m-5.5 2.7h0m1.5-1.9h0m1.8-4.1h0m-0.8 3.1h0m2-1.7h0m-1.6-0.8h0m3.4 2.1h0m-0.6 1h0m-0.4-5.8h0m-1.3 5.8h0m2-2h0m-4 4.3h0m1.8-3.9h0m4.4-3.5h0m-4 6.3h0m2-6.6h0m1.1 3h0m2.2-6.2h0m-11.1 13h0m8.8-8.9h0m-5.5 5.9h0m1.6-4.3h0m-2.2 3.5h0m0.5 0.5h0m4.8-1.6h0m-1-1.4h0m-0.4-1.2h0m-1.5 0.3h0m0.8 3.8h0m-4.5 3.9h0m5.8-4.7h0m-1.3 1.9h0m4.4-4.3h0m-2.2 1.1h0m-0.7-0.1h0m-3.6-3.2h0m3.8 0.5h0m-5-0.3h0m5.1-0.8h0m-1.8 3.5h0m-0.1-3.7h0m-1.9 4.2h0m-1.9 1.1h0m0.3-1.1h0m2.1 0.4h0m-1.6-0.9h0m1.7-1.2h0m1.7 1.9h0m-9.5 6.4h0m6.5-5.1h0m-0.8 1.4h0m0.1-0.3h0m-2.7 4.5h0m10.4-10.9h0m-7.7 0.8h0m4.5 0.1h0m0.3 1.1h0m3.7-1.6h0m-7.7 5.4h0m2.7-3h0m1.6 1.2h0m-1.8 3.3h0m1.9-2.7h0m-1.2-2.6h0m2.1-0.2h0m-2.7 2.4h0m-5.1 2.7h0m4.2-1.3h0m-0.3-2.9h0m-0.1 2.3h0m-0.8 1.4h0m3.6-3.8h0m-6.3 3.1h0m2.3-2.2h0m3.1 2.7h0m-2.9-3.6h0m0.8 2h0m-3.9-0.3h0m7.1-3h0m3.1 0.2h0m-0.8-3.7h0m-1.4 1.5h0m-5 6.9h0m-0.4 0.3h0m8-7.3h0m-1.4-0.6h0m-4.1 3.3h0m-2.8 1.7h0m-1.9 4.7h0m1.7-1.1h0m-0.1-1.7h0m-4.1 1.2h0m5.4-2.1h0m2.3-1.2h0m2-0.4h0m-5.1 2.5h0m-1.1-1.6h0m7.6-5.3h0m-1.1 7.7h0m-1.6-1.9h0m-1.8 3.9h0m0.5-3.6h0m-0.8-2.8h0m2.4-1.7h0m-5.7 7h0m4.1-4h0m1.1-1h0m-0.7 2.1h0m-5.1-0.8h0m5.1 2.4h0m1.8-5h0m-1.9 4.5h0m-2.6-0.8h0m1.6 1.5h0m1.2 0.8h0m-3.2-3.8h0m4.3-1.5h0m-0.8 2.3h0m-0.4 2.7h0m-1.5 0.8h0m2.4-6.2h0m-3.5 4h0m0.3 0.1h0m5.1-0.9h0m-8.5-0.3h0m6.6-1.9h0m-3.7 2.8h0m6.7-3.5h0m-2.8 3.2h0m-1.7 0.9h0m-1.6 1h0m3.9-2.8h0m-4.4-1.4h0m2.6-0.2h0m-1.3 3.3h0m4.5-3.5h0m-4.9 0h0m-2.2 2.5h0m7.3-2.7h0m-7.4 3h0m1.4 2.5h0m5.5-2.3h0m-3.2-1.3h0m6.9-4.7h0m-5.1 3.8h0m3.8-1.6h0m-8.1 8.2h0m10.9-11.8h0m-13.1 2.8h0m6.2 1.4h0m-6.8 4h0m4.2-1.8h0m-0.8-0.1h0m0 3h0m6.5-4.9h0m-3.3-0.4h0m-4.8 4.7h0m2.3-0.3h0m-1.5-1.7h0m5.6-1.9h0m-5.1 3.5h0m3.2-1.5h0m-2.9-2.6h0m1.2 3.2h0m-2.9-0.7h0m5.6-1.9h0m-1.3 0.2h0m-3.4 3.8h0m-2.6 1.9h0m1.2 0.7h0m-3.5 0.6h0m8.7-4.4h0m-0.7-3.2h0m-1.2 2.8h0m4.5-3.9h0m-3.4 2.1h0m-1.5 0.9h0m-1.8 3h0m3.1-3.4h0m-2.7 3.7h0m-1.6-0.7h0m5.4 0.3h0m0.1-0.8h0m-4.7-0.8h0m7.4-3.7h0m-3.4-0.2h0m4.9 0.2h0m-6.3 2.6h0m-0.6 1h0m1.1-0.3h0m-2.3-4.9h0m0.4 6.2h0m3.3-0.1h0m-0.9-9.1h0m-4.5 10.9h0m7.8-8.2h0m-7.1 4.1h0m3.7 4.2h0m-4.6-0.9h0m2-3.6h0m1.2 0.3h0m2-3.8h0m-6.6 8.5h0m7.7-7.4h0m-4.8 8.4h0m4.3-6.7h0m-4.7 2.8h0m5-5.6h0m-3 3h0m4.2-2.3h0m-5.2 6.3h0m4.5-1.1h0m-0.6-3.8h0m2.6-0.2h0m-6.1-0.4h0m5.7 2.9h0m-6.2 1.4h0m-2.2-2h0m5-3.5h0m1 1.3h0m-2.3 4.9h0m0.6 3.2h0m1.2-6.9h0m-3.7 1.2h0m3.6-0.2h0m1.7-1.3h0m-7.6 2.8h0m11.1-6.5h0m-3.4 3h0m-1.5 1.5h0m-3.8 4.3h0m2-6h0m4.8-6.2h0m-2.2 6.8h0m-1.1-0.6h0m1.4-3.5h0m2.8 2.6h0m0.8-0.5h0m-3.1 2.3h0m-2.9 2.8h0m-4.3 0.1h0m6.4-4.4h0m0.6 1.8h0m-2.5 0.6h0m-2 0.6h0m-3.4-0.2h0m5 1h0m1.5-3.8h0m-4.3 4.3h0m6.8-7.8h0m-7.7 7.3h0m1.6 3.6h0m3.3-4.5h0m0.8-2.7h0m0.7 1.6h0m0.8-2.3h0m-3 3.9h0m3.6-8h0m-1.8 4.9h0m-2.4 2.9h0m-4.7 4.8h0m2.8-4.7h0m0.7 2h0m-0.6-1.4h0m1.9 2.1h0m0-8.1h0m-1.4 7.5h0m1.7-4h0m-8.3 6.8h0m11-9.1h0m-4.9 3.8h0m3.4-0.8h0m0-0.4h0m-2.4-0.6h0m-0.4 0.1h0m-2.2 2.2h0m2.3-3.8h0m1.2 0.3h0m-4.1 5.9h0m0.9-4.4h0m6.6-1.9h0m1.7 1.4h0m-3.7 0.9h0m-2.3 1.2h0m-1.8 0.4h0m3.1 1.5h0m-0.7-1.7h0m1.4-1.4h0m-3.1 1.9h0m7-4.8h0m-3.9 3.9h0m0.6 1.8h0m0.7-6.1h0m-5.2 4.1h0m2 0.6h0m7.1-4.3h0m-9.7 7h0m8.2-5.5h0m-1.9-0.4h0m-4.7 2.4h0m6.5-3.9h0m-5.3 2.8h0m3.7 0.4h0m-3.2 0h0m2.1-0.3h0m-2.3 1.1h0m3.9-3.6h0m-1.7 2.3h0m-3.9 5.1h0m0.5-2.2h0m2.9-1.9h0m-0.3-1.2h0m1.3-0.5h0m-0.1 4.2h0m-4-1.5h0m-0.8 0.4h0m0.7 2.1h0m-7.1 1.9h0m9.1-5.4h0m-0.1 1.8h0m2-4.6h0m-1.7 5h0m1.2-6.4h0m-3.7 8.1h0m-1.7-2.4h0m4.7-1.4h0m-2.1 1h0m2.6 0.4h0m-0.6-2.9h0m0 0.1h0m-1.2 1.6h0m3.2 0.8h0m-3.8-0.6h0m-2.8 1.9h0m3.9-2.2h0m1.2-1.7h0m-2.9 0.1h0m3.1 1.1h0m-1.8 1.6h0m-5.1 5h0m5.8-6.5h0m0.2 1h0m1.9 0.7h0m1.3-2.9h0m-6.2 1.3h0m1.5 2.5h0m5.2-0.6h0m-6.4-0.4h0m2.8-3.1h0m-1.2 2.6h0m3.4-5h0m-1.2 2.3h0m-1.3 0.4h0m-1 4.3h0m-1.7-5.2h0m3.5 2.9h0m-0.5-0.2h0m-2.3-1.8h0m9.1-3.1h0m-5.5 4.1h0m-1.2-0.2h0m-5.5 2.3h0m3.8-2.8h0m1.4 2.1h0m-1.9 0.9h0m5.5-4.3h0m-5.3 5.9h0m-3.7 2.1h0m7.2-8.2h0m-1.3 4.4h0m3.1-2.9h0m-6.6 1.7h0m0.3 0h0m2.1-0.7h0m-1.6-0.6h0m-1.8-0.6h0m4.2 0h0m-4.2 5.7h0m4-6.3h0m-1.1 1.4h0m-8 2.2h0m6.1-4.4h0m-0.9 4.2h0m-1.3 1.6h0m2.2-0.2h0m-0.5 0h0m10.3-10h0m-2 5.2h0m-6.6 3.3h0m0.5 0.1h0m4.5 0h0m-4.4-1h0m4.1-4.2h0m-3.4 3.8h0m1.4-0.9h0m1.8-1.4h0m0.2-2h0m-0.4 3.9h0m-4.1 1.7h0m3.9-4.1h0m-3.5 6.3h0m4.3-7.1h0m-3.4 4.4h0m0.6 0.2h0m4.8-2h0m-2.3-1.2h0m-3.3 5h0m-1.4 0.4h0m-2-0.4h0m3.1 1h0m1-7h0m3.6 3h0m-7.8 2.7h0m3.5-1.2h0m-4.6-1.2h0m6-1.4h0m-2 2.3h0m1.9-1.1h0m8.9-1.4h0m-11.3 4.6h0m3.4-3.8h0m-5.8 7.7h0m2.2-8.2h0m0.7 1.4h0m-2.9 0.3h0m4.4-0.3h0m1.6 0.3h0m-0.6-4.3h0m0 4.3h0m-1.6-1.7h0m-2.1 3.5h0m3.5-3.1h0m-0.3 1.3h0m-2.5-1h0m2.1-0.8h0m-1.5 2.8h0m2.7-3.3h0m-1.8 4.1h0m1.1 0.9h0m-0.7-2h0m-0.8-2.9h0m0.3 2.8h0m-0.9 0h0m0.8-2.6h0m1.2 1.7h0m-7.2-2h0m5.4 4.7h0m-2.5 0.6h0m0.8-2.4h0m3-0.4h0m1.4-3.9h0m-4.1 2.2h0m0.3-0.5h0m1.1 2.2h0m1.1-2.9h0m-1.5-1.5h0m2.1 3.2h0m-4.9 2.7h0m5.6-0.6h0m-7 1.8h0m3.5 0.6h0m-0.8-3.9h0m5.6-1.2h0m-9.6 6.2h0m4.2 1h0m5-9.4h0m-5.8 8.1h0m1.5-3.4h0m-0.8-0.6h0m-5.6 3.5h0m12.9-7.8h0m-9.4 6.3h0m3.5-4h0m0.1 0h0m2-2.6h0m2.2 5.2h0m-3-1.1h0m-7 4.1h0m9.9-5.7h0m0.4-0.8h0m-7.9 3.5h0m7.4-0.2h0m-1-4.2h0m-3.1 3.4h0m4.9 0h0m-2.1-1h0m-1-0.4h0m3.8-0.6h0m-2.2 2.5h0m0.2-3.9h0m-3.8 4.4h0m2.8-2.8h0m1.9-1.2h0m3.8-2.8h0m-10.1 9.8h0m0-2.8h0m1-0.8h0m1.9-0.9h0m9.9-5.9h0m-10.4 8.3h0m3.6-3.3h0m-6.9-0.5h0m8.4-2.1h0m-3 2.3h0m1.5 2h0m0.4-6.4h0m-2.5 2h0m0.4 2.6h0m2.4-1.2h0m-6.4 6.8h0m-1.8 1.6h0m6.2-3.7h0m-1.9 1.8h0m-1.7-7h0m5 0.7h0m-5.1 3.3h0m-2.2-0.2h0m6.8-1h0m-2.9 0.5h0m-2.6 4.3h0m5-6h0m2.2-2.3h0" stroke="#ee0000" stroke-width="0.8" stroke-linecap="round" opacity="0.5" fill="none"/>
<path d="M214.8 250.9h0m-2.6 6.4h0m3.3-2.5h0m-3.9-0.6h0m1.8 0.4h0m8.3-4.4h0m-2.5 3.8h0m-2.3 0.5h0m1-3.8h0m-7.1 8.2h0m4.6-5.8h0m-3.1-0.5h0m4.6-1.8h0m-1.7 3h0m2.7-2.1h0m3.8-1.3h0m-9.3 3.3h0m-0.3-0.7h0m4.8-0.7h0m1.1 1.5h0m6.2-1.7h0m-9.8 1.6h0m2-0.9h0m-2 1h0m5.4-1.4h0m-6.1 2.1h0m3.1-1.2h0m1.5-1.4h0m4.9-1h0m-10 2.5h0m7.1 0h0m-4 0h0m-0.9 1.1h0m1.2-2.7h0m-5.8 3h0m8.7-2.3h0m-7.4-0.3h0m0.1 1.9h0m-2 1.8h0m7.5-1.2h0m-5.4-1h0m3.5-1.2h0m-2.7-0.6h0m3.4-2.1h0m-2.6 0.6h0m6.6 2h0m-2.7-0.4h0m2.1-0.6h0m3 0.4h0m-8.6 3.1h0m3.1-0.2h0m-1.8 0.1h0m-0.1-1.4h0m2.8-4.8h0m-3.8 4.9h0m-5.3-1.4h0m4.3 0.4h0m2.9-0.7h0m-0.8 1.5h0m-1.7 0.8h0m1.8 1.2h0m-0.7-2h0m-2.5 0.7h0m2.8-1h0m2.6-4.8h0m-3.9 3.9h0m1 4.2h0m6.6-3.3h0m-4.3 0.6h0m3.6-1.7h0m-4.1 3.3h0m-7.2 0.3h0m9.3 0.3h0m-1.8-3h0m-0.5 1h0m-2.5-0.9h0m3.8 2.7h0m-6.4-0.4h0m4.2-2.2h0m-2.6 0.3h0m3.1-0.8h0m2.7 0h0m-2.4-0.3h0m0.5 0.9h0m1.1-1.4h0m-0.6 2.2h0m-4.4 0.5h0m4.6-1.7h0m-7.1 3.5h0m9.4-4.1h0m-1.6-0.1h0m4.1-0.5h0m-1.4-0.6h0m-9.1 5h0m7.3-5.1h0m-0.2-1.3h0m0.9 2.2h0m0.6 1.4h0m-3.9-0.9h0m-5.6 3.5h0m6.1 0h0m-5.2-2.4h0m3.5-0.6h0m6.9 1.6h0m-11.3-1.6h0m3.3-1.5h0m-1.3 2.8h0m5.1 0.5h0m-1.6-1.8h0m-3.1 0.8h0m-3.4 5.3h0m3.1-4.4h0m1.5 1.1h0m-7.9 4.2h0m6.8-6.3h0m1.1 4.9h0m-2-0.4h0m-5.1 1.8h0m5.2-3.5h0m-1.6-3.7h0m-2.6 5.3h0m2 2.6h0m0.7-7.2h0m4.4 0.1h0m0.2 0.6h0m0.7-2.1h0m-8.7 14.4h0m5.9-12.7h0m3.5 0.3h0m-2.5-1.6h0m1.3 1.1h0m0.6 1h0m-1.4 0h0m-6.7 9.7h0m0.3-4.6h0m4.8-0.6h0m4.1-6.6h0m-4.4 6.5h0m-4.3 2h0m4.6-8.2h0m-0.7 3.7h0m2.6-1.8h0m-2.6 4.4h0m-1.6 1h0m1.5-3.1h0m3.3-0.3h0m-8.8 8h0m5.4-3h0m-8.8 2h0m8.8-7.3h0m-1.9 2.5h0m7.9-3.9h0m-9.2 6.8h0m7.9-5.3h0m-7 4h0m6-10.8h0m-3.6 6.7h0m-4.5 7.9h0m6.8-8.5h0m-8 12.8h0m3.9-10.5h0m1.8-1.9h0m-2.5 2.8h0m1.7-1.3h0m0.1-0.4h0m3.3-1.1h0m-9 5.8h0m7.1-8.6h0m2.4-0.6h0m-4.7 8.2h0m4.1-5.3h0m-1.4-0.5h0m-1.5 4.2h0m-2.3 0h0m0.9-0.6h0m-3.3 0.3h0m-2.4 0.4h0m6.4-6.7h0m-2.9 10.4h0m-1.3-5.4h0m3.1-1.1h0m4.3-2.1h0m-1.1 0h0m-10.5 8.3h0m6-2.7h0m2.7-0.9h0m-4.2 1h0m3.1 2.9h0m6.3-7.5h0m-1.5-3.6h0m-12 12.6h0m8.4-8.2h0m-3.5 5.6h0m3.3-2.4h0m4-5.7h0m-5.4 5.1h0m-4.8 3.5h0m5.9-1.7h0m4.9-1h0m-1.9-4.9h0m1.4 0.5h0m0.3 0.3h0m-3.5 0.2h0m-3.1 2.6h0m-1.7 0.2h0m9.4-3.4h0m-1.3-1.4h0m-6.4 1.1h0m4.2 2.2h0m4-0.7h0m-3.1 2.9h0m-6 0.2h0m-1.6 3h0m-0.4-0.2h0m6.6-3.9h0m-5 3.7h0m0.2-0.8h0m-2.9-1.2h0m-2.2 5.9h0m5.7-7.1h0m3.3-3.3h0m2.8-2.2h0m0.8 3.1h0m-8.6 2.8h0m-3 5.9h0m9.9-14.8h0m-3.2 7.3h0m2 2.1h0m1.9-2.7h0m-5-2.6h0m-4.3 8.7h0m5-3.6h0m-0.6-5.7h0m2.3 3.7h0m-3.9 9h0m7.9-11.9h0m-7 5.5h0m4.3-3.1h0" stroke="#f01818" stroke-width="0.8" stroke-linecap="round" opacity="0.42" fill="none"/>
<path d="M220.6 253.3h0m-2.9 11.7h0m8.6-16.6h0m-16.7 10h0m4.3-2h0m-5.9 2.3h0m-2.1-3h0m8.5 6.2h0m2.6-0.1h0m-14.1 5.3h0m12.1-9.7h0m-4.3 6.6h0m2.9-3.3h0m5.8 8.8h0m-9.1-8h0m-6.6-1.1h0m13.2 7.6h0m-2.5-7h0m-7.4 2.2h0m-3.1-0.6h0m9.2-7.6h0m2.6 5.1h0m2.3-2h0m-1 15h0m-2.6-5.7h0m-6.8-8.4h0m-10.4 1.5h0m6.3 2h0m-7.7-7.2h0m17.8 9.2h0m-14.5-5.9h0m35.2 8.8h0m-20-26h0m-9 24h0m9.6-0.4h0m6-2.7h0m-0.9-13.9h0m13.8 11h0m-26.3 13.2h0m10.5-3.9h0m-10.2-5h0m11-10.5h0m-7.7 6.6h0m-0.6-3.3h0m-8.1 8.3h0m12.5 5.3h0m-2.6-13.4h0m-11.5 5.5h0m31.2 11h0m-26.6-21.9h0m5.5 3.7h0m13.8 7.4h0m-15.2-0.9h0m13.8-6.9h0m-6.4-2.7h0m-5.7 4.8h0m4.3 6h0m7.3 3.9h0m-15-14.7h0m-1.7 6.5h0m4.9-2.4h0m10.9 12.4h0m-11.3-10.5h0m0.3 3.3h0m1.8-11.5h0m-3.4-1.9h0m3.9 18.7h0m-9.2-3.7h0m3.8-6.4h0m21.4 11.7h0m-12.3-9.7h0m-0.6 1.7h0m0.3-5.2h0m-4.3 3.7h0m-11.2 15.4h0m18.5-18.3h0m-19 0.5h0m5.3 0.9h0m-5.6-1.7h0m13.1 9.2h0m-17.1-3.1h0m8.3-7.6h0m5.6 2.6h0m8.4 10.2h0m-8.3-9.9h0m5.8 3.6h0m5.1 11.8h0m-12.8 2.6h0m3.1-5.2h0m-3-7.6h0m0.5-0.3h0m12.3-6.8h0m-11 10.6h0m-3 3.2h0m19.1-3.2h0m-25.4-6.5h0m12.4 6.7h0m7.7 4.2h0m4.1-15.4h0m-4-5.9h0m-7.1 5h0m-16.3 14.7h0m14.8 0.6h0m-13.1-16.4h0m12.5 4.1h0m1.4 0.3h0m-3.4-3.9h0m13.6 6.1h0m-20.7 7.5h0m14-3.5h0m-2.2-4.5h0m-3-13.6h0m-12 7.4h0m15.5 18.2h0m-3.8-11.1h0m10.9-0.7h0m-4 5.9h0m-16.7-0.8h0m12.9-10.9h0m-10.4-1h0m14.7 21.2h0m-17.4-1.2h0m28.1 1.6h0m-24.6-4h0m6.9-0.1h0m-4.4-7.9h0m0.6 3.5h0m4 4.7h0m7.8-5.2h0m-7.3-5.3h0m0.4 7.8h0m1-3.4h0m-1.4-2.7h0m-5.3-13.5h0m10.5 18.2h0m-14.8 3.3h0m12.1-5.1h0m7.5 4.5h0m-9.5-14.8h0m-10.5 9.3h0m23.7 5.2h0m-13.6-4.1h0m6 10.4h0m-12.2-7.4h0m8.8-11.1h0m-11 15.1h0m11.4-11h0m-1.9 8.9h0m-0.1 4.6h0m-3-17.8h0m1.3-1.2h0m-2 16.2h0m17.4-4.4h0m-12.8-11.6h0m-10.2 9.6h0m10-7.1h0m-5.2 16h0m12.1-11.3h0m-6.4 9.2h0m1.1-7.8h0m-16.4-14.4h0m-2.9-4.2h0m16.1 19.3h0m-7.2 0.8h0m11.1-3.8h0m-16.3 11.3h0m24.2-15.1h0m4.8 4.7h0m-23.1-3.4h0m-9.1 0.4h0m2.2 11.1h0m16.3-18.9h0m2.1-2.4h0m-3.5 16.4h0m-0.8-12h0m-1.5 7.1h0m1.4 12.5h0m13.9 0.7h0m-19.7-17.5h0m5.5 8.9h0m-17.7-7.9h0m32.8-4.7h0m-21.5 4h0m10.4 4.8h0m-6.9-10.9h0m7.9 11.4h0m-10.8 0.2h0m12.3-11.3h0m-19.9 3.4h0m5.8-15.2h0m2.3 31.3h0m2.3-0.8h0m14.6 4.2h0m-16-18h0m7.5-2.9h0m-6.4-3.4h0m3.8 12.5h0m13.2 2.7h0m-19.5-3.4h0m-5.4 1h0m9.2 2.9h0m9.7-18.2h0m-5.1 20.5h0m3.9 1.8h0m-4.4 0.3h0m-11.1-13.7h0m-7.9 10.2h0m10.7 1.6h0m11.1-15.8h0m0.9 12h0m-4.3 1.6h0m-1.9-3.4h0m9.2-7.6h0m-19.2 1.8h0m19 3.3h0m7.5-20.8h0m-22.4 19.8h0m8.4 13.5h0m-3.9-17.7h0m8.7 19.2h0m-28.9-7.2h0m24.3-10.7h0m-6.6 8.5h0m4.3-4.1h0m-10.1 4h0m4.2-1.5h0m0.7 0.9h0m11.4 0.3h0m-0.8-12.2h0m-1.7 12.6h0m-9.2-3.4h0m1.8-15.9h0m7.8 12.3h0m-2 3h0m1.8 2.4h0m-6.6 3.1h0m9.6-20.8h0m-6.9 12.6h0m-9.7 14.3h0m17.6-17.6h0m-17.6 13.9h0m4.1-8.6h0m-11.4 1.4h0m26.4-2.4h0m-10.7 16.6h0m8.5-2.5h0m-2.1-1.6h0m-19.5-15.2h0m15.7 5.2h0m-8-6.7h0m5.7 8.1h0m-11.2-0.9h0m15.1-0.2h0m2.1-5.7h0m-2.5 13h0m2-3.8h0m-5.7-10.3h0m5.6 4.5h0m-12.7 8.7h0m-5.6-9.9h0m20.2 11.2h0m-9.8-6.6h0m7.8-1h0m-11.1 3.8h0m7.9-2.5h0m8.1 1.5h0m-13.4-1h0m20.4-6.6h0m-18.7-0.7h0m5.2-3.4h0m0.8 15.1h0m-10.3-12h0m-6.1 6.7h0m3.1-5.1h0m6-0.4h0m10.6 17.1h0m-25.2-18.1h0m20.3-1.7h0m-6.7 9.4h0m16.4 7.3h0m-14.3-7.9h0m-0.6-2.3h0m-6.9-11.9h0m6.8 20.6h0m9.6-21.3h0m-8.1 9.2h0" stroke="#f04848" stroke-width="0.7" stroke-linecap="round" opacity="0.38" fill="none"/>
<rect x="189.8" y="230.5" width="45.5" height="45.2" rx="1" fill="none" stroke="#606060" stroke-width="0.65"/>
<line x1="212.3" y1="230.5" x2="212.3" y2="275.7" stroke="#4a4a4a" stroke-width="0.65"/>
<line x1="189.8" y1="257.3" x2="235.3" y2="257.3" stroke="#4a4a4a" stroke-width="0.65"/>
<text x="186.80" y="235.70" font-size="3.2" text-anchor="middle" dominant-baseline="central" fill="#333" transform="rotate(-90 186.80 235.70)">10</text>
<line x1="188.8" y1="235.70" x2="189.8" y2="235.70" stroke="#444" stroke-width="0.4"/>
<text x="196.00" y="279.10" font-size="3.2" text-anchor="middle" dominant-baseline="central" fill="#333">10</text>
<line x1="196.00" y1="275.7" x2="196.00" y2="276.7" stroke="#444" stroke-width="0.4"/>
<text x="186.80" y="246.90" font-size="3.2" text-anchor="middle" dominant-baseline="central" fill="#333" transform="rotate(-90 186.80 246.90)">10</text>
<line x1="188.8" y1="246.90" x2="189.8" y2="246.90" stroke="#444" stroke-width="0.4"/>
<text x="207.40" y="279.10" font-size="3.2" text-anchor="middle" dominant-baseline="central" fill="#333">10</text>
<line x1="207.40" y1="275.7" x2="207.40" y2="276.7" stroke="#444" stroke-width="0.4"/>
<text x="186.80" y="258.10" font-size="3.2" text-anchor="middle" dominant-baseline="central" fill="#333" transform="rotate(-90 186.80 258.10)">10</text>
<line x1="188.8" y1="258.10" x2="189.8" y2="258.10" stroke="#444" stroke-width="0.4"/>
<text x="218.80" y="279.10" font-size="3.2" text-anchor="middle" dominant-baseline="central" fill="#333">10</text>
<line x1="218.80" y1="275.7" x2="218.80" y2="276.7" stroke="#444" stroke-width="0.4"/>
<text x="186.80" y="269.30" font-size="3.2" text-anchor="middle" dominant-baseline="central" fill="#333" transform="rotate(-90 186.80 269.30)">10</text>
<line x1="188.8" y1="269.30" x2="189.8" y2="269.30" stroke="#444" stroke-width="0.4"/>
<text x="230.20" y="279.10" font-size="3.2" text-anchor="middle" dominant-baseline="central" fill="#333">10</text>
<line x1="230.20" y1="275.7" x2="230.20" y2="276.7" stroke="#444" stroke-width="0.4"/>
<text x="183.60" y="249.50" font-size="3.0" text-anchor="middle" dominant-baseline="central" fill="#444" transform="rotate(-90 183.60 249.50)" font-weight="normal">PerCP-A</text>
<text x="212.80" y="282.50" font-size="3.0" text-anchor="middle" dominant-baseline="central" fill="#444" font-weight="normal">APC-A</text>
<text x="213.10" y="290.50" font-size="5.6" text-anchor="middle" dominant-baseline="central" fill="#000" style="white-space:pre">UR 8.7%  LR 3.2%</text>
<path d="M266.3 262.7h0m-0.8 2.6h0m2.1 0.7h0m5.9-7.3h0m-9.5 8.3h0m1.8-0.6h0m4.2-3.7h0m-3.3 4.9h0m-3.7-2.3h0m1.5-1.7h0m3.9-0.7h0m-1.6 2.4h0m-2.7 0.2h0m2.2 0.4h0m0.7-4h0m0 3.3h0m-1 0h0m3.4-1.8h0m-1.7 2.1h0m-5.4 1.5h0m-2.8-2.8h0m5.2 0.4h0m-3 2.3h0m2.5-2.3h0m8.1-2.6h0m-7.2 2.6h0m-3.9 4h0m1.6-2.9h0m8.2-4.3h0m0.6 0.4h0m2.8-3h0m-5.6 2.1h0m-1.4 2.8h0m3-0.2h0m-2.6 1.2h0m-3.3 1.7h0m1-1.5h0m1.6 0.7h0m1-5.3h0m2.7-1h0m-4.2 5.3h0m3-1.2h0m-1.9 3.6h0m2.8-4.1h0m-5.2 1h0m1.6-1.3h0m2.4 0.9h0m2.8-5h0m-1.5 3.3h0m0.1 0.5h0m-0.6-1.4h0m-3.2 4.4h0m0.9-1.5h0m-0.9 3.8h0m1.6-5.9h0m4.5 1.7h0m-3.7-3.7h0m-0.7 5.8h0m3-5h0m-0.1-1.2h0m-7.6 8.1h0m5.2-4.4h0m-1.7 1h0m2.9-4.8h0m-8.5 7.9h0m2.4-1.8h0m1.2 2.1h0m5.6-1.8h0m-0.4-4.5h0m-0.8-0.6h0m-1.6 0.9h0m2.7 3.4h0m0.8-6.9h0m-1.3 2.8h0m-4.2 6h0m0.9-1.8h0m-6.7 2.6h0m11-6.7h0m-4 2.9h0m1.8-3.8h0m-0.9 2h0m0.1-0.9h0m-3.4 6.1h0m-2.5-0.1h0m5.3-3.7h0m0.1-0.1h0m-1.3-2.7h0m3.2 3.3h0m3.5-5.2h0m-5.3 7.9h0m1-2.6h0m-4.2 5.3h0m4.1-7.5h0m-3.2 4.4h0m3.8-4.1h0m-2.3 2h0m1.5-1.4h0m5.6-0.2h0m-7.8 5.9h0m2.3-4.9h0m-1.3 2.5h0m6.2-6.1h0m-2.8 1.3h0m1 3.1h0m-5.2 0.5h0m-2.4 1.9h0m5.8-5h0m-0.8 1.1h0m-3.5 2.6h0m3.7-0.6h0m-1 0.7h0m-2-3.3h0m3.1-3.3h0m-4.1 7.8h0m3-5.5h0m-1.4 3h0m-0.6-1h0m6.5-0.1h0m-2.1-1.7h0m-8.3 2.8h0m3.8 1.1h0m2.5-1.7h0m0.3-5.6h0m-6.5 9.5h0m4.3-0.4h0m0.9-2.3h0m0.1 2.5h0m0.2-0.9h0m0.4-4h0m-0.2 1.9h0m0.4 3.1h0m-2.8-1.8h0m-2.9 2.9h0m4.7-3.4h0m0.2-3.7h0m-0.5 2.1h0m3.3-1.7h0m-2.6 0.6h0m4.8-3h0m-8.7 9.4h0m0.9-2.8h0m-0.6-0.9h0m5.5-1.9h0m2.2-2.8h0m-3.1 6.1h0m1.4-3.9h0m-1.1-1.2h0m5.2-5.1h0m-9.1 10.6h0m4.8 0.3h0m-5-4h0m3.3-0.1h0m-5.9 3h0m5.3-0.3h0m2.5-3.9h0m3.3-2.7h0m0-1.1h0m-10 10h0m4.4-4.2h0m-5.4 5.3h0m2-3.8h0m3.4-4.1h0m-0.3 1h0m-1.8 4.4h0m1.8-4.1h0m7.6-6.3h0m-7.5 8.9h0m6.1-11.7h0m-7.5 9.1h0m1.6-0.1h0m-3.7 0h0m6.2 1.1h0m-4-0.6h0m0.5 2h0m4.1-2.5h0m-5.2 2.5h0m-1.8-0.8h0m1.5 0.9h0m4.3-4.4h0m-5.8 4.8h0m4.1-3.5h0m3 1.1h0m-8 7.3h0m4.1-4.6h0m1.1-3.6h0m4.3 0.6h0m-4.6-0.9h0m1.8 0.5h0m-0.4 0h0m-0.6 3.3h0m2.8-4.5h0m-2.3 0.3h0m-5.3 6.6h0m5.4-4.7h0m-0.3 1.6h0m0.6-1.8h0m-1.3 0h0m-0.8-0.7h0m1 2.6h0m0.5-3.3h0m-3.1 1.7h0m0.2 3h0m7.3-8.9h0m-1.8 4.7h0m-7.7 1.9h0m5.6-2.2h0m0 1.7h0m-3.8 2.9h0m0 0.7h0m1.8-4.4h0m3.1 0.1h0m-4.2 4h0m1.8-4.6h0m0.1 3.5h0m-1.3-1.2h0m3.5-2.3h0m-5.3 1.2h0m-3.3 2.8h0m3-0.9h0m1.5-2.5h0m3.6 0.3h0m-2.1-0.5h0m-1.9 3.8h0m1.5-2.3h0m-4.7 3h0m4.3-2.2h0m2.4-7.1h0m-1.2 7.1h0m-1.7-1.7h0m3.8-0.2h0m-3.6-2.3h0m-0.7 4.6h0m1.7 0.4h0m-3.1 1.5h0m1.3-6.9h0m0.8 3.6h0m-1.4 4.2h0m2.5-1.8h0m0-3.1h0m1.8-2.1h0m-1.4 4.2h0m2.3-2.5h0m-10.8 4.2h0m8.7-4.1h0m-1.4 5.4h0m-2.8-2.1h0m5.7-4.7h0m-1.9 2.2h0m3.7-0.3h0m-1.4-0.7h0m-4.4-0.2h0m1.6 1.1h0m1.5 0.5h0m2.6 1.6h0m-8.1-0.9h0m12.3-5.4h0m-8.8 4.7h0m1.8-4.7h0m6.7 3.2h0m-12.9 3.8h0m-2.1-1.1h0m6 0.6h0m3-5h0m1.1 0.2h0m-5.5 6.6h0m2.6-1.9h0m7-3.8h0m-8.3-0.4h0m1.6 0.1h0m-0.3 2.3h0m7.8-4.2h0m-13.8 6.2h0m3.2 2.4h0m1.7-0.5h0m5.7-6.7h0m0.7 3h0m-4-4.6h0m-3.8 7.2h0m2.5-3.1h0m0.1 3.4h0m1.2-6h0m0.2 0.9h0m-3-0.2h0m-0.8 0.6h0m2.8 0h0m1.7 2.4h0m-5.7 3.8h0m-1.3-1.9h0m0.8-0.1h0m3.6-2.3h0m3.4-4.8h0m-2.2 4h0m-1.4-1.5h0m3.8-1.2h0m-1.2-1.7h0m-1.6 4.3h0m-0.1-4.2h0m-0.3 5.9h0m0.7-3.1h0m6.7-2.7h0m-3.6 2.5h0m-2.4 0.1h0m-2.9-1.3h0m-7.9 7.1h0m8.2-5.1h0m3.3 2.1h0m2.9-5.8h0m-6.3 5.8h0m-0.7-1.4h0m5.1-5.4h0m-1.2 5.5h0m-0.4 2.3h0m-1.6-1.8h0m-2.4-2.3h0m-0.4 1.7h0m6.4 2.3h0m0-4.9h0m-4.2 3.5h0m0-1.5h0m-7.1 2.6h0m12.2-2.3h0m-6.8 0.7h0m4.6-2.7h0m-9.1 9.1h0m10-8.8h0m0.2 2.6h0m-2.8 1.8h0m1.2 0.8h0m-2.6-1.8h0m3.2-4.2h0m-4 3.1h0m-5.3 5.5h0m10.1-6.1h0m-1.2-0.3h0m-2.5-0.5h0m-3.2 4.5h0m0.3-1.2h0m6.1-7h0m-1.4 3.5h0m-0.9 2.2h0m3.4-3.3h0m-1.1-1.2h0m-8.5 11.3h0m8.8-6.1h0m-6 2.9h0m-1.3-1.4h0m3.8-4.4h0m-2.4 1.1h0m4.9-0.3h0m-0.2-0.1h0m-7.9 3.6h0m1.5-0.6h0m7.5-4.1h0m-6.5 3.2h0m5.2-3.7h0m0.7 0.9h0m-0.5-0.6h0m-3.2 2.3h0m-2.5 1.5h0m8.3-0.9h0m-8.5 2.6h0m2.2-1.1h0m4.1-2.7h0m-1.6 2.7h0m5.5-5.6h0m-7.3 2.7h0m2-1h0m2.3-2.3h0m-6.9 3.6h0m2.3-3.8h0m3.6 3.2h0m-1.9 0.7h0m3.6-1.7h0m-0.2 0.9h0m-4.6 0.9h0m-3.5 2.9h0m1.8-0.4h0m3.8-1.2h0m-2.3-0.3h0m1.8-1h0m-1.1-0.2h0m0.7-5.6h0m-0.1 5.2h0m-3 4h0m1.6 1.5h0m0.7-6.3h0m-2.3 2.5h0m5.2 0.2h0m-2.6 1.4h0m4.2-5.7h0m-8.4 3.9h0m4.4 0.1h0m8.3-4.2h0m-6.3 1.4h0m-8.5 3.3h0m4.9-1h0m0.7-1.5h0m-4 2.7h0m4.6-0.1h0m0.4-2.2h0m1.9 1.4h0m-3.2 0.1h0m4.6-3.2h0m-4.8 3.5h0m-4.5-0.4h0m-1.1 4.7h0m8.5-10.4h0m-3.2 7.7h0m2.4-3.3h0m-1.5 0.3h0m-1.6 3.7h0m1.1-5.9h0m-2.9 4.9h0m8.6-3.2h0m-7.8-0.8h0m7.8-2.8h0m-0.9 1.2h0m-7.5 13.1h0m5.1-9h0m-3.6 0.9h0m7.9-3.8h0m-4.3 2.1h0m-3.8 0.4h0m-1.8 3.4h0m3.5-4h0m0.2 3h0m3.1-3.5h0m-2.3-2.1h0m1.7 2.7h0m-1.9 2.6h0m1.9-4.6h0m-1.1 2.9h0m-1.2-2.5h0m6.4-0.5h0m-9.4 3.6h0m-0.5 1.8h0m4.3-0.6h0m0.4-4.9h0m4.7-1.4h0m-5.5 5.7h0m-1.3-0.6h0m-2.7-0.3h0m3.8 0.3h0m2.7 0.5h0m-1.9 0.7h0m-3-0.9h0m-1.5 4.1h0m4-6.1h0m3-2.4h0m-1.9 2.3h0m0.9 0h0m-3.3-2h0m2-0.1h0m2.8-0.9h0m-7.1 3.9h0m9.3-5.5h0m-14.5 11h0m7.8-6.1h0m0.4 3.9h0m2.5-2.7h0m1.6-3.5h0m0.5-0.4h0m-1.8 1.6h0m1.4-1.2h0m-4.3 1.8h0m1.9-2.9h0m0.6 3h0m-1 0.3h0m-4.5 2.6h0m4-0.7h0m-1.1-0.1h0m2.9 1h0m-2.1-3.4h0m0.3 4.2h0m-4-0.2h0m2.1-0.7h0m2.3-1.6h0m-2.1 0.6h0m-3.6 1.9h0m3.6 2.5h0m-4-0.8h0m4.4-7.7h0m4 5.6h0m-0.1-8.8h0m-4.4 8.4h0m6.8-7h0m-7.7 3.1h0m-1.5 1.7h0m1.1 2.4h0m3.2-6.6h0m0.7 2.8h0m-1.2-0.2h0m1.8 1.8h0m0.8-3.1h0m-3.6 3.4h0m0.6 3h0m1.9-4.5h0m6.7-6.7h0m-11 7.2h0m-2.7 0.6h0m1.5 1.8h0m6.7-5.4h0m-2.7 1h0m3.6-1.9h0m-5.5 6.6h0m-2.2-0.4h0m5.1-3.6h0m-0.6 2.2h0m-4.3 4h0m5.2-2.8h0m-0.2-5.7h0m-2.5 5.3h0m2.4-0.2h0m0.1-2.5h0m-1.1 2.7h0m-2.3 0.7h0m-0.7-5h0m-1.8 3.3h0m8 2.5h0m-3.7-6.1h0m-4.3 5.8h0m5.4-3.6h0m-1.5 3.4h0m2.8-1.6h0m1.7-2.3h0m-0.8 0.6h0m-1.1-1.6h0m-6.7 4h0m9.2-3.8h0m-3.6 0.7h0m2.4 3.7h0m-0.1-5.2h0m-4 1.9h0m2.1 1.4h0m3.1-1.2h0m-0.7-2.2h0m-0.6 7.8h0m2.7-8.6h0m-12.9 8.6h0m4.9-2.2h0m7.3-5.5h0m-1.9 0.8h0m2.4-0.6h0m1.6-3.3h0m-9.6 9.4h0m3.8-4.7h0m3.4 3.7h0m-4-2.7h0m1.4-2.2h0m-3.9 2.9h0m4-3.2h0m-0.5 2h0m0-0.8h0m2.3 1.3h0m-4-0.1h0m-0.3 0.8h0m5-4.4h0m-8.2 8.3h0m0-2.7h0m7.5-6.1h0m-8.3 6.1h0m8.3-2.2h0m-3-0.4h0m-1.4 1.8h0m2.1-1.4h0m0.8-1.3h0m-4.9 1.8h0m2.3-2.1h0m-0.8 4.5h0m-0.1 1h0m-0.5-0.2h0m5.2-3.9h0m1.9 1.6h0m-5.2 0.4h0m4.8-2.8h0m-9.6 2h0m6-2.5h0m2.3 2.2h0m-10.6 3.3h0m4-1.5h0m-3.2-2.2h0m9 0.7h0m0.9-0.8h0m-0.8 0.5h0m-4.7 0.5h0m4-2.8h0m-5.2 4.6h0m8.7 0.2h0m-1.3-6.7h0m-6.8 3.8h0m2.2-0.5h0m5.1-2.2h0m-2.3-0.8h0m-7 4.9h0m4.2 1.6h0m-1.8 0h0m1.4-5.3h0m0.9 3.3h0m0.3-3.4h0m-3.9 3.1h0m1.8-0.2h0m8.2-2.2h0m-7.6 3.9h0m5-5.6h0m-5.4 3.1h0m-5.2 1.5h0m2.8-2h0m7-4.5h0m-5.4 5.7h0m3.3-3.1h0m2.3-1.9h0m-0.8 1.9h0m-3.9-1.4h0m4.6 4.2h0m-1.8-1.4h0m0-1.4h0m-2.5 0.6h0m-0.1-0.6h0m-1.3 1.2h0m1.9 4.2h0m6.1-5.7h0m-2.9 3.4h0m-1.2-2.2h0m1 2.6h0m4.1-4.5h0m-7.1 3h0m2.5 1.1h0m-2.2 3.5h0m0.3-8.1h0m1.6 2.4h0m1.2 2.1h0m-8.5 5.2h0m12-8.5h0m-4.2 1.3h0m-3.8 3.8h0m2.4-2.2h0m-1.9 2.4h0m-7.6-1.8h0m10.6-3.3h0m-3.6 4.7h0m-1.9-2.1h0m5.2 0.3h0m-1.6-1h0m1.4 3.4h0m6.6-5.5h0m-9.4 2.2h0m-0.1 2.1h0m-2.4 0.1h0m0.5-0.7h0m3.6 0.7h0m1.1-1h0m1.9-0.7h0m-2.2-2.1h0m-0.4 1.8h0m2.9-0.6h0m-2.2 1.4h0m1.8-5.6h0m-3.1 3.2h0m1.3 2.3h0m-2.5 4.1h0m-1.4-3.6h0m0.8-0.3h0m-0.5-0.7h0m-0.7 3.7h0m2.7-6h0m-0.7 2.4h0m-0.1-0.3h0m3.6-0.1h0m-7.7 2.2h0m6.5-1.7h0m-1-1h0m-6.9 4.8h0m5.4-3.7h0m-0.7-3.4h0m-0.5 5h0m7.2-1.8h0" stroke="#ee0000" stroke-width="0.8" stroke-linecap="round" opacity="0.5" fill="none"/>
<path d="M282.3 250.6h0m2.7 1.9h0m-3.7-1.2h0m4.6-2.2h0m-5.6 3h0m8.1-3.7h0m-6.5 7.5h0m1.4-8.2h0m-4.7 4.1h0m7.9-0.6h0m-4.5-1.1h0m4.2 0.1h0m-5.7-1h0m-3 1.7h0m-0.8 2.8h0m5.7-1.6h0m1.3-1h0m-8.3 1.5h0m2.9-1.4h0m3.7 2h0m4-2.2h0m2.8-3.1h0m-5.4 4.7h0m-4.8-1.5h0m3.5 0.8h0m5.2-1.1h0m-10.1 4.1h0m6.3-4.3h0m1.2-0.5h0m-2 2.4h0m-1.8-2h0m-1.9 3.4h0m4.7-3.1h0m-2.5-1.6h0m0.2 3.7h0m-6.7 1.1h0m7.8-2.8h0m-2.8 2.3h0m5-2.3h0m-6.3-1.8h0m-1.8 3.4h0m1.8-0.2h0m4-1.2h0m-1.5 1.9h0m1.1-3.5h0m1.6-0.2h0m-5.2 1.5h0m-2.2 2.4h0m6.2 0.1h0m0.3-2.6h0m-3.6 2.7h0m7 0.7h0m-7.1-3.9h0m3.5 2.5h0m-1.4 0.3h0m-7.7 2.2h0m1.2-0.7h0m9.9-1.4h0m-0.1-0.9h0m-5.6-1.3h0m5.1-0.4h0m-3.3 3.4h0m1.4 0.5h0m-3.9-2.9h0m5.6-0.4h0m-0.4-0.2h0m-4.6 1.8h0m-1.1-1.2h0m6.3-2.9h0m3.7 0.5h0m-6.5 2.3h0m1.1 3.2h0m3-4.5h0m-2.5-0.3h0m-6.2 3.1h0m-0.1-1.7h0m-0.8 5.7h0m8.9-6.2h0m-2.5 1.6h0m4.2-1.3h0m-7.7 0.5h0m10.7-3.2h0m-6.1 4.1h0m0-3.1h0m-3.8 3.5h0m-0.6-0.3h0m-1 1h0m10.1-3.4h0m-9.2 2.4h0m-2.7 0h0m2.4-2h0m2.8 0.3h0m3.2-2.1h0m-3.6 3.8h0m2.4-3.3h0m1.7 2.7h0m1.3 0.2h0m1.3-1.7h0m-8 3.7h0m3.1-4h0m4.3 1.5h0m-5.2-0.7h0m1.3 0.7h0m-1.2 1.8h0m7.7-2.7h0m-6.2 0.3h0m-0.8 0.2h0m-3.7 1.6h0m7.7-2.7h0m-4.6 2h0m-3.7 6.1h0m-4.2 1.9h0m1.7 3.2h0m-3.4-3.1h0m0.3-2.9h0m-0.4 5.1h0m5.9-6.8h0m-3.4 5.1h0m-3.1 4.7h0m6.6-13.7h0m-7.4 7.9h0m-4 6.2h0m12-9.5h0m-4.1-1.6h0m0.8 4.5h0m-4.1 0.2h0m5.1-2.7h0m4.3-5h0m-4.8 8.3h0m3.8-4.4h0m-6 2.1h0m-4.3 3.4h0m6.6-5.8h0m4-2.8h0m-13.3 9.2h0m5.7-0.2h0m-4.2 2.3h0m0.2 0.8h0m2.7-4.1h0m6.2-4h0m-1.8 1.5h0m0.5 0.5h0m3-7.7h0m-8.2 8.1h0m10.3-11.1h0m0.1 10.7h0m-11.1 2.7h0m-1.5 3.4h0m2.6-3.8h0m7.7-3h0m-2-1.5h0m-5.1 2.8h0m5.8-4.7h0m-2.4 5.2h0m4-4.6h0m-0.6-2.8h0m-4.5 8.7h0m-5.8-0.2h0m6.8-5.5h0m-5.5 5.6h0m6.5-3.6h0m-0.3 2.9h0m-5.6 2.3h0m8.5-8.1h0m-3.7 7.2h0m1.5-7h0m-0.2-1.3h0m1.8 1.6h0m-2.6-0.1h0m-1.1 0.7h0m-0.9 3.8h0m-3.4 1.2h0m8.9-4.2h0m-14.3 4.8h0m10-1.6h0m4.3-4.5h0m-1.2-1.6h0m-0.8-1.3h0m-0.8 1.1h0m4.1-1.4h0m-0.7 2.4h0m-6.9 7.6h0m6.4-8.6h0m-7 5.6h0m7.3-2h0m-8.8-1.5h0m8.3-4.7h0m-6.7 8.7h0m-2.3 3.1h0m6.8-6h0m-1.6 1.9h0m-0.6-1h0m-0.9-0.5h0m-7 5.6h0m10.6-3.5h0m-6.8-2.2h0m-1.5 6.7h0m8.4-8.2h0m-0.5-3.2h0m0.2 1.5h0m-1.9 6.7h0m-2.2-0.7h0m-1.6 5.7h0m4.7-7.6h0m1.7-1.8h0m-2.5-0.7h0m-3.4 5.2h0m3.1-3.5h0m1.4-2.6h0m-1.6 5.3h0m4.3-3.4h0m-6.8 5.7h0m-0.1-2.4h0m7.1-9.4h0m-8.4 10.1h0m3.1-1.2h0m2.7-4.3h0m-8.3 9.4h0m4.9-9.7h0m-3.9 7.5h0m8.6-10.2h0m-5 7.4h0m0.9 0.8h0m1.4-3.3h0m4.9-0.5h0m-10.4 3.2h0m-1.3 0.2h0m8.9-2.1h0m-2.2-1.9h0m-3.8 6.3h0m8.3-7.7h0m-0.5 4.7h0m1-7.5h0m-0.2-1.7h0m-9.3 14.3h0m0.8-5.3h0m8.9-2.7h0m-11.4 6.6h0" stroke="#f01818" stroke-width="0.8" stroke-linecap="round" opacity="0.42" fill="none"/>
<path d="M274.2 261.6h0m6.8 0.5h0m2.1-14.5h0m-1 10h0m-6.8 0.7h0m5.3 2.3h0m-0.1-5.1h0m-3.7 15.1h0m7.8-11.7h0m-8.2-0.1h0m-2.2 2.8h0m11.2 4.2h0m2.1 7.1h0m-22.9-9.1h0m6.9-14.2h0m-5.3 8.2h0m23.1 4.4h0m-15.6-0.9h0m-4.7 1.5h0m5.5-13.3h0m6.1 11.3h0m0.3-6.4h0m-4.9 13.6h0m-14.1-11.9h0m10.1 3.4h0m-1 4h0m12.8 0.6h0m0.1 5.1h0m-13.6-5.6h0m1.9 2.8h0m0.2-6.2h0m17.1 0.1h0m-27.2 2.1h0m15.5-4.6h0m-1.9 11.3h0m-4.9-8.9h0m-1.6 3.8h0m4.9-9.2h0m-13.1-3.4h0m16.9 0h0m13.5-0.7h0m-27.1 7.1h0m19.8 9.7h0m-4.2-3.7h0m6.1-15.5h0m-8.5 23.8h0m-11.2-8.2h0m19 6.9h0m-5.9-1.4h0m-13.1-13.3h0m2.6 18.4h0m-13.1-26.3h0m26 14.5h0m-9.2 7.8h0m-13.3-12.8h0m24.7 9.5h0m-16.4-7.7h0m-4.6 12.1h0m8.6-0.7h0m10.2-15.7h0m-7.8 11.2h0m4.9 6.4h0m5.5-8.8h0m-3.5-7.5h0m-10.6 9.6h0m7.7-12.5h0m-3.4 2.3h0m-3.9 15.2h0m-3.2-14.2h0m12.4 5.3h0m-3.2-11h0m-1.6 7.8h0m-6.5-1.4h0m4.3 10.2h0m17.9-5.3h0m-3.3 0.1h0m-24.4-0.4h0m22.8 9.7h0m-16.6-15.5h0m1.7 15.9h0m7.6-3.9h0m-21.5-7h0m17.3 5.4h0m-2.9 3.7h0m-1.8-18.8h0m-7.8 19.3h0m19.7-14.9h0m2.9 4.5h0m-10.1-9.4h0m-3.5 11.4h0m6.2-4.9h0m6.5 14.6h0m-14.8-7.6h0m-5.9 0.1h0m4.6-4.1h0m9.4-0.6h0m7.1-3.9h0m-12.4 8h0m3.6-0.5h0m-1.5-7.7h0m7.2 6.4h0m2 9.1h0m-10.3-15h0m-0.8 0.7h0m-12.6 16.6h0m11.7-7.6h0m6.9-4.8h0m5.7 0.5h0m-8.6 1.2h0m-17.7-6.4h0m12.3 17.1h0m10.8-6.2h0m0.4-7.1h0m8.4-0.1h0m-25.1 6.1h0m21.2-3.8h0m-6.7 6.2h0m9.6-2.7h0m1.2-2.2h0m3.4-12h0m-9.4 12h0m-6.8-11.3h0m7.9 7.8h0m-17-3.1h0m6.3 5.3h0m-5.6-7.4h0m10.9 6.1h0m12.7-2.5h0m-10 15.6h0m-7.8-5.4h0m4.1-6.8h0m10.7-7.5h0m-18.1-5.6h0m4 19.9h0m-1.1-1.2h0m-4.1 2.3h0m5.2-11.7h0m14.4 3.4h0m-8.8 0.9h0m1.1 0h0m-15.6 1.2h0m13.8 0.7h0m-9.9-1.9h0m7.7-8.7h0m-11.5 12.6h0m15.3-3.7h0m-18.6-3.1h0m15 6.5h0m7.8-1.2h0m-1.9 8.7h0m-26.9-4.8h0m15.5-3.7h0m5.3-10.8h0m-9.1 10.5h0m5.9 2.1h0m-4.8-1.2h0m15.4-13.5h0m-17.1 12.3h0m17.3 6.9h0m-4.9-2.3h0m-14-10.5h0m21.3-1h0m-13.8-8.5h0m0.5 1.1h0m4.4 22h0m-0.4-9.4h0m-5.8 2.7h0m-5.7-7.2h0m26.6-6.1h0m-22.2-0.7h0m14.6 8.4h0m-20.4-7.4h0m19.4 13.9h0m-2.6-5.3h0m0.8 9.9h0m-1.9-21h0m-21.4 1h0m18.2-0.3h0m-11.1 11h0m1.7-9.5h0m14.9 12.8h0m-1.4 3h0m5.3-6.9h0m-13.3-12.4h0m-0.5 8.3h0m10.5 9.2h0m3.5 3h0m-2.4-4.1h0m-8.5-6.6h0m-1.3-4.1h0m3.3 6.3h0m-19.8-18.9h0m10.7 16.1h0m3.4 12.6h0m-2.7-18.4h0m8.3 16.3h0m10.3-14.5h0m-15.5 4.2h0m14.3 8.1h0m-12.1 0.2h0m-3.1-6.7h0m2.6-2.1h0m-1.7 6.1h0m4 8.1h0m5-11.2h0m-24.9-10.1h0m13.8 7.9h0m-6.6 0h0m11.6-1.9h0m-2.1 3.9h0m-4.6-5.5h0m4.6 8.1h0m-7.4-16.6h0m0.7 18.3h0m-5.4 2.9h0m8.4-5.7h0m-1.6 3.3h0m6.7-1.6h0m-16.2 2.5h0m2.2-7.5h0m17.8 1h0m-0.2 2.6h0m-3.3-7h0m7.4 13.8h0m-12.5-14.4h0m6 1h0m-0.5 11.2h0m4.2 4.7h0m-1.6-18h0m-10.6 11.2h0m22.2-6.3h0m-22.7 12.5h0m6.3-5h0m9.7-12h0m-11.5 3.1h0m7.1 8.6h0m-8.2-0.7h0m-10.4-1.5h0m17.1-2.5h0m-14.4-0.7h0m3 11h0m6.3-11.7h0m1.4 5.2h0m1.5 0h0m-8 4h0m3.5-2.4h0m5.8 2.2h0m-2.5-18h0m-8.6 8.8h0m20.3-1.3h0m-10.6 11.8h0m-5-6.7h0m6.8-6.4h0m-0.4 11.6h0m6.5-9.7h0m-10.6-2.8h0m-5.6 10.9h0m-3.1-7h0m10.7-8h0m-7.7 18.1h0m3.5-8.9h0m1.9 5.9h0m12.3 0.6h0m-5.4-2.5h0m-13.8 5.2h0m5-15.4h0m1.4 0.6h0m6.3 10.7h0m6.9-5.8h0m-14.9-1.3h0m-4.6-3.2h0m25.3-0.2h0m-19.6 9.8h0m5.7 1h0m-9-12.9h0m17.4 2.7h0m-11.3 6.3h0m-13.9-2.8h0m9.5 5h0m2.7-19.5h0m8.8-2.2h0m-9.6 13.1h0m-1.6 4.8h0m12.5-6h0m-12.5 11.3h0m9-0.1h0m-1.4-6.8h0m-6.6-1.6h0m11.2 13.8h0" stroke="#f04848" stroke-width="0.7" stroke-linecap="round" opacity="0.38" fill="none"/>
<rect x="251.25" y="230.5" width="45.5" height="45.2" rx="1" fill="none" stroke="#606060" stroke-width="0.65"/>
<line x1="273.75" y1="230.5" x2="273.75" y2="275.7" stroke="#4a4a4a" stroke-width="0.65"/>
<line x1="251.25" y1="257.3" x2="296.75" y2="257.3" stroke="#4a4a4a" stroke-width="0.65"/>
<text x="248.25" y="235.70" font-size="3.2" text-anchor="middle" dominant-baseline="central" fill="#333" transform="rotate(-90 248.25 235.70)">10</text>
<line x1="250.25" y1="235.70" x2="251.25" y2="235.70" stroke="#444" stroke-width="0.4"/>
<text x="257.45" y="279.10" font-size="3.2" text-anchor="middle" dominant-baseline="central" fill="#333">10</text>
<line x1="257.45" y1="275.7" x2="257.45" y2="276.7" stroke="#444" stroke-width="0.4"/>
<text x="248.25" y="246.90" font-size="3.2" text-anchor="middle" dominant-baseline="central" fill="#333" transform="rotate(-90 248.25 246.90)">10</text>
<line x1="250.25" y1="246.90" x2="251.25" y2="246.90" stroke="#444" stroke-width="0.4"/>
<text x="268.85" y="279.10" font-size="3.2" text-anchor="middle" dominant-baseline="central" fill="#333">10</text>
<line x1="268.85" y1="275.7" x2="268.85" y2="276.7" stroke="#444" stroke-width="0.4"/>
<text x="248.25" y="258.10" font-size="3.2" text-anchor="middle" dominant-baseline="central" fill="#333" transform="rotate(-90 248.25 258.10)">10</text>
<line x1="250.25" y1="258.10" x2="251.25" y2="258.10" stroke="#444" stroke-width="0.4"/>
<text x="280.25" y="279.10" font-size="3.2" text-anchor="middle" dominant-baseline="central" fill="#333">10</text>
<line x1="280.25" y1="275.7" x2="280.25" y2="276.7" stroke="#444" stroke-width="0.4"/>
<text x="248.25" y="269.30" font-size="3.2" text-anchor="middle" dominant-baseline="central" fill="#333" transform="rotate(-90 248.25 269.30)">10</text>
<line x1="250.25" y1="269.30" x2="251.25" y2="269.30" stroke="#444" stroke-width="0.4"/>
<text x="291.65" y="279.10" font-size="3.2" text-anchor="middle" dominant-baseline="central" fill="#333">10</text>
<line x1="291.65" y1="275.7" x2="291.65" y2="276.7" stroke="#444" stroke-width="0.4"/>
<text x="245.05" y="249.50" font-size="3.0" text-anchor="middle" dominant-baseline="central" fill="#444" transform="rotate(-90 245.05 249.50)" font-weight="normal">PerCP-A</text>
<text x="274.25" y="282.50" font-size="3.0" text-anchor="middle" dominant-baseline="central" fill="#444" font-weight="normal">APC-A</text>
<text x="274.55" y="290.50" font-size="5.6" text-anchor="middle" dominant-baseline="central" fill="#000" style="white-space:pre">UR 9.2%  LR 1.9%</text>
<path d="M323.4 264.8h0m6.9-3.4h0m-1.3-1.3h0m-3.5 8.3h0m4.1-7.5h0m-1.1-0.6h0m2.8 1.8h0m-5.1 4.4h0m-1-3.1h0m14.4-6.8h0m-10.5 5.6h0m-4.8 2.1h0m7.1-5.4h0m-5 7.6h0m9.7-6.4h0m-6 2.3h0m3.5 0.1h0m-3.8 2h0m3.2-3.9h0m-3.8 1.2h0m1.9-2.6h0m1-0.7h0m-1.8 4h0m2.4-5.3h0m-3.1 1.3h0m0.6 2.4h0m0.4 1.1h0m-2.6 2.9h0m1.5-1.7h0m1.3-4.2h0m-2.3 5h0m-4.9 2.4h0m9-6.3h0m-2.7-0.3h0m-1.9 7.5h0m0-5.4h0m0.9 0.5h0m5.3-2.5h0m-4.2 4.3h0m1.1-3.6h0m-2.9-1.1h0m-7.4 5.2h0m11.5-5.8h0m2 0.1h0m-3.3 2h0m-1.9 1.5h0m0.1-0.6h0m0.1 2h0m0.6-3.1h0m1.1 0.6h0m-0.8-0.8h0m5.5 0.4h0m-1 0.3h0m-6.1 3.7h0m0.8-1.9h0m0.1 0.2h0m-0.5 2.4h0m3.8-5.3h0m-6.1 6.9h0m6-7.2h0m-3.6 2.8h0m7.5-4.8h0m-0.4 3.1h0m-8.5 2.1h0m0.3 0.3h0m2.9-2.9h0m-3.1 1.1h0m1 3.2h0m-0.9 0.9h0m-1.1-0.1h0m-0.7-0.8h0m3.9-0.2h0m-6 1.1h0m11.7-4.3h0m-7.4 5.4h0m-0.9-2.6h0m2.9-5h0m-3.6 7.1h0m0.8-5.1h0m2.8-1.3h0m-2.9-2.4h0m3.2 6.9h0m0.5-3.7h0m-3.3 0.5h0m-0.3 0.6h0m3.5-0.6h0m-1.2 0.7h0m3-1.1h0m0.6-0.3h0m-3.8-1.2h0m-0.9 1h0m2.2 0.2h0m-2.6 4.1h0m-0.3-2h0m5.5-4.4h0m-3.2 2.8h0m0.2-1h0m-4.5 2h0m4.9 1.5h0m-0.3-4.6h0m-0.8 2h0m0.5 3.3h0m0.2-1.9h0m0.1-2.4h0m-2.5 1.8h0m-2.2 2.3h0m3-3.8h0m0.8-0.6h0m-0.7-1.1h0m2.4 5.6h0m5.1-4.2h0m-5.7 2.8h0m3.7-0.5h0m-2.1-2.9h0m-8.4 4.4h0m11.9-7.2h0m-5.2 2.4h0m-0.2-1h0m-3.5 8.7h0m6.2-8h0m-1.2 3.6h0m1.6-0.1h0m-4.9-1.3h0m0.5 0.1h0m-5.7 6.2h0m7.5-6.2h0m-6.5 3h0m11.1-4.2h0m-8.2 2.9h0m3.6 0.5h0m7.5-5.8h0m-7.7 5h0m2.2 3.5h0m-0.5-3.9h0m4.4-6h0m-11.2 5.7h0m9.6-4.3h0m-7.3 8.4h0m3.9-5h0m3.5 0.2h0m-2.8 1.3h0m-2.6-1.4h0m-5.9 3.6h0m1.5-0.1h0m5.5-5.6h0m-4.7 5.6h0m2.6-5.3h0m-1.6 6.9h0m2.1-2.3h0m8.6-9.9h0m-8.8 8.6h0m2.1-1.5h0m-0.5-1.5h0m2.3-0.2h0m-2.1 0.4h0m-5.4 5.4h0m2.3-5.2h0m4.1 2.2h0m-4 1.2h0m2.1-1.6h0m-2.1 0.8h0m10.6-3.6h0m-12.4 5.5h0m-2.1-0.9h0m2 1.7h0m0.5-1.6h0m3.1-0.5h0m-2.6 2h0m0.5-2.9h0m-2.7 4h0m4.9-5.1h0m2.3-2.8h0m1.9 0.5h0m-4 3.3h0m2.5-3.5h0m-0.1 3.2h0m-0.4-5.2h0m-5.7 8.8h0m9-5.2h0m-8.7 6.7h0m8.8-9.5h0m-3.8 2.3h0m4.2 1h0m-4.1 0.1h0m-3.8 3.8h0m0-2.2h0m0.7-0.2h0m8.3-4.1h0m-6.2 1.8h0m-1.5-0.7h0m1.7-2.4h0m-1.4 7.8h0m-1.4-3.9h0m-2.6 3.9h0m6.4-8.8h0m-1.3 8.5h0m-0.7-4h0m-0.5-0.1h0m1.9 0.9h0m1.2 0.4h0m0.5-0.8h0m-4.9 1.6h0m1.9-1.4h0m-6.1 3.9h0m3.4 1.2h0m4.9-2.7h0m4.2-6.5h0m-7.2 5.5h0m-2.5 1.1h0m4.6-0.3h0m-2.6-2.8h0m-0.9 2.9h0m3.9-1.8h0m-1.1-2.5h0m-0.6 2.2h0m-1.9-0.6h0m-2.7 6.3h0m4-4.2h0m8.1-5.1h0m-4.6 2.8h0m1 0.2h0m-3.1 0h0m-4.5 6.3h0m6.3-8.9h0m-3.9 4.2h0m-2.2 0.8h0m7.3-6.4h0m-3.2 5.8h0m-1.8 3h0m-0.2-3.1h0m-1.2 1.3h0m2.9-3.2h0m-1.8 5.8h0m-4.4-3.2h0m1.1 0.1h0m5.9-1h0m0.8-4.7h0m1.5 5.2h0m-7.9 0.8h0m3.8-0.8h0m-1.4-0.7h0m-2.8 3h0m0.3-3.2h0m3.2 1.5h0m-5.7-1.4h0m5.9 2.6h0m2.9-1.2h0m-7.1 4.9h0m4.1-2.4h0m0.9-1h0m-2.5-2.1h0m6.6-1.4h0m-6.6 1.4h0m3.9 1.5h0m2.3-7.1h0m-4.9 7.8h0m3.3-6.7h0m-1.1 6.2h0m-3.6-5.2h0m-0.4 5.3h0m2.9-4.9h0m-3.1 5.7h0m2.4-1.7h0m0.4 0.7h0m-5.6 0.4h0m5.6-3.3h0m-4.7 4.3h0m9.5-7.3h0m-3.2 1.1h0m-1.5-0.1h0m7.7 0.9h0m-8.1 0.4h0m0.3 4.7h0m4.7-7.8h0m-6.1 4.1h0m-0.9-0.1h0m4.3-1.1h0m-2.8 2.7h0m2.6-3.1h0m6.7 0h0m-7.4 0.8h0m-0.9 2.6h0m-1.6-1.4h0m6.2-4h0m-2.8 1.5h0m-1.4 2.9h0m-4.1 2.4h0m9.3-5.9h0m-9.9 3.1h0m2.9 1.7h0m3.2-2.7h0m-2.1 2.7h0m-2.8 1h0m5.8 0.5h0m0.1-6h0m-0.9 3.1h0m-6.3 0.6h0m-0.2 0.4h0m-3.3 3.9h0m4.6-2.9h0m0.6-1.6h0m2.5-0.3h0m0.9 0.9h0m0.3-2.7h0m2.7-1.7h0m-1.3 3.2h0m-5 0.6h0m2.9 2.1h0m-0.9-4.8h0m-5.6 8.5h0m7-1.5h0m1.9-6.4h0m3.3-2.2h0m-7.8 3.6h0m4.1-2.1h0m0.2 3.7h0m-1.9-2.3h0m-1.7-1.7h0m1.1-0.4h0m-2.6 0.3h0m6.1 0.3h0m0.8-4.6h0m-8.4 7.4h0m4.6-0.1h0m0.8-5.1h0m-6.1 7.4h0m2.6-2.5h0m-0.1-1.1h0m5.1-3.7h0m-1.6 2.3h0m0.3 2.1h0m1.1 0.2h0m0.1-0.7h0m-4.4 6h0m9.3-7.6h0m-1 0.1h0m-6.1 2.6h0m3.3-1.4h0m-6.2 1.8h0m5.2-1.1h0m-4.7 3.7h0m3.1-4.3h0m-2.8 4.1h0m-1.3-0.4h0m5.3-4.1h0m-4.1 1.6h0m-0.4-0.4h0m0.8-0.1h0m-3.2 6.6h0m2.5-7.6h0m6.3-0.7h0m-3.4 1.9h0m2-5.6h0m-3.3 5.6h0m3.4-4.1h0m-5.6 5.3h0m2.9 2.3h0m-1-2.6h0m3.8-0.7h0m-0.1-5h0m-4.4 2.8h0m-1.9 3.4h0m1.6-0.6h0m2.5-1.4h0m3.6-5.4h0m-0.6 7.8h0m-5.2 1h0m5.4-4h0m-6.6 5h0m-6.1 0.4h0m11.5-7h0m0.1 0.6h0m-4.3 3.4h0m1.7-0.5h0m-3.1 0.2h0m6.1-0.9h0m-3.1-1.9h0m-1.3 2.1h0m0.8 0h0m-0.4 2.4h0m1.8-6.1h0m-6.2 6.2h0m7.5-8.8h0m-2.9 5.1h0m4.7-4.5h0m0 4.3h0m-4.7 1.7h0m4-3.7h0m-5.1 4.9h0m-1.1 0.8h0m1.4-0.4h0m4.5-1.7h0m-3.2 1.5h0m1.9-5.8h0m-2.1 2.4h0m-1 3.4h0m-1.5 1.6h0m7-4.9h0m-3.1-1.1h0m-1.3 2.6h0m0.4 5.9h0m0.2-3.2h0m0.6-2.9h0m0-1.7h0m-4.2 5.4h0m1.1-3.7h0m-2.8 3.7h0m6.7-5.2h0m-2.8 4.1h0m-4.2-0.6h0m8.1-0.9h0m-9.9 3.3h0m5.6-6.6h0m2.8-0.8h0m-2.4 1.2h0m-1.6 3.9h0m4.3-1.4h0m-2.3-2.9h0m2.9 5.2h0m-2-2h0m0-1.7h0m-4.5-1.6h0m7-1.3h0m-0.5 4.9h0m-8.4 5.2h0m5.7-4.6h0m-4.8 0.3h0m6.8-3.1h0m-4.5-0.9h0m0 0.7h0m1.7 4h0m8.1-7.4h0m-8.1 4.2h0m0.7 5.2h0m-2-5.1h0m5.3-4.6h0m1.3 4h0m-4.9 1.5h0m-1.6 1.4h0m1.4-3.1h0m2.8-0.3h0m3.3 0.9h0m-6 0h0m-2.9 1.3h0m1 1.7h0m-3 1h0m6-5.6h0m3.6-0.5h0m-0.5 0.5h0m-0.4 2h0m4.7-5.2h0m-7.7 5.3h0m3.8 0.8h0m-2.1-1.2h0m-1.2-0.7h0m0.1 2.1h0m2.1-4.2h0m1.8 0.4h0m-2.8-0.2h0m-3.4 4.4h0m0.6-0.7h0m0.2 0.3h0m4.4-3.3h0m-2.7 1.1h0m-2 1h0m5.6-0.7h0m-9.8 4.6h0m2.7-0.6h0m3.7-5.7h0m-0.5 1.3h0m0.4 0.3h0m3.3-0.5h0m-2.1-2.6h0m-3.7 7.1h0m-2.2 0.4h0m7-3.4h0m-2.9-0.5h0m2.6-1h0m4.4-3.3h0m-0.6 1.3h0m-1.5 0.8h0m-12.3 7.9h0m12.6-5.4h0m-5.3-2.3h0m-6.6 1.6h0m9.3-4.3h0m-3 0.9h0m-1 7.5h0m0.9-3.9h0m5.2-2.3h0m-2.2 2.1h0m-5.5 3.2h0m7.7-8.5h0m-8.4 9.6h0m-2.9-3.2h0m6.6-0.8h0m3.7-4h0m-6 7.5h0m4-3.8h0m-6.4 2.1h0m4.8 0.8h0m3.1-1.9h0m-1.9 1.1h0m-3.8 1.2h0m2.4-4h0m-0.3 2.2h0m-3.8 2.5h0m4.9-0.1h0m-1.3-1.7h0m-4 2.5h0m4.1-1.9h0m-0.5-3.7h0m4.7-1.9h0m-5.9 7.5h0m-1.6 1.1h0m3.9-8.4h0m0.9 1.9h0m1.9 1.1h0m-0.2-0.6h0m-6.9 0.5h0m6.6 1.2h0m-4.8 1.4h0m4.6-5.5h0m-1.3 5.3h0m-2.5-0.8h0m1.6 0.5h0m3.7-6.9h0m-2.7 7h0m-5-0.2h0m3-2.4h0m2.1 0.2h0m-0.9-0.8h0m1.2-3.2h0m-0.8 4.5h0m-3.4 0.6h0m6-0.4h0m-3.6 2.1h0m1.1-4.3h0m3.4 0.9h0m-3-3.5h0m2.2 4.8h0m-3.3 0.4h0m-0.5-0.2h0m-0.7-2.4h0m-3.8 5.8h0m-0.2-2.8h0m2.3-1.1h0m6.6-2.3h0m-5.3 6.8h0m-2.6-1.5h0m1.2-1.7h0m4.6-1.9h0m-0.5 1.8h0m5.1-3.6h0m-3.2 3.3h0m-7.6 0.5h0m5.3-0.3h0m0.5-3.6h0m0.3 3.1h0m-4.7 1.3h0m2.3 2.3h0m-2.6-2.7h0m6-2.7h0m-4.5 4h0m1.9-4.6h0m-3.8 4.9h0m-2.7 0h0m6.7-4.3h0m-4.1 7.4h0m3.1-9.5h0m-2.3 6.5h0m4.5-7.4h0m-2.8 5.2h0m1.3 0.2h0m0.8-2h0m-2.7 2.5h0m3.4-1.1h0m5.3-3.1h0m-8.8 2.9h0m3.8 1.2h0m-5.2-2.3h0m6.4-1h0m-7.1 7.2h0m5.3-4.8h0m-1.6-0.7h0m-2.9-1.5h0m1.1 4.9h0m2.5-5.1h0m3.3-0.3h0m-3.8 3h0m-6.9 0.4h0m8.3-3.7h0m-4.1 4.5h0m5.7-3.7h0m-2.2 4.9h0m-1.8-3h0m1.7-2.2h0m-1 4.4h0m1-2.9h0m-4.2 4h0m1.2-3.6h0m1.9-3.9h0m4.8 1.6h0m-7.9 5.1h0m7.1-5.1h0m-6.8 5h0m0.8-0.4h0m5-6h0m0.8 6.4h0m-5.1-1.4h0m1.3-0.1h0m1.7-2h0m0.4 1.5h0m-4.4 4.9h0m4.4-5.3h0m-0.7-3.1h0m-0.4 4.1h0m0.7-0.1h0m-2.6 2h0m0.5-5h0m-4.5 5.6h0m4-1.2h0m4.4-0.7h0m-4.8-0.1h0m2-3.7h0m4 0.1h0m-3.4 0.5h0m-2.5 2.3h0m-0.7 0h0m4.9-0.7h0m0.1-0.7h0m-3.9 1.9h0m4.6-6.7h0m-1.5 1.3h0m-5 5h0m6.2-4.3h0m-4.4 1.1h0m0.6 4.7h0m3.4-2.6h0m1.2-3.9h0m-3.2 3.9h0m-4 2.5h0m6.5-4.2h0m-3 2.9h0m1.1-1.4h0m1.1-0.1h0m-1-1.7h0m-5.2 3.9h0m4.6-0.9h0m1.2-0.2h0m0.9-0.5h0m0.2-5.3h0m-1.6 7.3h0m-6.7 0.5h0m5-3.2h0m7.1-3.2h0m-4.2 4.8h0m-3.8-1h0m3-1.7h0m-3.5 2.2h0m-5.7 6.2h0m10.7-9.1h0m-5.9 5.6h0m2.9-4.7h0m0.7-1.7h0m0.8 2.5h0m1.6 1.6h0m-4.8-0.5h0m3.2 1.5h0m3.2-5.3h0m-11.2 10.8h0m8.9-9.2h0m1 5h0m-2-5h0m-2.2-0.7h0m9.4-5.2h0m-10.7 8.4h0m1.3 1.5h0m-3.1-2.7h0m0.5 5.1h0m1-2.7h0m1.6-2.5h0m0.4 2.8h0m2.6-2.3h0m-0.5-0.1h0m-0.6 1.1h0m-6.4 3.8h0m6-6.3h0m-3.1 2.5h0m-0.2 1.8h0m-0.7-1.3h0m4.9-4.4h0m-3.7 3h0m-2.2-1h0m5.8-0.6h0m2.7-3.2h0m-0.3 1.4h0m-2.6 3.9h0m-0.9-4.4h0m1 2.9h0m-1.7 1.5h0m-3.6 1.9h0m3.4-3.9h0m3 1.6h0m-6.5-2.6h0m-1.7 2.8h0m7.7 0.1h0m-2 0.7h0m-2.3 1.4h0m5.9-4.7h0m-4.5-2.4h0m2.1 4.8h0m-1.7 0.2h0m-4.2 4h0m2.3-1.8h0m-2.7 0.8h0m3.6 1.8h0m3.4-4.6h0m2-3.1h0m-7 3.2h0m7.9-4.6h0m-3.9 3.5h0m-1 2.3h0m-4 2.4h0m8.8-6.7h0m-5.8 3.6h0m-3.2 2.9h0m5.5-4.1h0m4-2.2h0m-3.8 4.7h0m-3.1-0.3h0m-0.3-3.1h0m2.3 1.3h0m-2.8 2.6h0m1.1-0.3h0m2.9-3.3h0m-2.5-1.3h0m5.8-0.2h0m-7.5 7.4h0m6.4-5h0m-9.1 2.5h0m5.6 0.7h0m0.5-1.5h0m0.4-3.6h0m-4 3.6h0m2.4-1.4h0m4.6-0.7h0m-4.3-0.4h0m1.2-0.2h0m2.2 0h0m-1.7 1.2h0m-0.4-3.6h0m1.4 1.6h0m1.8-0.2h0m-2.7 2.3h0m0.1-0.2h0m-0.3-3.9h0m-3.9 4.3h0m-1.4 0.9h0m1.4-1.4h0m8.6-2.2h0m-4.7 2.9h0m-4-2.6h0m2.4 4.1h0m-1.9 2.8h0m0.7-4.3h0m-0.3-2.2h0m0.2 4h0m-0.5-2.8h0m-0.6 0.9h0m-1.7 1.3h0m5.2-3.6h0m0.7-1.9h0m-3.7-0.4h0m-3.3 8.9h0m3.4-5.5h0m1.2 0.9h0m-1.3-2.1h0m0.2-1.1h0m1.3 1.2h0m1.7-0.2h0m-2.3 5.3h0m-0.3-4.9h0m-4.3 2.9h0m6.9-3.1h0m2.1 1.6h0m-3.4 2.3h0m1.7-1.9h0m-1.5-1h0m-0.6 1.7h0m-1.4-0.1h0m5.6-4.9h0m3.3-2.6h0m-4 5.6h0m6.5-2.7h0m-10.4 0.7h0m0.1 4.4h0m1.8 2.2h0m1.5-5.3h0m-3.7 1h0m1.6 2.8h0m2.3-3.6h0m-4.9 4.4h0m6.8-6.4h0m-2.3 4h0m0.1 1.6h0" stroke="#ee0000" stroke-width="0.8" stroke-linecap="round" opacity="0.5" fill="none"/>
<path d="M344.2 254.5h0m-0.8 2.2h0m-9.8-1.5h0m3.3 0.5h0m8-3.8h0m-5.4 4h0m1.5-0.8h0m-2.4 0.6h0m5.3-1.7h0m-6.8-0.6h0m-2.4 5.3h0m5.2-0.5h0m2.2-5.4h0m-0.6 0.5h0m-8.4 3.6h0m6.8-1.4h0m-5.9 1.3h0m7-1.8h0m-6 1h0m-0.3 0.9h0m5.7-1.3h0m-7.9 1h0m2.4 0.6h0m4.1-2h0m-2.1 1.5h0m1.6-0.4h0m3.9-3.1h0m0.6 0.3h0m-2.8 0.8h0m-2.9-0.1h0m3.5 1.8h0m-7.2 0.8h0m2.3 1.4h0m7.4-3.8h0m-0.2-1h0m-5.5 0.2h0m0 1.7h0m3.1 0.3h0m1.1-3.9h0m-2.6 2.3h0m0.6-0.8h0m2.7-0.6h0m1.3-0.1h0m-1.4 1.8h0m-14.2 2.9h0m17.2-2.9h0m-1.8-1.8h0m-2.8 2.2h0m-1.3 0.7h0m1 1.1h0m-4.1-1.5h0m3.4-2.2h0m-2.6 2.5h0m-4.5 0.6h0m1.2-0.8h0m-0.5 2.6h0m1.8 2.8h0m-6.6 0.1h0m5.2-2.3h0m2.7-8.1h0m-3 8.9h0m-5.4-0.6h0m3.2-1.9h0m1.8 2.9h0m5.5-3.4h0m-8 5.1h0m6.5-3.8h0m1.9-2h0m-5.7 7.2h0m4.5-3.6h0m0.7-4.1h0m-4.7-0.2h0m4.5 3.5h0m-2.6 0.3h0m4.2-1.1h0m-8 2.6h0m2.9-1.6h0m-0.5-2.3h0m1.8 4.5h0m-2.8-0.9h0m4.3-1h0m-0.5-0.1h0m-6.8 2.7h0m7.4-2.6h0m4.5-3.9h0m-1.2 0h0m-11.7 1.8h0m2.8 7.6h0m-0.4-6h0m6.3-5.5h0m0.8 3.5h0m-10 3.6h0m10-3h0m-5.5 0.4h0m3.9-5.3h0m-4.6 11.7h0m0.7-3.5h0m5.1-3.5h0m-3.3-0.9h0m0.3 4.5h0m-1.6-3.6h0m0.9 4.3h0m-1.3-5.3h0m-2.4 2h0m-1.9 3h0m8.8-4.8h0m-4.7 3.6h0m7.1-5.8h0m-6.5 8.8h0m-2.9-3.5h0m0.7 3.8h0m3.9-3.6h0m4.3-2.8h0m-7.5 4.3h0m3.8-0.2h0m1.3-3.2h0m-2.1 0.3h0m-5.1 3.4h0m3.1-4.8h0" stroke="#f01818" stroke-width="0.8" stroke-linecap="round" opacity="0.42" fill="none"/>
<path d="M344.9 266.1h0m-21.9-14.4h0m10.1 22h0m-0.2-13.9h0m1.6 2.4h0m-5.6-0.4h0m11.6 5.8h0m-11.3-1h0m23.4-0.8h0m-10.4-23.9h0m5.5 32.2h0m-1-10.4h0m-16.1-6.7h0m15.2 4.8h0m-27.4-0.2h0m21.1-8.5h0m0.2 8.7h0m-18.3 2h0m33.2 9.1h0m-27.6-22.7h0m10.1 11.8h0m-11.8-7.5h0m22.7 7.3h0m-2.7-2.1h0m-0.1-3.7h0m-13-3.1h0m-11.8 4.1h0m4.7-0.5h0m12.6 4.7h0m2.1-4.2h0m-3.8 11.5h0m-0.8-8.4h0m-19.3-8.4h0m29.8 1.8h0m-18.3 13.6h0m-1.3 0.2h0m9.5-12.1h0m-16.4 14.6h0m1.9-19.1h0m22-0.1h0m-2.4 9h0m-6.6-7.6h0m-3.3 9.9h0m-2.7 2.7h0m10.4-0.7h0m-0.1 0.1h0m1.2 2h0m0-3.7h0m-10.9-15.3h0m8.2 20h0m-8.3-19h0m3.2 14.5h0m11.8-5.1h0m-17.1 2h0m15.7 0h0m2.8-3.3h0m-1.2 15.9h0m-15.8-18.6h0m12.7 6.2h0m6.8-0.6h0m-24.8-6.3h0m25.1-5.4h0m-23.4 18.7h0m13.3 2.9h0m-10.2-14.5h0m6-3.8h0m0.9 8h0m9.3 0.6h0m-10.7 4.3h0m12.8 4.1h0m-7-10.6h0m-6.4-6.9h0m4.6 9.6h0m13.4 1.8h0m-7.7 8.1h0m-22.1-14.6h0m13.8 5.7h0m-7.6 5.6h0m17.3-2.7h0m-1.9-12h0m3.8 3.7h0m-25.6 5.5h0m19.6-6.1h0m-17.6-3.5h0m12.7-10.3h0m10 26.4h0m-10.2 0.5h0m0.1-16.5h0m6.8 12.7h0m-13.2-14.7h0m-0.5 19.3h0m2.7-4.2h0m8.3-6.2h0m4.4-4.8h0m-7.6-2.3h0m-18 9.3h0m8.8-10.3h0m14.6 8.5h0m-1.6 14.2h0m-1.8-9.6h0m-11.6 2.9h0m17.4-14.1h0m-1.7 10.2h0m-7.4-1.7h0m22.4-5.5h0m-23.4 5.6h0m1.3-14.4h0m7 20.6h0m9.2-11.2h0m-25.4 9.2h0m2-5h0m5.3 1.5h0m-0.4 3.8h0m10.5-9.9h0m-14.8 3.3h0m4.2-4.8h0m15.8 13.5h0m-21-3.1h0m9.3 1.6h0m0.5 9.1h0m-4.6-4.8h0m3.1 2.4h0m-0.7-20.5h0m-7.5 3.2h0m14.2 7.6h0m-4.1 5.2h0m12.9-15.5h0m-19.1 3.3h0m8.7 6h0m-8-2.3h0m18.2 7.4h0m-20.5-19.7h0m-2.6 14.2h0m2.8-7.7h0m12.8 4.2h0m-9.4 3.8h0m15.6 0.7h0m-6.5-1.7h0m7.3-9.8h0m-22.7 5.3h0m26.8 15.4h0m-26.6-15h0m14 4h0m2.9-4.2h0m-21.6 8.3h0m24.7-16.1h0m-26.6 8.1h0m0.1 6.6h0m6 2.3h0m7-4.5h0m8.5-2.5h0m-14.2 8.4h0m-3.9 3.6h0m7.3-14.5h0m8.6 7.1h0m0.9-14.1h0m-11.8 13.6h0m10.7-3.3h0m7.8-0.6h0m-3 9.4h0m-5-9.5h0m3.3 4.8h0m-1-9.9h0m-1.3 18.5h0m-6.4-10.9h0m0.4 5.5h0m-15.5 5.4h0m21.9-13.7h0m-2 10.2h0m0.8-3.4h0m7.1-3.8h0m-3.9 9.8h0m-1.5-15.7h0m-7.5 8.1h0m6.3 3.2h0m-7.1-6.7h0m20.1 5.3h0m-21.8 0.7h0m5.8 5.6h0m-14.2-10.7h0m21.9-10.2h0m-14.6 13h0m6.7-5.8h0m2.2-8.1h0m-9.6 23.2h0m1.6-9.6h0m5 3.1h0m3.2-3.4h0m7.1-0.6h0m-24.2-7.3h0m26.4 12.8h0m-14-19.7h0m12 20.9h0m-23.6-19.1h0m8.6 0h0m5.9 1.9h0m3 6.5h0m-8.7 6.5h0m8.5-3.9h0m-6.8-1.3h0m-13.2-14.2h0m10.5 15.5h0m20.5 2h0m-23.1-6.6h0m-2.3 3.3h0m9.9 0h0m3 8h0m3.5-16.3h0m1.3 1.1h0m-3.9 8.2h0m10.9-1.4h0m-14.9-1.3h0m8 4.3h0m-9.4 3.9h0m19.9 5.9h0m-5.1-16h0m-13.3 5.1h0m-13.5 11.6h0m2.2-9.8h0m1.7-2h0m17.3 2.9h0m-14.1-8.6h0m15 4.3h0m-6.8 7.4h0m-22-5h0m31.6 11.2h0m-4.9-18.5h0m2.4 19.2h0m-13.4-19.1h0m4.1 2.3h0m-15.8-14.4h0m6.1 12.7h0m14.5 0.8h0m-2.1 14h0m-9.6-2.8h0m8.1-4.8h0m8.1 3.2h0m-19.1-14.1h0m13.2 13.6h0m15.4-0.8h0m-20.7-8h0m-2.9-6h0m-4.9 5.5h0m11.7-1.6h0m-0.7 3.6h0m-2.1-1.2h0m4.4 3.4h0m-24.5 1.8h0m22.9-6.5h0m0.6-0.6h0m-0.4-1.3h0m4.6 9h0m-17.8-7.7h0m18 8.1h0m-4.7-11.3h0m-6.8 9.5h0m8.1-1.3h0m-9.4-1.6h0m2.8-6.8h0m-5 2.5h0m-3.4 9.4h0m18.9 3.1h0m-12.9-12.1h0m8.5 2.1h0m-4.6 1.2h0m-10.8 11.6h0m1.4-20.9h0m18.6 3.5h0m2.2 10.5h0m-5.9-5.3h0m-14.7-5.9h0m12.6 7.9h0m-10.9-7.5h0m2.8 7.9h0m10.9 7h0m-6.8 3.9h0m9.1 0.3h0m-13.2-6.6h0m16.2-17.1h0m-1.4 15.9h0m0-1.7h0m1.9-4.4h0m-13.8 8.4h0m10.3-15.1h0m3.9 18.4h0m-1.4-13.9h0m1.9 9.1h0m-2.7-4.2h0m-11.2-4.7h0m-1.5 11.6h0m-1.3-11h0" stroke="#f04848" stroke-width="0.7" stroke-linecap="round" opacity="0.38" fill="none"/>
<rect x="312.6" y="230.5" width="45.5" height="45.2" rx="1" fill="none" stroke="#606060" stroke-width="0.65"/>
<line x1="335.1" y1="230.5" x2="335.1" y2="275.7" stroke="#4a4a4a" stroke-width="0.65"/>
<line x1="312.6" y1="257.3" x2="358.1" y2="257.3" stroke="#4a4a4a" stroke-width="0.65"/>
<text x="309.60" y="235.70" font-size="3.2" text-anchor="middle" dominant-baseline="central" fill="#333" transform="rotate(-90 309.60 235.70)">10</text>
<line x1="311.6" y1="235.70" x2="312.6" y2="235.70" stroke="#444" stroke-width="0.4"/>
<text x="318.80" y="279.10" font-size="3.2" text-anchor="middle" dominant-baseline="central" fill="#333">10</text>
<line x1="318.80" y1="275.7" x2="318.80" y2="276.7" stroke="#444" stroke-width="0.4"/>
<text x="309.60" y="246.90" font-size="3.2" text-anchor="middle" dominant-baseline="central" fill="#333" transform="rotate(-90 309.60 246.90)">10</text>
<line x1="311.6" y1="246.90" x2="312.6" y2="246.90" stroke="#444" stroke-width="0.4"/>
<text x="330.20" y="279.10" font-size="3.2" text-anchor="middle" dominant-baseline="central" fill="#333">10</text>
<line x1="330.20" y1="275.7" x2="330.20" y2="276.7" stroke="#444" stroke-width="0.4"/>
<text x="309.60" y="258.10" font-size="3.2" text-anchor="middle" dominant-baseline="central" fill="#333" transform="rotate(-90 309.60 258.10)">10</text>
<line x1="311.6" y1="258.10" x2="312.6" y2="258.10" stroke="#444" stroke-width="0.4"/>
<text x="341.60" y="279.10" font-size="3.2" text-anchor="middle" dominant-baseline="central" fill="#333">10</text>
<line x1="341.60" y1="275.7" x2="341.60" y2="276.7" stroke="#444" stroke-width="0.4"/>
<text x="309.60" y="269.30" font-size="3.2" text-anchor="middle" dominant-baseline="central" fill="#333" transform="rotate(-90 309.60 269.30)">10</text>
<line x1="311.6" y1="269.30" x2="312.6" y2="269.30" stroke="#444" stroke-width="0.4"/>
<text x="353.00" y="279.10" font-size="3.2" text-anchor="middle" dominant-baseline="central" fill="#333">10</text>
<line x1="353.00" y1="275.7" x2="353.00" y2="276.7" stroke="#444" stroke-width="0.4"/>
<text x="306.40" y="249.50" font-size="3.0" text-anchor="middle" dominant-baseline="central" fill="#444" transform="rotate(-90 306.40 249.50)" font-weight="normal">PerCP-A</text>
<text x="335.60" y="282.50" font-size="3.0" text-anchor="middle" dominant-baseline="central" fill="#444" font-weight="normal">APC-A</text>
<text x="335.90" y="290.50" font-size="5.6" text-anchor="middle" dominant-baseline="central" fill="#000" style="white-space:pre">UR 3.3%  LR 1.6%</text>
<path d="M387.7 264.9h0m6.1-5.8h0m-2.2 6.7h0m-5.6-1.1h0m5.4-3.2h0m-3.9 2.5h0m-1.3-0.3h0m3.1 3.1h0m6.8-8.2h0m-7.4 7h0m-0.1-1h0m-0.4 0.7h0m2.1 1.4h0m-3.2 1.3h0m3-5.5h0m-5.2 3h0m-0.2-0.5h0m-0.3 5.8h0m5.5-8.1h0m4.5-2.8h0m-8.1 8h0m5.4-1.4h0m-3.9-0.2h0m2.5-1.7h0m-8 6.3h0m11.3-9.8h0m-8.6 9.2h0m5.7-6.5h0m2.9-1.8h0m-2.9-0.1h0m-1 0.4h0m-3.8 7.8h0m3.9-6.1h0m-5.8 3.9h0m5.2-5.5h0m-4.4 5.8h0m3.6-4.2h0m4-0.3h0m-1.9-1.6h0m1.8-2.7h0m-2.5 3.3h0m2.6-2.4h0m-5.9 0.5h0m0.5 4.6h0m5.3-4.3h0m-4.6 4.3h0m1.1-0.8h0m-3.1-0.4h0m5.2-0.6h0m-3.2-0.4h0m1.3-0.3h0m-1.9-0.5h0m4.7-3.4h0m0.1 8.3h0m-4.4 0.9h0m3.1-1.7h0m-2.6-1.2h0m-3.3 0h0m8.9-7.2h0m-7.5 10.6h0m2.1-4.2h0m1.6 0h0m2.3-1h0m0.9 0.5h0m-4.1-1.5h0m-0.2 0.1h0m-1.3-0.8h0m3 1.6h0m-2.9 1.4h0m-3.6 0.1h0m5.1-1.6h0m-0.3 0.8h0m-3.5 3.4h0m8.9-2h0m-5.4-1.2h0m-2.8 1.3h0m4.6-0.6h0m1.2-3.8h0m-3.4 7.6h0m0.8-4.7h0m-4.7 0.8h0m5.6-3.1h0m1.5-5.7h0m-0.5 8.6h0m-2.5 2.8h0m7.7-9.4h0m-11.8 8.2h0m8.5-4.4h0m-3.3 3.4h0m0.7 0.7h0m-3 0.3h0m3.4-1.8h0m1.1-0.3h0m-5 4h0m6.1-6.1h0m-4.1 4.3h0m3.8-6.2h0m-2 5.8h0m0.9-1.8h0m-0.9 3h0m-4.3-4.1h0m3.7 1h0m-3.8 4h0m2.2-5.9h0m0.3 2.2h0m-2.4 4.2h0m4-10.3h0m0 5.6h0m0.7-2.3h0m-4.5 6.5h0m7.5-7.1h0m-5.7 3.5h0m-0.3 2h0m-5.6 3.8h0m8-8.1h0m-1.4 6.4h0m-1.2-2.1h0m-0.1-2h0m-0.3-1.4h0m0 3.6h0m0.1-2.9h0m1.5-0.7h0m-1.2 1.7h0m1.1 1.7h0m-4.5-0.5h0m4.3-3.7h0m-4.1 3.9h0m0.1 0.7h0m0.8-0.8h0m4.2-2h0m-1.2 0.4h0m-0.2 3h0m-2.3-1.7h0m8.1-5.3h0m3.3-1.5h0m-11.5 5.3h0m0.7 0.6h0m-2 1.4h0m5.9-4.5h0m-3.3 1.9h0m-4.9 5.4h0m1.5-1h0m5.2-5.2h0m2.5 0.4h0m-5.8 4h0m5.9-4.5h0m-3.4-3.5h0m-1.5 3.2h0m4 0.6h0m-1 0.2h0m-4 5.9h0m-0.7-1h0m5.2-0.9h0m0.8-3.8h0m-2.2 1.7h0m-1.4 0.8h0m-1.6-0.8h0m0.6-0.9h0m0.6 3.9h0m1.9-4.8h0m0.7 1.7h0m2.4-5.3h0m-5.9 6.5h0m4-7.6h0m-1.8 2.5h0m0.2 3.4h0m-5.9 2.3h0m3.3-2.6h0m5.6-2.5h0m1.7 3.1h0m-4.9-1.6h0m-6.5 5.2h0m7.9-5.2h0m2 0.1h0m-7.3 2h0m5.5-2.6h0m1.5-3.2h0m-2.4 2.8h0m0 3.7h0m-0.2-1h0m2-3.6h0m-2.3 4.4h0m1.3-1.1h0m-1.4-2.5h0m-0.7 2.2h0m6.8-2.9h0m-5.8 4.5h0m3.1-0.9h0m-3.1 1.4h0m1.7-4.1h0m-4.9 4.6h0m5-0.8h0m-4.4 0.9h0m-3.8-0.6h0m6.3-3.1h0m-1.9 6.1h0m3.7-6.1h0m-3.4 3.6h0m2.3-0.9h0m-5.4 2.6h0m7.9-7h0m-3.1 2h0m-0.9 3h0m-0.8 0.2h0m0.2-3.4h0m1.8-1.1h0m-1 2.4h0m1.6 0h0m1.3 0.2h0m-5.7 0.4h0m-0.1 1.3h0m5.5-4.4h0m2.1-0.4h0m-8.5 3.1h0m4.2 0.9h0m-0.5 0.6h0m-0.6-1.9h0m-0.4 2h0m0.3-0.2h0m2.4-2.8h0m-1.2 3.3h0m4.3-8.4h0m0.1 1.5h0m-1.8 3.1h0m0.1 2.2h0m-1.2-3.3h0m0.9 0.1h0m-2.8 1.9h0m2-3.5h0m-2.1 3.5h0m3.4-2.2h0m-1.1 5.7h0m-6.5-0.8h0m4.5-5.9h0m4.1-3.2h0m-5.9 8.4h0m5.8-5.8h0m-2.6 2.1h0m-6.5 2.7h0m7.3-1.5h0m-4.9-1h0m1.7 0.5h0m1.7-2h0m1.2 8.8h0m-4.1-3.7h0m8.6-4.6h0m-9.9 4h0m-0.1-1.5h0m7.9-2.4h0m1 0.5h0m-8.3 5.3h0m4.1-0.1h0m-0.4-0.3h0m-4.8-0.9h0m0.2 4.5h0m5.1-4.9h0m-1.1-0.4h0m2.9-3.7h0m-0.3 3.4h0m-2.8 0.9h0m2.4-0.2h0m4-7.8h0m-8.5 8h0m2.8 1.9h0m-3.5-3.5h0m3-1.9h0m0.4 4.3h0m1.4-2.2h0m1.3 1.8h0m-2.6-1.3h0m-0.3 1.9h0m-1.5-1h0m2.3-0.8h0m-2.3 0.1h0m3.2-2.4h0m-3 2h0m4.2-3.2h0m-0.6 2.5h0m-0.9-1.3h0m-5.5 6.2h0m8.2-5.1h0m-3.6-1.3h0m-3.3 1.4h0m3.9 1h0m-3.2 0.4h0m3.7-2.2h0m-6.3 1.6h0m3.2 1.8h0m-2.9-0.6h0m0.8-0.2h0m2.8-1.2h0m7.7-5.6h0m-6.7 7.3h0m0.7-4.7h0m-2.8 3.9h0m1 3h0m1.7-4.8h0m-0.6-3.4h0m0.9 5h0m-3.6 1.4h0m-2.6 1.1h0m5-4.1h0m1.4-0.6h0m0.5-0.7h0m-2.1 2.8h0m4-2.4h0m-0.7 0.4h0m-4.8-1h0m5.9 1.2h0m-2.7-1.2h0m0.2 1.4h0m-3.1 1.7h0m-3.2 2.1h0m6.1-4.2h0m0 3.5h0m-7.6 2.5h0m7.7-4.3h0m0.1 0.4h0m2.5-2.1h0m2.6-2.9h0m-5.6 8.7h0m2.4-5.7h0m-5.8 1.4h0m1.1-0.7h0m3.1-4h0m-2 2.6h0m6.3-2.4h0m-0.5 1.3h0m-6.8 2.4h0m4.8-4.1h0m-0.1 1.2h0m0.3 5.7h0m1.5-7.6h0m-5.4 7.8h0m-4.2-0.8h0m-0.6-3.6h0m6.7 2.5h0m-4.9-0.8h0m3.4-4.4h0m0.6 1.2h0m-2.1 3h0m-0.2 1.6h0m4.5 0.3h0m-7.3-0.6h0m1.5 3.1h0m-0.1-0.5h0m7.6-8h0m0.6-2.7h0m-1.9 7.3h0m-3.1 0.3h0m-3.1 0.1h0m0.2 2.2h0m4.8-5.6h0m-0.7 3.1h0m-5.5 2.6h0m6.7-1h0m-9.3 7.6h0m5.9-9.5h0m-0.6 2h0m5.1-1.9h0m-11.4 4.6h0m9.4-7h0m2.7 0.6h0m0.3-0.6h0m-4.9 4.2h0m4.5-5h0m-4 4.9h0m-1.8-1.6h0m-0.1 4.2h0m-2.8-2.2h0m2.1-2.1h0m3.7 0.6h0m5.6-0.3h0m-11.1 1.5h0m5.7-3.2h0m-2.4-0.5h0m-0.4-0.4h0m4.9 3.2h0m-3.8-1.6h0m-3.8 4.6h0m1.7-3.2h0m-1.1 1.3h0m1.7 0.8h0m-2 2.4h0m2.6-6.6h0m1.2-0.2h0m-4.8 4.5h0m11.4-7.6h0m-9.9 5.3h0m-0.2-0.7h0m2.6 0.4h0m0.4 0.9h0m3.1-1.7h0m-1.2-0.5h0m-6.4 3h0m6.4 0.2h0m-5.7-0.2h0m6.5-2.7h0m-0.4-0.7h0m2.6-0.9h0m0.1-1.2h0m-7.3 4.2h0m5.7-6h0m4.3 3.3h0m-3.3-4.1h0m-4.8 6.9h0m-0.6 3.2h0m0.1-3.1h0m2.7-2.4h0m-3.4 4.4h0m-1.5-3.7h0m4.9-1.9h0m-1 0h0m-1.1 5.6h0m-4.9 0.5h0m6-3.5h0m-1.3-1h0m-3.5 0.3h0m3.7-2.8h0m-2.5 3.2h0m6.4-2.3h0m0 0.6h0m0 3.8h0m-0.7-5.6h0m-4 5.3h0m-0.1-0.8h0m-0.7 2h0m-2.9-1.4h0m4.3-0.9h0m-1.2-0.6h0m-1.6 0.4h0m1.8 2.6h0m7.4-6.3h0m0.5-0.1h0m-1.6-0.1h0m-5.4 1h0m6.7-0.8h0m-3.2 3.9h0m0.6 3.2h0m-1.7-0.8h0m-2.3-1.8h0m-1.4-0.6h0m5.9 0.4h0m-4.3-2.6h0m-1.7 2h0m3.4 1.6h0m-2.7 3.7h0m-0.9-1.8h0m1.4-1.9h0m3.7 1.3h0m-0.5-0.9h0m-0.4-0.7h0m6.5-7.6h0m-4.7 7h0m-8.4 2h0m6.1-1.6h0m-1.9-0.2h0m-3.5-0.3h0m0.2 3.8h0m11.1-12.1h0m-4.4 10.7h0m-4.3-4.8h0m-1.8 5.7h0m4.5-2.3h0m-0.2-2.4h0m-3.3 3.9h0m-0.8-1.1h0m-3.1 0.3h0m10.6-4.5h0m-3.3 2.1h0m-1.4 0.3h0m3.6-1.9h0m-7.9 3.9h0m1 4.6h0m6.8-7.3h0m-0.3-1.8h0m-0.4-0.6h0m2.5-1.2h0m-3 0.9h0m3.6-0.9h0m-11.3 8.3h0m4.9-5.7h0m1.2-0.4h0m3-2.5h0m-1.6 4h0m-0.6 0.3h0m-3.8 4.6h0m1.9-7.5h0m1.3 3h0m-3.2 2.8h0m-5.5 3.5h0m5.3-5.7h0m5.3-3h0m-2.3 4h0m9.9-7.1h0m-12.8 11h0m0.2-3.5h0m2.4 1.2h0m3.6-4.3h0m-5 2.3h0m-4.2 2.2h0m8.4-5.5h0m0.6 2.6h0m0-5.8h0m-3.3 7.2h0m4.8-2.7h0m1.7-2.1h0m-4.5 0.4h0m-7 6.7h0m7.1-5.2h0m-7.2 5.6h0m7.6-6h0m0.3-2.2h0m-0.4 3.3h0m-0.4-0.1h0m-3.4 5.2h0m6.2-8.6h0m-0.8 2.1h0m-4.6 2.4h0m1.1-3.1h0m5.4-0.1h0m-5.2 2.2h0m-0.6 2.2h0m-5.5 2.3h0m1.9-4.8h0m3.9-1.1h0m2.7 1.9h0m-3.2 0.2h0m-0.2-0.4h0m0.3-1.3h0m1.1-0.4h0m-2.5-1.1h0m1.3 3h0m-2.1-0.6h0m5.8-0.6h0m-1 0.1h0m-1.9-2.1h0m2.8-1h0m-3.4 1.4h0m-3.9 5.9h0m8-3.3h0m-7.2 1h0m5.8-3.5h0m-6.2 2.4h0m-0.1 2.3h0m1.1-0.4h0m1.8 0.2h0m-3.6 0.1h0m-2.3 0.6h0m6.5-1h0m1-0.4h0m3.5-4.9h0m-7.1 6h0m5.9-4.6h0m-4.8 1.5h0m-2.6 3.1h0m7.2-4.5h0m-1.4 0.5h0m-2.7 1.7h0m-0.2 1.8h0m-3.1-0.3h0m4.5-1h0m-3.1-2.5h0m6.3 0h0m-4.9 3.4h0m2.4 0.6h0m-0.7-3.7h0m-3.6 5.9h0m3.2-5.5h0m-4.4 4.6h0m8.3-3.4h0m0.3-3.4h0m-6 4.6h0m4-1.6h0m1.2-2.5h0m-6.3 3.3h0m-0.9 2.6h0m3.8-3.6h0m-1.8 1.4h0m2.8 1.5h0m-5.8-1.3h0m0.8 1.6h0m3.6-1.6h0m-0.7-1h0m0.8 2.8h0" stroke="#ee0000" stroke-width="0.8" stroke-linecap="round" opacity="0.5" fill="none"/>
<path d="M403.2 253.6h0m-4.4 2.9h0m1.3-1.6h0m-0.8-0.7h0m0.6-0.1h0m1.5-3.7h0m6.3 2.5h0m-8.9 2.6h0m1.9-1.7h0m-1.7 0.3h0m2.8 2.2h0m4.1-4.4h0m-4.6-0.8h0m4.5 3.4h0m-6.4-0.1h0m-3.2-0.4h0m-1.7 1.9h0m9.3-0.8h0m-4.3-0.2h0m1.4-3.5h0m7.7 0.7h0m-11.1 1.8h0m2.8-2h0m6.2 0.6h0m-7.4 3.4h0m-2.4-1.8h0m5.5 1h0m2.6-2.5h0m-3.5 1.5h0m-2.9 1.5h0m3.5-5.3h0m-3 6h0m0.7-1.2h0m0.6 1.2h0m2.9-2.8h0m1.6-0.7h0m-0.8-0.7h0m4.4-0.1h0m-11.8-1.3h0m0.3 4.6h0m7.1-1.5h0m-1.7-0.1h0m-5.8 2h0m3.6-1.7h0m1.6-1.5h0m-0.1 0.3h0m-4.3 2h0m2.1 1.8h0m-1.8-2.6h0m-2.8-1.1h0m0.6-1.1h0m9.2 1.2h0m-1.5-2.8h0m3.8 2.7h0m0.9 0.3h0m-9.8 3.9h0m2.6-2.9h0m3.4 3.4h0m-6.5-1.5h0m3.2-0.2h0m7.9-2.5h0m-6-3.3h0m-5.3 3.9h0m2.3-0.6h0m4 2.6h0m-3.1-1.1h0m6.9-1.1h0m-3.4 0.3h0m1.2-0.6h0m-6.3-1.1h0m1.1 0.6h0m-2.8 2.8h0m5.3 2.7h0m-4.1-4.2h0m0.1 1h0m-2.2-1.4h0m-2 1.3h0m8.2-2.6h0m0.8 3.9h0m-2.9-3.8h0m1.7 1.5h0m-4.2 0.3h0m4.1 4h0m0-4.4h0m4.1 0.1h0m-2.2 2.1h0m-6.4 0.1h0m5.6-3.4h0m-0.3 0.8h0m-0.3-0.9h0m-1.4 1.2h0m2.1 0.9h0m-5.7-0.7h0m-3.5 2.4h0m3.9 1.3h0m8.8-4.6h0m-8 3.3h0m0.4-0.4h0m7.3-5.2h0m-7.8 0.5h0m4.7 1.6h0m-2.8 2.5h0m-0.3-2.6h0m4.8 0.6h0m-5.5 1.5h0m1.5-0.9h0m5.4-1.7h0m-8.1 0.6h0m1.9 2.3h0m-7.1 0.8h0m8.7-4.3h0m2.8-1.4h0m3.5 2.7h0m-6.5 1.2h0m4.6-5h0m2.2 5.1h0m-11.5-1.4h0m4.3 1.2h0m3.5-2.3h0m-6.3 3.9h0m-8.1 10.7h0m7-8.7h0m-9.2-1.4h0m12 2.8h0m-0.9-3.3h0m1.8-1.9h0m-5.5 8.9h0m-1.9 1.2h0m4-8.2h0m-4.9 7.7h0m0.5-0.6h0m-4 1.7h0m2.3-2.3h0m6.3-3.6h0m-2.4-4.4h0m-1.6 3h0m-7.8 11.3h0m8.9-10.3h0m6.1-6.1h0m-6.4 6.6h0m5.2-3.8h0m-7.2 10.1h0m6.1-11.7h0m-2.7 8.4h0m3.5-5.7h0m-1.1-0.1h0m-4.6 5.4h0m5.3-7.9h0m-4.7 4.2h0m4.6-1.7h0m-0.5-0.9h0m-10.2 9.8h0m9.6-10h0m-1 3.5h0m1.7-5.8h0m0.5 4.9h0m0 1.5h0m-2.6-1.6h0m-1.4 3.3h0m-0.8-3.1h0m5.4-4.4h0m-8.4 6.9h0m3.6 0.8h0m4.3-6h0m3.4 4.1h0m-11.6 1.9h0m2.7 0.1h0m5-3.3h0m-2.9 0.1h0m-5.3 1.1h0m-0.6 6.9h0m-1-1.5h0m9.8-8.5h0m3 0.7h0m-12.1 7.6h0m0.6-3.3h0m4 0.8h0m0.6-0.7h0m2.7-4.1h0m-2.6 3.3h0m1.7-3.7h0m-4.9 2.9h0m5.5 2.6h0m4-8.8h0" stroke="#f01818" stroke-width="0.8" stroke-linecap="round" opacity="0.42" fill="none"/>
<path d="M399.8 261.8h0m-9.4-9.7h0m-9.6 5.4h0m11.8 5.6h0m3.6 1.2h0m15.9-2.1h0m-4.5-5.3h0m-17.6 1.9h0m-9 16.1h0m17.2-6.9h0m12.3-2h0m-0.8-20.8h0m-3 19.7h0m-15.3 5.8h0m4.9-13.3h0m13.2 10.1h0m-18.7-6.9h0m0.1 3.9h0m4.5-11.5h0m-11.8 18.1h0m1.7-16.9h0m30.3 2.1h0m-30.8-1h0m17.6 1.7h0m-7.7-11.7h0m-4 17.4h0m5.6 10.7h0m3.8-32.5h0m-18 14.9h0m11.2 7h0m7.8-13h0m-24.2 18.5h0m10.3-23.6h0m0.4 14.3h0m-2.2-5.5h0m18.9 0.5h0m-6.1 9.9h0m-10.7-3.6h0m10.7 10.3h0m3.4-10.9h0m-8.9 11.4h0m16-12.8h0m-2.6 8.3h0m-8.2-12.5h0m-12.9 11.5h0m14.4-15.7h0m10.2 24.9h0m-22.9-13.3h0m8-3.2h0m-3.1 7.7h0m18.3-3h0m-13.2 0.4h0m-6.7 3.7h0m1.6-12h0m9.8-6.6h0m-9.9 11h0m3.2-8.6h0m-6.9 10.5h0m13.2 0.2h0m-6.9-5.4h0m1.9-14.6h0m5.3 28.1h0m-5.6-14.5h0m11.5 2.2h0m0.1 3h0m-17.9 0.5h0m0.7 0.3h0m10-0.7h0m-8.1 1.8h0m7.2 0.2h0m1.3 4.3h0m-2.2 1h0m-2.3 3.2h0m3.3-2.3h0m-5-16.8h0m-2.2 10.9h0m6.9-0.6h0m9.3-9.3h0m-27.3 8.3h0m9.2 1.5h0m-5.3-8.1h0m10.5-3h0m-5.9 20.4h0m5.9-9.7h0m9.8-12.4h0m-8.3 12.2h0m1.3-6.9h0m-5.9 6.6h0m9.7-4.6h0m-1-10.3h0m-1.5 21.3h0m-11.2-7.8h0m7.6 4.2h0m10-0.7h0m-11.9-2.8h0m4.2 7.1h0m-0.2-9.7h0m-4.9-1.8h0m-4.4 2.2h0m2.4 9.2h0m-5.1-5.1h0m0.2 5.3h0m12.2 3.4h0m2-16.7h0m-4.2 2.9h0m-4.6-2.8h0m1.8 8.1h0m1.2-0.1h0m0.6-2.4h0m-1.8 2.2h0m0.9 4.9h0m5.1-11.7h0m-3.5 8.6h0m-2.2-3.9h0m1.4 6.1h0m2.3-8.3h0m-1.9 12.8h0m-7.4-4.1h0m13-4.4h0m-6.1-11.3h0m3.9 8.9h0m-3 2.4h0m-7.7 0.4h0m11.9-11.4h0m-6.1-9h0m-11.8 25.6h0m3.2-6.6h0m7.8 8.3h0m5.4-7.1h0m2.2-3.8h0m3.1 0.8h0m1 3.8h0m-7.1-9.5h0m-14.3-3.1h0m16.4-4.1h0m7.1 13h0m-21.9 4.8h0m0.8-2.2h0m7.9 8.3h0m9.4-1.9h0m-11 2.3h0m3.2-8.1h0m4.1 1.1h0m-14.4 2.6h0m-2-1.2h0m12.3-2.8h0m-8.3 6.5h0m7.6-1h0m-4.7-11.2h0m6.5 12.5h0m-11.2-11.5h0m6.6 2.2h0m0.3 9.6h0m9.5-7.5h0m1.1 7.2h0m-11.9-12.6h0m-14.1 0.8h0m25.5-1.3h0m0.7 7.3h0m-17.2-4.9h0m13.2-3.1h0m1.7 8.7h0m-7.2 0.5h0m-0.5-1.2h0m-5.1 8.5h0m5.9-1.8h0m19.5 3h0m-17.5-10.1h0m-0.2 1.1h0m-6.3-15.2h0m9.2 13.3h0m-13.6-7h0m17.3 15.1h0m-5.2-8h0m-6.7 3.6h0m8.4-10.5h0m4.2 16.9h0m-7.3-9.4h0m5.7 6h0m1.7-13.4h0m-14.6 2.4h0m6-0.8h0m-5.3 11.1h0m9.6-0.5h0m-4.1-8.8h0m-5.7 4.7h0m-7.6-8h0m19.4 12.3h0m-5.3-14.3h0m5.2 3h0m-5.7-1.7h0m15.8 17.6h0m-21.6-19h0m6.4 12.8h0m10.6-4.9h0m-20.2 2.5h0m12.2-13.5h0m-4.3 9.3h0m-5.8 3.7h0m16.5 5.7h0m-15.8-11.5h0m12.8 1.8h0m-26.4-2.3h0m14 4.3h0m20.7-0.6h0m-16.2 2.1h0m-0.2 1.6h0m23.1-7.6h0m-22.3 4.4h0m-15.4 4.8h0m16.6-18.3h0m-1.7 15.2h0m-5.1 6.6h0m2.5-18.5h0m11.3 9.7h0m-5.4-10.5h0m-12.3 4.3h0m9.9 6.2h0m12.5 12h0m-10.1-11.7h0m14.3 1.1h0m-7.2-3.9h0m-9 1.5h0m-4.8 4.7h0m-1.1-3.5h0m-8.8 1.3h0m20.8-3h0m1.8 6.3h0m-3.1-6.8h0m-5.7 1.4h0m-6.3 2.9h0m-0.6-8h0m-2.7 14.6h0m6.7-14.2h0m11 3.3h0m-3.7 1.7h0m0.2 2.7h0m-20.4 9.1h0m25.6-20.9h0m-0.9 8.8h0m-6.3 10.8h0m7.2-2.2h0m8.2 0.8h0m-21.2-16.9h0m11.7-3.1h0m-9.6 9.6h0m-2.9 12.3h0m8.3-11.3h0m4.6-1.3h0m-8.3 1.7h0m10.4-12.8h0m-19.5 6.7h0m-2.9 7.3h0m15.5-0.2h0m-2.6 6.7h0m8.9 2.4h0m-9.9-8.8h0m13.1 2.8h0m-1.2-6.3h0m-11.1-1.2h0m0.2 7.6h0m-11.8 3.2h0m3.2-4.1h0m2.5-1.6h0m6.9-6.2h0m-10.5 0.6h0m10 10.9h0m12.9-18.1h0m-9.3 8.9h0m-3.6 5.6h0m6.3 0.7h0m-6.6 8.2h0m2.4-11.2h0m7-8.1h0m-16.8 18.5h0m5.9-23.1h0m8.1 21.3h0m-12.7-17.9h0m5.8 11.9h0m-4.4-9.1h0m9 10.3h0m-17-11.7h0" stroke="#f04848" stroke-width="0.7" stroke-linecap="round" opacity="0.38" fill="none"/>
<rect x="373.4" y="230.5" width="45.5" height="45.2" rx="1" fill="none" stroke="#606060" stroke-width="0.65"/>
<line x1="395.9" y1="230.5" x2="395.9" y2="275.7" stroke="#4a4a4a" stroke-width="0.65"/>
<line x1="373.4" y1="257.3" x2="418.9" y2="257.3" stroke="#4a4a4a" stroke-width="0.65"/>
<text x="370.40" y="235.70" font-size="3.2" text-anchor="middle" dominant-baseline="central" fill="#333" transform="rotate(-90 370.40 235.70)">10</text>
<line x1="372.4" y1="235.70" x2="373.4" y2="235.70" stroke="#444" stroke-width="0.4"/>
<text x="379.60" y="279.10" font-size="3.2" text-anchor="middle" dominant-baseline="central" fill="#333">10</text>
<line x1="379.60" y1="275.7" x2="379.60" y2="276.7" stroke="#444" stroke-width="0.4"/>
<text x="370.40" y="246.90" font-size="3.2" text-anchor="middle" dominant-baseline="central" fill="#333" transform="rotate(-90 370.40 246.90)">10</text>
<line x1="372.4" y1="246.90" x2="373.4" y2="246.90" stroke="#444" stroke-width="0.4"/>
<text x="391.00" y="279.10" font-size="3.2" text-anchor="middle" dominant-baseline="central" fill="#333">10</text>
<line x1="391.00" y1="275.7" x2="391.00" y2="276.7" stroke="#444" stroke-width="0.4"/>
<text x="370.40" y="258.10" font-size="3.2" text-anchor="middle" dominant-baseline="central" fill="#333" transform="rotate(-90 370.40 258.10)">10</text>
<line x1="372.4" y1="258.10" x2="373.4" y2="258.10" stroke="#444" stroke-width="0.4"/>
<text x="402.40" y="279.10" font-size="3.2" text-anchor="middle" dominant-baseline="central" fill="#333">10</text>
<line x1="402.40" y1="275.7" x2="402.40" y2="276.7" stroke="#444" stroke-width="0.4"/>
<text x="370.40" y="269.30" font-size="3.2" text-anchor="middle" dominant-baseline="central" fill="#333" transform="rotate(-90 370.40 269.30)">10</text>
<line x1="372.4" y1="269.30" x2="373.4" y2="269.30" stroke="#444" stroke-width="0.4"/>
<text x="413.80" y="279.10" font-size="3.2" text-anchor="middle" dominant-baseline="central" fill="#333">10</text>
<line x1="413.80" y1="275.7" x2="413.80" y2="276.7" stroke="#444" stroke-width="0.4"/>
<text x="367.20" y="249.50" font-size="3.0" text-anchor="middle" dominant-baseline="central" fill="#444" transform="rotate(-90 367.20 249.50)" font-weight="normal">PerCP-A</text>
<text x="396.40" y="282.50" font-size="3.0" text-anchor="middle" dominant-baseline="central" fill="#444" font-weight="normal">APC-A</text>
<text x="396.70" y="290.50" font-size="5.6" text-anchor="middle" dominant-baseline="central" fill="#000" style="white-space:pre">UR 8.7%  LR 2.1%</text>
<path d="M452.5 261h0m-0.3 2.6h0m-4.5 3.3h0m0.5-4.4h0m7-0.2h0m2.3-1.3h0m-6.5 2.8h0m0.4-3.1h0m3.2-1.3h0m0.1 3.6h0m-0.4-3.6h0m2.8-0.5h0m-3.7 4.9h0m-5.6 3.5h0m7-6.5h0m-3.3 2.2h0m4-2.5h0m-0.1-0.8h0m-5-1.2h0m2.4 7.9h0m-0.2-5.5h0m-4.1 1.9h0m4 0h0m1.2-1.7h0m0.2-1.2h0m-4.3 2.9h0m3.5-2.5h0m-2.5 2.8h0m4.3-2.1h0m0.8-5.3h0m-2.3 9.7h0m0.5-3.6h0m2.2-2.2h0m-3.7 4h0m3.8-0.4h0m0.2-1h0m-0.5-1.1h0m-4.9 6.9h0m-0.1-7.9h0m-1.6 3.3h0m5.2-4h0m1 2h0m-3 2.3h0m-2.9 0.1h0m2 1.7h0m-4.1 1.2h0m4.5-6h0m1.3 0.9h0m-3.1-0.3h0m2.9 0h0m0.1-0.9h0m-2.9 1.6h0m-0.4 0.1h0m0.7-0.6h0m-0.7 4.5h0m-2-1.7h0m6.5-6.3h0m-0.5 5.3h0m-2.8 1.5h0m5.5-3.7h0m-6.8 2.3h0m8.4-7.5h0m-4 8.2h0m-2.6-1.2h0m-2 5h0m2.3-3.8h0m-3.7 0.2h0m2.6-1.5h0m4.5-1.8h0m-4.1 6.2h0m0.2-1.6h0m-0.2-5.4h0m3.2 1.4h0m1.4 2h0m-7 1.3h0m-0.5 2.2h0m-0.6-1.2h0m2.2-2h0m3.5 0.1h0m-6.1 2.9h0m3.2-4.8h0m2.8 0.6h0m1.8-3.5h0m0.3 1.1h0m-5.2 4.6h0m1.7-4.3h0m4.7-1.6h0m-8.7 6.5h0m4.1-3.7h0m4.4-0.4h0m-7.6 0.8h0m8.1-0.7h0m-2.4-1h0m0.8 0.2h0m-1.6-0.7h0m3.5 2.5h0m-11.7 6h0m5.5-3.8h0m1.1-2.3h0m1.9 0.3h0m0.7-3.9h0m-5.8 3.5h0m-1.3 3.4h0m5.5-1.1h0m-0.6-2h0m1.8-0.7h0m-4.8 1h0m2 2.3h0m-1.3-2.6h0m0.9 3.7h0m0.6-7.1h0m2.4 1.8h0m-4.1 5.9h0m-0.3-3.7h0m0.5 1h0m2.9-6.2h0m-5.2 4.7h0m3.3 5.4h0m0.1-6.6h0m1.9-1.2h0m-1 4.3h0m1.7-4.2h0m1.3 2.2h0m-6.5 1h0m4.5-1.5h0m3.3-4.2h0m-6.1 3.2h0m1.3 2h0m3.1-0.5h0m0.4-1.6h0m-1.1 2.4h0m0.9-1.8h0m-3.2 3.7h0m-5.5-1.1h0m5-3.2h0m-0.3 5.4h0m2.3-4.2h0m-4.4 3.5h0m2-5.5h0m4.3 2h0m1.3-2.5h0m-4.9 3.3h0m-2.3 0.3h0m-1.3 1.7h0m0.9-1h0m2.3-1.3h0m-4.6 2.2h0m8.9-1.9h0m-5.5 1.3h0m1.6-4h0m1.7 2.1h0m-3.3 4h0m-1.3-0.2h0m5.1-5.7h0m-5.6 5.6h0m-1.4-2.5h0m5.9-3.2h0m-2 1.7h0m5-2.6h0m2.1-2.8h0m-7.9 5.3h0m1.6-0.7h0m1.9 0.8h0m-2 2h0m4.5-1.3h0m-5.2-0.4h0m-2.5 2.6h0m-0.4 3h0m4.2-6.3h0m1.7-2h0m0.7 4h0m-2.8-0.8h0m-0.9 0.2h0m3.4-5.2h0m-6.1 7.5h0m1.8 3.2h0m2.5-4.4h0m0.8-2.6h0m-1.1 1.2h0m-4 3.1h0m1.9-1.1h0m2.5 1.6h0m5.3-5.8h0m-3.6 0.9h0m-1.5-0.3h0m0.5-5.1h0m-5.9 12.5h0m3.7-8.9h0m1.1 6.5h0m-2.8-4.8h0m4.7 0.4h0m-0.3 2.1h0m0.6-4.3h0m6.1-1.2h0m-10.3 5.1h0m8.1-3.9h0m-3.3-1.9h0m1.2-1.4h0m-2.3 2.7h0m-3.8 7h0m1.5-4h0m-0.5-1.3h0m-0.8 1.5h0m3.9-0.4h0m-0.8-3.1h0m-5.7 3.9h0m7.1-4.6h0m-0.5 2.7h0m6.6-6.3h0m-11.1 12.9h0m0.1-2.9h0m1.3-2.1h0m6.3-3.2h0m-7.8 6.3h0m3.8-1.8h0m-0.7 1.1h0m-1.1-5.6h0m0.3 5.7h0m2.9-3.8h0m-7.5-0.5h0m-1 8.7h0m5.3-8.7h0m8.9 2.8h0m-6.5-0.6h0m-0.1-2.2h0m-4.4 2.3h0m2.9-0.8h0m-0.5 2.8h0m2.5-0.9h0m-1.1-3h0m-1.5 1.4h0m-4.8-1.8h0m8-5h0m-5.7 11.4h0m5.5-5.5h0m2.2-3.4h0m-8.1 8.8h0m-3.2 0h0m3.5-1.5h0m2.5-1.7h0m-0.1 2.5h0m1-2.9h0m0.3-0.5h0m2.8-0.7h0m-5 2.6h0m0.9-3h0m2.2-2.8h0m1.8 3.1h0m-6.1-0.3h0m7.1 0.5h0m-8.1 5.5h0m-3-1h0m4.9-3.8h0m-3.9 5.6h0m5-4.3h0m2.7-3.1h0m4.1-4.3h0m-2.3 4.7h0m-7.2 4.8h0m5.2-7.4h0m-4.2 5.3h0m2-3.4h0m0 2.9h0m-2.9-0.2h0m1.9-2.6h0m0.8 2.5h0m2.7-0.2h0m3.3-1.2h0m-5.9 2.6h0m-1-2h0m4.2 0.3h0m-2.3 0.4h0m1.5-0.1h0m-5.2-0.5h0m-1.1 6.2h0m2.4-3.6h0m3.1-1.4h0m-8.5 4.9h0m10.5-8.5h0m-2.3 4.1h0m2.2-4.9h0m-1 4h0m-4.9 2.3h0m0-0.3h0m0.1-5.4h0m4.1-0.8h0m-2.5 4.7h0m4.3-3.6h0m-2.3 2.6h0m0-2.4h0m-4.5 4.7h0m-0.1-1.3h0m4.2-2.2h0m3.2-0.3h0m0.5-1.6h0m2.8-1.2h0m-5.7 5.6h0m-7.6 2.2h0m5.1-5.5h0m2.7 0.7h0m-0.6 2.2h0m-1 1.3h0m2.4-3.9h0m0.6-1.2h0m4.9-3.8h0m-8.2 5.9h0m-0.1-2.7h0m1.9 0.9h0m-1.3 3.4h0m1.2-2.3h0m-3 0.8h0m1.3 5.4h0m-1-4.8h0m2.3 1.8h0m-5.7-0.9h0m3.3-1.3h0m3.2-0.5h0m-3.3 1.5h0m4-3.1h0m2.6 2.2h0m0.2-2.7h0m-5.3 3h0m2.7-3.3h0m-2 1.6h0m0.4 1h0m0.9 0h0m-4.3 1.4h0m0.6 0.8h0m4.1-2.4h0m-5.5 2.7h0m9.4-5.2h0m-9.9 3.9h0m4.8-0.5h0m6.6-4.7h0m-8.6 7.1h0m-4.1-0.7h0m5.1 3.1h0m6.1-10.8h0m-8.7 6.3h0m8.2-4.4h0m-6.7 3.2h0m1.6 2.3h0m-2.7 1.1h0m5.5-6.1h0m2.1-3.4h0m-5.1 7.7h0m-0.1-1.2h0m4.1-6.1h0m-1.5 2.8h0m1.4 4.9h0m-7.9-0.6h0m5.2-3.2h0m-0.2 0.2h0m5.9-1.1h0m-8.2 5.6h0m1.4-1.6h0m-1.3-4.3h0m0.8 3.8h0m1.6-6.4h0m-5.6 7.3h0m4.2-2.7h0m-6.2 3.3h0m0.6-2.8h0m2.6 2.4h0m9.5-6.6h0m-7.9 2.8h0m0.5 3.1h0m-1.8-1.5h0m3.9-2.3h0m-2 2.6h0m5.3-0.1h0m-1.7 0.7h0m-5.8 0.8h0m8.5-5h0m-6 7.1h0m0-1.6h0m1.6-3.9h0m-8.8 11.3h0m11.9-11.6h0m-7.3 1.4h0m4.7 1.4h0m-4.4 5.9h0m3.6-7.2h0m0.9 0.5h0m-5.1 1.3h0m3.4-1.8h0m1.8-1.2h0m-4.9 9h0m-2.7-5.4h0m7.7 2.7h0m-3.7-3.8h0m0 1h0m3.3-1.6h0m-2.9 1.4h0m0.5-2.3h0m1.9 2.3h0m-1.3-0.9h0m5.7-1.8h0m-1.3 0.1h0m-2.1 2h0m-5.2 1.8h0m9.7-11.8h0m-4.6 6.3h0m-0.4 6.8h0m-3.4-2h0m-2 1.5h0m2-0.3h0m8.5-5.7h0m-11.8 6.8h0m3.7-1.2h0m2-3.5h0m-3.9 2.5h0m6-1.5h0m-3.4 4.3h0m1.1-7.3h0m-5 3.6h0m5.7-1.7h0m-5.7 5.2h0m8.2-6.8h0m-9.1 3.5h0m10.5-2.4h0m-6.3 0.6h0m2.2 0.7h0m1.9-3h0m-6.4 7.2h0m0.6-1.2h0m5.1-3.5h0m1.1-0.7h0m-2.5 0.5h0m-0.8-0.8h0m-5.2 3.1h0m3.5-2.4h0m-0.8 3h0m2.8-0.7h0m-0.8 0h0m0.1 0.2h0m1.7-2.7h0m-1.1-0.1h0m3 2h0m3-1.6h0m-3.8 0.7h0m-2.3 0.2h0m0.5 3.8h0m0-3.9h0m3.4 1.8h0m-5.8 2.7h0m-0.1-6.6h0m-1.1 1.2h0m6.1 1.1h0m-1.9-2.1h0m5.8-1.7h0m-8.4 4.2h0m-1.1-1.6h0m5.6-0.6h0m-5.3 3.9h0m5.4-5.5h0m-6.7 5.3h0m3.6-0.6h0m1.8-2.4h0m2.8-3.7h0m-3.8 5.8h0m-4.8 1.5h0m2.7-1.5h0m2.9-3.7h0m-1.2 2.7h0m4.9 2h0m-4.3-1.1h0m3 2.3h0m2.1-8.7h0m-5.1 7.6h0m-1.7-3.4h0m-2.8 5.9h0m4.2-5.4h0m0.4 0.5h0m4-3.4h0m-2.7 3h0m-4.2 0.1h0m-0.9 4.8h0m4.3-7.6h0m0.9 2.4h0m-6.8 2.8h0m7.2-2.8h0m-2.6 0.9h0m-0.1-0.5h0m-3.8 5.9h0m6.1-4.4h0m-7 4.1h0m3.3-4.9h0m1.3 0.5h0m-4.5 1.2h0m8.6-6.1h0m-7.2 2.6h0m2.9 0.2h0m3.6-0.8h0m-8 3.2h0m3.9-0.6h0m-1 1.2h0m4.5-1.7h0m-5-0.1h0m7.1-5.2h0m-4.5 7h0m0.9-3.3h0m3.4-2.9h0m-5.5 4.2h0m0.2-1h0m3.6-0.2h0m1.5-1.8h0m-8.3 5.5h0m4.4-4.2h0m2.5-1.6h0m0.4 0.6h0m-3 0.4h0m0.7 4.1h0m-3.5 0.1h0m1.4-2.9h0m2.5 1.7h0m-2.1 3.2h0m6.6-4.9h0m-5.3 4.3h0m0.7-1.3h0m-2.4-3.1h0m-0.3 1.5h0m2.1 0.5h0m-2.1 2.1h0m-2.9-2.5h0m0.2 1.4h0m3.4-1.9h0m4.9-1.1h0m-2-1.6h0m-8.6 3.4h0m12.1-2.9h0m-3.7 2.6h0m-2.5-0.7h0m-2.2 1.3h0m4.5-1.6h0m-0.3-3.4h0m4.1 1.8h0m-9.7 8.5h0m5.3-8.1h0m1.6-0.1h0m-5.8 4.5h0m-0.4-6.5h0m1.3 3.4h0m3.2 0.8h0m-0.6 1.3h0m-7.2-0.7h0m12.8-1.9h0m-8.2 1.6h0m2.8-0.8h0m-4 2.6h0m1.9-3.7h0m-2.2 5.7h0m3.4-6.8h0m1.2 4h0m-5.4 6.7h0m5-9.2h0m2.6-0.2h0m-0.5 0.6h0m-3.2 2.3h0m4.4-2h0m-4.7-1.3h0m1 2.2h0m0.6 1.2h0m-1.8 4.4h0m2.5-4.4h0m7.7-4.8h0m-7.8 5.1h0m-0.2-1.5h0m-3.7 0.5h0m0.9-5.7h0m-0.2 6.2h0m3.7 0h0m-2.7 0h0m6.2-5.3h0m-3.6 4.8h0m-1.8-3.4h0m2.5 4.7h0m1.2-2.2h0m-5.5-2.8h0m2.5 7.6h0m-3.2-4.9h0m2.1-1.3h0m-7.2 9h0m15.1-11.7h0m-10 4.1h0m4-1.2h0m-7 4.8h0m8.6-3.8h0m-2.5-2.3h0m0.6 3.6h0m-2.1-1h0m-1.7 5.4h0m5.7-10.4h0m-0.8 2.8h0m-3 2.7h0m0.9 0.5h0m0.9-6.7h0m-0.7 8.2h0m-1.5-2.4h0m-0.9 1h0m5.1-4.4h0m-5 5.7h0m-0.7-1.3h0m2.5 2.3h0m0.4-4.6h0m-3.8 4.4h0m6.2-6.2h0m-6.1 6.7h0m-1.3 1.7h0m5-3.2h0m2.4-1.9h0m-2.9-0.6h0m-1.6 0.9h0m3.8-4.1h0m-3.3 5.4h0m1.7-0.5h0m1.5-3.7h0m-7.6 5.1h0m1.7 0.1h0m2.6-1.1h0m2.1-1.9h0m-4.3 1.7h0m7-2.3h0m-2.6-0.1h0" stroke="#ee0000" stroke-width="0.8" stroke-linecap="round" opacity="0.5" fill="none"/>
<path d="M466.2 253.2h0m5.9-1.2h0m-5.3-0.4h0m1 2.2h0m-8.5 1.1h0m1.5-0.2h0m3.2-0.6h0m-0.9 0.9h0m3.4-3.7h0m-4.9 1.5h0m7 3.2h0m-3.7-1.6h0m0.5 0.1h0m1.7-0.3h0m-0.9-0.8h0m-1.9 2h0m0.6 0.4h0m-5.1 2.6h0m5.1-5.9h0m-3.2 2.8h0m1.1-1h0m-0.6-1h0m2.3-1.1h0m-6.1 3.5h0m15.2-1.9h0m-10.8 3.2h0m7-3.5h0m-8.9 1.6h0m3.3-0.9h0m3.1 1.6h0m1.1-2.4h0m-4.8 1.3h0m-1.8-2.6h0m-0.7 1.4h0m5.1-0.1h0m-2.3 0.9h0m3.5 0.4h0m-9.3 0.6h0m9.6-2.7h0m1.7-1.5h0m-1.8 3.6h0m-0.5-2.3h0m-1.4 0.4h0m-9 6.2h0m8.1-7.3h0m2.5 0.5h0m0.6-2.2h0m-0.6 2.7h0m0.2-1.2h0m-3.5 1.7h0m9.2-2.9h0m-9.8 6.3h0m6.2-3.9h0m-5.5 3.2h0m3.4-1.9h0m-1-3h0m-4 3.8h0m1.7-0.7h0m4.4-1.7h0m-4.6 0.1h0m-2.8 6.3h0m12.9-5.7h0m-6.6 1.4h0m-2.5-0.6h0m-2.4 1.1h0m-2 1h0m10.1-3.6h0m-5.2 0.8h0m5.3 2.5h0m-4.9-1.8h0m5.7-0.7h0m-5 2.3h0m-7.1-0.7h0m9.2 0.2h0m-6.7 0.6h0m1-1.3h0m2.8-0.3h0m7.7-1h0m-10.9 0.5h0m5.1 0.5h0m-4.5 0.8h0m4.2-0.6h0m-2.6-1.5h0m1.9 0.5h0m-3.9-0.4h0m5.5-0.1h0m-1.8 4.8h0m0.2-2.1h0m-3.2 1.3h0m-3.6-0.1h0m9-4h0m-7.6 6h0m0.9 0.2h0m0.7-5.3h0m2.5 1.1h0m-2.6 1.6h0m6.4-1.3h0m-1.4-1h0m-4.1 1.8h0m-0.1-1.9h0m2.9 1.5h0m0.3-3.4h0m7.8-0.3h0m-5.8 1.6h0m0.5-0.8h0m-1.9 2.7h0m0.9-3.7h0m-2.7 3.9h0m3.5-1.4h0m-3.2 0.9h0m6.4-2.5h0m-5.6 1.8h0m1.4-0.9h0m5.3-1.4h0m-12.4 3.9h0m4.6-1.1h0m-5.1-0.2h0m9.9-3.5h0m-2.3 2.6h0m-5.6 0.3h0m7.2 0.5h0m-8.1-0.3h0m1.4 0.5h0m4.4-1.2h0m0.7-2.6h0m2.3 0.8h0m-5.5 3.4h0m-2.5-1.2h0m2.9-1.9h0m4.4 2.7h0m-2.7 2.1h0m-3.8-2.6h0m4.2-3.7h0m-5.9 6.4h0m-7.6 3.9h0m10.3-7.8h0m7.7-1.2h0m-6.6 0.2h0m-1.6 4.3h0m5.5-3.5h0m2 1.5h0m-2.7-2.7h0m3.9-0.9h0m0 3.3h0m-9.4-1h0m5.9 0.2h0m-3.9-0.5h0m-3.8 3.8h0m-3.8-4.4h0m14.4 1.5h0m-6.9 0.4h0m5.2-0.3h0m-1.9 2h0m-6 0.9h0m10.3-3.8h0m-12.3 5.9h0m1.6-1.6h0m7.3-1.5h0m-9.9 1.1h0m4.7-2.2h0m1.1-0.6h0m-1 0.5h0m7-2.7h0m-6.6 3.2h0m-3.5 2.2h0m0.2-1.7h0m0.5-1.2h0m7 0.6h0m-4-1.5h0m-1.7 4h0m0.7-0.4h0m-0.8-0.4h0m5.1-5.9h0m-2.3-1.6h0m1.7 3h0m-2.2 1.2h0m0.3-0.4h0m1.9 3.3h0m1.5-5.6h0m-7.8 6.2h0m4.8-3.2h0m-1.3 0.4h0m-2.3 0.8h0m6.1-0.4h0m0.6-0.1h0m0.9-2h0m-4.9 1.1h0m-2.7 1.7h0m2-3.5h0m-0.4 3.4h0m9.2-2.4h0m-8.7 0.9h0m4.9-2.4h0m-3.5 3.2h0m1.7 2.7h0m-1.4-2.5h0m5.7-1.4h0m-9.6 0.8h0m-4.1 1.6h0m7.1-1.7h0m0.9-4.2h0m-4.2 2.3h0m-0.9 2h0m7.9 3.5h0m0.4-4.5h0m1-0.2h0m-5.2 4.3h0m10.2-5.5h0m-11.1 4.7h0m4.5-2.6h0m-9.3 3.1h0m-1.6-2.1h0m10.7-1h0m1.4 0.6h0m0.2-0.6h0m0.9-2.1h0m-5.7 3.9h0m3.4-4.4h0m-5.2 2.3h0m1.5 3.3h0m-17.6 3.4h0m10.9-4.8h0m-2.7 3.8h0m-0.6 2.6h0m0.3 1.4h0m3.9-4.4h0m-0.6 2.2h0m3.2-1.7h0m4.3-2.9h0m-6 3h0m-3.3 0.3h0m4.4-1.5h0m-6.3 0.1h0m2.7 3.8h0m7.7-5.2h0m-10.4 7h0m8-7.7h0m-8.8 5h0m-2.5 0.4h0m5.3-0.4h0m2.4 1.2h0m2-4.1h0m-3.3-0.2h0m7.2 0.5h0m-3.8-2.4h0m-10.1 7h0m3.2-2.9h0m8.2-3.2h0m8.3-2.5h0m-11.7 4.8h0m-3.8 7.7h0m2.1-4.4h0m2.5-5.1h0m-0.5-2.8h0m-0.7 1.3h0m2.4 0.8h0m0.6 0.1h0m-3.8 4.2h0m-0.8-1.2h0m4.6-3.7h0m-9.2 7.9h0m6.2-6.2h0m3-2.9h0m1.1 0.5h0m-6.7-2h0m3.4 2.2h0m-6 3.7h0m12.5-5.6h0m-0.7 2.4h0m3.4-1.6h0m-2.5 1.5h0m-6.9 1.8h0m-2.9 4.3h0m4.7-7.2h0m-0.9 4h0m-3.2 4.8h0m4.3-7.7h0m-0.2 1.9h0m-4.2 3.2h0m7.5-9.8h0m-4.2 8.2h0m-2-2.6h0m5.8-1.7h0m1.6-2.1h0m-5.9-0.2h0m-8 11.5h0m5.5-5.5h0m10.2-3.4h0m-5.7 3h0m-8.5 3.9h0m9.4-3.2h0m0.3-0.5h0m-9.5-1.9h0m9.2 0.3h0m-6.4 1.8h0m9.2-6.4h0m-4.4 4.8h0m-7.1 4.9h0m4.7-4.1h0m6.6 0.6h0m-10 4.4h0m9.9-4.2h0m3.3-4.9h0m-13.3 8.5h0m11.8-11.9h0m-15.7 8.5h0m12.2-1h0m-2.1 0.7h0m4.4-3.2h0m-6.3-2h0m-0.4 5.3h0m-5.4 1.1h0m11-4.8h0m-2.9 1.6h0m-1.9 0.5h0m3.3-4.7h0m1 4.3h0m-3.6 2.4h0m-5.8 0.4h0m4.6-1.1h0m-1.5-0.8h0m-4.3 5h0m10.3-4.5h0m-2.6-1h0m-5.7 1.6h0m4.4-3.8h0m1.7 2h0m-7 1.7h0m-1.5-2.9h0m7 3.1h0m3.6-0.4h0m-10.1 2.9h0" stroke="#f01818" stroke-width="0.8" stroke-linecap="round" opacity="0.42" fill="none"/>
<path d="M453.5 262h0m-10.5-4.5h0m15.7 3.9h0m-11.8-2.7h0m20.1 1.1h0m-0.3 5.8h0m-5.3-7.9h0m-1.4-4.3h0m5.1 9.6h0m1.6 1.9h0m-5.7 2.2h0m10.3-8.7h0m-23-8.3h0m19.7 14h0m-4-16.4h0m-9.6 0.9h0m-5 7.6h0m4 16.5h0m-5.1-16.9h0m4.5 5.3h0m12.9-6.7h0m-20.9 2.9h0m18-5.1h0m4.9 0.5h0m-14 4.4h0m22.2 9.4h0m-13.5-13.7h0m-12.8 2.4h0m23.6 15.3h0m-12.6-15.4h0m-16.6 1.9h0m19.8 7.8h0m-1.1-9.7h0m1 4.2h0m3.2 3.2h0m-0.9 0.6h0m-10.8 6.5h0m-4.9-3.9h0m5.2-8h0m6.2-1.2h0m-11.3-3.1h0m-0.9 7.3h0m12.5-0.8h0m-16.2 1.7h0m21.7-9.8h0m-16 15.7h0m6.3 1.3h0m-1.4-19.2h0m2.6 10.5h0m2.9-6h0m-7.4 18.6h0m-4.9-10.4h0m12.9 4.9h0m-3.2-11.6h0m0.9-6.4h0m-22.5-0.4h0m35.2 18.1h0m2.4-2.6h0m-28.7-11.3h0m15.4 1.2h0m-10.9-1.9h0m1.6-6.3h0m10.3 9.1h0m7.2 18.1h0m-11.5-4.7h0m10.1-6.4h0m-11 8.2h0m7.2-11.1h0m-10 1.4h0m12.4 5.2h0m-13.2-6.4h0m6.5-2h0m-2.1-4.3h0m-6.2 9.6h0m9-4.5h0m16.5 1.1h0m-12.6 3.4h0m-10 3h0m13.4-5h0m-16.9-1.7h0m12.4 1.6h0m-11.8-3.7h0m5 1.6h0m2.4 14.1h0m1.5-14.8h0m4 7.7h0m-15-9.5h0m-0.2 7.1h0m16.6-4.1h0m3.2-2.7h0m-13.2 3.8h0m4.3 13h0m-11.1-8.2h0m10.2 4.6h0m-12-17.5h0m25.8 18.1h0m-5.3-10.4h0m-0.1 1h0m-18.3-1.1h0m7-6.7h0m-2.7 2.5h0m9.4 12.6h0m5 0.9h0m-18.6-3.9h0m16-1.3h0m-14.9-24.9h0m9.4 15.6h0m6.2-4.8h0m-3 7.8h0m-15.9-0.2h0m10 9.7h0m8.1 3h0m-0.4-12.7h0m-10.1 4.6h0m0.7-13.6h0m-14.5 18.1h0m13.1 2.1h0m5.6-4.1h0m-0.7 4.6h0m3.8-11.8h0m-5.2 1.8h0m1.5 3.4h0m-4.3-6h0m3.6-9h0m3.5 16.1h0m-3.6-19.7h0m3.9 24.3h0m0.3-0.3h0m-5-0.7h0m6.9-7.4h0m-5.2-11.5h0m-12.3 20h0m20.3-13.7h0m-21.8-8.7h0m22.8 17.4h0m6.5 7h0m1-3.3h0m-22.1-8.8h0m14.3-8.2h0m-4.7 7.6h0m6.1-1.1h0m-17.2 11.4h0m8.8-11.7h0m3.1 0.9h0m-0.3 4.3h0m1.1-7.9h0m-12.2 21.1h0m8.4-15.3h0m-10.4-2.5h0m9.7-5.2h0m-2.3 7.1h0m-16.4 2h0m27.1-3.3h0m-12.2 5.2h0m-3.3-15.1h0m5.4 9.8h0m-5.8 13.8h0m6.4-16.1h0m-6.8 17.6h0m12.8-25.3h0m-1.7 9.6h0m-10.2 12.2h0m11.1-14.8h0m-6.2 11.2h0m-0.9-1.7h0m-4.9 6.6h0m18.3-14.7h0m-24.5 1.4h0m19.5 5.1h0m-7.9-0.2h0m-12.1-1.7h0m11.7-4.4h0m7.7-0.2h0m-12.2 10.2h0m10.8-4.7h0m-3.4 2.4h0m0.9-10.3h0m0.4 5.4h0m6.8 6.7h0m-16.5-5.4h0m1.5 8.4h0m-6.3 1.7h0m5.5-7.2h0m2 0.7h0m13.6 1.8h0m-20.2-6.7h0m11.5 16.2h0m-5.5-17.2h0m-2.3 2.6h0m12.3-7.1h0m6.3 17h0m-5.1-4.8h0m-17.3-2.3h0m9-9.5h0m-6.7 5.5h0m10.5 5.3h0m2.7-3.2h0m-4.8 4.1h0m-5.7-14.6h0m12.6-5.7h0m-2.4 25.3h0m-15.4-26.4h0m3.3 19.1h0m-0.9 5.5h0m13.7-15.3h0m1.1-3.4h0m-10.5 12.6h0m15.3 4.3h0m1.5-17h0m-10.5 22.8h0m2-2.7h0m-14.9-17.6h0m6.7 4.2h0m4.8 1.8h0m-11 4.2h0m-2-7h0m14.7-1.5h0m-2.9 11.7h0m13 4.2h0m-5.2-5.4h0m-18.4-10.2h0m3.3 2.3h0m6.3-3.1h0m-2.6 15.7h0m0-23.2h0m1.3 13.6h0m10.4 14h0m-13.2-7.1h0m7.4-6.5h0m-9.3 2.3h0m-9.5 5.6h0m-1.4-5.8h0m11.5-6.1h0m4.2 13.5h0m8.5-15.2h0m-1.4 7.5h0m12.6-12.3h0m-18.4 4h0m0.7-8.2h0m-7.7 14.5h0m2.8-5.9h0m4 2.4h0m-6.8 2.4h0m8.1 4.3h0m-15.1-5.5h0m24.9-7.8h0m-8.9 7.2h0m8.1 12.9h0m-7-13h0m-15.7-0.2h0m6.3 4.2h0m20.4 14.1h0m-10.6-13.4h0m-3.7 1.3h0m-0.6 11h0m-4.7-12.3h0m1.2 6.2h0m20.6-2.1h0m-13.7-4.6h0m3.3-3.8h0m9.1 16.7h0m-5.4-7.1h0m-12 7.6h0m-8.2-19.1h0m29.7 2.4h0m-24.8-9.2h0m15.6 21.2h0m-6.9-21h0m-2.5 6.3h0m8.4 16.8h0m-3.9-7.7h0m9.3 9.5h0m-23-9.3h0m0.1-9h0m19.6-2.6h0m-11 17.6h0m5.2-21.5h0m-4.6 10.5h0m1.3 2.2h0m8.3 0.8h0m-19.8-1.1h0m14.7 1.2h0m5.4 5.3h0m-4.6-7.7h0m-18.1 9.6h0m17.6-13.5h0" stroke="#f04848" stroke-width="0.7" stroke-linecap="round" opacity="0.38" fill="none"/>
<rect x="434.75" y="230.5" width="45.5" height="45.2" rx="1" fill="none" stroke="#606060" stroke-width="0.65"/>
<line x1="457.25" y1="230.5" x2="457.25" y2="275.7" stroke="#4a4a4a" stroke-width="0.65"/>
<line x1="434.75" y1="257.3" x2="480.25" y2="257.3" stroke="#4a4a4a" stroke-width="0.65"/>
<text x="431.75" y="235.70" font-size="3.2" text-anchor="middle" dominant-baseline="central" fill="#333" transform="rotate(-90 431.75 235.70)">10</text>
<line x1="433.75" y1="235.70" x2="434.75" y2="235.70" stroke="#444" stroke-width="0.4"/>
<text x="440.95" y="279.10" font-size="3.2" text-anchor="middle" dominant-baseline="central" fill="#333">10</text>
<line x1="440.95" y1="275.7" x2="440.95" y2="276.7" stroke="#444" stroke-width="0.4"/>
<text x="431.75" y="246.90" font-size="3.2" text-anchor="middle" dominant-baseline="central" fill="#333" transform="rotate(-90 431.75 246.90)">10</text>
<line x1="433.75" y1="246.90" x2="434.75" y2="246.90" stroke="#444" stroke-width="0.4"/>
<text x="452.35" y="279.10" font-size="3.2" text-anchor="middle" dominant-baseline="central" fill="#333">10</text>
<line x1="452.35" y1="275.7" x2="452.35" y2="276.7" stroke="#444" stroke-width="0.4"/>
<text x="431.75" y="258.10" font-size="3.2" text-anchor="middle" dominant-baseline="central" fill="#333" transform="rotate(-90 431.75 258.10)">10</text>
<line x1="433.75" y1="258.10" x2="434.75" y2="258.10" stroke="#444" stroke-width="0.4"/>
<text x="463.75" y="279.10" font-size="3.2" text-anchor="middle" dominant-baseline="central" fill="#333">10</text>
<line x1="463.75" y1="275.7" x2="463.75" y2="276.7" stroke="#444" stroke-width="0.4"/>
<text x="431.75" y="269.30" font-size="3.2" text-anchor="middle" dominant-baseline="central" fill="#333" transform="rotate(-90 431.75 269.30)">10</text>
<line x1="433.75" y1="269.30" x2="434.75" y2="269.30" stroke="#444" stroke-width="0.4"/>
<text x="475.15" y="279.10" font-size="3.2" text-anchor="middle" dominant-baseline="central" fill="#333">10</text>
<line x1="475.15" y1="275.7" x2="475.15" y2="276.7" stroke="#444" stroke-width="0.4"/>
<text x="428.55" y="249.50" font-size="3.0" text-anchor="middle" dominant-baseline="central" fill="#444" transform="rotate(-90 428.55 249.50)" font-weight="normal">PerCP-A</text>
<text x="457.75" y="282.50" font-size="3.0" text-anchor="middle" dominant-baseline="central" fill="#444" font-weight="normal">APC-A</text>
<text x="458.05" y="290.50" font-size="5.6" text-anchor="middle" dominant-baseline="central" fill="#000" style="white-space:pre">UR 18.1%  LR 2.3%</text>
<text x="160.90" y="193.70" font-size="7.4" text-anchor="middle" dominant-baseline="central" fill="#000">U87</text>
<text x="162.60" y="252.70" font-size="7.3" text-anchor="middle" dominant-baseline="central" fill="#000">U251</text>
<line x1="176.8" y1="282" x2="176.8" y2="166" stroke="#333" stroke-width="0.9" marker-end="url(#ah)"/>
<text x="171.50" y="221.80" font-size="7.3" text-anchor="middle" dominant-baseline="central" fill="#000" transform="rotate(-90 171.50 221.80)">7-AAD</text>
<line x1="211.2" y1="302" x2="447" y2="302" stroke="#000" stroke-width="0.9" marker-end="url(#ah)"/>
<text x="329.60" y="309.50" font-size="7.5" text-anchor="middle" dominant-baseline="central" fill="#000">Annexin V-APC</text>
<line x1="520.40" y1="183.61" x2="520.40" y2="180.61" stroke="#000" stroke-width="1.2"/>
<line x1="517.40" y1="180.61" x2="523.40" y2="180.61" stroke="#000" stroke-width="1.2"/>
<rect x="514.90" y="183.61" width="11.00" height="29.99" fill="#a0a0a0" stroke="#000" stroke-width="1.2"/>
<line x1="537.60" y1="184.39" x2="537.60" y2="179.44" stroke="#000" stroke-width="1.2"/>
<line x1="534.60" y1="179.44" x2="540.60" y2="179.44" stroke="#000" stroke-width="1.2"/>
<rect x="532.10" y="184.39" width="11.00" height="29.21" fill="#a0a0a0" stroke="#000" stroke-width="1.2"/>
<line x1="554.70" y1="200.30" x2="554.70" y2="196.99" stroke="#000" stroke-width="1.2"/>
<line x1="551.70" y1="196.99" x2="557.70" y2="196.99" stroke="#000" stroke-width="1.2"/>
<rect x="549.20" y="200.30" width="11.00" height="13.30" fill="#a0a0a0" stroke="#000" stroke-width="1.2"/>
<path d="M554.70 193.00L554.70 191.50M554.70 193.00L556.13 192.54M554.70 193.00L555.58 194.21M554.70 193.00L553.82 194.21M554.70 193.00L553.27 192.54" stroke="#333" stroke-width="0.5700000000000001" stroke-linecap="round"/>
<line x1="572.00" y1="179.96" x2="572.00" y2="178.39" stroke="#000" stroke-width="1.2"/>
<line x1="569.00" y1="178.39" x2="575.00" y2="178.39" stroke="#000" stroke-width="1.2"/>
<rect x="566.50" y="179.96" width="11.00" height="33.64" fill="#a0a0a0" stroke="#000" stroke-width="1.2"/>
<line x1="589.30" y1="158.31" x2="589.30" y2="155.70" stroke="#000" stroke-width="1.2"/>
<line x1="586.30" y1="155.70" x2="592.30" y2="155.70" stroke="#000" stroke-width="1.2"/>
<rect x="583.80" y="158.31" width="11.00" height="55.29" fill="#a0a0a0" stroke="#000" stroke-width="1.2"/>
<text x="589.30" y="151.00" font-size="7.6" text-anchor="middle" dominant-baseline="central" fill="#555" font-family="Liberation Sans" font-weight="normal" font-style="italic">#</text>
<line x1="512.40" y1="213.60" x2="512.40" y2="148.40" stroke="#000" stroke-width="1.0"/>
<line x1="511.90" y1="213.60" x2="598.00" y2="213.60" stroke="#000" stroke-width="1.0"/>
<line x1="510.40" y1="213.60" x2="512.40" y2="213.60" stroke="#000" stroke-width="1.0"/>
<text x="509.60" y="213.60" font-size="5" text-anchor="end" dominant-baseline="central" fill="#000">0</text>
<line x1="510.40" y1="200.56" x2="512.40" y2="200.56" stroke="#000" stroke-width="1.0"/>
<text x="509.60" y="200.56" font-size="5" text-anchor="end" dominant-baseline="central" fill="#000">5</text>
<line x1="510.40" y1="187.52" x2="512.40" y2="187.52" stroke="#000" stroke-width="1.0"/>
<text x="509.60" y="187.52" font-size="5" text-anchor="end" dominant-baseline="central" fill="#000">10</text>
<line x1="510.40" y1="174.48" x2="512.40" y2="174.48" stroke="#000" stroke-width="1.0"/>
<text x="509.60" y="174.48" font-size="5" text-anchor="end" dominant-baseline="central" fill="#000">15</text>
<line x1="510.40" y1="161.44" x2="512.40" y2="161.44" stroke="#000" stroke-width="1.0"/>
<text x="509.60" y="161.44" font-size="5" text-anchor="end" dominant-baseline="central" fill="#000">20</text>
<line x1="510.40" y1="148.40" x2="512.40" y2="148.40" stroke="#000" stroke-width="1.0"/>
<text x="509.60" y="148.40" font-size="5" text-anchor="end" dominant-baseline="central" fill="#000">25</text>
<line x1="520.40" y1="213.60" x2="520.40" y2="215.80" stroke="#000" stroke-width="0.8"/>
<line x1="537.60" y1="213.60" x2="537.60" y2="215.80" stroke="#000" stroke-width="0.8"/>
<line x1="554.70" y1="213.60" x2="554.70" y2="215.80" stroke="#000" stroke-width="0.8"/>
<line x1="572.00" y1="213.60" x2="572.00" y2="215.80" stroke="#000" stroke-width="0.8"/>
<line x1="589.30" y1="213.60" x2="589.30" y2="215.80" stroke="#000" stroke-width="0.8"/>
<text x="499.60" y="182.00" font-size="7.1" text-anchor="middle" dominant-baseline="central" fill="#000" transform="rotate(-90 499.60 182.00)">Apoptotic cells (%)</text>
<text x="521.90" y="217.00" font-size="4.5" text-anchor="end" dominant-baseline="central" fill="#000" transform="rotate(-30 521.90 217.00)">control</text>
<text x="539.10" y="217.00" font-size="4.5" text-anchor="end" dominant-baseline="central" fill="#000" transform="rotate(-30 539.10 217.00)">FGF1(+)-NC</text>
<text x="556.20" y="217.00" font-size="4.5" text-anchor="end" dominant-baseline="central" fill="#000" transform="rotate(-30 556.20 217.00)">FGF1(+)</text>
<text x="573.50" y="217.00" font-size="4.5" text-anchor="end" dominant-baseline="central" fill="#000" transform="rotate(-30 573.50 217.00)">FGF1(-)-NC</text>
<text x="590.80" y="217.00" font-size="4.5" text-anchor="end" dominant-baseline="central" fill="#000" transform="rotate(-30 590.80 217.00)">FGF1(-)</text>
<line x1="521.00" y1="271.04" x2="521.00" y2="267.43" stroke="#000" stroke-width="1.2"/>
<line x1="518.00" y1="267.43" x2="524.00" y2="267.43" stroke="#000" stroke-width="1.2"/>
<rect x="515.50" y="271.04" width="11.00" height="30.96" fill="#a0a0a0" stroke="#000" stroke-width="1.2"/>
<line x1="537.60" y1="273.36" x2="537.60" y2="269.60" stroke="#000" stroke-width="1.2"/>
<line x1="534.60" y1="269.60" x2="540.60" y2="269.60" stroke="#000" stroke-width="1.2"/>
<rect x="532.10" y="273.36" width="11.00" height="28.64" fill="#a0a0a0" stroke="#000" stroke-width="1.2"/>
<line x1="555.00" y1="290.91" x2="555.00" y2="287.60" stroke="#000" stroke-width="1.2"/>
<line x1="552.00" y1="287.60" x2="558.00" y2="287.60" stroke="#000" stroke-width="1.2"/>
<rect x="549.50" y="290.91" width="11.00" height="11.09" fill="#a0a0a0" stroke="#000" stroke-width="1.2"/>
<path d="M555.00 283.00L555.00 281.50M555.00 283.00L556.43 282.54M555.00 283.00L555.88 284.21M555.00 283.00L554.12 284.21M555.00 283.00L553.57 282.54" stroke="#333" stroke-width="0.5700000000000001" stroke-linecap="round"/>
<line x1="572.00" y1="275.43" x2="572.00" y2="271.40" stroke="#000" stroke-width="1.2"/>
<line x1="569.00" y1="271.40" x2="575.00" y2="271.40" stroke="#000" stroke-width="1.2"/>
<rect x="566.50" y="275.43" width="11.00" height="26.57" fill="#a0a0a0" stroke="#000" stroke-width="1.2"/>
<line x1="589.00" y1="249.37" x2="589.00" y2="246.40" stroke="#000" stroke-width="1.2"/>
<line x1="586.00" y1="246.40" x2="592.00" y2="246.40" stroke="#000" stroke-width="1.2"/>
<rect x="583.50" y="249.37" width="11.00" height="52.63" fill="#a0a0a0" stroke="#000" stroke-width="1.2"/>
<text x="589.00" y="241.00" font-size="7.6" text-anchor="middle" dominant-baseline="central" fill="#555" font-family="Liberation Sans" font-weight="normal" font-style="italic">#</text>
<line x1="512.00" y1="302.00" x2="512.00" y2="237.50" stroke="#000" stroke-width="1.0"/>
<line x1="511.50" y1="302.00" x2="598.00" y2="302.00" stroke="#000" stroke-width="1.0"/>
<line x1="510.00" y1="302.00" x2="512.00" y2="302.00" stroke="#000" stroke-width="1.0"/>
<text x="509.20" y="302.00" font-size="5" text-anchor="end" dominant-baseline="central" fill="#000">0</text>
<line x1="510.00" y1="289.10" x2="512.00" y2="289.10" stroke="#000" stroke-width="1.0"/>
<text x="509.20" y="289.10" font-size="5" text-anchor="end" dominant-baseline="central" fill="#000">5</text>
<line x1="510.00" y1="276.20" x2="512.00" y2="276.20" stroke="#000" stroke-width="1.0"/>
<text x="509.20" y="276.20" font-size="5" text-anchor="end" dominant-baseline="central" fill="#000">10</text>
<line x1="510.00" y1="263.30" x2="512.00" y2="263.30" stroke="#000" stroke-width="1.0"/>
<text x="509.20" y="263.30" font-size="5" text-anchor="end" dominant-baseline="central" fill="#000">15</text>
<line x1="510.00" y1="250.40" x2="512.00" y2="250.40" stroke="#000" stroke-width="1.0"/>
<text x="509.20" y="250.40" font-size="5" text-anchor="end" dominant-baseline="central" fill="#000">20</text>
<line x1="510.00" y1="237.50" x2="512.00" y2="237.50" stroke="#000" stroke-width="1.0"/>
<text x="509.20" y="237.50" font-size="5" text-anchor="end" dominant-baseline="central" fill="#000">25</text>
<line x1="521.00" y1="302.00" x2="521.00" y2="304.20" stroke="#000" stroke-width="0.8"/>
<line x1="537.60" y1="302.00" x2="537.60" y2="304.20" stroke="#000" stroke-width="0.8"/>
<line x1="555.00" y1="302.00" x2="555.00" y2="304.20" stroke="#000" stroke-width="0.8"/>
<line x1="572.00" y1="302.00" x2="572.00" y2="304.20" stroke="#000" stroke-width="0.8"/>
<line x1="589.00" y1="302.00" x2="589.00" y2="304.20" stroke="#000" stroke-width="0.8"/>
<text x="499.40" y="269.50" font-size="7.1" text-anchor="middle" dominant-baseline="central" fill="#000" transform="rotate(-90 499.40 269.50)">Apoptotic cells (%)</text>
<text x="522.50" y="305.50" font-size="4.5" text-anchor="end" dominant-baseline="central" fill="#000" transform="rotate(-30 522.50 305.50)">control</text>
<text x="539.10" y="305.50" font-size="4.5" text-anchor="end" dominant-baseline="central" fill="#000" transform="rotate(-30 539.10 305.50)">FGF1(+)-NC</text>
<text x="556.50" y="305.50" font-size="4.5" text-anchor="end" dominant-baseline="central" fill="#000" transform="rotate(-30 556.50 305.50)">FGF1(+)</text>
<text x="573.50" y="305.50" font-size="4.5" text-anchor="end" dominant-baseline="central" fill="#000" transform="rotate(-30 573.50 305.50)">FGF1(-)-NC</text>
<text x="590.50" y="305.50" font-size="4.5" text-anchor="end" dominant-baseline="central" fill="#000" transform="rotate(-30 590.50 305.50)">FGF1(-)</text>
<rect x="64.1" y="335.5" width="57.2" height="42.9" fill="#e3e0df"/>
<g stroke="#a03ab0" stroke-linecap="round" fill="none" filter="url(#halo0)"><path d="M78.6 375.9l0-0.4m-1.4-2.3l-0.2 0.4m4.8 3.7l0.6-0.1m5.5-27.3l0.1-0.8m-6.4 12l0.4-0.5m13.4 1.3l-0.4 0.8m17.2-21.5l-0.3-1.6m4.3 11.9l-0.5 0.6m-0.4-1.2l0.5 0.4m-48.5 3.4l1.2 1.4m13.7-6.8l-1.4-0.2m36 15.1l0.7 0.5m2.2 1l0.5 0.3m-6.6-29.7l1.4-0.1m-1.4 7.9l-0.7 0.3m-9.6 11.3l-0.5-0.2m-4.8 2.1l0.1-1.9m3.2 2l0.4-0.4m5.8 18.9l2-0.9m-13.5-11l0.2-0.2m-1.6-0.7l2.1-0.1m-22.2 12.5l-0 1.1m38.7-36l2.1 0.2m1.7 1.1l1 0.2m-34.2 18.5l-1.5 0.1m1.4-0.2l1.6 1.2m-5.3 4.8l-0-0.6m0.4-2.4l1.3-0.1m15.8-21.9l0.1 0.8m-9.5 0.2l-0.3 0.2m32.6 7.9l0.2-0.2m-7.7 13.9l0-1.9m-12.5 14.3l-0.6-1.1m-3.3-2.5l-0.5 0m2.1-1.6l2.1-0.2m-21 5.2l0.4-0.2m4.1 1.1l0.4 0m8.2-5.6l-0.3 1.3m18.8-19.2l-0.7-0.3m-3.1-4.5l0.2 0.9m-35.4-1.3l2.1 0.4m-1.3 0.1l-0.7-0.1m20.1 6.3l0.7 0.1m-2.6 1.1l-0.7-0.2m31.2 3.7l0 0.7m-7.1-0.3l-0.9-0.7m-6.3-19.3l-1.9-0.6m-15.9 23.4l-1.3 0.7m-9.4 7.9l0.4-0.8m34.7-23.4l-0 0.8m0.4 21.1l-0.5-1.2m-28.9-3.6l-1.1-0.6m5.6-22l-0-0.2m-12.2-0.7l-0.4-1.1m18.5 37.1l0.5-1.3m-9.8-31.5l-1.2 1.7m-4.4 11.9l0.7 0.9m-2.3 0.4l0.6 0.2m31.7 13.3l-1.7 1m4.3-16.5l0.8 1.3m-9.5-9.4l-0.1-0.2m-39.1 18.4l0 1.5m21.5-3.5l-0.7-0.6m29-11.9l-0.9-1.2m-8 17.9l-1.1 1.2m-0.3-8.6l0.1 1.5m14-19l0.1 1.9m-7.3-6.1l-1.2-0.7m6.5 36.1l-1.7-1m1.9 2.1l-0.6 0.3m-41.2-5.6l-1-0.9m-5.9-20.4l-1.6 0.8m4.8-0.4l1.1 1.6m20.1-13.7l-0.3-0.8m6 5.4l1 1m8.3 29.4l-0.4 1.4m-2.6-2.5l0.4-0.3m-32.7-21.9l1.4 0.8m28 17.8l0.8 1.8m14.3-8l-0.6 0.2m0.5 1.3l0.5 0.5m0.5-1.5l-0.5-0" stroke-width="0.8"/><path d="M80.1 375.7l-0.1 0.2m-0.3-10.4l-0.5-0.8m36.6-11.9l-0.7-1m-26.7-2.6l1.4-0.7m26.1 0.1l1.4 0.2m-2-1.4l-0.2-0.2m-1-8l-0.4-0.8m1.2-0.2l0.6-0.3m-36.8 12.1l1.7-0.6m37.9 13.5l1 0.3m-12.2-18.7l-0.9 1.2m10.4-9.5l0.6 0m-43.5 2.1l-0.1-0.7m-3.4 1.7l-0.3-2.1m17.6 1.8l0.6-0.8m30.5 31.3l-0.2-0.2m-33.1-7.9l1.3 0.1m30.4-10.4l1 0.8m-1.2-1l0.2-0.7m0.1 1.6l0.5 0.8m-7.7 19.6l1-0.3m0.5-24l-1.1-1.2m-0 2.1l-1.1-0m-33.6 28.9l0.5-0.9m7.3-19.6l0.2-0.4m-5.6-14.7l1.9 0.3m0.9 17.6l-0.2 0.2m0.4 4.7l0.4 1.2m8.7 5.2l0.8 1m6-32.7l-0.4-0.6m-20.8 37.3l0.3-0.2m1.2-0.4l0.4 0.8m-0.5 1.2l0.7 0m42.8-18.8l-1.8-0.1m1.8 0.4l0 0m-50.3 0.7l0.1 1.6m21.5-16.2l-0.2-1.6m-3.8 22.1l-0.5-0.5m25.1-2.9l-0.5-0.7m-19.5 13.6l0.5-0.6m5.9-1.7l0.4 0.6m-19.3 4.1l0.1-1.6m0.4-0.2l-0.9-0.9m13.3 0.4l0.5 0.4m-1.7 1.6l-1.5-0.5m23.8-0.6l0.5 0.5m-23.4-8.1l1-1.8m11.9-5l-1.8 1.2m-29.4-14.7l0.2-2.2m-2 3.3l0-0.7m0.9-0.3l-0.3-0.1m38.2 4.5l0.4-1.8m6.6-6.8l-0.9 0.2m-8.4 5.3l-0.7 0.4m5.2 4.2l0.1-1.8m-39.3-2.4l0.1-1.7m0.2 1.2l-2.1 0.4m46.6 27.6l0.5 0m-40-4.8l1.7 0.4m32.7-25.6l-0.3 1.9m-2.3-1l0.1-0.5m5.2 0.6l0.2-0.2m-0.9-0.9l2 0.2m4.1 12.7l-0.1 0.9m-6.5-0.4l-0.5-0.1m-6.7-21.9l-1.8 0.7m4.7-1l0.4 0.1m-38.5 26.3l-1.9-0.9m3.6 5.4l0.1-0.1m1.5-1.5l0.7-0.4m2 4.8l0.6-0.2m-1.4 0.1l-2.1-0.3m42.1-24.6l0.9-1.8m-15.9 31.4l0.4 0.2m1.6 0.5l-0 0m-13.7-35.4l1.5 1.2m-1.4 33.1l-2.1-0.2m3.4-2.1l1.4 0.1m-8.9-29.4l-1.2-1.2m4.4 4.7l0.5 0.5m-8.6 7.8l0.6 0.5m18.1 0.5l0.3 0.4m7.6 12l0.2-0.4m0.4-0.9l-0.2-0.4m-0.4 1.6l-0.9 0.1m-19.3-10l-0.1 0.2m2.3 1.9l1-1.7m18.6-2.6l0.8 0.2m-3.1-10.4l0.5-1m2.1 0.2l0 0.7m-42.6 18.7l-0.2 0.7m0-1.3l0 0.7m0.3-3.2l-0.3-1.1m23.5 2.1l-1-1.4m26.9-16l0.3-0.4m-6.1 23.9l-0.4-0.5m-37.8-17.4l1.4-0.7m-0 21.5l0.1-1.2m48.5-34.7l-0.5 0.5m0.9-0.6l0-1.1m-44.2 38.7l0.7-0.3m6.9-19.2l-1.4 0.9m5.2 20.1l1.1 1.1m5.9-41.3l0.8 0m2.3 6.7l-0.6-0.8m9.5 32.3l-0.1 0.6m-0.2-18.3l0.4-0.4m-30.9-3l0.1 1.9m29.3 10.8l1-0.3" stroke-width="1.2"/><path d="M83.5 363.7l-0.2-1.2m11.3 0.1l1.5-0.6m0.5-1.7l0.1-0.2m14-19.3l0.1 0.4m8.9 15.9l0.9-0.1m-3.6-4.9l-1.7 0.2m-0.3-2.4l1.1-1.5m-49.3 5.6l0.8 0.5m49.3-15.2l-1 0.9m-22 17.5l-1.9-0.3m3.2-2l-1 0.9m-0.2 1.1l-1.4 0.4m21.5-21.2l-1.5-0.4m2.7 0.1l0.4 0.1m-28.6 22.7l1.4 0.8m31.8-11.3l-0.2-0.3m-50.3-9.8l-0.5-0.3m48.3 13.2l-1.1 0.1m-14.2 1.9l1.4-1.1m-0.3 4.7l-1.8 1.3m7.7 16.8l-0.2 0.4m-32 1.8l1.7-0.8m20.1-16.1l-0.6 1.3m-0-1.9l-0.6 0.2m14.1-22l-0.2-0.4m3.7 7.2l1 1.6m-38.5-0.3l1.2-0.3m1.1 0.8l0.6-0.2m2.2 13.7l-1.3 1.3m3 1.7l-0.5 0.4m-3.2 1.7l-0.6-0.3m12.1 7.7l0.6 0.4m4.5-31l0.3-1.7m-26.6 35.3l-0.8-1.4m50.2-17.1l0 0.7m-51.1 2.3l0.4 0.4m49.7-8.9l-0.1-1.5m-37.4 24.9l-0.3 0.2m12.3 0.3l-1.4 0.4m14.6-33.9l1.2 0.2m3.3 30.7l-0.2 0.2m-18.5-2.7l-1.6 1.5m5.7-2.3l-0.4 0.8m13.8-2.6l-0.3-0.1m-11.3-8.1l-0.5-0.9m-25.5-12.3l0.9 1.9m33.7-1.2l0.5-0.5m8.1 31.1l1.1-0.4m0.6-0.4l0.2 0.8m-0.6 0l0.4 0m-2.9-16l-1.6 0.9m-6.8-24.3l0.3 0.3m-15.3 4.4l-0.8 1.4m-17.9 22l0.9-1.9m3.6 9.1l-1.4-0.4m37.8-24.3l-1.4 0.4m-11.3 28.4l-0.3-0.7m12.7-5.2l0.3-0.4m-1.2-1.2l0.8 0.1m0.5 0.7l-1 0.6m1.6-0.2l0.9-1.1m-27.4-25.1l-0.1 1.9m4 26.9l-1.9-0.8m-6-29.2l-1.3-0.4m-3.9 15.8l1.5-0.3m25.6 11.8l-2 0.1m-17-11.1l-1-0.9m17.1-10l2.1 0.7m-36.5-13l-0.2 1.6m0.5-1.1l-0.1-0.8m44.9 12.9l1.1 1.1m0 0.1l0.2-1.7m-10.3 12.8l-0.4 0.2m-1-2.2l0.1-0.2m3.6 3.7l0.6 1.6m-31.7 10l-0.7-0.5m10.9-25.2l1.2-0.1m-10.2 24.3l-1.2 0.6m8-21l1.2-0.7m-16.4-3.2l0.2-1.3m49.8 27.2l0.3-1m-29.1-36.3l-0.3-0.9m7.3 8.1l-1-0.7m8.1 32.2l-0.3-1m-0.7-1.6l-0.8 0.8m-15.4-2.3l1.5 1.2m15.3 2l-0.7-2.1m-2.4 2.5l0.4-0.4m1.8 2.1l-0.4-0.8m-21.3-3.9l-0.9-0.4m-1.7 1l-0.2-0.3m23.7-6.2l-0.2-1m1.9 1.2l-1.1-0m12.8-1.5l0.4-1" stroke-width="1.7"/></g>
<rect x="123.5" y="335.5" width="57.2" height="42.9" fill="#e3e0df"/>
<g stroke="#a03ab0" stroke-linecap="round" fill="none" filter="url(#halo0)"><path d="M174 348.7l-1.3-1.1m-2.9-7.7l1.4 0.7m5.4 16.6l0.2 0.3m-29.8-6.7l1 0.2m-17.7-9l0.1 0.4m-1.4 2.2l1.7-0.6m42.3 32.9l1.3-0.4m-7.9-35.3l1.9 0.9m-20.8 24.8l-0.9-0.5m-0.2 1.7l-1.1-1.1m27.6-22.4l0.6 0.7m-17.6-7.5l-0 0.2m-0.7-1.8l-0.1 0m7 21.1l0.7 1m-15.2 0.5l-1.3 0.4m1.2-0.7l-0.4-0.1m0.8-7.6l0.5-0.3m9.6-10.9l-1.7-0.3m22.2 36.2l0.1 1.5m-40.9-20.6l-0.2 0.4m-5.5 3.5l0.4-0.1m25.3-0.2l0.3-0.4m-4.5 3.6l-0.3-0.7m19 12.5l-0.2-0.8m6.8-6.2l-1.5 1.3m-44.2 6.5l1.9-0.3m-8.2-21l-1.7 1m36.5 9.2l0.1-0.4m-16.6 13.4l-1.6 0m26.4-6l0.1-1.2m3.7 3.5l0.5 0.3m-25.5-12.4l-1 1.2m22.9 12.4l-1.6-1.1m0.4 0.1l1.6-1.5m-10.7-13.1l0.5 2m7.3 12.1l0.6-1.5m-29.3-5.1l0.6-1.2m-0.9 3l-1.5 1.4m-6.2-3.9l0.5 1.5m3.3-3.1l-0-0.9m11.9 12.5l-0.1-0.9m-4-2l0.7 0.5m-0.2 1.3l0.5-1.4m21.7-15l-0.3 0.7m-16.3-8.1l0.4 0.8m-1.6 20.2l-1.6-1.2m23.8-20l0-0.6m-8 13.5l0.7 0.4m3.4-26.6l-0.1 0.2m-1-0.1l-0.5 1.8m4-2.7l-1 0.2m6.6 5.8l-0.3 0.2m-5 20.4l1.8 0.6m-7.9-13.6l0.4 0.5m-15.1-1l-0.2-1.8m-7.9 2.4l0.9 0.7m-2.7 1.1l-0.6-1.3m-11-14.1l-0.6 1.8m7.7 20l0.1-0.9m2.3 3.2l1.8 1.1m40.7 11.2l1.1 1m-2.9 1.5l-0.7-0.4m-37.9-17.6l-0.5 0.4m-8.5-17.7l-0.6 0.7m1.2 1.6l0.2-1.2m7.3-0.3l-0.4-0.2m-4.8 8.3l-0.1-0.1m0.1 1.2l-1 1m5.1 17.3l1.1 0.7m-0.8-32.3l-0.8-0.4m25.4 20.9l0.7 0.1m-21.5 19.2l-0.8 0m22.7-30.5l-1 2m-18.6 9.9l-0.6 1m2.2 17.6l-0.2 0m1.1-0.1l-1.7 0.1m12.1-30.9l2.1 0.3" stroke-width="0.8"/><path d="M146.7 344.4l-0.1 0.9m-1.3 2.9l-1.1-1m8.4 21.1l0.1 1.7m6.7-21.8l0.2 0.6m-21.7-0.8l-0.1-1.6m-8.9 15l-0.2-0.2m-1.2-1.2l0.8 0.3m11.5-22.7l1.1 1.2m-0.4-0.4l0.4 0.6m39 38.5l-0.8-1.9m-32.8-23l-0.6 1.7m2.3-2.6l2-0.1m15.1 5.5l-0.8 0.1m-39.5 4.9l-0 0.4m7.8-8.4l-1-1.7m41.8 25.3l1 0m-1.3-0.4l-1.7 0.1m3.7-18.6l0.9-0.5m-3 2l0.8 0.2m-34.7 14.6l-1.2 1m-1-0.8l-0.7-0.2m10.8-9.7l-1.8 0.3m0.8-0.1l0.6-0.6m-14.8-3.4l-0.1 0.2m41.9-19.4l-0.3-0.5m0.9-0.1l-1.6 1m2.6-0.4l-1 1.5m0.4-1.1l0.9 1.5m-19.8-5.5l-1.4-0.9m-25 9.9l-0.4 1.5m-1.5-1.9l-0.8-0.3m29.8-6l-0.8-0.5m-5.2-2.6l0.8-0.6m2.4 3.4l1.9 0.6m9-3.7l-0.1-1.2m0.8 3.3l-1.9-1m0.9 0.1l-1.8-0.9m-13.3 13.9l-0.2 0.4m-10.2 3.3l-0.1-0.5m-5.6 1.5l1-0.7m1.5 5.2l0.8 1m34.3 13.2l0.8-0.2m-35.4-5.5l-0.4 0.1m2.9 0.9l-0.9-0.8m-2.6-0.7l0.7-1m-0.1 0.5l1.6 1m38.3 0.1l-1.8-0.9m-39.5-22.9l1.1-1.7m6.6 29l1.2-0.4m9.4-16.6l-0.3 1.1m26.7-6.9l-1.7-1.2m-2.9 3.7l1.7-0.8m-13.8 7.5l0.2 0.5m-16.8 17.5l-0.5-0.3m2.3 0.4l0.2-1.3m18.3-24.6l0.9-1.2m7.5 23.1l0.2-0.1m3-1.2l0.5 0.1m0-0.5l1.8-0m-2.6 0.3l0.8 1.3m0.4-1.9l-1.2-0.4m-2.6-30.5l0.9-1.1m-8.3 34.4l0.1-2.2m0.8 5.1l-1.7 0.7m0.2 0l-0.6 0m-21.1-20.7l1.7-0.3m-15.9 4.6l1 0m12.4 13.3l0.9-1m2.8-23.7l-0.1 0.2m2.5 24.3l-1.8-0.4m2.4-3.4l-0.7-0.4m0.9 1l1.6-0.8m8.4-5.2l-0.4 1.7m1.2-4.6l-1.7-1.2m1 5.6l-1.8 0.2m5.8-27.2l0.6-1.8m-16.9 5.5l0.9-1.4m-10.8 19.4l1-1.4m0.1 0.3l0.6-0.4m33.9-16.8l-0.5 0.2m-0.6 0.9l1.2-1.4m4.8 25.5l-1.3-0.9m0.9 0.7l-0.3 0m-1.5 0.1l-0.2 0.3m0-0.8l0.3-1.4m-28.4-22.8l1.5 0.6m17.8 21.6l-0.9-1.9m-1.5-13.6l-1.6 0.3m-33.5 13.5l1.1 1m15.6-18.1l-0.6 1m-19.9-11.5l-0.2 1.9m-0.4-2.1l-0.2 0m-1.9 1.2l0-1.2m10.1 26.4l0.5 0.3m36.8 11.8l0.2-0.4m1.2 2.3l0.8-0.2m-25.6-6.1l0.5 0.1m-11.4-5.6l0.3-1.1m-2.6 0.1l-0.8 0.4m2.3 0.6l0.6-2m40.5 13l1.3 0.6m-0.7-0.1l-0.3-0.4m-46.9-28.4l-0.3-0.2m-2.4-0.1l0.8-0.3m-0 1l0.4-1.4m43.4 8.6l-1.3 1.5m-33.4 0.7l-0 0.3m-2.6 0.3l-0.4 1.1m2.7-0.9l0.9 0.8m-10.8-16.4l0.4 0.6m2.2 5.5l-0.3 0.1m3.5-0.8l0.1 0.5m3.3 22.3l-0.6 0.3m-1.5-31.8l1.5 0.4m30.6 16.1l-0.4-0.4m-34.5 6.2l1.6-0m24.8-2.8l-0.6 2.1m1-3.7l0.7 0.2m4 10.4l0.7 0.2m-38.2-29.8l0-1.2m29.7 7.2l-0.7 0.2m1.5-2l-0.4 1.5m0.5 1.5l-0.6 0.3m0.1-1.2l-2.2-0.4m4.4 0.8l-0.7 2m-10.8 30.6l1.1-0m-0.5 0.3l-0.6 0m19.6-34.4l-0.8-1.2m-25.1 34.6l-1.5 1m2.2-1.9l0.3-0.7m-7.1-34.6l-0-0.7m28.2 5.8l0.1-0.5m-16.1-8.9l0.6 0m-3.4 40.1l-0.8 0.3m11.2-31l-0.1-0.5m0.1 2.1l-2 0.1" stroke-width="1.2"/><path d="M154.3 367.4l-0.3-0m2.5-21.7l-0.5-0.7m-17 4.3l0.2 0.8m40.4 27.6l-0.8 0m-14.3-22.2l0.4 0.6m-40.7 6.4l0-1.4m6.5 1.7l0.4-1.2m41.6-19.1l-1.2-1m1 0.3l-0.4-0.9m-40.9 8l-0 0.2m-3.2-5.5l-0.3-0.8m32.5 12.9l1.7-0.7m-14.6 4.9l1.7 1.2m3.4-20.5l0.5-2m3.9 0.4l-1.5-1.3m24.7 36l0-0.5m-25.8-13.6l1.9 0.9m14.4 15l1.8 1.1m-36.5-7.2l-1.4-1.3m-1.7 6.4l-1.1-0.3m0.9 2.2l-1.1-1.9m-3.8-21.2l-0.7 0.5m10.1-8.4l0.4 0.8m12.9 9.2l0-0.4m-12.4 2.4l-0.9 1.5m43-8.9l0-0.3m-13.5 7l-0.6 0.8m9.4 4.8l0.3-0.4m-8.3 8.4l-0.2 0.3m-27.8-2.9l-1.5 0.8m-5.1-4.7l-0.2-1.3m33.1-3.7l-1.1-0.3m-17.1 16.6l1.2 1.4m12.4-12.3l0.8-0.3m-6.1-25.6l-1.4 0.5m12.7 24.4l-1 0m-5.5-11.1l0.1-1.1m-32.3 14.4l-0.2 0.2m0.1 9.6l-1-1.8m-1.4-34.6l0.8 2m19.4 27.6l-0.1 0.2m4 3.8l-1.4 0.2m-18.7-24.8l-0.1 0.4m3.1 0.1l-0.1-1.6m44 6.6l0.2 0.4m-48.2-9l0.5 0.8m35 8.8l-0.5-0.1m-30.9 6.2l-0.6-2m13.2-10.4l-0 0.6m-0.9-2l-1.2-0.1m16.8 8.9l0.5 1.2m0.3 1.9l-0.4 1.9m4.3 5.7l-1.9 0.5m1.9 0.6l0-0.8m-15.9-5.9l-1.8-0.3m-22.2-24l0.7 0.4m0.7 0.5l0.5-0.3m28.7 5.6l0.7-0.5m-17 7.1l1.8-0.1m7.2-2.7l-0.4 0.7m2.8-10.7l0.1 0m-9.7 23.4l0.3 1.2" stroke-width="1.7"/></g>
<rect x="182.8" y="335.5" width="57.2" height="42.9" fill="#e3e0df"/>
<g stroke="#a03ab0" stroke-linecap="round" fill="none" filter="url(#halo0)"><path d="M235.2 337.9l-1.7 1m-6.7 18.6l1-0.9m-16.9 12.7l-0.7 0.9m1.4 0.9l-0.7-0.3m5.9-9.1l-0.3-1.2m2.9 2l0.2-1.1m11.3 16.3l0.4 0m-0.7-3.3l1-1.5m-17.4-36.7l-0.4 0m-2.5 31.2l1.2-1.6m-11.8-25.9l-1.3-0.6m21.7 17.2l-1.2 0.1m-0.9-0.7l-0.8 1.4m-9.5 3l0-0.2m-1.2-0.4l-1.2 1.7m-17.4 1l1.1 0.4m-3.1-0.8l-0.5-0.2m2.4 3.9l-0.2-0.4m-0.5-1.5l0.7 0.9m28.2-10.6l1.3 0.2m-10.7-0.8l-0-0.9m10.6 23l1.3-1m4.1-28.8l0.6-2m-29.5 17.6l1 1.3m-2.7 0.1l-1.2-1.2m5.7 11.2l1.1-1.7m10.2-19.7l0.4-0.5m2.1-0.8l0.5-0.3m3.4-6.4l1.3 0.6m0.6-2.7l-1 0.5m-10.9-5.6l-0.4 0.7m0 0.6l-0.3-1.1m-3.1 15.7l1.2-0.5m18.3-8l-0.9-0.8m-16.5 7.6l1.4 0.3m-6.8 7.1l-0.5 0.8m29.5-4.3l-1.9-0.8m-39.4-6.5l0.4-0.2m-2.1-3.1l0.2-0.1m44.5 8.7l0.3 2.1m2.3-4.4l0.6-1.5m-31.3-4.8l0.1 0.6m-6 27.3l1.5-1.1m11-23.3l-0.8-0.2m26.6 12.2l-2 0.9m-39.5-11l-1.9-1m41.9-2.1l-0.6 0.2m-5.6 7.6l0.2-2.2m-18 25l-1 0.1m2.7-2.6l-0 0.6m-4.9-35.9l-0.2 0.1m1.3-0.6l0.3-1.6m-0.3 0.7l-0.3 1.8m-3.6 35.1l-0.3-0.1m-2.4-36.9l0.8-1.1m29.9 15.8l0.3-1.8m-33.6-12.8l-2.2-0.3m13.1 34.9l0.5-0.1m-7.2 4.1l0.5 0.7m3.7-16.9l1.9 0.3m-3.2 2.9l-0.2 0.4m1.5-1l1.1-0.9m-4.1 3.1l-0.4 0.3m29.6 1.5l-0.4 0.7m7.8-8.3l0.1-1.8m-52.7-16l-1.6 0.5m2.1 2l2.2 0.2m4.5 24.4l1.1-1.1m-3.2-0.9l-2 0.3m-5.3-2.5l1.1-0.4m-1.1-1.9l0-0.5m27.1-7.2l-0.4-1.6m28.6-16.1l-0.8 0m-8.4 14.8l0.5-0.9m9.2 23.2l0 0.4m0 0.9l0 0.5m-22-14.5l-1-0.2m-9.3-16.9l-0.4-1.1m0.7 1.1l-0.2 0.6m-0.3-3.7l-1.9-0.9m30.2 0.1l-1-0.3m3.4 18.7l-1.1 1.5m-2.5-4.8l0.9 1.1m-8.8 19.2l-0.4 0.2m-26.6-17.3l0.1-1.2m-0.4 1.4l-0.9 0.1m0.8 0.4l0.4-0.7m19.3-21.5l-0.1-0.2m1.2 0l-1.6 0m10.8 3.6l1.6 0.3m-35 17.8l-1.2 0.8m16.4-6.3l-1.7 0.4m11.9 16.5l0.4 0.5m-34.2-3.3l0.8 1.7m51.7-30.2l0 1m-28 23l-0.5-1.4m0.5-0.2l1-1.4m-0.6 0.8l1.2-0.4m-3.4 3.2l1.1-1.3m-16.4 14.1l0.6 0.1m27.8-25.3l-0.3 0.9m-0.5-0.1l-0.9-0.1m6 26.8l1.7 0m-2.7 0l-0.6-0.7m-0.1-1.9l2.1 0m10.4-3.6l1.1-0.9m-8.7-21.4l0.2-0.1m3.1-12.2l0.2 1.7m-3.1-0.8l0.5-0.3m4.4 0.4l-0.3 0.1m-14.9 24.5l-0.3-0.3m-18.4 11.7l1.5 0.9m4.7-29.1l0.7 0.6m2.9 20.1l-1-1.2m1.1 3.6l-1.3-1.3m1.4 0.1l-0 1.8m9.2 8.1l1.2 0.2m-4.1-34.4l-0.6 1.5m-5.2 19.1l-0.5-0.6m26.2-24.8l0.2 2.1m-0.3-2.6l-0.2-0.6" stroke-width="0.8"/><path d="M227.9 355.9l-1.1-1.1m-13.7 16.3l1.4 0.8m-0.2-9.5l1.4 0.5m2.3-3.9l1.6-0.8m-3.1 4.5l-0.6 1.6m-1.7-28l-0.2-0.1m0.9 1l0.8 1.8m-15.7-1.4l1.7 0.5m-1 29.8l-1.1 0.2m0.2 6.3l1.6 0.8m16.5-17.4l1.1-1.6m4.5 0.1l-1 0.8m-17.2-11l-0.4-0m-0.2-1l-0.7 1.4m-2.6 1.3l-0.8-0.1m25.2 21.6l-0.3-0.9m-8.9-14.8l-0.9 0.1m-20.2-5.6l-0.6 0.7m26.5 26.3l0.3-2m1.6 1l1.6 0.5m-2.8-30l0.2-1.4m-26.5 18.8l0.1-0.4m-3.1 0.2l1 0.1m-0.4-1.6l-1.1-0.6m36.4-5.8l0.1 1.1m-0.2-2.6l-1.5-0.8m-16.5-1.1l-0.5 0.1m4.5-8.2l-0.8-0.2m-9.7-2.8l0.4-0.2m-2.1 12.3l1-0.5m19.7-9.6l1.4 0.1m-18.5 11.3l0 0.9m1.8-0.1l-1.6-0.8m-7.7 6.4l0.9-0.7m27.1-3.3l-0.8 0.8m-42.2-8.6l0-0.5m0 0.5l0-0.2m15.8-4.2l1.7-0.7m-1 4l0.8 0.2m-9.1 0.3l0.1 0.7m-1.6 1.2l-0.6 0.5m35.7 3.3l0.4-0.2m-36.7 22.5l0.1 0.7m-1.8 0.5l0 0.9m1.2 0l-1.6 0.3m17.6-37.7l-0.3 1.8m-3 32.2l0.4 1.8m-2.3-39.1l-0.7 1.2m30.4 14.9l0 0.3m-35-15.4l-1.9-0.4m5.6 0.4l0.9 0.6m10.5 34.1l-1.3-1m3.2 3.2l1.6 0.7m1.8-29.9l0.9 0.5m-31.1 1.9l-0.3-0.2m16.4 30.5l0.8 0.1m-2.9-0.5l0.5-0.8m6.9-18.7l-0.4 1.2m6.3 8.4l-0.6 1.2m26.4-8.2l-0.5 1.2m-18.8-13.3l-1.5-1.4m-31.1-8.4l0.8 1.7m24 25.9l0.1 0.6m-0.7 2.5l1.4-0.6m-17.9 0.2l1-0.1m-1.2-0.8l-0.7-0.1m-8.2-3.7l-0.5-1.5m1.9 4.5l-0.7 2m29.3-15l-0.2-1.5m-9.4-16.3l-0.3 0m24.9 17.3l1.2 0.9m-9.1 5.8l-0.5 0.5m-13.4-16.4l0.6-0.4m7.5 11.3l-0.1-1.7m-15.5 19.7l0.2-0.8m-9.6-33.1l-0.4-0.2m28.6 7l0.7-0.2m1.3 0.9l1.1 1.3m15.1 8.4l-1.4 1.1m-44-12.8l1.5 1.1m-1.7-3.9l1.4 0m-2.4 4l0.8-1.2m35.4 29.4l1 1.1m-8.3-33.5l0.7 1.2m4.1 1l-0.1 0.9m-27.3 15.8l0.1-1.7m5 0.8l-2 0.4m-1.2-5.2l1.2-0.7m-8.3-16l0.5 0.4m29.1-0.7l1.1 0.8m4.6 0.1l1.9 0.3m-2.1-1.3l-1 1.4m2.8-3.1l-0.3 0m-32.9 25.6l-0.3-0.7m15.2-9l-0.8-0.6m-14.1 14.1l0.2 1.3m21.7-0.3l-1.6-1.5m-13.8-0.2l-0.3-0.1m4.7 4l0.3 2.1m1.9-0.9l1.4 1.1m4.1-22.5l-1.7-1.3m-16.3-6.4l-0.8 1.3m-7.8 22.6l-0.5-1.7m2.9 1.5l-1.3 0.1m9.5-27.7l1.1 1.5m40.7-0.5l0-1.8m0 0l-0.1 0m-42.7 40.1l-2-0.2m0 0.3l-0.4 0.5m0.3-0.7l-0.7-1.3m33.3 2.8l1.2-0.7m0-0.2l-1.1-1.6m12-2.8l0.2-1.4m0 1.1l0 1.3m-43.1-17.4l-1.2-0.6m2.3 1.8l2-0.3m31.6-7.2l0.9 0.2m-36.3-5.8l0-0.6m-0.4 3.6l1 1.2m-2.3 21.6l0 0.7m-2.2-2.4l-0.6 0.3m0.8 0l0.4 0.3m22.7-30.2l-1.5 0.1m3.2-1.7l-0.5 0m12.7 3l0.6-1.6m-27.6 37.2l-0.7 0.4m7.7-27.7l-0.9-1.2m1.5 21.5l1.8 0.7m-19.7-8.4l0.2-0.2m0.8-1.3l0.8 1.9m25.9 16.4l1 0m18.2-21.1l0.5 1.2m-1.8 2.2l-1.2-0.1m3-6l0.2 0.7m-25.3-13.1l-0.1 0.4m18.5 26.8l0.2 1.8m-19.3-5.5l-0.7-0.8m16.6 13.5l-1.2 0m-6-27.1l-0.8-0.9m2.8 6l-0.7 1.1m-39.6-3.8l0 0.3" stroke-width="1.2"/><path d="M224.2 355.8l0.3 2m1.4-0.3l-1.4-0.6m-8.2-20.7l-0 0m8.4 18.5l2 0.4m-8.4 1.1l-0-2.1m-9.7 5.8l0.8-1.6m14.9 8.6l1-0.3m-2.9-0.2l-1-1.9m3.1 9.8l0.8 0.2m-1-29.7l-0.5-0m-27 16.5l0.1 1.1m2.3-1.9l0.1 0.3m-7.1 0l0.5-1.5m37.8-1.8l-1.3-1.1m-31.7 17.4l1.2-0.4m-2.6-1.3l0 0.4m8.9-35.9l-1 0.8m0.7 11.8l0.3 0.7m-13.8 1l-0.8 1m-2-4.1l-1.6-0.3m40.9 4.1l-0.2-1.7m-19.1-2.7l-0.7-0.2m0.9 0.1l0.3-1.9m24.9 12.6l0.5 1.2m-27.4-20.3l-0.7 0.3m23.5 11.9l0.1-0.3m1.4 0.7l-0.8 1.9m-45.1-7.1l0.7-0.3m9.3-9.4l-0.5-0.1m18.1 7.6l0.1-0.2m-17.1 11.1l-1 0.8m9.1 6.7l-0.3-0.1m-1.6 2.4l1.2-1.4m7.9 3.9l-1.1 0.8m24.3-10.5l1-1m-50.3 7.5l-0.3 0.6m0.4-1.7l-0.3-0.3m27.1-9.1l0.5 1.3m25.1-16.6l1-0.1m-33-1.8l-0.9 0.2m1.6 3.2l1.4 0.4m19.8 12.6l-0.3 0.3m-28 18.5l1.6 1.4m38.5 1.6l0-1m-22.6-13.5l0.3 1.4m2.5 0.5l-1.4-0.8m16.2-21.8l1.5-0.5m-3.8 0.5l0.5-1.7m4 0.7l0.5 0.4m-3.9-2.1l-0.7 0.7m-13.2 10.2l0.3-0.2m6.1 18.1l-0.5-0.7m-35.2-16.8l0.2 0.1m7.8-7.8l0.3 0.1m0.3 14.8l0.4 0.2m19.1-18.1l-0-0.9m8.2 0.1l-0.2 1m-31.5 20.7l-0.1-0.4m0 4.6l-0-0.4m17.2-8.4l0.7-1.5m15.2 17.3l-0.4 0.2m1.8 1.9l-0.2 1.8m-29.6-2.5l0.4 0.9m6.5-5.7l0.7 0.8m-12.5-29.3l0.1 0.2m45 1.2l0 0.3m-28.7 23.3l0.3 0.3m1.2 1.4l0.1-0.4m-18.3 14.1l0.2-0.1m32.1-0.2l-0.1-0.5m6.7-35.3l0.1-2m-0.2 3.5l-0.3 0.9m-38.3 1.3l-1.1-1.7m29.2 16.1l-0.3 0.9m6.9-17.6l1.1 1.8m-20.8 2.2l0.4 2.2m-15.5 14.6l0.6-0.3m27.6 14l1.3 0.2m-0.9-0.8l-0.1-0.7m-7.3-36.2l-0.4-0.8m22.6-0.2l0.2 0.1m-8.5 38.6l-2.1 0m-4.4-23.8l-0.4 0.8m1.4 0l-0.4-1.2m-39-0.6l0.7 1.5" stroke-width="1.7"/></g>
<rect x="242.6" y="335.5" width="57.2" height="42.9" fill="#e3e0df"/>
<g stroke="#a03ab0" stroke-linecap="round" fill="none" filter="url(#halo0)"><path d="M296.3 338.2l1.7 0.8m-6.9 12.1l1.7-0.9m-3.9-0.4l0.4-1.1m-19.9-0.6l-1.9-0.2m31.6-4l0 0m-7.2 9l-0.4 0.3m-28.2-9.8l1.2 1.7m32 15.4l-0.5-1.5m-40.1-19.6l-0.3 0.4m4.9 0.9l-1.1-0m26.1 5.7l0.4 2.2m-1.7-0.9l-1 0.5m-8.4 8.1l1.1-0.3m16.3-8.3l0.3 0m-45.9-7.9l0.2 1m33.3 26.7l1-1m-1.5-12.8l-0.5-1.2m1.6 15.4l2-0.8m-34.1-13.7l0.7 1.9m49.3 22.4l0.5 0m-27.9-30.6l0.6-0.6m-28.5 17.6l-0 1m0-0.7l-0 0.9m0-5.4l0.2 2.1m29.3-24.3l-0.1 0.2m-22 26.7l0.1 0.2m35.9-14.9l-0.9-1.5m9.9-11.3l0.2 0.2m-29.5 28l0.1 0.4m22.4-0.5l-0.5 0m-1.6-2l-0.7-1.4m-9.7-25.6l-0.7 0m-22 26.9l1.1 0.5m-0.6-8.9l-1 0.7m42.2 18.3l-0.3 0.3m-31.4-25.5l-1 0.8m4.4 3.7l0.1-1.4m29.9 2.2l-0.1 0.3m-33.2-8.5l1.8 0.8m0.9-0.6l-0.4-0.1m-4.6 1.1l-0.9 0.3m12.9-7.8l1 0.9m-0.1 1.1l-1.4 0.1m-18.3 5.7l-1.4 0.3m23.6-7.2l-0-1m-0.8 2.1l-0.2-0.6m-12.8 20.2l0.1 0.5m-11.2-1.1l-0.3 0m-0.7-3.6l-2 0.2m17.5-10.2l-0.1-0.8m-22.7 19.5l0.6 1.1m-1-1.8l-0 0.3m55.1-10.6l0.2-1.8m-31.5 18.6l-0.3 0.1m12.5-6.8l-0.6 1.5m-4.3-13.4l0.1 0.2m-16.5-5.5l0.4-0.7m39.2-5.8l-0.4 0.7m-23 6.7l1.8-0.3m-3.3 0.9l-0.6 0.8m10 0.9l-0 0.9m-38.1 17l0.9 1.2m-0.5 0.9l-1.1 1.4m38.6-24.6l0.6 1.3m16.6-12.1l0-0.2m-0.9 3.3l-2.2 0.2m0.1 23l-0.3 0.4m-10.5-11.6l1.5-0.4m-15.1 3.9l0.7-1.7m21.3-0.7l0.2-0.2m-36.9 23.9l1.6-0.1m-9.2-18.9l1-0.4m2.5-8.4l1.5 0.4" stroke-width="0.8"/><path d="M283.6 336.4l1.1 0.7m-3.6-0.9l-0.8 0m17 1.7l-1.8-0.3m1.4 0.1l-0.3-1m0.7-0.5l1.1 0m-16.6 16.6l-1.3-1m2.4-0.5l0.8-1.4m-40.4 5.9l-0-1.5m1.6 0.2l-0.2 0.9m24.7-10.9l-0.2 1m4.4 2.9l1.3-0m8.7 23.4l-1.4 1.1m-2-0.3l1-0.5m0.6 0.5l-0.4-1.4m17.7-24.4l0-0.5m-1.7-3.5l-0.9 1.2m-25.1 13.6l-0.4 1.4m-6.3-16.9l-0.3-0.2m-3.6-0.4l0.4 1m-1.3-1.2l1.5 0.1m1.3-2.9l1.3-0.8m23 7.7l-1.4-0.3m4.8 3.8l0.8 1.9m-0.6-1.7l-0.1-0.2m-12.2 22.2l0.2 1.5m18.7-4l1.9 0.2m-55.3-23.4l-0.5 0.6m38 7.7l-1.4 0.8m-33.9 7.5l0.4-0.7m35.8 4.6l0.8-0.5m-0.9-0.4l0.9 1.6m-36-10l-0.4-1.4m43.8 10.5l-0.8 1.3m-38.3-27.1l-0.2-1.2m19.1 9.9l-0.7 0.6m-26.2 14.1l-0 0.1m31.3-24.3l-0.4-0.5m1.7-1l-0.4 0.6m-11.5 14.6l-0.4-0.5m2.6-1.4l-0.8-1.2m-13.6 14.7l-1.3 1.1m29.8-27.2l-0.4-0.8m-5.8 21.7l-1.5 1m-20.6 7.5l1.5 1.4m32.9-23l-0.5 0.1m-19.3 18.4l-1.6-0.5m0.2 0l0.6 1.1m6.7-11.8l-0.8 0.1m20.2-15.3l-0.1-1.5m-15.8 4.1l-0.5 0.6m-11 23.4l0.5 0.2m3 6.2l0.3 0.4m-19.1-30l0 1.6m24.7-5.6l0.9 0.3m-3.1-1.7l-2.1 0m4.6 1.3l-0.4 1.4m19.1 25.6l-1-0.9m-37.9-2.1l-0.9 1m2 0.4l1.2 1.7m2.8-7.2l-0.2-0.8m0.7 0.7l-0.8 0.7m13.4 17.2l-0.9 1.1m0.1-1.3l0.9 1.1m21.9-0.9l-0.3-2m-31.7-5l-0.8 1.4m-0.9-0.3l0.9 0.1m35.5-13.7l-0.8-1.9m-0.6 2.8l-2.2-0.1m5.2 0.6l-0.3-0.5m-23-14.1l1.7-0.3m-1.6-3.9l-0.4 0.6m-18 29.4l-0-0.8m35.7-28.9l1.5-0.2m-28.6 23l-0.8 0.9m1.1 2.4l-0.6 0.2m-10.5-11l1.1 0.5m-10.2 9.5l-1.1-0.1m16.4 1.6l-1-1.8m-16.6 0.2l0.1-0m2.2-1.1l-1-0.1m22-13.8l-1.5-0.8m0.6-0.3l0.5 0m-6.4-3.3l0 0.2m9 3.8l1.6-0.2m22.7 8.9l-0.8 0.5m-19.1-19.1l-1.6 1.4m-1.2-1.4l-0.5-0.3m-9.6 22.4l1-0.8m37.8-11.4l0-1.3m-8.8-6.6l-1.3 0.3m0 3.8l0.2 0.5m3.4 24.4l0.2-0.8m0.4 3.8l0.6 0.7m-0.6-5.9l0.3-1.2m-25.8 4.2l-0.6 1.4m-0.1-5.1l-1.7 0.4m24.8-14.1l0.9 0.2m-21.2-6.3l-0.7 1.2m0.7 0.1l-0.3 2.2m-22.8-10.7l-1-0.6m2 2.5l0.2-0.8m7.4 20.3l-1.8-0.7m24.6 7.9l-0.4 0.2m-8.2-14.6l-0.5 0m-18.4 1.7l0.7-0.3m47.7-17.5l0.1-0.2m-8 4.5l-1.2-0.9m1-2.8l-0.5-0.9m-12.6 10.8l-1.4-0.7m6.8 5.6l-1.1 0.2m7.7 19.4l-0.9 0.3m5-2l0.6 0.7m-3.1 3.1l0.7 0.1m-28.8-28.4l-1.3-0.2m30.5 9.8l1.1-0.7m-25.7-15.2l-0.3-2m-9.8 22.3l-0.5-0.7m27-14.6l0.4-1.3m-7.9 23.1l0.3 1.4m-32.6-31.5l-0.6 0.2m0.1-0.9l1.4 0m-0.5 0.6l-1.6 0.8m4.3-1.3l-0.7-0.1m36.9 14.3l-0.2 1.9m-33.6-15.9l-0.4 0.3m-1 19l0.5-0.7m4.5-8l0.2 1.7m-2.9-2.4l0.6-0.2" stroke-width="1.2"/><path d="M296.9 336.2l-1.5 0m-4.3 14.5l-0 0.5m-25-5.7l0.3 0.6m16.4 27.1l-1.8 1.1m18.1-28.4l0-0.7m0-0.2l0-0.5m-10.1 9l-0.2-1.8m-0.2 0.5l1.3-0.6m-3.1 0.1l0.7-1.7m2.2-0.9l1.4-1.5m-27.2-3.5l-1.9 0.9m1.1-1.5l0.6-0.5m20.1 4.6l-0.3-1.6m-7.9 10.2l-0.4 0.1m-1.8-2.9l1.1 0.6m-28.2 14.1l0.9 0.5m-2.9-23.3l-0.1-1.3m0.1 0.3l0-0.4m2.4-2l0.6 0.8m-2.2 17.6l-0.8-1m54.8 17.6l-0.7-0.5m-5.9-16.4l-0.4 0.4m-25.6-10l0.2-0.7m13.1 1.1l0.2-0.2m-4.5 3.4l-1.1 1.2m2.3 0.8l-0.5-0.8m-3.4 4.2l2.1 0.4m-18.3 5.7l-0.5-1.3m10.6-0.5l0.2 0.5m6.3-24.9l0.2-0.8m9.2 21.6l1.3-1.5m-24.8 1l0.3-0.1m0.3-2.6l0.2-1.8m-1 12.2l0.1-0.2m14.5-26.9l0.5 1.7m-21 6.4l-0.7-0.2m13.4 13l0.8 1.1m-13.1-11.1l0.2-1m14-3.8l-0.4 0.2m-20.4 17.2l-1.5-1.5m0.8 1.3l0.5 0.3m-2.9-1.5l0.2 1.1m17-18.7l2.2-0.1m-19.8 20.6l-0 0.7m0-2.7l0.9 0.5m-0.8 1.8l1 0.9m17.8-4.9l0.7 1.2m35.5-9.3l0.7-1m0 0.5l0-0.6m-1 1.1l0.7 0.9m-8.9-12.8l-0.1-0.5m0.6 0.1l-1.2-0.5m3.1 11.5l0.4-0.1m-44.6-12.7l-0.4-0.6m8.7 26.1l0.1-1.4m1.8-16.5l-0.3 0.2m14 0.7l1.7 0m25.4-10.3l0-1.3m-17 21.6l1.5-1.2m0.4-4.4l0.2-1.2m2.1 25l-0.1 1.6m-23.4-31.7l-0.7 1.1m-0.6-1.3l-0.8-0.5m1.9-3.5l-0.6 0.2m22.7 3.6l-1-1.7m3 2.1l2 0.1m10.4-9.6l0-0.2m-14.8 14.5l0.9-0.3m-14 5.1l1.3-1.5m-14.6 23.7l0.3 0m-10.4-20.2l0.7 0.8" stroke-width="1.7"/></g>
<rect x="302" y="335.5" width="57.2" height="42.9" fill="#e3e0df"/>
<g stroke="#a03ab0" stroke-linecap="round" fill="none" filter="url(#halo0)"><path d="M342.4 340.8l1.2-0.9m-23.7 37.8l-0.5 0m9.5-18.2l-0.6 0.4m9-21.6l-1.3-0.2m0.5-1.9l0.8 0m4 2.7l-0.1-0.2m-10.6 37.6l-0 0.7m27.5-11.3l0.4 0.7m-33.3 5.6l0.3-1.1m-2-20.8l0.1 0.9m-2-4.1l-0.1 1.8m11.8 27.4l-0.1-0.5m-0.1-2.1l-0.4 0m-23.9-34.2l0.7-1.5m-0.7-1.5l-1.1-0.1m21.1 16.2l0.7 0.4m-13.2-8.7l-0 0.4m25.3 10.8l0.1-0.4m-20.1 5.8l-0.8-1.5m1.4 0l0.3-0.1m5.3-19.8l-1.5-1.1m21.7 28.6l-1.7-1m2.2-13l0.4-0.4m-33.7 3l0 0.9m3.5 0.7l0.4-0.2m18.9 12.6l-0.1-1.2m-18.7-16.8l-1.5-1.4m2.8 1.4l-0.8-1m10.5-11.8l-0.9-0.2m17.2 11l-2.1-0.5m10.8 11l1.1 0.2m-0.7-2l0.3-0.6m-46.9 9.6l0.1 0.5m-4.9-1.8l-0.3-1.4m30.2-3.6l-1.7 1m15.2-22.1l-1 1m8.1 34.6l0.1-0.4m0.1-1.5l-0.8 0.3m-27.9-10.8l-2 0.6m27.3-25.5l0.5-1.8m-34.9 20.7l1.3 1m38.4 14.8l0.9 0.5m-1.6-2.3l-0.1 0.7m-34.5-28.8l0.7-0.9m-1 32.3l-1.1-0.8m38.4-13.7l-1.9 0.5m1.9 1.2l0-1.8m-1.1 2.9l0.6-1.7m-48.3-9.4l0.5-0.4m40.5-7.2l0.5-1.5m5.5-0.6l0.3-0.6m-13.9 1.6l0.6 1.6" stroke-width="0.8"/><path d="M316.9 377.5l0.7-0.7m-14.1-39.5l-0.8 0.5m26.5 24.5l0.7 0.8m10-26.6l-0.4 1.1m0.4 0.4l-1.8-1m-0.3-0.8l-0.9 0.7m-7.9 40.8l-1.4-0m27.5-13.1l-0.9 1m2.4 3.7l0.1 1.3m-0.2-3.8l-0.3-0m0.7-3.7l1-1m0.2 0.9l-0.7 1.2m-31.7 4.1l0-0.3m18.7 5.7l1.4 0.9m-1.9-1.2l1.3 0.6m-29.1-2.4l0.6 0m0.4 2.4l-0.2-1.4m21.5-31.8l-0.7-0.4m2 35.4l-1.1 0.4m0.7 1.5l-1.2 0m-18.8-31.2l0.9-0.9m1.7 2.8l-0.9 0.3m12.9 27.7l0.4 0.9m17.2-9.3l1.2-0.1m-24.1-16.5l-1.3 0.6m29.7-14.2l-0-0.4m-3.4 1.8l-1.6-1.5m-38.5 10.2l0.6-0.8m-11.4 3.6l1.6 1.2m-1.6 0l0 0.1m32.5 1.6l0.2-0.1m-4.1-12.3l0.4 1.3m-0.3-0.4l0.4 0.1m-25.1 9.7l0.1-0.3m9.4 5.9l0.4-0.3m38.3 9.9l-0.6-0m4-13.6l0.2-0.8m-1.7-3.3l0.2-0.8m-1.3 14.4l0.3 0.1m-53.3-9.9l0-0.5m2.1 23.9l1.4 0.1m34.3-27.7l-1 0.6m-27.8-4.7l1.4 1.2m-2.4-0.7l0.7-1.3m7.2 24.5l0.4 0.7m37.6-10.9l1.8-0.6m-41-2.7l-0.5-0.8m0.3 1.3l0.2 0.1m20.7 13.4l-0-0.4m19.7-2.9l-0.9 1.4m1.2-2.7l0.4 1m-22.1-4.7l-0.4-1.6m-15.3 1.7l0.3-0.4m2 4.8l-0.7 0.6m20.5-17.5l-0.5 0.6m-14.5-12.8l-0.6 0m18.8 14.8l-0.2 2.1m-31.7 13.1l0.2-1.9m-0.4 1l-0.4-1.4m-7.3-1.7l-0.7 1m26.2-2.7l2 0.9m-1.3-2.4l0.6-0.6m13.2-20l-1.3 0.3m-20.1 23.9l-0.5 1.5m29-25.1l1-1.2m-39.3 18.2l1.3-0.1m0.9 2.9l-1.4-1.3m33.8-20.4l1.1 0.6m-22.9 16.5l0.2 0.7m26.7 19l0.6 0.3m-5.6-0.7l0.6 1.1m-31.4-31.9l-0.7 1.9m-1.6-2.6l0.3-0.3m0.6-1.7l-1.9 0.1m30 23.9l0.4 0.5m10.5-3.9l-0-0.6m-32-2.6l0.9 0.3m-12.9-2.2l-0.4-0.8m19.4 17l0.2 2m-23.1-21.2l0.8-0.1m-1.1 0.7l0.2 0.1m20.4 4.9l-0.3-0.1m26.4-13.4l-0.2-2m-1.5 1.2l0.4 0.5m4.2 3.3l-1.1 1.3" stroke-width="1.2"/><path d="M342 342.1l-0.3-0m-24.7 35.6l-1.2 0m-7.8-41.5l-1.2 0m0.7 0l-0.4 0m31.3 3.1l-1.3 0.9m-2.5-0.7l-0.5 0.3m-28.4 14.5l0.5 1.4m10.1 16.3l0.4-0.3m8.1-4.6l2.1 0.3m10.9-26l-2 0.6m4 34.2l0.3-0m-31.1-36.6l-1.5-0.3m-0.3-1.5l0.9-1.4m21 18.8l-1.2 0.3m1.5-6.2l-1.2-1m-22.2-12.1l0.8 1.8m8.1 8.4l-0.8-0.8m1.3 31.3l2.1-0.6m17.5-1.5l1.9-0.2m11.7-18.3l-1.2-1.7m-29.3-0.9l0.8-0m34.2 9.9l-0.1-1.5m-25.2-21.7l0.3 1m-3.2-2.3l0.3-1m-20.2 39.6l-1.1-0.3m2.6 0.3l-1.3 0m34.2-31.9l0.7-1.1m-29.5 0.9l-0.6 1.3m-2.9-3l-0.5-1.9m50.6 17.9l0.7 0.7m-10.8-7.3l-1.4 1m2.3-1.6l1.5 1.3m-2 19.3l-0.7-0.4m0.1 3.7l0.1 1m9.3-9.7l-0.1-0.4m-20.6-6l0-0.8m-13.5-0.4l-0.7-0.3m19.4-10.3l0.1 0.5m-12.6-11.4l-0-0.2m-1.5-2.4l0.1 0m-11.2 31.3l0.4 0.4m-10.4 2l0.6-1.8m28.5-7.8l-0.6-1.7m18.6-13.4l0.7-0.6m-0.3 30.6l0.9-0.3m1.5-0.2l-0.2 0.4m3.1-1.2l0-0.7m-8.4-37l-0.1 0m-2 0.7l1.1 0.5m-8.1 15.4l0.2-0.6m8.7 10l1.5-0.8m-7.5-6.1l0.4 1.1m-19.6 1.7l-0.1 0.7m0-1.5l-0.3-1.7m22 7.3l-1.9 0.3m-0.5-3.3l0.5 0.1m-21.8-6.1l-1-0.9m1.7 7.4l-0.7-0.6m25.8-0.2l-0.1-0.5m0.1 6.5l-2.1 0.5" stroke-width="1.7"/></g>
<rect x="64.1" y="380.7" width="57.2" height="42.9" fill="#e9e2d7"/>
<g stroke="#a23ab0" stroke-linecap="round" fill="none" filter="url(#halo1)"><path d="M107.1 403.7l0.3 1.1m1.1-0.3l0.1-0.3m7.7-0.5l0-0.6m-23.2-8.2l-0-0.3m-27.3 14.9l0.5 0.8m16.6-19.6l-0.4-0.5m-13.9 28.8l-0.6 0.4m47.4-6.7l0.4 0.1m0.5 0.7l-0.2 0.1m-25.4-28.3l0.4 0.2m24.1 30l1 0.9m-29.9-35l-0.8 0.6m28.5 11.6l-0.5-0.1m-0.2 1.4l-0.3 1m-10.2 19l-0.5-0.9m-32.3-2.2l-0.2 0.7m49.1-17.5l-0.9-0.8m0.9 6.8l-0.5-0.4m-16.9-13.4l0.7-0.5m-14.6 28.5l0.7-0.1m0.3-14l0.1 0.3m-0.8 0.7l0.1 0.2m-7.5-17.3l0.2 0.3m1.1 11.7l1.3-0.4m-9.9-0.6l1.1 0.2m1.4 19.8l1.2 0m3.8-30.5l0-0.6m31.8 20.2l0.3-0.1m-3.9-2.4l0.5 0m7.7 20.3l-1.1 0m-26.1-11.7l0.3 0.8m-5.5 0l-0.3-0m12.1 0.1l0 1.3m-16.4-31.7l0.7 0.3m38.7 36.4l1.1 0.5m-54.4-2.1l-0.8 0.4m44.2 4.7l-0.7 0m-40.1-24.4l-0.5 0.4m47.2 9.9l-0.9 0.4m-49.8-4.8l0 0.2m1.8-22.2l-0.1 0m35.4 11.5l1-0.7m14.3 15l1.3-0.4" stroke-width="0.9"/><path d="M89.3 422.9l-0.2 0m-17.2-20.2l-0.3-0.1m0.8 0.1l-0.5 0.7m35.5-2.2l0.5-0.3m-30.9 2.4l-0.5 0.6m27.5 7.9l-0.6 0m-31.2-9.6l0.1 0.2m40.1-15.3l-1 0.3m-8.6 8.7l-0.8-0.3m18.6-9.4l-0.3-0.1m-48 11.1l-0.1-0.1m48.1-11.8l-0.6 1.2m-1.9 7.7l-0.7-1m-5.7 2.2l-0.4-0.5m4.9 6.1l-0-1m-19-10.7l-0.2-0.3m-7 7.5l-0.9 1m12.2-10.2l-0.1-0.9m-0.6 1.4l0.3-0.4m-32.9 34.1l-0.4-0.2m7.6-39.8l-0.7 1m11.5 18.8l0.5 0.1m16.1-12.9l1.2-0.1m-33.4-2.9l0.7-0.1m42.9 22.3l-0.4 0.2m-6.2-3.8l0.6-0.2m12.9-3l0-0.5m-49.5-16.4l-0.8 0.9m5.3 34.4l0.5 0.2m-8.7-21.8l0.8 0.5m49 15.6l-0.5-0.4m-12.3-4.3l0-1.2m-11.8 6.9l0.9-0.1m0-0.3l-0.2 0.1m-17.4-25l-0.5 0.4m42.4 17l0.4-0.3m-1.3-9.6l-1.1 0.8m-23.1-5.2l-1.2 0.4m19.4 20.8l0.5 0.5m-5.3-14.8l-0.4-0.2m0.2 9.7l-0.5-0.6m-3 0.4l-0.6 0.2m-14.3-16.9l-0.7 0.9m2-0.1l-1.3-0.3m1.2 21l0.3 0m-8.9-27.5l1.4-0m1.2 9.8l-0.4 0.3m2.1 5.3l-1.2-0.1m-7.9 0.4l-0.1-0.3m33.5 18.2l0.4 0.8m-33.2-8.5l1 0.2m36.9-4.8l-0.4-0.9m-45.3-10.6l0-1.2m3.8 25l-0.5-0.4m45.4-31.6l-0.3 0.7m-7.4 17.1l0.1-0.8m-15-13.8l1 0.7m-1.5 0.6l0.5 0.1m-11.6 8.4l1.1-0.1m-1.5-2.3l0.6 0.2m8.8 7.6l0.2 0.9m-23.4-25.8l-0.3 0m29.5 29.2l0.5-0m10.1 5.3l0.7-0.9m0.6-0.5l0.8-0.5m8.5 4.2l-0.6-0.4m-18.6-2l0.7 1" stroke-width="1.3"/><path d="M94.4 394.2l-0.6-0.7m-29 14.6l0-0m11.8-3.3l0.2-0.9m26.7 7.3l0.1-0.9m-18.9 8.4l-0.2 0.2m12.6-10.7l-0.2-0.6m12 2.6l0.8 1.1m2.3-16.2l-0.3-0.8m6-6.9l0.1 0.4m-5.8 32.9l0.3-0.1m3.2-16.2l-0.3 0.2m-22.4-18.6l0.3-0.3m-23.4 12.9l-0.8 0m17.4-9.8l0 0.8m17.6 6.3l-0.2-0.3m-14.1-1l-0.9-0.1m-20.7 3.6l0.7-0m17.8-14.7l0 1.3m-11.4 2.8l0.4-0.5m42.2 33.6l0.9 0m0.4-20.4l0.4-0.4m-42.4 12l0.6 0.7m36.2-7.5l0.6 0.2m-5.4-0.7l0.5 0.6m-19.4 17l0.9 0.1m15.3-24.1l1.2 0.2m4.4 22l0.2-0.7m-7.2-23.2l-0.1 0.3m8.5 22l0.8-1m-27.1 5.2l-1.3 0m27.4-38.7l-0.4 1.2m-23.4 7.4l-0.2 0.4m-8.1 17.5l0.1-0.4" stroke-width="1.8"/></g>
<rect x="123.5" y="380.7" width="57.2" height="42.9" fill="#e9e2d7"/>
<g stroke="#a23ab0" stroke-linecap="round" fill="none" filter="url(#halo1)"><path d="M144 397.9l1 0.5m-8 12.9l0.3 0.5m28.6-21.9l-1.3 0.3m-26.8 13l0.1 0.3m41.4 15.1l-1 0.5m-51.7-29.2l-0.7-0.3m16.1 4.6l0.4 0.6m30.8 4.2l-0.3 1.2m-20.7 2.5l-0.4-1m19.6-2.5l1.2-0.5m1.4 2.8l-0.3-0.1m-3.9-8.3l0.2 1.3m-0.4 5.8l0.5 0.2m-17.3-3.1l-0.5-0.2m6.3 5.8l0.3 0.1m-20.9 9.8l1-0.4m31.1-17l-0.5-0m0.8 2.5l-0.6-1.1m-23-7.6l0.3 0.9m1.1-2.7l-0.1 1.2m21.2 3.4l-0.5 0.2m7.6 10l-0.9 0.6m-18 18.7l-0.3 1m21-20.1l-1.1-0m-34.4-17.6l-0.4-0.8m0.4 1.3l0.2 0.2m27.2 12.5l0.6-0.4m-1-10.7l-0.2-1.3m-3.8 23.4l-0.3-0.1m-39.3-7.7l0.4 0.4m7.1-11.6l-0.2 0.2m-3.8-1.4l0.7 0.9m-1 19.2l-0.3-1.2m41.5-23l-0.8-0.5m-16.2 37.1l0.8 1m23.7-3.2l1.1-0.6m-12.2 2.4l0.2-0.3m-10.3-30.8l-0.1 0.7m-25.4 10.9l-0.2 0.2m41.2 11.6l-1.3 0.4m-33.4-24l0.1-0.9m25 22.3l-0 0.4m-31.2-22.4l-0.3-0.4m25.9 2.1l0.3-1.4m22.3 33.6l0.1 0m-3-25.7l1 0.5" stroke-width="0.9"/><path d="M138.3 419.6l0.8 0.7m24.5-32.7l0.6 0.5m14.3 29.5l-0.8 0.3m-33.7-19.8l-0.5-0.1m13.6 21.5l0.4-0.5m7.1-33.8l-0.8-0.6m13.2 12.6l-0.1 0.7m-12.6-8.4l-0.6 0.8m-34.7 3.1l1.3-0.2m48 24.7l-0.5 1.1m-7.6-7.9l0.2-0.2m-18.2-3.3l-0.3 0.2m18.2-20.2l-0.2-0.3m-28.9 6.6l-0-0.2m2.8 0.8l-1.3-0m19.5 6.4l-0.2-0.2m0.5 0.4l-0.4 1.3m8-16.7l-0.2-1.1m-12.1 20l0.6-0.1m-33.7-6l0-0.5m16.5 19.7l-0.3 0.4m3.1 4l0.3 0m10.1-23.3l0.8-1.2m-1.7-1l-1-0.1m6.8 5.3l-0.4 1m-4.9 10.7l-0.1-0.6m23.5-27.1l-0.5-0.3m0.8 3.1l0.4-0.1m-30.4 34.4l-0.2-0.9m-8.9-40.5l1.2 0.6m35.1 19.8l-0.2 0.6m3.6-0.9l-0.9 0.4m-53 7.2l0-0.7m33.9 14.1l0.8 0.2m-4.4-41.4l0.4 0m-7.1 20.2l-0.2 0.6m-0.1-1.4l0 0.7m4 7.4l-1.1-0.5m-15.8-26l0.1 0.4m8.3 1.5l-0-0.2m25.9 2.5l0.4 1m-5 22.1l0.5 1m-11-29.1l-1 0.9m-17.9 5.4l0.1 0.7m-8.9 6.3l0.7 1m1.3 2.2l0.4-0.1m51.5 17.7l-0.7 0.3m0-16.1l0.3-0.2m-34.2 1.8l-1 0.8m26.2-1.5l1 0.6m-26.7-10.2l-0.3 1.1m34.3 25.6l0.1-0.6m-21.8-19.1l0.4 0.1m-20.8-16.9l0.2 0.4m-1.3-0.2l0-0.2m-5.8 18.9l-1 0.6m1.5-0.2l-0.1-1.1m49.7-8.1l-1-0.5m-50.9 6.5l-1.1-0.1m38.9-15.5l0.6 0.4m1.4-0.4l0.8 0.1m-29 40.6l-0 0.3m30.7-12.2l-0.4 0.1m0 0.4l-0.1-0.4m-44.1-5.2l-0.3 0.4m43.2-22.2l-0.1-0.9m-12.1 10.1l-0.2-0.5m-15.2 6.9l0-0.4m-1-0.4l-0.3 0.2m-11.5-17.4l0.1 0m3.8 7.3l-0.4-0.7m46.2 7.4l0.2 0.5m-45.1 13.2l0.3 0.7m-2.6 3.3l1 1m22.1-5.1l-0.2 1m-13.1-6.1l-0.3-0.1m-13.6 18.5l-1.2-0m2-1.6l-0 0.8m6.9-10l0.5-0.5m20.1-20.7l0.1-0.2m22.7 26.3l0.3-0m1.5-27.8l0.4 1m-42.3-3.2l0.6 0.3m34.3 24.9l-0.3 0.1m5.6 11.2l-0.7-0.3m0.5-24.1l-1.3-0.3m-42.1 16.3l-0.2 0.6" stroke-width="1.3"/><path d="M163 401.2l-1.1-0.3m-34.3 12.7l-0.1 1.4m49.8 2.4l0.7 0.1m-48.7-9.4l0.4 1.4m3.5 3.5l-1.2-0.7m25.8-0.4l0.2 0.7m19.5-14.3l-0.8 0.1m-49.2 22.9l0.1-1m42.9-20l-0.5 0.6m-18.2 7.6l0.1-0.2m27.2 3.7l0.8 0.4m-0.8-0.7l0.9-0.9m-49.5-15.1l0.4 0.2m1.6 22.5l-0.2-0.6m37.3-17.1l-0.1 1m-16.3-6.2l-0.5 1.3m-1.5 0.1l-0.3-0.4m-17.2 11.3l-1.1 0.4m19.8 0.4l-0-0.2m17.2-26l1.2 0m6.4 18l-0.2 0.7m-33.5-16.2l-0 0.7m21.5 36.5l0.6 0.8m-37.8-20.8l-0.4 0.5m-0.8-12.5l-0.5 0.6m30.2 12.2l-0.1-0.4m9.3-3.9l0.7-0.5m-30-16.7l0.5 0m0.3 6l-0.6-0.2m-10.9 21.7l-0.9 0.2m39.5 3.1l0.4 0.1m13.7-16.5l-0.6 0.8m-19.9-6.6l0.6 0.8m-16.2 27.4l-1-0.5m32.5-7l-0.4 0.9m-21-13.1l-0.6 0.7" stroke-width="1.8"/></g>
<rect x="182.8" y="380.7" width="57.2" height="42.9" fill="#e9e2d7"/>
<g stroke="#a23ab0" stroke-linecap="round" fill="none" filter="url(#halo1)"><path d="M202.7 385.2l-0.3-1.1m31.2 31.5l-0.5-0.2m-44.6-19.7l-0.1-0.3m2.4-8.8l0.3 0.2m1.7 33.2l0.2-0.1m39 2.4l-0.2-0.3m-36.9-10.7l0.1-0.6m19.1-12l-0.5 0m-19.6-4.1l-0.2 0.2m12.8-6.7l-1 0.3m27.6 22.5l0.8 0.1m-12.3 5.1l0.4-0.6m9.5 4l0.4 0.9m-21.5-3.4l-0.4-1.2m29.2 5.2l0-0.2m-55.8-13.4l0 0.3m1.9-2l0.1-1.3m27.9-11.7l1.4-0m-1.2 10.8l0.9 0.5m-2.7-1.6l0.6 0.5m19-11.3l-0.2-1.4m-4.2-5.8l0.1 0.2m-10.8 20.9l0.2 0.2m-21.2-21.5l0.4-0.9m20.1 15.8l-0.1 0.2m-6.5-8.6l-1-0.2m-1.1 18.3l0.3-1.2m-23.4-14.4l-0.3 0.1m27.5 23.2l0.3-1.3m15 0.8l1-0.4m-11.3-13.4l-0.5-1m-7.2-12.8l0.1-0.3m-12.7 22.3l-0.7 0.5m11.6-1.6l0.2-1.1m1.8-18l-0.3-0.8m-22.3 24.2l-0.4 0.5m41.1-29.8l-0.3 0.8m-13.3 26.3l0.2-1.4m-7.9-22.2l0.4-1m21.1 13l-0.2-0.4m11.8 17.8l0.2-0.5m-55.4 4.8l0 0.6m1.7-37.1l-0.8 0.6m13.3 4l-0-0.2m-2.8-3.8l-0.7 0.1m-8-3.7l0.6-0.6m47 23.2l-0.1-0.5m-15.2 14l1.1 0.1m14.5-33.9l0.7-0.1m-7.2 22l-0.8-0.5m-18.6 9.6l-0.1 0.4m-24.6-29.2l0-0.5m0 2.8l0.3 0.7m28.5 4.6l-0.1-0.2m18.5 15.2l0.1-0.3m-13.6 10.8l-1-0.7m-29.2 1l-0.2-0.1m9-12.1l-0.3 0.1m-1 0.5l-0.1-1.1m0.2-25.8l0.8 0.2m31.6 2.2l0.5-0m-0.8-2.4l-0.5 0m-22.6 5.6l1.2 0.1m11 3.7l0.9-0.9m21.2-8.5l-0.1 0m-16.6 11.8l0.1-0.4m13.6-5.3l-0.6 0.1m-33.8 4.9l0.4 0.1m9.5 26.7l0.3-0.1m1.5-19.4l0.1-0.1m-11.7-17.4l-1.4-0.2m22 0.7l1.2 0.7m-38.6 6.6l-0.2 1.1m15.4 1.4l0.1 0.4m-14.6 24l0.3-0.6m40.4-21.4l1.1 0.8m-23.5 24.4l-1.2 0.6m17.3 2.1l-0.3 0m-11.7-27.7l0.3-0.1m20.6 3.3l0.2 0.2m-0.4-1.6l-0 0.9m-33.8 12.4l-0.4-0.4m-8.8-22.4l0-0.9" stroke-width="0.9"/><path d="M187.5 410.7l0.5-0.7m51.3 8.3l0 0.6m-19.5-18.3l-0.1 0.4m-15.2 13l-0.2-0.1m-9.3-1.6l1.1-0.3m-9-11l-0.4-0.1m7.6 17.2l-0.7 0.9m12.8-30l-1.2 0.3m29.1 22.2l-0.6-0.6m-11.1 7.7l-0-0.3m9 1.9l0.5-0.7m-20.9-1.7l-0.1 0.6m3.2-24.6l-0.1 0.2m-27.2 2.1l0.5 0.1m51.8 26.5l0 0.2m-36-26.4l-0.7-0.8m-7 4.3l0.1 0.7m33.9-6.4l0.9-0.4m2.5-2.1l-0.7-1.2m-3.6 15.6l-0.2 0.8m7.2-17.7l-0.5 1.1m-17.1 14.9l0.4 0.2m-2.8-2.7l-0.2 0.6m9.9 14.3l0.2 0.2m-14.6-19.5l-0.1-0.1m-18.2-8.1l-0.4 0m24.5-2.2l0.3 0.3m-5.8 23.9l-0.4 0.1m-4.4-2.8l-1 0.5m-13.3-0.1l0.5 0.4m34.7-25.7l-0.8-0.6m-7.8 35.4l-0.5 0.9m0.6-0.1l1.4-0.2m18-6.3l-0.5 0.1m-32.9-27l-0.5 1m10.8 16l0.9-0.1m10.6-4.2l-0.4-0.2m-15-6.5l0.6-0.6m19.6 28l-0.6-0m-22.1-14.8l-0.6 0.3m-24.7 17.2l0.2 0m36.1-7l0.2-0.5m-3.1 6.2l0.1-0.3m10.7-3.6l-0.6-0.3m-21.3-13.8l-0 0.6m-5.9-0.5l-0.5-0.9m0.4-0.1l-0.4 1.3m19.1 14.2l1 0.5m-27.4-25.9l-0.5 0.6m18.5 15.4l0.6 0.7m-0.5-14.3l-0 1.1m-18.8 25.6l-0.9 0.6m0.4 0.1l-0.7 0.3m6.7-12.6l0.6-0.4m0.5 0.9l0.6-0.4m-2.5-28.8l0.7-0.2m40.7 13l0.7-0.1m-17.9-0.6l0.2-0.6m-4.3 7.5l-0.1 0.3m-26.4 6.8l-1 0.4m15.1 12.8l-1.2-0.2m-7.4-8.6l-0.5-1.1m19.1 8.7l-1.2 0.1m15.1-0.6l1-0.7m-18.5 3.6l-1 0.2m-4.6-39l-0.6 0.3m30 25.3l0.2 0.6m-0.2-19.6l-1.1-0.8m-1.4 26.2l0.6 1m-31.3-34.5l0.8 0.5m-2.9 19.3l-0.8-1m-10.3 21.6l-0.8 0.7m3.5-22.9l0.5 0.3m1.1-6l0.8-0.9m43.2-6.5l0.1 0.1m-41.9 24.3l-0.1 0.3" stroke-width="1.3"/><path d="M188.6 395.9l0.3-0.2m3.4 24.7l0.1-0.6m6.1-26.1l1.1 0.3m20.9 18.2l-0.6 0.3m-24.5 5.3l-1.2 0.3m26-28.2l-0.3-1.4m4.4 30.8l0.9-0m-40.6-5.2l-0.8 0.4m52.6 0.4l-0.1 1.1m-8.4-11.5l0.7 0.4m-40.9 14.6l0.4-0.7m24.2-2.9l0.5 0.4m1.4-1.5l0-1m-4.1-21l-0.3 0.3m-25.1-8.1l0.3 0.9m8.3 6.2l0.4 0.4m12.1-1.3l-0.9 0.9m2.3 22.3l0.2 1m2.9-19.8l-0.9-0.5m-17.2 7l0.2-1.1m-5 16.4l-0.6-0.7m15.8-19.9l-0.4-0.5m3.2-1.4l-0.6 0m22.7 10.4l-0.2-0.7m-10.7-5.9l0.5 0m0.3 12.4l-1-0.9m-27.5-18l0.3-0.2m-2.3 20.9l0.2 0m-3.6-11.4l0 0.3m40.4-8.9l-0.4-1.3m-29.9 20.2l-1.1 0.7m-2.5-11.7l-0.9 0.5m47.5-13.6l0.1 0.9m-43.1 22l0.6-0.2m8.6 6l-0.2-0.5m4.1-32.1l-0 0.4m-19.7 17.6l0.4-0.4" stroke-width="1.8"/></g>
<rect x="242.6" y="380.7" width="57.2" height="42.9" fill="#e9e2d7"/>
<g stroke="#a23ab0" stroke-linecap="round" fill="none" filter="url(#halo1)"><path d="M258.3 422.9l-0.8-0.3m-8.3-13.7l-0.2-0.5m41.5-15.7l0.6-0.6m-20.6 11.4l0.8-0.3m-9-21.6l-1 0.1m-10.2 37.7l-1.1-0.6m44.8-14l-0.4 0.1m1.2-0l0.9 0m-16.2-6l-0.2-0.3m-21.9-11.4l-1.3 0.5m35.1 12.7l-0.4 1.2m1.8-1.2l0.8-0.7m-44.9-15.1l-1-0.2m29.4 22.8l0.1 0.3m-21.5-14.5l0-0.3m-10.2 22.1l0.1 0.6m23.8-20.8l0.3 0.6m-1.8-3.1l-0.7-0.8m13.2 17.9l-1 0.9m3.7-2.6l0.1 0.3m-34.7 2.7l0.1-0.8m44 7.6l0.7-0.5m-2.9-15.2l0.4-1m-8.6 0.5l-0.3 0.8m-0.6-12.4l0.1-0.3m1 26l0.3-0m0.1 1l0.8 0.9m-37.2-4.1l-0.4-0.3m28-24.1l-1 0.1m0.9-7.3l-1.1 0.2m-10.8 30.1l-0.9 0.1m19.7-18.6l-0.3 0.8m-28.9 12l-1.2 0.5m11.4 14.2l0.7-0.2m-8.4-5.3l0.1-1.1m43.6-25.4l-0.3-0.4m-17.7 29.2l-0.6 1m11.3-8.1l1.2-0.2m-7-19.6l0.8 0.9m-26.8 25.7l0.5-0.4m-8.9-23.4l-1.1-0m42-10l0.6-0.4m-12.3-1.6l-0.3 0" stroke-width="0.9"/><path d="M261.5 390.5l-0.6 0.5m19.2 12.1l0 0.2m13 6.9l0.4 0.1m1-8.4l-0.5 0.5m-21.2-13.2l0.7-0.5m-20.2 32.3l-0-0.9m34.6-24.7l0.1-1.1m-0.1-1.6l-0.5-0.3m-18 8.1l-1.4-0.1m18.9 5.3l-0.2-0.2m0.7 1l-0.6 0.6m9.5 4.9l0.2-0.1m-3.9-26.3l0.7 0.7m-21.9 31.7l0.4 0.4m-20.8-7.3l0.7 0.6m29.6-11.8l-0.2-0.7m16.1-5.3l1.1-0.5m-34 13.2l-0.3-0.1m27.3-6.2l-0.6-0.6m-23.6 7.5l-0.2-0.5m-15.8-21.4l0.5 0.1m21.4 35.7l-0.1 0.3m7.8-33.9l-0.1 0.4m16 3.4l0 0.2m-13.3 10.8l0 0.3m15.2-12.1l0.5 1m-0.2-0.9l0 0.3m-13.4 16.5l-0.3 1m-12-27l1.1 0m20.7 17.9l0.3-0.2m-21.5-6.1l0.4-0m-21.4 14l-0.6-0.3m7-14.4l0.1-0.7m-15.9 16.4l0.5-0.2m1.6 0l0.7 0m18-5.9l0.4-0.2m23.6-2.6l-0.8 0m-3.5 3.4l-0.4 0.1m-12.8 8.3l0.3-0.9m-20.7-9.5l1 0.3m15.1-14.7l-1.1 0.5m32.7-5.2l0.7 0.1m-24.1 0l-1-0.1m8.3 15.8l-0.2 0.2m0.5 0.1l0-1m-38.8-7.9l-0 0.8m10.2-5.9l-0.4-0.3m-5.8 7.4l-0.4 1m22 14.9l0.6 0.4m7.1-6.9l-1.1-0.9m20.8 10.5l-0.7 0.2m-8.4-4.6l0.7 0.9m-28.5 13l-1.2-0.5m15.5-16.6l-0.9 0.5m-29.5-6.2l-0-0.9m3.1 10.6l0.3-0.8m18.3-17.9l-0.2 0.6m16.8-6.2l-1.1-0.2m15.4 34.1l-0-0.4m0.4 2l0.2 0.1" stroke-width="1.3"/><path d="M259.6 422.5l0.4-0.2m21.5-18.1l-0.1 0.3m-0.8-5.5l0.5-0.4m-8-9.3l-0.3-0.5m22.8 3.9l0.6 1m-44.5 26.6l-0.3 0.2m13.7-35.2l-0.9 1m28.8 15l-0.7 0m-43.9 1.3l0.6 1.1m-4.1-18.6l0.8-0.6m51.7 26.5l0-0.4m-46.6-27.6l0.3-0.2m-2.5 1.7l-0.4-1m7.4 21.9l0.9-0.2m17.7 4.7l-0.3-0.3m-3.4 8.9l-1-0.7m8.6-2.1l-0.7-0.6m-33.3-9.8l0.3 1.2m29.8 9.5l0.7-0.9m11.4-7.1l1.1-0.6m-3.2 7.3l1-0.5m-13.3-10.3l0.5 0.8m-19.6-17.9l-1-0m-2.9 13.5l0.5-0.4m21.4 10.2l-0.3-0.2m-5.9-27.4l-1-0.2m34.5-0.9l0.2 0m-38.4 10.3l0.5-0.4m-4.1 16.2l-0.6-1m23.3-17.3l0.5 0.2m11.1 0.4l0.5 0.2m-32.6-1l0.5 0.4m35.5 27l-0.5-1.2m-0.4-32.8l-0.1 0.5m-15.2 37.4l0.9-0.6m-23.1-5.7l0.1-0.3m1-6.6l-1.2-0.2m26.6 10.8l0.2 0.3m-16.5-25.2l0.1-0.5" stroke-width="1.8"/></g>
<rect x="302" y="380.7" width="57.2" height="42.9" fill="#e9e2d7"/>
<g stroke="#a23ab0" stroke-linecap="round" fill="none" filter="url(#halo1)"><path d="M344.7 389.7l0.8-0.2m6.5 11.8l0.2 0.5m-41.4-6l0.7-0.3m27.9-7.9l-0.3 0.2m-27.6 5.5l0.3 0.4m36.7 1.7l0.9-0m-28.2-2l0.1-0.6m16.8 13.7l-1.4 0.2m-16.9-11.8l-0.2 0.6m32.3 21.5l-0.2 0.1m-12.5 1l-0 0.3m-35.5-27.1l-0.9-0.1m53.4 30.8l0.3-0.6m-26.5-4.9l-0.9 0.3m-1.5-1.2l0.2-1m-21-30.4l-0.3 1m-0.2-1.9l1-0.9m-1 3.4l0.5 0.5m51.1-4.9l-0.1 0.3m-34.8 33.7l-0.3 0.7m0.3-0.2l-0.9 0.9m-12.5-21.1l-0.1-0.6m-5.1 16.4l-0.4-1m44.8-0.3l-0.1 1.4m-6.4 10.8l-0.2-0.2m-31-11.3l1.4 0.3m23.8-22.1l0.4-0.3m-0.5 13.1l-0.1-0.4" stroke-width="0.9"/><path d="M320.7 419.6l-0.7-0.2m-5-37.6l0.3-0.1m2.7 20.4l0.8-0.5m-0.9-1.6l0.1 0.2m39.8 2.6l-0.2 0.7m-5.2-4l0.6 0.1m-23.1 20.7l-0.5-0.6m-9.5-12.5l-1 0.8m1-1.9l-0.6 0.1m13.2-7.7l0.2 0.3m-6.2 3.7l0.6-1.2m16.7 5.9l-0.4-0.4m-0.6-13.5l0-1m-4.2 30.5l0.9-0.3m-33.2-39.2l-0.6-0.6m9.8 3.9l-0.9 0.6m-1.5 9.4l1 0.9m26.6-3l0.4 0.1m11.2 14l0.6-0.2m3.3-2.5l-0.5-0.5m-33.7 10.2l-1.2-0.2m8.8 7.5l0.9 0m0.3 0l1.1 0m-6.2-5.1l0.5 0.8m17.6 4.2l-0.3 0.1m-32.8-26.6l0.2 0.7m11.3 18.8l0.2-1.1m36.1 1.2l0 0.7m-14.9-22.4l-0.3-0.2m-13.4 24l0.7-0.4m27.6 4.7l0.3-0.6m-54.8-15.8l0.1-0.7m47.7 11.5l-0.2 0.5m-39.5-14.1l-0.3-0.2m37.3 1.2l0.9-0.9" stroke-width="1.3"/><path d="M353.9 406.5l-1.1-0.5m-35.4 8.4l0 1.3m-2.3-2.8l0-0.5m34.3-14.6l0.4-0.4m-42.1 1.4l-0.3-0.2m6.5-16.8l-0.5-0.4m11.2 22.2l0.5-0.9m-6.9 18.1l-0.8 0.9m22.8-37.2l-0.5-0.4m-35.4 29.9l0.2 1.3m48.1-33.9l0.7 0m-40.2 6.8l-0.5-0.6m19.4 23.1l0.3-0.5m-4.8-8.4l-0.7-0.2m7.3-10l-0.4-0.2m7.5 3.1l0.1 0.8m-29.5-13.8l-0.1 1.2m-0.2-0.2l0.2-1.1m46.8 40.3l-0.2 0.5m0.2 0.3l0-0.4m-38.6-39.4l-0.3 0.5m14.8 6.6l0.5-1.2m4.4 26.8l-0.3-0.2m19.5-9.2l0 0.7m-45.3-2.7l-0.1-0.9m40.3-14.2l-1.2-0.6m-7.8 33.1l-1 0.7m-35.2-26.3l-0.4-1.2m29.7-4.9l-0.5 0.1m3.7-5.4l-0.3-0.3m0.8 6l-0.4-0m-26.5 12.3l-0.2 1" stroke-width="1.8"/></g>
<rect x="64.1" y="425.8" width="57.2" height="42.9" fill="#ecebf7"/>
<g stroke="#8a2ed4" stroke-linecap="round" fill="none" filter="url(#halo0)"><path d="M66.5 443.4l0.4 1.5m-0.2-2.6l-1.1-1.1m17-1.4l-0.3-1.7m4.9 2.3l-1.7 0.5m-5.5 5.4l-1 0.1m-13.8 12l-0.4-0.2m2.1 0l1 1m43.4-17.2l-1.2-0m1.3 3l0.5-1.8m-34.2 15.7l-1.3-0.3m-1.3 1l-0.6-0.5m41.6 8.2l0.6 0.1m-0.8 0.6l1-1.5m-21.4-24.4l0.1-1.3m-2 2.1l0-0.3m-0.3 5.9l0.1 0.4m17.9 13.2l0.4-0.1m-45.5 6l-1.4 0m23.3-13.5l-1.3 0m0.8-0.7l0.9-1.7m-1.6-13.1l1.8 0.3m-14.4 4.4l-0.3-1.6m1.4-0.5l-0.5-1.9m0.5 4.2l0.1-0.1m12.1-2.1l-1.9 0.4m-0.7 1.1l-1 1.2m21.4 10.9l-1.1 0.3m-21.1 4l-0.3 0.3m-1.5-0l1.1 0.7m11.3 7.4l-0 0m6.1-5.1l-0.2-0.3m-31.2-12.8l-0.8 0.7m18.4 2.5l-0.8-0m-0.4-0.6l1.1 0.5m-0.9-2.1l1.5-1m17.6-15.4l0.4-0.1m-22.1-1.2l1.9-0.4m-3.5 2.6l1.2 1.1m-7 12.6l-0.3 1.4m-0.5-0.6l0.4 0.2m0.8 0l-1.6-1.3m29.3 10.9l-0.4 2m-0.6-6.2l1.3 0.9m-27.6-10.6l1.4 0.6m11.9-17.6l-1.5-0.7m5.7 32.5l0.4 0.2m17.5-27.4l1.4 1.2m-38.2 17l-0.1-1.9m-0.8 5.2l0.9-0.1m3-25.5l-0.6 1.2m-0.1 0.1l1.3-0.7m-2.3 0.1l-0.4-1.8m13.1 31.9l-0.7 1.3m1.1-0.7l-1.5 1.3m-20.6 2.5l1.3 1.2m18.7-19.8l0.5 0.3m6.1-13.8l0.2-1m5.2-3.1l-0-0.3m-1.4 1.4l-0 1.2m5.6 31.1l-1 0.3m0.4 0.2l-0.7-0.5m-23.6-35.1l-1.4 1.6m-0.7-1.6l1.3 0m-1.3 0l-0.4 1.5m17 10.4l-0.6-0.3m0 4.7l-0.2 0m-18.1-14.5l0.7-0.1m11.8 26.5l-0.3 0.4m-1.3 0.9l-0.4 1.8m-1.5-6.2l0.8 1m0.9 2.1l-0.8 0.8m3.5-2.4l-1.3-1.7m-12.1-4.1l1.6-0.3m-9.6-7l-0.9-1.5m39.9-6.7l-0.5 0.3m0.1 0.3l-0.3 2.1m-11.2 21.9l0.7 0.5m-1.7-5.5l0.7 1.1m-25.5 11.3l-0.6-1.6m-1.4 5.8l1.3 0m-0.4-16.1l-0.3 0.7m-0.8 1.4l0 1.8m53.8-8.7l0.3-1.2m-46.9-18.7l-0.2-0.2m1 1.1l0.1-0.5m28 1.9l0.7-1.4m-15.6 21l-1.4-0.8m5.2 0.1l-0.5 1.1m29.1-16.5l2.1 0m-5.3 19.9l1.5-0.7m-51.8 11.8l0.2 1m24-8.6l-1.7-0.1m-18.1 7l-1-1.3m32.1-31.1l0.3 0.4m-20.8 4.7l1.5-0.8m-15.7 5l0.2 1.9m7.2-5.7l1-0.9m31.5 25.8l-0.8-0.2m-12.9-20.2l0.5 0.5m-19.3 0.1l1.1 0.8m-0.9-0.7l1.1 1.7" stroke-width="0.9"/><path d="M115.5 454l0.2 0.1m-49.9-10.3l0.1 0.2m20.3-2.4l-2-0.2m21.6 25.2l-0.9-1.7m-23.4-21.3l0.1 0.3m-4.4 16.3l-1.5 1.3m19.6-16.4l-0.1-0.8m25.2 18l0.2 1.9m-0 1.2l0 1.7m-20.2-25.2l-0.9-0.1m-7.1 5l0.1 0.3m2.7-2.1l-1-0.1m19.3 18.7l-1.1 0.9m-47.1 3.5l-0.5 0m0-0.3l0 0.3m0.9-0.3l1.5-0.1m17.9-29.2l1 0.3m-0.8 1.5l0.7 0.2m-5.1-0.6l-0.3-2m-0.2 2.1l-0.1 1.2m4.2-3.5l0.6-1.3m22.8 17.8l0.2 0.9m-0.1-0.9l0.1-0.2m-24.6 5.4l-0.6-0.2m-0.8-0.8l-1.7-0.2m5.7 4.9l1.1 1.3m-3.6-4.5l-0.1 0.4m17 7.8l-0.2 0m-0.6-0.2l0.3-1.4m-30.1-15.1l-0.6 0.5m0.4-1.9l-0.7 0.3m0.3-2.3l-1.3 0.6m-1.2 1.7l-1.2-0.2m19.4 6.7l-0.1 0.5m20.1-22.6l0.6-0.9m-23.3-0.8l-1.2-0.4m-5.7 17.1l1.3 1.4m-3.9-3.1l0.3 0.6m-4.2 4.5l-0.8 0.1m28.2-17.5l1-0.5m-25.6 32.9l1.4 0m29.5-6.7l-1.4-0.3m15.2-20.9l-0 1.3m2.8-1.6l1.4-0.7m-35.7-2.7l1.1 1.8m0.7 0.4l0.8-0.6m-0.5-3.4l-0.6 0.1m30.8-0.4l0.2-2m-41.2 14.6l0.2-0.3m6-3.3l-0.4-1.1m6.7-10.9l-0.6-0.7m1.6 0.7l-0.4 0.6m22.8 2.4l-1.2-1.2m1.4-0.4l-0.2-0.3m-0.6 0.5l1.3-1m7.3 5.1l-1.5 1.2m-46.6 13.8l0.4 0.5m-2.8 3.3l-0.1-0.2m5.6-0.8l0.4 0.3m-3.7-2.4l-1.2-1m2.8-2.8l1.8-0.4m-7.6 17l-1.2 1.1m20.9-20.2l0.4-1m-0.5 3.2l1-1.1m5.7-12.3l-1.9 0.2m4.3 1.6l-0.1 0.4m-3.3-4.8l0.9 0.4m-2 1.2l-1.6-1m7.8-3.3l-1.9-0.5m6.5 31.1l0.4-1.9m-0.5 2.7l-1.6-0.9m-25.6-33.1l-2.1-0.2m-2.1 25.6l1-0.3m0.1-2.1l0.3-0.5m12.6-16.8l0.2 1.1m7.6 5.4l0.7-1.9m-1.5 1.5l0.3-1.1m12.8 24.2l-0.3 0.3m-29.6-35.9l-0.5-0.1m-1.9 0.1l0.3 2.1m-6 2.6l-0.3-0.5m1.6 1.1l-1.2 0.1m4.2 16.6l-0.2 0.1m1.5-1.1l-0.2 0.6m3.4 1.1l-1-0.5m-10.2-8l0 0.3m40-8.7l-1.2-0m4.8-0.5l1.9 1m-7.9-1.2l0.1 0.3m-26.5 22l1.7-0.9m-1.6 0.9l0.1-0.3m15.3 3.4l-0.3-0m1.9 3l-1.4-1.2m1.6-4.1l1.6 0m-1.8 5.1l-0.2 0.1m0.6-5.7l0 0.5m-26.6 13.2l-0.2 0m-1.9-13.3l0-1.2m54.6-5.9l-0.4 0.9m-45.4-22l0.4 0m-2.3 1.4l-0.1 0.1m1.1-0.5l-0.4-0.1m28.1 5.4l1-1.1m-26.8 25.9l0.4-1.1m-0.1 3.8l0.5 0.7m-1.2-1.9l-0.3 1.3m0.2-4.1l0.8-0m12.4-7.8l1.1 1.2m-3-3l-0.2-0.4m33-13.3l-1.6 0.9m-3.3 19.4l1.2 0.2m-49.7 13l0.4 0.8m-0.4-0.1l0-1.8m0-0.2l0 0.3m24.5-7l0.5 0.1m1.4 2.7l-1.2 1.1m-4-2.5l-0.9-1m-11.6 3.5l-0 0.7m26.7-31.6l-1-0.5m4.8 1.2l1.1-0.5m-1.8 2.2l1.2 0.2m-26.5 6.2l-0.3 2.1m16.2 15.4l-1.1-1.9m-1.9 0.7l0.2-0.5m0.6 0.7l0.6 0.9m-7.5-14.9l0.8-1.2m-2.1 3.9l1.1-1.3m-19.8-1.3l0 0.3m7.2-4.7l-0.4 0.8m1.4 0.5l-0.1-0.4m31.5 18.6l-0.1 0.4m3-2.5l-0.7 0.5m0.6 0.3l0.3 0.4m-15.7-15l0.2 0.6m-18.7 0.9l-0.1-1.2" stroke-width="1.3"/><path d="M66.4 444.5l-0.7 0.8m18.4-5.3l-1.1 0.2m1.2-0.6l0.8-0.6m2 1.9l0-1.6m19.1 27.8l0.7-1.3m5-23l-0.5-0.1m-32.4 19l-0.6-0.7m-9.4-24.7l-0.4 2m-0.5-4.5l1.6 0.5m-1.3 4.4l0.6-1.9m51.7 29.4l0-0.5m-17.9-23.9l-1-1.7m-1.1 3.5l1.2 0.1m-11.2 3.4l-1.2 1.3m23.4 15.3l1 1.6m-1.9-4.8l1.3-0m3-18.9l0-0.9m-28.9 16.5l-1-0.1m-1.7-0.2l-1.8 0.6m-9.1-13.5l0 2.2m2.2-5.7l-0.5-0.5m9.1 19.5l2.1-0.2m12.5 7.8l-1.3-0.7m-30.7-14.1l-1.1-1.5m1.1-0.4l0.5-0.3m11.6-17.8l2.1-0.4m-11.5 21.4l-0.5-0m25.8-18.6l-1.4 0.6m2 0.7l-1.1-1.3m-18.6 17.1l0.2 0m-3.3 13.7l-1.5-1.2m33.6-4.7l0.6 0.5m-3.4 2.7l-0.3-0.2m18.4-23.9l0.3-0m-33.9-4.2l1 0.1m0.1 1.9l-1.3-0.5m-1.1-3.6l-0.4-0.4m31.4 2.4l-0.3 0.7m-39 11.1l0.9 1.4m-2.1-1.7l0.9 0.6m41.5-3.6l-1.1 1.9m-3.7-15l-1.2-0.1m1.7 9.6l-0.6-1.1m1.9 2.1l-0.5 0.5m-44.1 10.8l-0.5-0.3m21.2 11l0.3-0.2m-1.8-3.4l-0.5 0m-1.4 1.1l1.3-1.5m-0.7-12.8l-0.5 0.6m5.3-10.8l-1.1 1.4m-0.6-2.8l0.1 1.3m-16.3-8.7l-0.2 0m-3.1 30.4l1-1m10.6-26.4l-0.4-0.3m10.5 12.5l-0.5-0.5m2.9-3l-1.3-0.8m-0.3 4.1l1.1-0.8m-9 14.3l0.8-0.5m-10.4-8.4l-0.4-0.5m1.3 2.7l0.5-0m11.9 10l-0.3-0.2m2.9-5.4l0.9 1m-29.2 0.2l0-0m55.5-2.2l0.3-1.8m-46.5 10l1.1 0.7m0.4-1.3l0.8 0.2m11.3-12.1l1.6-0.8m-2 3.7l-1.2-0.5m31.7-17.2l1.4-1.2m-3.8 20.9l0.2 0.2m-34.9-5.8l-0.2 1m23-18.7l-0.1-1.5m-25.1 9.3l-1.9-0.1m-2.7-3.2l-0.1-1.5m3.3 2.5l1-0.3m16.7 24.5l-1.8-0.8m4.1 1.6l0.4 0.2m-13.1-18.5l-0.1-0.2m-18.4 3.3l-0.9 1.2m2.4-0.2l-0.1-1.5m0.5 4.3l-0.4-0.1m35.4 9.1l-0.6-1m-9.2-12l-0.7-0.9m3-2.7l1.5-0.2m-24 2.8l1.7 1.4" stroke-width="1.9"/></g>
<rect x="123.5" y="425.8" width="57.2" height="42.9" fill="#ecebf7"/>
<g stroke="#8a2ed4" stroke-linecap="round" fill="none" filter="url(#halo0)"><path d="M158.8 432.6l0.2-0.3m11.2 24.3l0-0.3m-44.9 2.1l0.3-0.7m0 0l0.7-0.5m2.8 0.8l0.1-1.6m-3.4 2.7l0.9-0.2m27.8-13.9l2-0m16.3-11.4l1.2-0.5m-15.2 5.5l0.2-0.5m-2.3 1.9l0.6-0.2m6.6-3.2l-0 0.5m-29.6-10.2l0.5 1m38.8 7.4l-0.1-0.6m-1.9 2.7l1.5 0.8m1.7-2.4l1.3 0.7m-21 15.6l-0.3-1.8m10.7-2.5l-0.1-1.1m-0.7 2.6l0.2-0.4m-32.3-6.7l0.2-1m1.3-3.2l0.9-1.5m39 3.2l-0.5-0.4m-3.4 2.9l1.3 1.2m-6.8-8.9l0 0.5m-31.9 15.1l0.3-0.3m44.5 7.7l0.7-0m0.2-3.2l-1.5 0.1m-49.4-3.5l-0.1-0.4m19.1-7.2l-0 0.2m1.5-3.8l-0.4-0.3m24.6-11.2l1.1 0.6m-44.4 21.2l0.7 0.6m-4.5-11.7l-0.9-1.1m4.2 2.3l0.2-0m-4.4-3.8l0 0.1m38.6-9.9l0 0.4m0-0.4l0.9 0.1m-30.4 20.4l-1.1 1.7m38.1 7.9l-0.1-0.4m-18.4-24.7l-0.3-1.1m-23.8 18.1l0.3 1m51.8 17.8l-1.4-0m1.5-3.9l-0.8 1.1m0.9 3.2l0-0.9m-22.6-24.9l-1-0.2m-10.4-3.7l0.2-1.8m-3.1-7l0.9 1.7m6 34.4l0.2 0.9m-1 1.8l-0.3-0m-11.4-28.9l-1.3-1.2m24.4 9.7l1.4 0.2m-33.2 0.3l-0.6 0.1m35.3 0.9l-0.1-0.7m13.9 12.1l0.6-1.8m-38.5-13.2l-0.3 0.2m1.9-4.8l-0.5 0.7m-6.3 3.2l1 0.1m33-9l-0.5-1.5m-12.1 29.7l0.1-0.6m-28.5-1.1l1.1-0.5m45.2-11.8l-0.2 0.1m2.5 1.8l-0.2-1.6m-0.3 1.3l0.5-0.3m-48.5 13l0.3-0.9m28.5-29.6l-1.2 1.5m13.4 14.4l0.8 1.7m-8.7-19.1l0.4 0.7m-17.7 32.8l-1.3-0.6m20.3-11.4l-0.7-1.3m-22.9 8.4l-0.2 1.4m13-2.5l-0.7-1.1m-26.1-30.1l1-1m-0.4 4.7l0.5-0.7m0.2-5.2l-1.1 0m0.4 2.2l0.3-1.4m4 1.5l0.3-1.3m-0.7 38.9l1.1 1.4" stroke-width="0.9"/><path d="M159.2 435.1l1.3-0.4m-5.4-4.7l1.6 0.4m-25.1 24.1l0.9 0m3.9 0.6l-0.3 1.5m37-0.1l0.7 0.7m-3.6-0.7l0.4-0.1m-46.4-0.8l0 1.1m0 5.3l1.4-0.2m0.1-1.2l-0.6 1m46.4-4.7l0.6 1.9m-0.2-1.5l0.9 0.9m-43.8 1.3l-1.4-0.1m48.1-27.8l-0.1-0.6m-0.2-3.4l0.4 1.7m0.6-2.8l-0.1 0m-19.4 16.1l-0.9-0.8m16.2-9.1l0.6-0.2m-1 0.8l1.3 0.1m-0.4-2.1l0.9-1.3m-1.7 2.2l-1.2-0.8m-7.4 31l0.1 0.4m-3.8 0.3l-0.3 0.3m-9 2.6l-0.1-0.3m2.1-0.4l-0.7-0.2m-3.8 2.9l0.3-1.5m-1.2-2.1l0.2-0.4m3.7 1.8l0.3 1.8m-0 0.4l-2 0m0.3-1.3l-1.5-1.2m-13-38.4l1.1 0.7m0.5 2.9l-0.3-2m-2.4-1.7l0.2 1.4m38.1 5l-0 0.7m-10.8 29.6l1-1.1m-1.8 2.9l-0.6 0.1m-0.8-7.4l-0-0.4m-2.7-4.4l-0.3 1.5m-3.1-4.6l-0.1-0.7m10.2-0.4l1.2 0.1m1.9 1.4l0.4 0.2m-5.4 0.4l2-0.7m-28.4-8l-0.1 0.3m35.7-3.5l-0.7 0m-1.5-7.7l-1.7 0.5m-1.1-1.7l1.8-0.6m1.8 0.4l0.3 0.9m8.5 21.8l-1.3 0.6m-17.5 6.2l0.4-0.3m-34-7.5l0.4-0.3m22.9-9l0 0.3m-2.9-1.9l0.8-0.8m5.8 1.6l-0.5 1.6m-2.8-1.3l1.5 1m0.8-0.2l-0.3-0.5m-3-0.8l-0.2 0.8m24.8-14.5l0.1-0.8m-47.2 23.9l1.1-1.4m-2.5 1.1l0 0.2m1.1-13.1l-0.2-0.1m15.8-10l1.1 1.2m20.7-2.5l1.7 0m-24.2 1l0.1 1m2.7-2l0.3 0m-11.9 18.7l0 0.5m0.7-5.1l-0.4 1.5m2.8 2.7l-0.3-1.3m37.7 15.6l0.3 1.6m-5.3-1.2l-0.2 0.5m4.1 2.6l1-1.3m-20.8-27l0.2 0.4m-21.3 9.9l-0.4-0.2m50.5 23.6l0 0m-22.2-26.1l-2 0.4m1.1 1l-0.1 0.3m-10.7-6.8l-0.8 0.1m-3.3-5.4l0.2-2.2m7.2 36l1.2-1.7m-11.3-24.7l0.5 0.8m-10.7 10.5l1.9-0.1m-0.8-5.9l-0.4 0.6m1.2-1.1l-0.6-1.9m34 7.9l-2 0.5m2.6-5.1l0.2 0.5m0.2 5.8l-0.2-1.3m-0.3-0.1l-0.9 0.5m-2.2 1l-0.8-1.1m11.1-4l0.3 0.2m-3.1 0.1l-0.8-1.3m3.8 3l-0.8-1.9m5.7 10.6l-0.8-0.8m-38.8-9.8l-0.7 0.5m-2-1.8l-1.3-1.4m4.1-1.6l-1.9 0.2m-2-2.2l-1-0.4m-0.5 0.1l0.1-1.4m2.2-0.6l0.3 1.3m0.8 3.6l0.1-0.8m35.7 24.1l0.4-0.4m-1.8-14.6l0 0.3m1-2.5l0.4 0.6m-43.2 0.2l1.5-0.8m44.6-0.2l1.6 0m-48.7 15l-0.6-0.1m-2.5 2.4l0 1m5.6-7.6l0.9 0.7m26.4-26.8l-1-1.8m-1.8 2.4l-0.1 0.9m18 16.8l-1.6 1m-10.9-21.9l-0.1 1.5m-0.8 3.3l0.1-0.4m21.1 18.1l0-1.1m0-0.1l0-2m-35.3 17.8l0.2 0.2m-3.5-2l-0 1.1m7.6-19.3l0.3-0.3m11.4 6.2l0.8-0.3m0.3 1.6l-1.3-1.2m0.4-5.4l-0.1-1.1m-26 17l0.1 0.6m30 1.4l-0.3-0.6m-0.8 0l-0.1-1.1m5.4 0.4l0.3 0.1m-19.5-3.1l-0.2-0.1m-25.1-35.2l-0.4 1.5m44.4 23.1l1 0.6m2.3-4.2l0.7-0.7m-40.7-10.8l-0.2-0m1.2 1.6l1.4 0.3m37.1-9.2l-0.4 0.5m1.4-0.6l-1.7-1m0.1 14.6l-0.9-1m1 0.1l0.8 0.1m-47.5-1.5l0-0.9m3.1 2.9l-1.4-1.6m-1.7 0.1l0-0.4m4.8 25.5l-0.5-0.3" stroke-width="1.3"/><path d="M129.9 456.1l0.2-0.5m40.1 2.9l-2 0.3m8.2-0.9l0.3-0.3m-3.8 0.6l0.3 0.2m-46.3-2.2l0.5-1.4m49.3-19.7l-0.6 0.2m-21.2 10l-0.4 0.1m19-17.1l-0.5-0.4m0.2 4.9l1.5-0.3m-12.9 31.3l0.1-0.5m-0.3 1.9l-1.4-0.3m-19.1-33.9l1-1m-1.3 1l-1.5-1m-1.9 2.9l-0.9 0.3m22.8 4.5l-0.3 0.2m0.3 0.4l-0.2 1.5m1.7-3l0.5 0.2m-10.1 30.6l0.8 0.4m-0.3 0l-0.5 0m-16.2-39.3l-1.6-0.6m28.2 35.3l1.9-0.9m-6.3-11.5l0.4-0.1m-27.6 1.2l-0.8-1.7m-0.1 1.9l0.1-1.1m31.4-2.3l1.4 1.4m8.5-9.3l1.4 0.6m-4.8-6.7l-0.2 0.1m-37 16l1.2 0.3m-1-0.4l0.4 0.1m45.6 3l-0.2 0.3m-11.7 5.8l1.8 0.2m-41.8-10.3l0 0.6m24.2-8.1l-1-0.7m2.6 0.1l2.2 0.1m-22.5 4.6l-0.2-0.2m6.1-0l0.4 1.8m-10.3-1.6l0.8-0.2m39.7-19.9l0.1 0.2m-31 18.5l1 0.4m-1.1-0.7l-0.5 1.6m38.1 17.4l1.1 1.6m-22.7-31l1.3 1.2m-1.2-1.8l-1.3-0.8m-20.4 14.2l0.4-0.7m49.3 20.7l0.7 0.7m-22.4-24.1l1.8-0.5m-15.4-5.4l1.3 0m2.2 0.2l-0.5-1.3m-4.8-7.5l-1.3-1.7m2.1 3.4l1.8 0.6m-3.7-5.2l0 0m2.4 0.6l-1.3 1.5m9.1 38l0.5-0.1m-14-26.3l-1.3 0m-0.3-0.3l0.1 1.4m-5.9 4.5l-0.5 1.4m-1.5 3.3l-0.2-1.8m1.6 0.3l-0.8-0.9m35.2 0.9l0.7-0.3m0 0.1l-0.3 0m4.9 18.3l-0.7 0.3m2.1-2.4l0.1-0.4m-2.3 3.2l-0.3 0.2m2.7 0l-1.5 0m-0.5-30.3l0.3 1.5m-15.1 27.6l0.5-0.1m-26.7-1l0.2-1.6m-0.7 2.2l1.3-0.1m-3-16.4l0 0.8m48.6 0.1l0.6-0.7m0 2.3l0.5 0.8m-3.1 0.9l-0.2 0.8m-1-1.4l-0.9-0.8m7.7 3.3l-0.4-0.7m-28.5-8.8l-0.3 0.2m20.3-19.2l-0.4 0.7m1.4 2.7l-0.1-0.2m-20.6 27.8l-0.1-0.2m1.5 6.8l-0.7 0.4m18.7-13.4l-0.3 0.6m7-3.1l-1.5-1m-3.8-18.1l-0.5-0.1m-0.1 12.4l0.4-0.4m-45.3-3.5l0.8-1.3m3.7 28.5l-1.9 0.4m1.7-1.9l-0.5 0.5" stroke-width="1.9"/></g>
<rect x="182.8" y="425.8" width="57.2" height="42.9" fill="#ecebf7"/>
<g stroke="#8a2ed4" stroke-linecap="round" fill="none" filter="url(#halo0)"><path d="M211.8 453.1l-1.6 1.1m3.4 3.3l1.5 1.1m-15.1-32.1l-0.5 0m-1.5 6.3l0.4 0m25.5-3l0.1-1.5m-5.6 9.8l-0.5-1.7m-27 1.9l-0.8 0.1m21.2-8l-0.8-0.2m-7.9-2l1.6-1.2m2 15.9l0.3-1.7m1.1 0.1l-0.9-0.6m24.2 0.7l-0.7 1.2m-4-5.1l0.3-0.2m-32.9 30.7l-1.7 0m3.8 0l1 0m0.5-0.4l-0.3-0.3m14.3-36l-0.7 0.1m-23.3 1.4l-0.1 0.7m-3.6-7l1 0m37.7 20.1l-0.2 0.2m0.2 0.8l0.2-0.8m-28-12.7l-0.7-1.4m31.7-5.8l-0.2 0.1m-5.9 22.3l-1.3 1.7m3.7-3.2l1.3-1.4m-16.6 0.9l0.2 2.1m-4.8-12.8l1.2 0.1m-0.2 1.5l0.8-1.4m-2.1 5.9l0.6-2m18.9-4.2l0.7-0.2m1.1 1.9l1.3-0.7m-4.7-3.8l-0.4-0.4m-19.4 31.4l0.9 1.3m10.5-11.4l-0.2 0.2m0.7 0.8l-0.1-0.2m2.7-13.8l0.2 0.4m5.1-8.9l0.5-0.1m-36.4 11.9l0-0.3m35.3-2l-0.4 0.8m-32.6 8.7l1-0.7m8.1-21.3l-0.6 0.6m36.1 17.8l1.7-1.2m-46.1-0.6l-1.2-0.5m13 17.6l0.6-1.3m31.8-25l1-0.3m-36.5 23.1l-1.4-1.4m24.8-5.7l0.8 0.9m-1.7 13.6l0.8 0.3m-0.4-0.2l-1.1-1.5m0 0.6l1-0.5m-0.8 1.6l0.9-1.4m-0.2-14.2l-0.3 1.7m0.9 0.3l1.3 0.7m15-18.6l0.8 0.4m-16.6-0.1l1.9 0.7m-2.1 4.6l1.5 0.7m8.6-9.1l0.6-0.7m0.1 11.3l-1.1 1.2m-33.8-11.5l-0.4 1.6m-7.7 32l-0.7-1m12.4-30.2l-0.1 0.3m14.6 17l0.3-0.1m22-8.6l0.2-0.8m-30.6-4.5l0.5-0.2m-1.4-3.6l-0.5 1.4m-0.1 1.1l0.3 0.1m5.6 11l0.8 0.8m20.4 12.5l0.1 1.6m-11.6-30.3l-0-0.5m0.6 2.7l-1.7 0.3m17 8.6l-0.3-1.3m3.5 2.8l1.6 1.4m-1.4 17l0.1 0.3m-1.7-13.1l-0.3 0.1m-12.2 10.5l2.1-0.5m8.6-35.1l0.4-0.3m-1.5-0.5l-0.9 0" stroke-width="0.9"/><path d="M184.7 461.3l1.1 1.5m-1.1-3.8l1 0.9m-1.5 0.7l-0-0.7m30.3-9.2l-0 0.4m-0.4 3l0.5-0.3m-16.9-26.5l0.5-0.2m-0.4-0.5l1.3-0.1m-1.7 2.2l-1.3 1m35.9 23.3l2-0m-2-0.8l0.9 0.1m-49 7.8l2-0.4m13.8-28l-1-0.4m19.3 7l-0.1-0.6m1.1 1.6l-0.2-0.7m2.7 0.5l-0.3-0.5m7.2 29.4l-0.1-0.9m-40.5-1.9l1.4-0.2m38.4-20.1l0.8-0.2m-1.9-1.2l0.5-0.8m6.4-2.6l-0.4 1.8m0.9-4.3l0.2 0.4m-15.6-4.1l-0.1-1m6.5 5.4l1.7 1m-1.2-2.2l0.1-0.5m-11.6-0.1l-1.4 1.6m0.6-6.5l0.2-0.2m-15.6 0.3l-0.9 1m-1.3-0.4l-0.9 0.2m-7.2-6l0.6 0m-1.2 0l-0.6 0m16.7 24.4l-0.3-1.4m1.6-0.3l0.3-0.5m15.9 0.7l0.6 0.8m0.9-3.1l0.1-1.2m-1.9-0.1l0.4-0.5m10.1-17.9l0.8-0.5m-27.5 20.8l-2 0.3m4.3 2.1l-0.1 0.6m4.5 15.6l0.4 1.3m0.8-1.5l-0.1 0.9m16-18.1l1.5 1.2m-27.4-12.6l1 0.6m-2.2 1.6l-1.8-1.2m2-8.2l0.6 1.3m-0.2 1l1.3-1.5m-4.9 15.6l1.5-0.9m-2 1.1l-1.9-0.9m6.3-2.7l1.1-1.4m0.2 3.9l0.5-0.6m22.7 16.4l-1.8 0.9m-24.6 0.6l-0.2-0.3m1.4 5.2l0.6 0m32-30.9l2 0.1m1.9 2.3l-0.2-0.6m-27.5 16.3l-0.7 1.4m-8.1-7.4l-0.9-1.3m2.4 3l-1.3-0.4m-13.8-4.7l-0.2 2.1m29-6.7l-1.7-0.3m2-1.2l1.5-1.1m0.2 23.7l2 0.6m-3.8 0.5l0.8 0.3m-0.8-30.8l0.2 0.1m-1.4-0.3l1.6 0.6m-33.1 11.1l0.7 1.3m1.1-2.2l0.8 0.3m-1.8-2.6l1.3 1m-2.1 2.3l0-0.3m31.3 2.2l-0.3-0.7m-31 6.7l0-1.1m0-1.4l0-1.3m13.7-19.7l1.2-0.3m34 21.4l-1.5 1.1m-18.4 12.4l-0.3 1m2 0.2l-0.8 1.9m-27.3-19.9l-2-0.2m44.6-11.9l-1.5-0.1m-38 30.1l-0.2 0.9m0.2-2.4l-0.5 1.1m-0.3-3.1l-1.2 0.5m28.1-5.6l-0.5 0.6m0.3-4.4l-0.1 1.8m3-1.4l-1.1 1.3m-1.5 13.4l-0.4 0.5m3.8 0.2l-0.1-0.3m0.6-19.4l0.2 1m-1.2 2.5l-0.4-0.3m16.6-14.4l0.2 0.9m0.5-0.5l1.1-1.8m-52.8 3l0 0.8m0-1.9l0-1.5m34.3 1.4l1.2-0.6m-2.5 4.4l-0.7-1.4m-3.4 7.3l0.4 0.6m-1.2-1.1l-0.9-0.2m1.9 2.3l0.3 0.4m-8.4-2l-0.7 1.9m-0.8-2l-0.3 1.6m16.4-10.7l-0.1-0.3m7.8 21.4l-0.4 0.6m1-24.4l1.2-1m2.6 0.1l0.2-0.3m-1 9.2l-1.3-1.8m2.1 5.6l0.8-1.9m-38.4-8.3l1.4 1.4m-1.5-4.3l-0.8 0.2m1.4 31.8l-1.1-1.5m-0.3 2.7l1.6 0.5m-8.1-1.4l0.5 0.1m9.1-8l-1.2-0.2m34.5-10.6l-0.8-0.1m-4.8-2.6l-0.2 0.1m-29-6.6l0.9 1.9m-4.2 9.5l1.4-0.7m24.8 12.7l0.8 1.8m-5.3-11l0.6 2.1m21.1-7.7l-1 0.1m2.2-0.8l-0.1-1.6m0.5 17.3l0.9 1.3m-3.6-1.8l0.4 1.7m2.8-3l-0.8-1.7m1.6 2.8l0.9-0.7m-28.8 1.3l-0.8 0m0.7 1l0.9-0.5m2-0.9l-0.5-1.2m-9.3-19.3l1.4-0.3m-0.1-1.2l-0.2-0.5m-1.6 2.3l0.3 0.8m-1.5-0.7l-1.5 0.5m2.7-2.9l1.6 1.5m7 11.7l-0.3 0.4m0.3 1.6l-0.7-0m18.6 9.2l-0.5 1.8m-1.2-5.3l-1-1.8m-29 1.8l-0.6 0.8m2.9-1.7l0.2-0.2m-2.1-2l1.9 0.6m19.2-22.4l0.3 0.4m0.3-1.5l0.8-1.3m15.8 12l-0.2-0.2m3.2 9.8l-0.7-1.3m-9.3 10.2l-1.4 0.1m-30.6-13.7l-0.2 1.2m1.1-3l2 0.5m-3.8 2.1l-0.9-0.6m2.8-0.4l-1.7 1.3m-6.6-10.9l-0.1-1.4m2.6 6.7l0 1m-0.5-2.6l2 0.5m-5.3 2.1l0-0.4m35.4-6.9l0.2-0.2m-13.1 29.1l-0.5-0.2m1.6 0.6l-1.4 0m0.2-0.5l1.8-0.6m-23.4-28.7l-0.7 0.6" stroke-width="1.3"/><path d="M185.3 461.7l-0.1 0.3m-0-2.5l-0.6 1.2m2.8 0.5l-1.8 0.6m-2 3.7l-0.1-1.4m28-8.7l-0.7-0.5m-1 4.4l-0.3-0.3m5.7-8.6l0.2-0.6m-17.6-22.8l0.2 0.3m-0.2 2.8l-1.4-0.8m30.5 21.6l0.8-0.7m-44.2 9.6l0.4-1m35.2-19.5l0.2 0.4m0.8 2.7l1-0.4m-36.7 23.8l0 1.6m26.3-36.6l-1.7 0.9m17.8 10.5l0.2 0.8m8.7-3l0.6 1.1m-17.8-4.6l0.1 0.2m-21.7 30.9l-1.5-1.4m13.2-36.4l-0.5 1.7m-9.6-2.4l-1.7 1.1m27.5 16.9l-0.2-1.2m-29.3-9l0.7-0.1m17.7 25.4l1.9-0.1m-15-31.8l-0-0.5m-2.8 15.7l-1.2-1.3m4-1.7l-0.1 1.2m27 17.5l1.2-1m-3-0.5l0.2 0.6m-1.5-25.5l-0.3 1.4m-14.1 14.6l0.3 0.8m-20-6.3l-0.2-0.5m1.2-0.2l-1 0.4m12.6 5.5l0.6-1.8m-15.5-4l-0.3 1.5m-0.3-5l1.5-1.2m-0.9 5l-0.3 0.6m31.4 15.3l1.1-1.9m-3.3-24.2l-0.6-1.7m-32 19.1l0.4 1.7m47.2-4.9l-1 0.7m-19.8 16.7l0.2 1.6m-9.3-5.8l0.4 0.1m-10.3 1.3l1.3-1.6m-3.6-3.6l1.5 0.4m24.6-6.6l0.9-0.6m2.6 0.4l1.8-1.2m-37.2-9.5l0.6-1.2m33.4-0.2l0.3-0.2m-6.8 8.7l-0.5-0.5m-6.8-0.5l1.4 1.2m-2.4-1.1l-1.1-1.7m19.1-5.2l1.1-0m2 18.7l1 0.3m-29.9-4.3l-0.2-0.5m-0.7-21.2l0.5 0.2m-2.9 33.9l0.1-0.3m-5.1 0.6l0.6 0m9.5-10.2l-0.9-1.3m-2.4 1.2l1 0.7m29.9-16.6l-0.4 1.7m-31.6-4l0.9-0.5m2-0.2l1.7-0.1m-6.9 10.4l0.3 2m27.4 12.8l1.2 1.7m-6.6-13.3l-0.9-0.4m-6.6-13l-1.8-0.4m-6.9 23l0.4-0.6m3.2-1.1l0.1 0.2m-0.6 0l0.5 0.4m-2.1 6.9l1.5 0.1m37.7-18.8l-0.3 1.8m-1.7-6.3l0.1 1.1m-9.3 16.4l-1.9 0.3m-26.8-12.6l-0.8-1.4m-6.9-5.6l-1.3 1.1m33.4-1.8l0.2-0.2m-36.1 2.3l-1-1.3m53.3-15.9l0.2 0m-5.9 0.1l1.3-0.1" stroke-width="1.9"/></g>
<rect x="242.6" y="425.8" width="57.2" height="42.9" fill="#ecebf7"/>
<g stroke="#8a2ed4" stroke-linecap="round" fill="none" filter="url(#halo0)"><path d="M297.3 432l0.4-1.8m-46.2-3.7l-0.7 0m41.3 5.3l0.6 0.4m-1.3-2.7l-0.4 1m-43.3 32.7l-0.9-0.6m45.4-11.4l-0.5-0.2m-9.7 0.2l-0.2 0.5m-6.3 3.2l-0.5 1.5m-3.8 11.6l-0 0m24.5-12.4l-0.2-0.2m2-6.9l1.2 1.1m0-2.7l-0.2 1.6m-3.3-2.2l-0.8-0.8m-29.4 19.1l1.1-0.5m-14.4-35.9l2 0.1m42.8 37.3l-0.6-2m-5.6-12.7l-0.1-1.6m-13.4-14.5l0.5-0.4m-4.2 0.6l0.9-0.6m14.5 10.3l-1.4-1.1m0-0.2l1.2 1.1m-34.3 3.8l1.3 1.4m13.9-14.1l-1-1.2m-6.6 11.5l-0.5 0.7m35.2-20.1l-1.6 1m4.1-1l-1.8 0m-27.1 7.1l-0-0.8m0.8 0.6l0.2-1.2m-1.3 4.9l-0.9-0.4m12 13.8l1.9-0.6m-17.6-4.7l-1.7-1m4.9 3l0.6 0.2m-10.1 11.2l-0.7 1.4m-1.7 0.1l0.8-1.4m5.9 2.1l2-0.8m2.5 6.6l1.4 1.4m10.3-9.8l0.4-0.1m12.4 3.3l0.1 1.3m-35-10.7l-1.4-0.8m19.3-10.6l-1.3 0.5m4.1-1.8l-0.3 0.4m1.6-3.9l0.3-1.2m1.4 26l0.3 0.5m-29.4-18.3l1.8-0m8.5-0.3l-1 1.9m17.1-12l0.2 0.4m-14.7 35.2l-1.2 0m-3.2 0l-0.7 0m20.9-23.5l-0.2-0.1m-6.9 6.7l-2-0.2m3.2 2.1l-0.9-1.6m10.7 8.7l0.4-1.3m-11.4 2.6l-0.6 0.3m2.2 2.9l0.6 0.6m20.9-32.3l-0.2-0.6m-1.5-0.3l0.7-0.2m-50.1 17.7l1.4 0.7m-1.6-2.3l-0.2 0.3m41.6-6.6l0-0.2m-4.3 4.8l0.8-1.8m-28.4 11.7l-0.1-1.2m-2.7 1l-1.3-0.2m1.4 2.7l0.8-0m24-20.9l-1.3-1m21.4 11.7l-0.1 0.4m-34.4 16.8l-0.9-0.7m-15.5-16.2l1.3-0.8m42-14.6l0.6-1.1m-40.3 32.1l-0.6 0.6m17.4-25.4l-0.5-1.1m0.1 4.2l-1.1-1.2m27.5 10.9l-0-0.7m3.7 0.6l0.4-1.1m-2.1 3.4l0.1 1.1m-12.2 11.3l-0.1-1m-28.5-7.5l-0.6-0.8m20.7 5.4l-1.7-0.1m5.2 0.8l-0.6 0.5m-21-32.8l-0.1 0.2m30.2 26.1l-1.2 1.6m8.3-29.6l-0.3-1.8m-14.9 12.8l1.1 0.8m1.1 2l0.4-0.4m-3.4-1.9l-1.2-0.3" stroke-width="0.9"/><path d="M294.7 430.6l1.6-1.1m-5 2.1l-1.2-1.2m8.8-0.3l-1.9 0.8m-2.5 2.6l0.6-1m0.2-2l0.4-0.3m1.9-0.5l1-1.1m-44.1 5.1l1.4-0.3m25.5 11.4l-1.8-0.8m-6.7 10.2l-0.9 0.6m-1.9-10.4l-0.4-0.2m-4.3-2.1l1.5 0.6m24.5-7.6l0.5-1.8m2.9 18.9l-1.9 0.8m-1.7-1.8l0.1 0.3m0.1 3.1l-0.7 0.9m-9.1-1.8l-0.3-0.1m-1.7-1.1l-0.5 1m1.8 2.7l0.4 0.7m0.4-6.4l-1.1 0.8m-5.4 3.2l0.9-1.2m0.1 4.8l-1.1 0.6m-3.1 9.3l-0.2 0m2.2 0l-0.6 0m22.4-14.2l1 1.5m-1.5-1.5l1.8 0.9m1-0.9l0.6-0.8m-1.4-2l0.2-0.2m-1.4-3l0.4 0.2m-38.8-13.8l2.1 0.6m-5-0.6l0.5 0.7m5.6 31.5l-0.3-0.2m5.7-1.5l-0.3 0.2m-12.7-37.2l0.1-0.7m43.5 34.7l0.5 0.7m1.7 5.6l0 0m-53.7-35.4l0.8 0.1m1-1l-1.2 1.9m42.4 21.4l-1.3-1.5m-3.3 1.3l0.5 0.4m-1.4-18.6l-0.3 0.4m-4.7-1.5l-1.1 1.4m5.3-1.7l-0.4-0.2m-1.7-0.8l-0.9-0.3m-2.6-3.9l-0.9-0.4m0.7 0.8l1.9 0.7m1.9 2.9l1.9 0.6m5.3 28.2l1.1-0.4m-33.4-17.2l1.3-1.1m1 0.5l0.4-1m-11.1 10.3l-1 0.3m0.6-1l0 0.2m-2.9 0l0.6-0.7m5.5-2.6l0.8-0.6m-3.1 3.8l0.6 0.8m13.4-8.2l0.5-2.1m34.6-17.3l-0.4 0m2.6 0l0.6 0m-30.9 7.5l0.5 0.1m-4.5 8.4l-0.8-0.3m1 2.7l-1.8-0.9m3.1 1.4l-1.9-0.1m15.6 8.8l-0.2 1.2m0.1 0.9l0.7 0.4m-22.9 4.1l-1.8 0.4m31.3-3.1l0.4 1.3m0.5 0.6l0.6 0.3m0.4 1.2l-0.8-0.8m-2.7-5l1 0.1m-21.6 7.2l0.1-2.1m2 6.2l-0.7-0.3m13.3-12.7l-0.8 0.9m1.8 5.5l0.1-1.1m11-10.1l-1.6 0.6m-33.6 2.4l0.3-0.9m19.2-11.5l-1.7-0.3m9.9 17.8l-1.8 0.1m3 0.4l0.2-0.3m-36.2-14.1l1.6 0.3m-2.9 1.4l-1 0.2m-3.1-3l2 0.6m19.3-1.1l0.3 0.1m14.4-10.5l-1.7-0.7m-17.5 37.3l0.2 0m23.5-25.8l1.2-1m-11.8 10.3l0.9-1.5m-1-0.2l-1 0.6m-1.3 0.5l1.4 0.4m-11 7.8l0.1-0.7m2.2-1.1l0.7 0.5m19.2 2.1l1.1-0.9m-0.5 2l-1.1-0.7m1.9-0.4l-0-0.6m12.2-31.7l1.2-1.1m-51.6 20.1l-0.4-0.3m10-16.4l0.9 0.2m25.3 14.2l-0.1 1.1m-29.9 11.8l2.1-0.1m-4.2-0.6l-0.5 0.9m3.4 0.4l1.3-0.6m22.9-19.3l1.4 1.6m1.2-1l1.2 0.2m14.9 9.7l-0.1 0.5m-2.6-3.4l-1.5-0.1m-31 22l1-0.9m0.7 1.3l-0.5 0.2m-17.9-18.3l0.5-1m-1 2l-0.5-2m17.6 12.3l0.7-1.2m-3.3-1l-0.3 0m32.1-28.9l-0.1 0.3m1.9-2l0.6-0.8m-2.8 6.9l0.8 0.2m-42.2 29.3l-0.7-0.6m0.4 0.3l-0.6 1.2m17.6-28.3l-0.2 1m27 15.3l0.2 0.6m-8.7 11.2l-0 0.6m-4.3 1.9l0.8 1m0.5-0.9l-0.4-1.2m-3.4-2.7l-0.7 0.4m-21.9-8.2l0.7-0.8m17.9 9l1 0.3m1.8-1.6l0.6-0.8m-16.8-8.5l-0.1-0.3m-4.9-0.5l1 1.3m1.7-21.8l0.9-1m-1.6 1.8l1-0.8m27.9-1.5l0.8-1.2m0.2 0.8l-0-0.6m-2.8-2.7l-1.5 0m0.3 6.1l0.8 1.4m-11.1 25.2l1.5 0.1m9.6-0.6l-0.1-0.7m7.2-29.4l-1.9 1m3.3-2.8l1.9 0m-31.1 2.7l-1.1-1.3m-2.3 2.3l-0.2 0.8m-10.1 4.6l-0.9 0.8m31.1 4.5l0.2-0.1" stroke-width="1.3"/><path d="M251 449.4l-0.2-0.1m45.7-13.4l0.8 0.2m-2.3-6.7l-1.7 1.3m-40.2-1.7l1.2-0.4m32.1 17.6l-1.2-0.7m-15.9-1.9l0.3-1.1m23.8-11.1l0.2 0.8m-2.1 0.5l0.5-0.4m-43.7 31.8l-1.1-0.2m49-10l-0.6-1.8m-4.2-0.4l0.4-0.6m2.5-1.1l-0.4-0.9m3.3 6.3l0.8 1.2m1.1-10.3l-2 0.4m-41.3-12.9l-1.7-0.8m39.6 24.3l-1.1 0.2m1.7 6l-2 0m-12.1-29.2l0.6 0.7m3.1 27.2l1 0.9m-25.5-15.5l-0.9-0.6m-11.1 8.1l-0.7 2m15-12.4l0.7 0.2m1.1 2.6l1.3-1.1m6-10l1.4 1.3m-7.1 6.6l-2-0.8m1.6 20.6l1.2 0.6m11.9-6.7l0.8 0.7m10.8-10.2l1.8-0.6m-3.4 0.1l-1.7-0.9m6.1 16.3l-0-1.6m-16-23l-0.6 1.8m1-3.1l0.6 0.8m-14.5 3.3l0.5-0.3m1.1 0l-0.3-0.3m5 0.3l0.3-0.1m-8.6 24.5l-0.2-2m-3.3 4.3l-1.4 0m2.6 0l-1.1-0.4m1.5 0.4l-1.5 0m14.8-15.9l0.4 1.1m1 8.9l1.6 0m18.2-31.4l1.1-0.2m-1.9 0.3l0.3-1.4m-47.9 18.9l0.9-0.4m10.3-17.6l-0.9-1.8m-0.6 0.7l0.8-0.7m27.1 17.3l-1.2-1.6m-0.5-0.8l0.6 0m-28.9 16.7l-1.1-1.3m27.3-20.7l-0.5-0.3m-17.4 29.4l-0.9-0.4m-1.5-9.4l-0.4 1m28.5-31.6l0.7 0.1m-21.3 8.5l0.6-0.3m15.2 31l-1.8 0.8m2.1 0.6l-1.2 0.5m-9.9-4.3l-0.3 1.4m2.4-0.3l-0.8 0.4m0.6-3.8l0.5-0.7m2.1-0.1l-2 0.4m2.1-0.8l0.3 0.7m8.3-2.2l0.3-0.9m5.4-31.3l0.6 0m2.6 3.3l1.3 0.9m-45.5 5.3l1.3 0.1m-3.5-1.4l1.5 0.6m2.7-2.7l-0.2 0.8m6.2 14.2l-0.3 0.1m1.8-0.2l-0.3-0.1" stroke-width="1.9"/></g>
<rect x="302" y="425.8" width="57.2" height="42.9" fill="#ecebf7"/>
<g stroke="#8a2ed4" stroke-linecap="round" fill="none" filter="url(#halo0)"><path d="M329.3 450.5l0.7-0.5m9.6-13.1l0.2-0.7m9.7 13.9l-0.4-1.8m5.1-20.6l-1.6 0.1m-19.8 30.2l0.1 1.6m18.8 0.2l-0.3 2.2m-3.3-3.4l0.4-0.1m7.8-7.1l-0.9-1.1m-32.9-7.1l2-0.7m8.2-7.8l-0.4-0.1m-1.4-4l-0.3-0.1m13.8 6.3l0.5-1.8m-11.7 20.7l-1.3 0.9m0.5-1.2l-0.9 0.9m2-2l0.3-0.1m3.3 5.5l0.1 0.4m-0.7-16.9l0 0.3m6 16.5l-1.5 1.5m-18.7-7.6l0.9-1.4m35 13.6l0.3-0.4m-23.7-3.1l-0.2 0.7m-12.5-25.4l2.2 0.1m3.4 19.6l1.3 0.4m-20.9-3.1l-0.8-0.1m0.4-0.3l1.3-0m10-9.1l-0.4 1.2m-3.7 17.7l0.4 1.9m3.1-39.4l0.3 0.6m21.1 28.3l-0.3-0.2m-2.5-2.3l0.2-0.2m18.5-16.8l1.3-1m-2.7-0.5l-0.6-0.8m1.1 4l0.1 2.2m-39.9-6.5l0.1 1.9m37.8 18.8l0.2 0.3m-18.1 12.1l-0 0.8m15.2-19.9l-0.1 0.7m5.1 8.7l-1-0.5m2-3.3l-1 1.5m2.1-2.9l-1-0.1m-52-2.5l0.5-0.5m31.3 10.2l0.1 0.3m-0.5-0.2l0.3 0.3m-16.2-1.9l0.7-0.7m24.2-22.8l0.1-1.7m-20.4 8.7l-0.2-1.8m-8.1 1.7l-1.2-0m-0.7 1.3l-1.1 0.9" stroke-width="0.9"/><path d="M302.7 461.3l0-0m0.3-3.9l-0.3-0.3m39.1-2.4l0.8-1.1m-16.7-8.2l1.4-1m0.6 2.1l-0.9 1.4m-0.8-0.6l0.4-1.2m14-7.2l-0.1 0.3m-32.3 15.5l0.7 1.2m35.9-21.2l-1 1.1m9.3 16.4l0.2 0.5m-31.9-11.1l1.2-0.4m-4.1-0.1l0.3 0.2m14.3-4.2l1.6-1.2m7.6 0.6l-1-1.5m7 1.2l0.1-0.6m-0 19l-0.6 0.2m-12.9-12.6l-1.5 1.1m2.5-0.4l-1.4 0.1m8.8 17.4l-1.1-1.6m-0.1 1.4l1.5 0.1m-27.3 3.8l-0.8 1m42.9-12.7l0.1 0.7m-45.7-2.5l0.7 0.8m7.9-0.7l-0.7-0.8m18.7-22.8l0.3-0.6m2.7 0.3l-0-0.3m-5.2 35.2l-0.7-2m-11.5-24.8l-1.3 0.3m5 20.6l-0.2-1.7m21.8-19l-0.8-1.5m-30.8-6.5l-0.8 1.7m20.9 13.5l-0.6 0.9m2.8 1.5l-0.9-1m2.2-2.8l1.9 0.2m-5.2 11.2l1.5 0.2m-26.4 12.1l0.3-1.1m36.4 0.6l-0.7 1.4m-11.2-6.1l0.6-0.4m-29.2-25.6l0.4-1.3m41.3 24.9l-0.1 1m-12.8 9.7l-0.8 0.3m-1.5-1.2l1 1.2m9.9-31.8l0.4-1.3m9.6 4.1l-0.6 1m-0.5 1.8l-0.8-1.5m-2.1 5.2l0.2 0.5m1.1 5.3l-0.2 0.6m-21.7 7.7l0.2-0.5m12.1-26.9l1.2 0.3m-41.7 20.3l-1.3 0.3m49.9 5l-0.5-0.4m-3.2 10l1 0.3m-5.8 0l0.2 0m-10.9-30.3l-1.2-0.8m19.2 9.5l-0.3 0.9m1.4-1l-2.1 0.6m-8.4-19.5l0.5 0.6m0.1-1.4l0.6-0.1" stroke-width="1.3"/><path d="M303.8 458.5l1.1 1.4m40.6 5.4l-0.3-0.2m-38.2-12.1l-0.5-0m1.4 2.5l-0.3 0.1m47.8-27.4l-0.1-0.2m-0.7-1.5l-0.7 0m3.6 23.7l0.3 0.3m-25.3-13.2l0.1-0.7m-3.9 18l1.9 1m-1.8-1.3l-1 0.3m19.2-22.7l1.9 0.1m2.8-0.6l-1.7 1m-43.9-3.2l-0.9 0.2m4 23.6l-0.8 0.3m8.3 10.4l0.7 0.5m41.1-11.3l0-0.6m-36.6-6.2l0.3 0.9m10.8-15.9l-1.3-0.3m23.9 9l-0.7-0.7m-1.7 25.1l-0 0.3m-13.6-4.1l-0.5-0.5m6.7-21.2l0.8 1.7m-0.4-1.3l0.8-1.9m-33.5-5.1l-1 0.3m0.2-2.1l-0.4 0.4m41.2 28.6l-1.3-0.5m-2.2 0.1l-1.1 0.7m-44.4-12.4l0.8 0.1m51.1-4l-2.2 0.4m2.5 11.6l-1.8-0.6m-50.8-7.6l1-0.4m19.6-5.8l1.9 0.8m8.5-4.4l-0.2-0.7m7.9 23.2l1.1-0.2m-3.9 2.1l0.1-0.7" stroke-width="1.9"/></g>
<rect x="64.1" y="471.6" width="57.2" height="42.9" fill="#e7e2dc"/>
<g stroke="#a238b2" stroke-linecap="round" fill="none" filter="url(#halo1)"><path d="M89.1 497.4l-0.9-1m-6.1-10.4l0.7 0.3m-1.9-2.7l-1 0m-12.6 7.5l-0.2 0m1.8-0.6l-0.4 0.1m-1.7 3.8l-0.5-1.2m-0.7-8.3l0.5-0.3m0.4-7.6l1.3-0.3m30.8 11.6l-1.3 0.4m7 15.9l-1.1-0.2m-3 5.1l0.5-0.9m7.4-13.7l-0.2 0.1m-0.2 2.5l-0.1 1.1m-26.3 7.2l-0 0.5m18.4 7.5l0.8 0m0.7-2.1l-0.5 0.2m17.4-12.6l0.1-0.4m-49.3 3.4l0.5 0.1m-2.7 1.5l-0.7 1.2m4.9-2.5l-0.2-0m-2.6-0.8l-0.1 0.3m22.4-25.5l0.6 1.1m7.2 11.9l1.2 0m-32 19.4l0.3-1.1m48.7-5.4l0.4 0.9m-26.2-31.1l0.2 0m28.8 3.7l0.5 0.7m-1.4 0.8l0.4 0.1m-35 23.5l0.7-0.6m0-4.3l1.3-0.3m-12.5 14.7l-0.9 0.7m29-2.4l1 0.2m-0.1-1.1l-1.1 0.7m-35.2 3.6l0-0.6m13.1-22.3l-0.8-0.3m-8.2-0.6l1.1 0.6m-5.3-1.9l0 0.2m0.9-0.3l-0.5-0.4m14.2-3.4l0.6 0.6" stroke-width="1.0"/><path d="M87.1 479.4l0.1 0.3m-0.5 0.4l-0.3 0.1m29.2 7.9l0.8 0.2m-29.5 9.3l0.6 0.5m2.4 1.3l0.2 0.8m-6.3-14.3l0 0.7m-4.3-1.4l0.9-0.1m1.2-1l0.1-0.8m-12 10.6l-0.2 0.4m-0.8-4.5l-0.1 0.2m50.1-12.3l0.2-0.2m-52.1 13.6l-0.5 0.7m0.6-0.7l0.7-0.1m-1.4-2.8l-1.1-0.1m1.1-10.7l0.6 0.8m32 9l0.8 0.4m12.3 8.8l0.3-0.1m-2.6-0.1l0.2 0.4m-5.3 9.1l0.1-0.4m-31.1-14.9l1.1 0.5m-1.3-2.5l0.2 0.1m-5.7 7.1l0.5-0.3m1 0l0.5-0.9m29.7 16.4l-1.1 0.6m-1-3.2l-1.1 0.4m13.3-11.2l0-0.5m-1.8-5.2l-0.3 1m-33.8-15.4l-0.8-0.4m-0.4 0.2l1-0.4m10.1 28.3l-0.5-0.7m3.3 0.2l-0.3 1.1m-5.7-23.1l0.5 0.2m19.5 29l0.1-0.3m-1.6-1l0-1.3m18.5-10.3l0.6 0.9m0.6-1.2l0.8-0.1m-37.9 1.2l-0.8 1.1m-0.7-1.1l-0.5-0.8m18.7-8l0.6-0.7m0.1-0.3l-1.1 0.6m-31.2 17.4l-0.1-0.9m-0.8-0.4l-0.7-0.1m1.3 1.4l1.3-0.2m-0.2-22.7l0.2-0.7m2.8 1.9l0.8-0.9m-3.6-2.4l-0.9-0.4m0.8 3.6l-0.6 0.5m16.4-14.1l-0.2 0.2m34.8 4.3l0.5-0.8m-43.7 37.7l-0.2-0.1m-1.3 0.1l0.7 0m-3.4-19.2l-0.4 0.1m-1-0l-0.6 1m2.4-1l-0.6-0.9m-0.8 0.2l-0.8-0.9m29.3-9.9l0.8-0.5m-13 14.3l-0.9 0.7m-12.2 10.6l-0.4-1.2m30.7 4.2l-0.3 0m-37.9 1.2l0-0.3m19.3-15.7l0.3-0.3m0.1-0.2l-0.6-0.7m0.7-2l0.9-1m-3.2 2.6l0.9 0.4m-2.6 6.1l-0.5-0.8m0.5-2.7l0.3-0.8m-0.7-9.6l-0.3 1m-2.7 2.7l0.4 0.2m3.3-1.5l0.5-1m-1.3 13.3l-1.1-0.8m23.8 11.7l0.6-1.1m0.8 1.8l-0.9 0m-1.8 0l-0.7 0m4.5-2.1l0.7-0.2m-38.6-24.1l0.8-0.7m10.4-4.2l-1 0.4" stroke-width="1.5"/><path d="M87.5 478.8l0.2-0m29.5 10.8l-0.4-0.1m-27.9 7.7l0.9 1m-25-8.4l0.1 0.2m3.3-2.3l0.6-0.4m0.2 1.7l-0.3 0.7m-0.9-11.2l-1.3-0m29.3 6.7l-0.2-1.4m15.3 12.3l-0.1 0.3m0.5 1.4l-0.2-0.5m-2-0.8l0.4-0.4m3.9-2.2l-0.1 1.2m-42.6-5.8l0.8-0.4m-2.7 8.7l-0.7 0.1m5.2-19.1l-0.4 1m0.9-4l0.8 0.9m9.7 27.7l0.3-0.9m-1.1 0.9l-0.4-0.9m12.7 5.3l-0.8-0.4m0.7 2.5l0.4 0.5m-16-27.7l0.4-0.3m39.8 18.9l0.3-1m-52.6 0.9l0.1 0.1m47.8 0.6l-0.3-0.7m-23.1-28.8l-1 0.7m2.9-0.8l-0.2-0.3m-19.4 38.8l-0.2-0m-5.2-18.2l0.8 1.1m-0.6 1.5l-0.3-0.4m15.7 2.1l1-0.6m-0.7 2.2l0.2-0.5m-12.9 15l-0.4-0.7m29.6-4l-0.1-0.7m-23.2-4.8l-1-0.5m30 10.5l-0.4-0.1m-3.5 0.3l-0.2 0" stroke-width="2.2"/></g>
<rect x="123.5" y="471.6" width="57.2" height="42.9" fill="#e7e2dc"/>
<g stroke="#a238b2" stroke-linecap="round" fill="none" filter="url(#halo1)"><path d="M173.6 477.4l-0.7-0.4m3.4-0.8l-0.2 0.1m-30.6 14.8l0.5-0.8m15.8 12.2l-0.6-0.3m1.9 1.2l0.1-0.7m-32.7-19l0.6-0.7m-0.3-2.7l0.3 0.1m0.1 0.4l0.6-0m20.8-5.4l-0.5 1.1m-0.5-0.9l0.6-0.1m-4.3 12.5l-0.8 0.1m3.3 23.4l-0 0.5m-23.2-27.9l-0.4-0.5m1.1 13.3l-1.3-0.2m17.6 10.8l-1.1-0.6m0 1.8l-0.9 0.5m16.2-9.7l0.5-0.7m0.7 6.4l-0.1 0.8m0.4-0.9l-0.1-0.7m20.2 4.2l0 0.3m-46.3-5l0.2-0.8m-9.7 4.9l0-1m40.5-3l0.6 0.8m1.3-0.5l0.3-1.3m0.5 1.8l0.1-0.7m-32.2-9.9l-0.2 0.4m43 7l0-0.7m-52.5-20l0.8 1.1m42.9 5.1l0-0.6m-1.7 0.2l-0.2-0.8m12.6-8.1l0-0" stroke-width="1.0"/><path d="M177.3 497.2l0.1 0.2m-2.9-20.2l-0.6-0.5m-26.9 16l-0.5 0.1m-1.7-0.9l-0.5 0.7m17.8 9.3l-0.8-0.6m-0.5 1.5l0.8 0.9m-10.9-14.8l0.7-1m2.3 0.4l-0.3 0.3m-1.7 24.2l0.2 0.6m-3 0.4l0 0m2 0l0 0m1.5-41l0.1 0.3m-1.6 1.6l-0.3 0.2m9.3 19.8l0.1-1.1m-3.5 1.1l0.3-1.2m-27.1-0.1l-0.8-1.1m16.9 18.3l0.2 0.6m-4.9-0.6l-0.1 0.5m-0.5-1.5l-0.5-0.2m4.6-18.7l0.4-0.1m-1-1.5l-1.1-0.5m15.4 13.4l-0.2 1.3m-1.5-3.5l-0.3-1m7.5 9l-0.4 0.3m-4.5-1.8l-0.6-0.3m3 1.6l0.2-1m-32-3.2l-1 0.4m21.8-12.7l-0.8 1.1m0.3-0.3l1.1 0m16.3-18.2l-0.3 0.6m2.7 6.3l0.4-0.9m2.2-3.8l-0.6 0m-30 6l-1.3 0.3m0.4 23.2l0.3 0.5m35.3-32l-0.1 0.2m-48.8 12.9l-0.6-0.3m5.4 19.3l0.6-0.3m-1.5-11.1l0.2 1m-2.8-2.2l1.2 0.3m36.8-9.1l-0.1 0.5m-5.3 25.5l-0 0.2m-26.3-15.3l-1 0.5m-9.3 9.8l-0.1-0.5m52.5 5.8l1.2 0.1m-10.4-8.3l-0.6-0.3m-29.8-7.5l-0.9 0m39.4 5.3l0.3-0.3m0.5 0.6l-0.6-0.4m-17.8 6.2l-0.9 1m-1.2-0.4l0.5-0.6m-32.6-25.3l0-1m1.2 0.2l0.7-0.7m43.6 7.6l0.4 0.6m-39.2 10.2l-1.1 0.3m0.6-1.4l0.3 0.4m0.6 2.1l0.3 0.1m2 3.6l-1.4-0" stroke-width="1.5"/><path d="M171.8 479.7l0.8 0.4m-41.9 1l-0.2-1.1m-0.9 4l0.5 1m-2.3 1.1l-0.8 0.3m3.7-1l-0.1-0.2m22.4-10l0.4-0.2m-4.4 2.3l0.7-0.2m9.4 19.5l0.3-0.2m-0.3 2.1l-1.2-0.2m-0.1-5.3l0.2 0.3m1.8 2.2l-0.5-0.1m-17.7 15.9l0.5 0.3m1.2-19.5l1.3-0.4m7.2-8.2l-0-0.3m8.8 23l-0.3 0.3m-11.7-15.4l-0.2 0m20.2-15.2l-0.6-0.3m-26 31.2l0.1 0.3m-0.9-1.2l-0.3 0.6m36.9 3l-0.1 0.6m-27.3-18.8l0.4 0.5m24.7-18l0.9-1m-0.8 3.2l-0.4 0.1m-48.7 10.6l0.6 1.1m5.1 17l0.2 0.3m-0.5-10.7l-0.1 0.7m-1.4-1.4l-0 0.2m35.8-7.3l0.1-1.1m-28.3 11.3l-0.1 0.6m39 16.4l0.8 0m-0.6-5.6l1.2-0.2m-14.1-27.4l-1.2 0.5m13.7 13.4l0.5 0.2m-10.2 9.8l0 1.1m-30.8-19.1l-1 0.1m-1.6 17.8l-0.3-0.5" stroke-width="2.2"/></g>
<rect x="182.8" y="471.6" width="57.2" height="42.9" fill="#e7e2dc"/>
<g stroke="#a238b2" stroke-linecap="round" fill="none" filter="url(#halo1)"><path d="M221.3 512.4l-0.2-0.4m-0.7-1.1l0.9-0.3m4-0.2l-0-0.5m-3.2-2l-0.2 0.2m0.9 0.5l-0.3 0.1m-24.7-0.3l-0.2 1.2m38.9-24l-0.5-0.2m1.4 0.4l0.1-0.4m-41.1 5.9l-0.4 0.2m0.2 0l0.3 0.1m5.6 10.4l-0.2-1.2m2.3 3l-0.3-0.6m1.1 2.3l-0.5-0.9m28.5 9.2l-0.4 0m-39.8-13.2l0.1 1.1m0.9-0.3l-0.1-0.5m-1.2 0.5l-1.1-0.6m23-14.6l0.1 0.5m1.7-3.3l0.9-0.2m15.3 9.4l1.1 0.8m-34.6 7.7l0 0.7m-0.2-2.2l-0 0.5m3.4 0l0.3-0.2m6.3-27.6l-0.7 0m2.7 0.8l0.1 0.3m-2.3-1.1l-0.9 0m1.9 0l-0.9 0m-25.1 8l0 1m21.9 23.3l0.3-1.2m-0.5 2.1l0.4 0.7m-1.8 0.6l0.4-0.3m-14.3-22.3l-0.6 0.6m49.3 29l0 0m0.7-0.2l0-0.6m-15-31l0.4-1.1m-2.6-5.7l0.5-0.2m-2.9 0.1l-0.1 0.3m0.9-1.4l-0.7 0.2m19.1 9.6l0.4 0.5m-7.9 21.2l0.1-0.6m-17.7-12.3l0.1-1.3m13.6 4.4l0.2-0.6m-26.3-13.6l0.9 0.9m4.3 18.3l0.5 0.4m0.5 0.9l-0.5-0.2m-20.4-1.2l0.1-1m24.6 1.4l0.6-0.2m-0.8 1.8l0.6 0.3m16.1-23.1l0.3-0.8m-4.4-5.2l-1.1 0.7m9.5 2.1l0 0.9m-34.8 0.3l-0.1 0.2m3 5.8l0.7-0.3m-9.5 4.9l-0.9-0.4m2-1.1l-0.9-0.5m1.1-1.1l-0.2 1.1m26.4 17.9l0.3-0.3m6.3 1.3l-0.5-0.8m13.6-7.8l-1.1 0.2m-51.7 6.8l-0.5-0.2m15.9-12.3l-0.6-0.9m26.7 16l-0.7 0.2m-2-3.6l-0.2 0.4m-34.5-31l-1.1 0.2m26.1 21.3l-0.9-0.1m-3.6 1.9l-0.9-0.3" stroke-width="1.0"/><path d="M220.4 506.2l-0.7-0.7m0.8 3.2l1.1-0.4m-24.4-1.6l0.2 0.3m-1.5 0.8l1 0.2m14.8-31.6l0.3-0.6m1.6-1.8l0.3-0.5m21.7 12.2l-0.7-0.2m-29-5.5l-0.8-0.3m2.6-1.9l0.8-0.9m-5.1 28.3l0 0.4m-16.6-23.5l0.2-0.5m-3.5 2.5l0-0.6m2.6-0.3l0.6 0.3m12.2 23.9l-0.1-0.6m2.7 5.8l-0.1 0.3m-3.1-6.5l0.6 0.2m0.9 0.8l0.4 0.1m19.1-2.1l-0.4 0.2m-3.5-20.6l-0.2-0.5m12.6-9l0.8 0.5m0.8 1l-1 0.7m-17.7 12.7l0.2-0.5m-2.2 0.2l0.9-1m-2.2 3.6l-1-0.1m24.4-3.3l0.8-0.2m-24.1-16.8l-0 0m0.7 0l-0.2 0m-22.8 6.5l0.7-0.2m-2.4 0.9l0-0.4m20.7 26.2l-0.3 1.2m0.6 1.2l0.5 1.2m19.5-26.7l0.6 0.4m3.5 0.7l-0.4 0.5m-14.3 10.1l-0.5 0m-1 1.3l-0.6 0.2m8.5-18.2l-0.2 1.1m6.2-6l-1 0m-10.8 31.5l0.8-0.9m15.8 6.5l0.3 0.3m-14.4-13.4l-0.1-0.4m-15.5 17.9l1 0m-1.2-33.1l-0.5 1.1m-0.2 0.1l1.2-0.1m27.2 22.2l0.8 0.8m-4.1-28.5l-1.1-0.6m0.4-1.7l0.1-1.1m9.3 3.2l-0.7-0.2m-11.2 21.9l-0.5 0.2m-25.2-20.1l0.2-0.9m18 32.1l-0.6 0.2m-22.9-22.8l1.2-0m-0.4 3.4l-0.2 0.3m29 14.3l-0.3 0m-1.7-0.7l-0.4 0.6m0-0.8l0.4-0.6m3.6 1.4l-0.7 0.9m-26.8-0.1l0.2 0.2m-0.2 0l-0.8-0.4m0.3-0.9l0.3 0.3m41.7-6.3l0-0.6m0.4-0.6l0.1 0.6m-48.9 4.8l0.4 0.8m-0.8-0.7l-0.1-0.3m39.2 4l0.4-0.5m-36.3-31.8l0.5 1m0.6-0.3l1 1m19.7 19.1l-0.7 0.8" stroke-width="1.5"/><path d="M222.9 509.5l0.6-0.4m0.7 2.1l-0.4-0.8m-26.8-28.8l0.4 0m1.8 3.2l-0.6-0.2m-1.8 24.3l0.6 0.1m-2.9 2l0.5-0.6m15.5-35.4l-0.5 0.3m1.7 1.1l-0.2-1.1m27.8 9.4l0-0.3m-29.9 10l1.1-0.9m-5.5 11.9l0.5-0.9m-21.9-21l0.4 0.5m9.7 14.5l1.2 0.3m15.6-9.4l-0.9-0.4m21.3 0.8l1-0.2m-32.5 11.1l-1.2 0m8.5-28.4l-0.4 0.6m-22 7.8l-0.4-0m-0.4-2l0-0.8m8.1 4.4l0.1 0.4m1.8-0.9l0.6 0.4m-2.6 1.9l-0.6 0.4m26.4 10.7l-0.8-0.4m-14.7 17.7l0.7-0.2m23.3-17.5l-1-0.4m3.9-0l-0.7-0.6m-26.6-15.4l-0.9 0.2m4.5 19.5l-0.8-0.6m20.6-22.5l-0.5-0.1m0.7 23.6l-1.1-0.4m-29-20l1.2-0.7m-0.1 0.3l-0.2-0.1m20.8 29.7l-0.2 0.1m-1.2-0.1l1-0.8m-18.9-19.8l-0.4-0.4m1.7-1.2l-0.9-0.5m-6.8 1.9l0.2 0.1m-5.2 19.2l0.3-0.5m-0.7-0.4l-0.8 0.2m15.3-12.1l0.8-0m2.4-2.4l-0.8 0.6m-0.1-2.1l0.2-0.8" stroke-width="2.2"/></g>
<rect x="242.6" y="471.6" width="57.2" height="42.9" fill="#e7e2dc"/>
<g stroke="#a238b2" stroke-linecap="round" fill="none" filter="url(#halo1)"><path d="M273.5 495.4l-1.2 0.1m4.8 6.8l0.1-0.2m-32 11.7l-0.1 0m-1.8-3.9l-0 0.2m5.9-21.5l0.4-0.3m3.8-1.7l-0.2 0.2m-7.7 23.1l0.1-0.2m15.9 3.8l0.1 0.3m2.5-1.1l1-0.1m34 0l0-1.2m0-0.1l0 1m-37.3-38.4l-0.3-0.7m-2.1 1.5l-0.4 0.1m-10.1 17.3l0.1 0.4m6.4 16.5l0.5-0.7m-1.6 1.9l-0.3-0.9m-9.2-12.3l0.5-0.3m33.5-5.5l-0.6 0.6m-25.3-3.5l-0.2 1m6.5 4.5l0.1 0.7m-4.3 3.1l-1 0.5m35.3-1.2l0.6 0.6m-25.2-3.4l-0.6-0.6m20.1-6.8l-0.5 1.1m0.5-1.8l0.1-0.2m14.8 26.9l0 0.3m-27.5-37.9l-0.3-0.9m16.5 23.5l-0.2-0.8m-22.6 8.5l-0.1 0.9m0.1-0.5l0.5 0.1m-0.5-0.4l-1.4-0.4m4.3-15.5l-0.6 0.1m2.1 1.4l-1.1 0.7m-21.3 18.8l0.4-0.9m16.7-13.1l0.6 0m-1.2-1.1l1.1 0.6m0.3 1.7l0.4-0.8m-0.3 0.5l0.8-0.1" stroke-width="1.0"/><path d="M298.5 505.3l0.6-0.7m-2-0.1l-0 1m-52.6-0.7l-0.3 0m54.9 2.6l0 0.8m-21.5-5.5l-0.3 1.2m11.7 2.6l-0.3 0.7m6.9-18.6l0.5 1.1m-49.7 22.9l0.4 0.6m3.8-26l0.5-0m-2.2 22.7l1-0m-2.5 2.5l0.9 0.3m0.2-5.2l0.4-0.7m23.8-11.8l-0.2 0.1m-26.3 10.4l0.3-0.3m-0.2-1.7l-0.2-0.2m48.9-18.8l0.1-0.7m-0.4 2.8l-0.7-0.3m-39.1 1.4l-0.2 1.4m43.3 21.2l-0.3 0.6m-52.1-21.7l0-0.4m-0.3-0.1l-0.3-0.1m2.1-13.4l0.7 0.6m1 12.1l-0.2 0.6m0.9-3.4l0 0.8m0.4-0.1l0.5 0.1m1.4 1.2l-0.8 0.5m28.3 4.8l0.1 0.2m12 9.3l-0.2 0.4m-39.5-15.1l0.3-0.5m8.1 7.1l0.2-1.3m-5.3 6l-1.2-0.3m-5.4-5.9l-0.4-0.4m38.6 6.8l0.2-0.9m-21.4-3.2l0.7 0.8m33 15.5l0-0.6m-1 2.5l0.1-0.3m-27.8-36.2l-1.3 0.3m18.5 22.4l-0.4 0.9m-38.9-17.2l-0.8-0.6m-3.1-7l0.2 0m43.7-1l-0.2 0.2m-40.7 37.1l0.6 1.1m16.8-18.8l-0.8 0.6m0.6 2.3l-0.4 0.2" stroke-width="1.5"/><path d="M294.8 486.4l-0.7-0.1m-50.4 26.1l-0.4 0.3m17.2-0.5l-0.9 0.6m39.5 0.1l0 0.7m-26.5-22.8l-0.2 0.6m-27.4 15.5l1.1 0.1m8.7-19.7l0.6-0.1m-0.9-0.8l-1.2 0.1m45.4 22l0.4 0.8m-45.2-2.1l-0.3-0.9m-8.5-11l0.3-0.7m-0.7 0.4l0.3 0.1m33.9-4.5l1.3-0.1m0.1-0.6l0.1-0.3m9.8 14.6l0.5 0.6m-31.9-11.6l-0-0.5m-0.2 3l1.3 0.3m-7 2.2l0.9 0.1m2.9-1.8l0.9-0.9m30 6.3l-0.4 0m-0.5-5.3l-0.4 0.2m-11.7-21l0.3-0.6m-4.9 30.2l0.6-0.5m17.3-27.5l0.1-0.2m0.4-2.5l-0.1-0.7m-40.5 39.7l-0.1-0.3m1.1 0.4l-1.2 0m19.1-18.6l0.4 0.7" stroke-width="2.2"/></g>
<rect x="302" y="471.6" width="57.2" height="42.9" fill="#e7e2dc"/>
<g stroke="#a238b2" stroke-linecap="round" fill="none" filter="url(#halo1)"><path d="M316.2 499.6l-0.3 1.3m19.8-28.6l1.2 0m13.3 29.5l-1.3 0.2m-43.5-25.6l-0.6 0.5m14.9 27.4l1-0.4m20.8-17.4l-0.1-1.1m-37.5 12.7l-0.1 0.3m44.2 13.9l-0.3-0.1m-0.8-0.9l-0.3-0.2m0.5 2.7l0.9-0.5m-11.2-28.9l-0.6-0.5m1-1.5l0.5 0.9m-7.4 21.3l-0.3 1.2m22.7-29.1l1-0.7m-9.2 10.4l-0.6-0.2m-41.2 16.4l0 0.2" stroke-width="1.0"/><path d="M307.9 507.2l-0-0.3m-0.5-0.2l1-0.6m2-25.6l-0.4-1m4-0.2l-1.1 0.1m-0.7-0l1.1-0.7m3.8 25.4l0 0.4m31-2.7l1 0.3m-30.6 2.7l0.3-0.8m-3.3-1.3l0.6 0.9m24.6-15l-0.3 0.3m-6.4 8.7l-0.3-0.2m-2-0.5l-0.6 0.2m-0.5 1.6l0.3 0.2m-3.1-14.4l0.1-1.3m-25.2 23l0.4 0.5m12.7-33.8l0.3-0.5m36-0.1l0.8 0.2m1.7-0.2l-0 0m-2.6 0l-0.3 0m-1.4 0.3l-0.2 0.9m2.4-1.2l-0.4 0m-46 26.5l-0.5-0.1m43.3 14.6l0.1-0.9m-14.4-28.9l0.2-0.2m-0.7 2.9l-0.5-0.5m-19 3.2l0.2 0.3m26.5-2.8l-0.5 0.1" stroke-width="1.5"/><path d="M306.7 508.8l0.8 0.5m31.2-35.5l-0.6-0.6m5.9 7.7l-0.8-0.4m-32.9 10.9l-0.1 0.4m29.3-18l-1.3 0.5m-34.6 1.4l-0.2 0.2m0.5 3l-0.4-0.1m13 25.8l1-0.5m22.3-20.5l-0.1-1.3m-8.6 15.5l0.1-0.4m-2.4 2.1l0.3 0.1m-5.2-0.9l0.1-0.7m1.1 0.4l1.2-0.3m0.6-1.1l-0.4-0m-14-24.7l-0.2 0m39.3 5.3l-0.1 0.3m-16.5 8l-0.8 0.5m11.4 10.8l0.2-0.7m-41.6 7.4l-0.4 0.7m-1.1-3.9l0 0.1" stroke-width="2.2"/></g>
<text x="94.30" y="329.30" font-size="7.8" text-anchor="middle" dominant-baseline="central" fill="#000">control</text>
<text x="152.20" y="329.30" font-size="7.8" text-anchor="middle" dominant-baseline="central" fill="#000">FGF1(+)-NC</text>
<text x="212.70" y="329.30" font-size="7.8" text-anchor="middle" dominant-baseline="central" fill="#000">FGF1(+)</text>
<text x="275.00" y="329.30" font-size="7.8" text-anchor="middle" dominant-baseline="central" fill="#000">FGF1(-)-NC</text>
<text x="330.70" y="329.30" font-size="7.8" text-anchor="middle" dominant-baseline="central" fill="#000">FGF1(-)</text>
<path d="M46.2,343.5 H42.8 V413.5 H46.2" fill="none" stroke="#000" stroke-width="0.9"/>
<path d="M46.2,432.4 H42.8 V502.4 H46.2" fill="none" stroke="#000" stroke-width="0.9"/>
<text x="51.90" y="356.70" font-size="8.0" text-anchor="middle" dominant-baseline="central" fill="#000" transform="rotate(-90 51.90 356.70)">migration</text>
<text x="51.90" y="403.30" font-size="8.0" text-anchor="middle" dominant-baseline="central" fill="#000" transform="rotate(-90 51.90 403.30)">invasion</text>
<text x="51.90" y="446.00" font-size="8.0" text-anchor="middle" dominant-baseline="central" fill="#000" transform="rotate(-90 51.90 446.00)">migration</text>
<text x="51.90" y="495.30" font-size="8.0" text-anchor="middle" dominant-baseline="central" fill="#000" transform="rotate(-90 51.90 495.30)">invasion</text>
<text x="29.50" y="379.30" font-size="7.8" text-anchor="middle" dominant-baseline="central" fill="#000">U87</text>
<text x="31.50" y="467.40" font-size="7.8" text-anchor="middle" dominant-baseline="central" fill="#000">U251</text>
<path d="M345.3,508.6 V510.3 H357.9 V508.6" fill="none" stroke="#222" stroke-width="0.7"/>
<text x="351.60" y="512.70" font-size="3.4" text-anchor="middle" dominant-baseline="central" fill="#222">200μm</text>
<line x1="415.30" y1="363.60" x2="415.30" y2="360.40" stroke="#000" stroke-width="1.2"/>
<line x1="412.55" y1="360.40" x2="418.05" y2="360.40" stroke="#000" stroke-width="1.2"/>
<rect x="410.40" y="363.60" width="9.80" height="44.40" fill="#a0a0a0" stroke="#000" stroke-width="1.2"/>
<line x1="431.30" y1="363.40" x2="431.30" y2="361.40" stroke="#000" stroke-width="1.2"/>
<line x1="428.55" y1="361.40" x2="434.05" y2="361.40" stroke="#000" stroke-width="1.2"/>
<rect x="426.40" y="363.40" width="9.80" height="44.60" fill="#a0a0a0" stroke="#000" stroke-width="1.2"/>
<line x1="447.30" y1="353.40" x2="447.30" y2="350.40" stroke="#000" stroke-width="1.2"/>
<line x1="444.55" y1="350.40" x2="450.05" y2="350.40" stroke="#000" stroke-width="1.2"/>
<rect x="442.40" y="353.40" width="9.80" height="54.60" fill="#a0a0a0" stroke="#000" stroke-width="1.2"/>
<path d="M447.30 347.00L447.30 345.50M447.30 347.00L448.73 346.54M447.30 347.00L448.18 348.21M447.30 347.00L446.42 348.21M447.30 347.00L445.87 346.54" stroke="#333" stroke-width="0.5700000000000001" stroke-linecap="round"/>
<line x1="463.30" y1="366.40" x2="463.30" y2="361.40" stroke="#000" stroke-width="1.2"/>
<line x1="460.55" y1="361.40" x2="466.05" y2="361.40" stroke="#000" stroke-width="1.2"/>
<rect x="458.40" y="366.40" width="9.80" height="41.60" fill="#a0a0a0" stroke="#000" stroke-width="1.2"/>
<line x1="479.30" y1="381.00" x2="479.30" y2="378.00" stroke="#000" stroke-width="1.2"/>
<line x1="476.55" y1="378.00" x2="482.05" y2="378.00" stroke="#000" stroke-width="1.2"/>
<rect x="474.40" y="381.00" width="9.80" height="27.00" fill="#a0a0a0" stroke="#000" stroke-width="1.2"/>
<text x="479.30" y="372.60" font-size="7.2" text-anchor="middle" dominant-baseline="central" fill="#555" font-family="Liberation Sans" font-weight="normal" font-style="italic">#</text>
<line x1="407.00" y1="408.00" x2="407.00" y2="348.00" stroke="#000" stroke-width="1.0"/>
<line x1="406.50" y1="408.00" x2="486.00" y2="408.00" stroke="#000" stroke-width="1.0"/>
<line x1="405.00" y1="408.00" x2="407.00" y2="408.00" stroke="#000" stroke-width="1.0"/>
<text x="404.20" y="408.00" font-size="4.5" text-anchor="end" dominant-baseline="central" fill="#000">0</text>
<line x1="405.00" y1="388.00" x2="407.00" y2="388.00" stroke="#000" stroke-width="1.0"/>
<text x="404.20" y="388.00" font-size="4.5" text-anchor="end" dominant-baseline="central" fill="#000">50</text>
<line x1="405.00" y1="368.00" x2="407.00" y2="368.00" stroke="#000" stroke-width="1.0"/>
<text x="404.20" y="368.00" font-size="4.5" text-anchor="end" dominant-baseline="central" fill="#000">100</text>
<line x1="405.00" y1="348.00" x2="407.00" y2="348.00" stroke="#000" stroke-width="1.0"/>
<text x="404.20" y="348.00" font-size="4.5" text-anchor="end" dominant-baseline="central" fill="#000">150</text>
<line x1="415.30" y1="408.00" x2="415.30" y2="410.20" stroke="#000" stroke-width="0.8"/>
<line x1="431.30" y1="408.00" x2="431.30" y2="410.20" stroke="#000" stroke-width="0.8"/>
<line x1="447.30" y1="408.00" x2="447.30" y2="410.20" stroke="#000" stroke-width="0.8"/>
<line x1="463.30" y1="408.00" x2="463.30" y2="410.20" stroke="#000" stroke-width="0.8"/>
<line x1="479.30" y1="408.00" x2="479.30" y2="410.20" stroke="#000" stroke-width="0.8"/>
<text x="393.00" y="377.00" font-size="6.4" text-anchor="middle" dominant-baseline="central" fill="#000" transform="rotate(-90 393.00 377.00)">Cell number of migration</text>
<text x="416.80" y="411.50" font-size="4.3" text-anchor="end" dominant-baseline="central" fill="#000" transform="rotate(-30 416.80 411.50)">control</text>
<text x="432.80" y="411.50" font-size="4.3" text-anchor="end" dominant-baseline="central" fill="#000" transform="rotate(-30 432.80 411.50)">FGF1(+)-NC</text>
<text x="448.80" y="411.50" font-size="4.3" text-anchor="end" dominant-baseline="central" fill="#000" transform="rotate(-30 448.80 411.50)">FGF1(+)</text>
<text x="464.80" y="411.50" font-size="4.3" text-anchor="end" dominant-baseline="central" fill="#000" transform="rotate(-30 464.80 411.50)">FGF1(-)-NC</text>
<text x="480.80" y="411.50" font-size="4.3" text-anchor="end" dominant-baseline="central" fill="#000" transform="rotate(-30 480.80 411.50)">FGF1(-)</text>
<path d="M387,342.4 H383.6 V412 H387" fill="none" stroke="#000" stroke-width="0.9"/>
<text x="370.60" y="379.20" font-size="8.0" text-anchor="middle" dominant-baseline="central" fill="#000">U87</text>
<line x1="518.80" y1="369.07" x2="518.80" y2="364.72" stroke="#000" stroke-width="1.2"/>
<line x1="516.05" y1="364.72" x2="521.55" y2="364.72" stroke="#000" stroke-width="1.2"/>
<rect x="513.80" y="369.07" width="10.00" height="39.33" fill="#a0a0a0" stroke="#000" stroke-width="1.2"/>
<line x1="534.40" y1="371.14" x2="534.40" y2="368.03" stroke="#000" stroke-width="1.2"/>
<line x1="531.65" y1="368.03" x2="537.15" y2="368.03" stroke="#000" stroke-width="1.2"/>
<rect x="529.40" y="371.14" width="10.00" height="37.26" fill="#a0a0a0" stroke="#000" stroke-width="1.2"/>
<line x1="550.20" y1="356.39" x2="550.20" y2="352.77" stroke="#000" stroke-width="1.2"/>
<line x1="547.45" y1="352.77" x2="552.95" y2="352.77" stroke="#000" stroke-width="1.2"/>
<rect x="545.20" y="356.39" width="10.00" height="52.01" fill="#a0a0a0" stroke="#000" stroke-width="1.2"/>
<path d="M550.20 348.40L550.20 346.90M550.20 348.40L551.63 347.94M550.20 348.40L551.08 349.61M550.20 348.40L549.32 349.61M550.20 348.40L548.77 347.94" stroke="#333" stroke-width="0.5700000000000001" stroke-linecap="round"/>
<line x1="566.40" y1="369.38" x2="566.40" y2="365.76" stroke="#000" stroke-width="1.2"/>
<line x1="563.65" y1="365.76" x2="569.15" y2="365.76" stroke="#000" stroke-width="1.2"/>
<rect x="561.40" y="369.38" width="10.00" height="39.02" fill="#a0a0a0" stroke="#000" stroke-width="1.2"/>
<line x1="582.00" y1="391.32" x2="582.00" y2="387.39" stroke="#000" stroke-width="1.2"/>
<line x1="579.25" y1="387.39" x2="584.75" y2="387.39" stroke="#000" stroke-width="1.2"/>
<rect x="577.00" y="391.32" width="10.00" height="17.08" fill="#a0a0a0" stroke="#000" stroke-width="1.2"/>
<text x="582.00" y="382.70" font-size="7.2" text-anchor="middle" dominant-baseline="central" fill="#555" font-family="Liberation Sans" font-weight="normal" font-style="italic">#</text>
<line x1="509.70" y1="408.40" x2="509.70" y2="346.30" stroke="#000" stroke-width="1.0"/>
<line x1="509.20" y1="408.40" x2="590.00" y2="408.40" stroke="#000" stroke-width="1.0"/>
<line x1="507.70" y1="408.40" x2="509.70" y2="408.40" stroke="#000" stroke-width="1.0"/>
<text x="506.90" y="408.40" font-size="4.5" text-anchor="end" dominant-baseline="central" fill="#000">0</text>
<line x1="507.70" y1="387.70" x2="509.70" y2="387.70" stroke="#000" stroke-width="1.0"/>
<text x="506.90" y="387.70" font-size="4.5" text-anchor="end" dominant-baseline="central" fill="#000">40</text>
<line x1="507.70" y1="367.00" x2="509.70" y2="367.00" stroke="#000" stroke-width="1.0"/>
<text x="506.90" y="367.00" font-size="4.5" text-anchor="end" dominant-baseline="central" fill="#000">80</text>
<line x1="507.70" y1="346.30" x2="509.70" y2="346.30" stroke="#000" stroke-width="1.0"/>
<text x="506.90" y="346.30" font-size="4.5" text-anchor="end" dominant-baseline="central" fill="#000">120</text>
<line x1="518.80" y1="408.40" x2="518.80" y2="410.60" stroke="#000" stroke-width="0.8"/>
<line x1="534.40" y1="408.40" x2="534.40" y2="410.60" stroke="#000" stroke-width="0.8"/>
<line x1="550.20" y1="408.40" x2="550.20" y2="410.60" stroke="#000" stroke-width="0.8"/>
<line x1="566.40" y1="408.40" x2="566.40" y2="410.60" stroke="#000" stroke-width="0.8"/>
<line x1="582.00" y1="408.40" x2="582.00" y2="410.60" stroke="#000" stroke-width="0.8"/>
<text x="497.00" y="377.00" font-size="6.7" text-anchor="middle" dominant-baseline="central" fill="#000" transform="rotate(-90 497.00 377.00)">Cell number of invasion</text>
<text x="520.30" y="412.00" font-size="4.3" text-anchor="end" dominant-baseline="central" fill="#000" transform="rotate(-30 520.30 412.00)">control</text>
<text x="535.90" y="412.00" font-size="4.3" text-anchor="end" dominant-baseline="central" fill="#000" transform="rotate(-30 535.90 412.00)">FGF1(+)-NC</text>
<text x="551.70" y="412.00" font-size="4.3" text-anchor="end" dominant-baseline="central" fill="#000" transform="rotate(-30 551.70 412.00)">FGF1(+)</text>
<text x="567.90" y="412.00" font-size="4.3" text-anchor="end" dominant-baseline="central" fill="#000" transform="rotate(-30 567.90 412.00)">FGF1(-)-NC</text>
<text x="583.50" y="412.00" font-size="4.3" text-anchor="end" dominant-baseline="central" fill="#000" transform="rotate(-30 583.50 412.00)">FGF1(-)</text>
<line x1="415.30" y1="469.40" x2="415.30" y2="466.07" stroke="#000" stroke-width="1.2"/>
<line x1="412.55" y1="466.07" x2="418.05" y2="466.07" stroke="#000" stroke-width="1.2"/>
<rect x="410.40" y="469.40" width="9.80" height="45.00" fill="#a0a0a0" stroke="#000" stroke-width="1.2"/>
<line x1="431.30" y1="471.40" x2="431.30" y2="468.40" stroke="#000" stroke-width="1.2"/>
<line x1="428.55" y1="468.40" x2="434.05" y2="468.40" stroke="#000" stroke-width="1.2"/>
<rect x="426.40" y="471.40" width="9.80" height="43.00" fill="#a0a0a0" stroke="#000" stroke-width="1.2"/>
<line x1="447.30" y1="459.07" x2="447.30" y2="455.40" stroke="#000" stroke-width="1.2"/>
<line x1="444.55" y1="455.40" x2="450.05" y2="455.40" stroke="#000" stroke-width="1.2"/>
<rect x="442.40" y="459.07" width="9.80" height="55.33" fill="#a0a0a0" stroke="#000" stroke-width="1.2"/>
<path d="M447.30 452.00L447.30 450.50M447.30 452.00L448.73 451.54M447.30 452.00L448.18 453.21M447.30 452.00L446.42 453.21M447.30 452.00L445.87 451.54" stroke="#333" stroke-width="0.5700000000000001" stroke-linecap="round"/>
<line x1="463.30" y1="472.90" x2="463.30" y2="468.40" stroke="#000" stroke-width="1.2"/>
<line x1="460.55" y1="468.40" x2="466.05" y2="468.40" stroke="#000" stroke-width="1.2"/>
<rect x="458.40" y="472.90" width="9.80" height="41.50" fill="#a0a0a0" stroke="#000" stroke-width="1.2"/>
<line x1="479.30" y1="489.40" x2="479.30" y2="485.60" stroke="#000" stroke-width="1.2"/>
<line x1="476.55" y1="485.60" x2="482.05" y2="485.60" stroke="#000" stroke-width="1.2"/>
<rect x="474.40" y="489.40" width="9.80" height="25.00" fill="#a0a0a0" stroke="#000" stroke-width="1.2"/>
<text x="479.30" y="482.00" font-size="7.2" text-anchor="middle" dominant-baseline="central" fill="#555" font-family="Liberation Sans" font-weight="normal" font-style="italic">#</text>
<line x1="407.00" y1="514.40" x2="407.00" y2="454.40" stroke="#000" stroke-width="1.0"/>
<line x1="406.50" y1="514.40" x2="486.00" y2="514.40" stroke="#000" stroke-width="1.0"/>
<line x1="405.00" y1="514.40" x2="407.00" y2="514.40" stroke="#000" stroke-width="1.0"/>
<text x="404.20" y="514.40" font-size="4.5" text-anchor="end" dominant-baseline="central" fill="#000">0</text>
<line x1="405.00" y1="499.40" x2="407.00" y2="499.40" stroke="#000" stroke-width="1.0"/>
<text x="404.20" y="499.40" font-size="4.5" text-anchor="end" dominant-baseline="central" fill="#000">45</text>
<line x1="405.00" y1="484.40" x2="407.00" y2="484.40" stroke="#000" stroke-width="1.0"/>
<text x="404.20" y="484.40" font-size="4.5" text-anchor="end" dominant-baseline="central" fill="#000">90</text>
<line x1="405.00" y1="469.40" x2="407.00" y2="469.40" stroke="#000" stroke-width="1.0"/>
<text x="404.20" y="469.40" font-size="4.5" text-anchor="end" dominant-baseline="central" fill="#000">135</text>
<line x1="405.00" y1="454.40" x2="407.00" y2="454.40" stroke="#000" stroke-width="1.0"/>
<text x="404.20" y="454.40" font-size="4.5" text-anchor="end" dominant-baseline="central" fill="#000">180</text>
<line x1="415.30" y1="514.40" x2="415.30" y2="516.60" stroke="#000" stroke-width="0.8"/>
<line x1="431.30" y1="514.40" x2="431.30" y2="516.60" stroke="#000" stroke-width="0.8"/>
<line x1="447.30" y1="514.40" x2="447.30" y2="516.60" stroke="#000" stroke-width="0.8"/>
<line x1="463.30" y1="514.40" x2="463.30" y2="516.60" stroke="#000" stroke-width="0.8"/>
<line x1="479.30" y1="514.40" x2="479.30" y2="516.60" stroke="#000" stroke-width="0.8"/>
<text x="393.00" y="484.00" font-size="6.4" text-anchor="middle" dominant-baseline="central" fill="#000" transform="rotate(-90 393.00 484.00)">Cell number of migration</text>
<text x="416.80" y="518.00" font-size="4.3" text-anchor="end" dominant-baseline="central" fill="#000" transform="rotate(-30 416.80 518.00)">control</text>
<text x="432.80" y="518.00" font-size="4.3" text-anchor="end" dominant-baseline="central" fill="#000" transform="rotate(-30 432.80 518.00)">FGF1(+)-NC</text>
<text x="448.80" y="518.00" font-size="4.3" text-anchor="end" dominant-baseline="central" fill="#000" transform="rotate(-30 448.80 518.00)">FGF1(+)</text>
<text x="464.80" y="518.00" font-size="4.3" text-anchor="end" dominant-baseline="central" fill="#000" transform="rotate(-30 464.80 518.00)">FGF1(-)-NC</text>
<text x="480.80" y="518.00" font-size="4.3" text-anchor="end" dominant-baseline="central" fill="#000" transform="rotate(-30 480.80 518.00)">FGF1(-)</text>
<path d="M387.5,448.4 H384 V518.4 H387.5" fill="none" stroke="#000" stroke-width="0.9"/>
<text x="372.60" y="483.50" font-size="7.8" text-anchor="middle" dominant-baseline="central" fill="#000">U251</text>
<line x1="518.75" y1="474.79" x2="518.75" y2="470.25" stroke="#000" stroke-width="1.2"/>
<line x1="516.00" y1="470.25" x2="521.50" y2="470.25" stroke="#000" stroke-width="1.2"/>
<rect x="513.75" y="474.79" width="10.00" height="39.96" fill="#a0a0a0" stroke="#000" stroke-width="1.2"/>
<line x1="534.40" y1="476.43" x2="534.40" y2="473.14" stroke="#000" stroke-width="1.2"/>
<line x1="531.65" y1="473.14" x2="537.15" y2="473.14" stroke="#000" stroke-width="1.2"/>
<rect x="529.40" y="476.43" width="10.00" height="38.32" fill="#a0a0a0" stroke="#000" stroke-width="1.2"/>
<line x1="550.60" y1="465.10" x2="550.60" y2="461.19" stroke="#000" stroke-width="1.2"/>
<line x1="547.85" y1="461.19" x2="553.35" y2="461.19" stroke="#000" stroke-width="1.2"/>
<rect x="545.60" y="465.10" width="10.00" height="49.65" fill="#a0a0a0" stroke="#000" stroke-width="1.2"/>
<path d="M550.60 457.00L550.60 455.50M550.60 457.00L552.03 456.54M550.60 457.00L551.48 458.21M550.60 457.00L549.72 458.21M550.60 457.00L549.17 456.54" stroke="#333" stroke-width="0.5700000000000001" stroke-linecap="round"/>
<line x1="565.80" y1="478.08" x2="565.80" y2="473.55" stroke="#000" stroke-width="1.2"/>
<line x1="563.05" y1="473.55" x2="568.55" y2="473.55" stroke="#000" stroke-width="1.2"/>
<rect x="560.80" y="478.08" width="10.00" height="36.67" fill="#a0a0a0" stroke="#000" stroke-width="1.2"/>
<line x1="582.20" y1="495.80" x2="582.20" y2="492.91" stroke="#000" stroke-width="1.2"/>
<line x1="579.45" y1="492.91" x2="584.95" y2="492.91" stroke="#000" stroke-width="1.2"/>
<rect x="577.20" y="495.80" width="10.00" height="18.95" fill="#a0a0a0" stroke="#000" stroke-width="1.2"/>
<text x="582.20" y="488.75" font-size="7.2" text-anchor="middle" dominant-baseline="central" fill="#555" font-family="Liberation Sans" font-weight="normal" font-style="italic">#</text>
<line x1="510.70" y1="514.75" x2="510.70" y2="452.95" stroke="#000" stroke-width="1.0"/>
<line x1="510.20" y1="514.75" x2="590.00" y2="514.75" stroke="#000" stroke-width="1.0"/>
<line x1="508.70" y1="514.75" x2="510.70" y2="514.75" stroke="#000" stroke-width="1.0"/>
<text x="507.90" y="514.75" font-size="4.5" text-anchor="end" dominant-baseline="central" fill="#000">0</text>
<line x1="508.70" y1="494.15" x2="510.70" y2="494.15" stroke="#000" stroke-width="1.0"/>
<text x="507.90" y="494.15" font-size="4.5" text-anchor="end" dominant-baseline="central" fill="#000">50</text>
<line x1="508.70" y1="473.55" x2="510.70" y2="473.55" stroke="#000" stroke-width="1.0"/>
<text x="507.90" y="473.55" font-size="4.5" text-anchor="end" dominant-baseline="central" fill="#000">100</text>
<line x1="508.70" y1="452.95" x2="510.70" y2="452.95" stroke="#000" stroke-width="1.0"/>
<text x="507.90" y="452.95" font-size="4.5" text-anchor="end" dominant-baseline="central" fill="#000">150</text>
<line x1="518.75" y1="514.75" x2="518.75" y2="516.95" stroke="#000" stroke-width="0.8"/>
<line x1="534.40" y1="514.75" x2="534.40" y2="516.95" stroke="#000" stroke-width="0.8"/>
<line x1="550.60" y1="514.75" x2="550.60" y2="516.95" stroke="#000" stroke-width="0.8"/>
<line x1="565.80" y1="514.75" x2="565.80" y2="516.95" stroke="#000" stroke-width="0.8"/>
<line x1="582.20" y1="514.75" x2="582.20" y2="516.95" stroke="#000" stroke-width="0.8"/>
<text x="497.00" y="483.50" font-size="6.7" text-anchor="middle" dominant-baseline="central" fill="#000" transform="rotate(-90 497.00 483.50)">Cell number of invasion</text>
<text x="520.25" y="518.50" font-size="4.3" text-anchor="end" dominant-baseline="central" fill="#000" transform="rotate(-30 520.25 518.50)">control</text>
<text x="535.90" y="518.50" font-size="4.3" text-anchor="end" dominant-baseline="central" fill="#000" transform="rotate(-30 535.90 518.50)">FGF1(+)-NC</text>
<text x="552.10" y="518.50" font-size="4.3" text-anchor="end" dominant-baseline="central" fill="#000" transform="rotate(-30 552.10 518.50)">FGF1(+)</text>
<text x="567.30" y="518.50" font-size="4.3" text-anchor="end" dominant-baseline="central" fill="#000" transform="rotate(-30 567.30 518.50)">FGF1(-)-NC</text>
<text x="583.70" y="518.50" font-size="4.3" text-anchor="end" dominant-baseline="central" fill="#000" transform="rotate(-30 583.70 518.50)">FGF1(-)</text>
<text x="104.50" y="552.70" font-size="8.3" text-anchor="middle" dominant-baseline="central" fill="#000">control</text>
<text x="185.00" y="552.70" font-size="8.3" text-anchor="middle" dominant-baseline="central" fill="#000">FGF1(+)-NC</text>
<text x="265.80" y="552.70" font-size="8.3" text-anchor="middle" dominant-baseline="central" fill="#000">FGF1 (+)</text>
<text x="347.00" y="552.70" font-size="8.3" text-anchor="middle" dominant-baseline="central" fill="#000">FGF1(-)-NC</text>
<text x="427.50" y="552.70" font-size="8.3" text-anchor="middle" dominant-baseline="central" fill="#000">FGF1 (-)</text>
<path d="M95.00,622.30L95.00,622.30L95.59,622.17L96.18,621.81L96.77,621.28L97.36,620.65L97.95,619.98L98.54,619.32L99.13,618.73L99.72,618.29L100.31,618.03L100.90,618.00L101.49,618.00L102.08,618.00L102.67,618.00L103.26,618.00L103.85,618.00L104.44,618.00L105.03,618.00L105.62,618.00L106.21,618.00L106.79,618.00L107.38,618.00L107.97,618.00L108.56,618.00L109.15,618.00L109.74,618.00L110.33,618.00L110.92,618.00L111.51,618.00L112.10,618.00L112.69,618.00L113.28,618.00L113.87,618.00L114.46,618.00L115.05,618.37L115.64,619.18L116.23,620.21L116.82,621.22L117.41,621.99L118.00,622.30L118.00,622.30Z" fill="#c6c6f0" stroke="#8a8ac8" stroke-width="0.35"/>
<path d="M92.30,622.30L92.30,622.30L92.51,621.51L92.73,620.30L92.94,618.84L93.15,617.19L93.36,615.40L93.58,613.47L93.79,611.43L94.00,609.28L94.22,607.04L94.43,604.71L94.64,602.29L94.85,599.80L95.07,597.23L95.28,594.59L95.49,591.89L95.71,589.12L95.92,586.29L96.13,583.40L96.34,580.46L96.56,577.45L96.77,574.40L96.98,573.99L97.19,577.78L97.41,581.50L97.62,585.13L97.83,588.66L98.05,592.11L98.26,595.46L98.47,598.70L98.68,601.83L98.90,604.84L99.11,607.72L99.32,610.46L99.54,613.04L99.75,615.45L99.96,617.65L100.17,619.61L100.39,621.25L100.60,622.30L100.60,622.30Z" fill="#e60000" stroke="#300" stroke-width="0.35"/>
<path d="M114.40,622.30L114.40,622.30L114.70,622.05L115.01,621.55L115.31,620.91L115.61,620.19L115.91,619.46L116.22,618.76L116.52,618.15L116.82,617.67L117.12,617.35L117.43,617.21L117.73,617.21L118.03,617.24L118.33,617.29L118.64,617.37L118.94,617.47L119.24,617.59L119.54,617.74L119.85,617.90L120.15,618.08L120.45,618.28L120.75,618.50L121.06,618.73L121.36,618.96L121.66,619.21L121.96,619.47L122.27,619.73L122.57,619.99L122.87,620.25L123.17,620.51L123.48,620.77L123.78,621.01L124.08,621.25L124.38,621.47L124.69,621.67L124.99,621.86L125.29,622.02L125.59,622.15L125.90,622.25L126.20,622.30L126.20,622.30Z" fill="#e60000" stroke="#300" stroke-width="0.35"/>
<path d="M91.30,622.30L91.30,621.70L91.53,621.70L91.75,621.70L91.98,621.70L92.20,621.70L92.43,621.70L92.65,621.70L92.88,620.63L93.11,619.04L93.33,617.20L93.56,615.17L93.78,612.98L94.01,610.64L94.24,608.18L94.46,605.60L94.69,602.91L94.91,600.12L95.14,597.24L95.36,594.27L95.59,591.21L95.82,588.07L96.04,584.86L96.27,581.57L96.49,578.22L96.72,574.79L96.94,572.86L97.17,577.15L97.40,581.34L97.62,585.42L97.85,589.39L98.07,593.24L98.30,596.95L98.53,600.54L98.75,603.97L98.98,607.25L99.20,610.35L99.43,613.25L99.65,615.93L99.88,617.60L100.11,617.49L100.33,617.43L100.56,617.40L100.78,617.40L101.01,617.40L101.23,617.40L101.46,617.40L101.69,617.40L101.91,617.40L102.14,617.40L102.36,617.40L102.59,617.40L102.82,617.40L103.04,617.40L103.27,617.40L103.49,617.40L103.72,617.40L103.94,617.40L104.17,617.40L104.40,617.40L104.62,617.40L104.85,617.40L105.07,617.40L105.30,617.40L105.52,617.40L105.75,617.40L105.98,617.40L106.20,617.40L106.43,617.40L106.65,617.40L106.88,617.40L107.11,617.40L107.33,617.40L107.56,617.40L107.78,617.40L108.01,617.40L108.23,617.40L108.46,617.40L108.69,617.40L108.91,617.40L109.14,617.40L109.36,617.40L109.59,617.40L109.81,617.40L110.04,617.40L110.27,617.40L110.49,617.40L110.72,617.40L110.94,617.40L111.17,617.40L111.39,617.40L111.62,617.40L111.85,617.40L112.07,617.40L112.30,617.40L112.52,617.40L112.75,617.40L112.98,617.40L113.20,617.40L113.43,617.40L113.65,617.40L113.88,617.40L114.10,617.40L114.33,617.40L114.56,617.42L114.78,616.70L115.01,615.78L115.23,614.90L115.46,614.06L115.68,613.27L115.91,612.55L116.14,611.91L116.36,611.34L116.59,610.87L116.81,610.50L117.04,610.23L117.27,610.06L117.49,610.00L117.72,610.10L117.94,610.43L118.17,610.96L118.39,611.69L118.62,612.60L118.85,613.66L119.07,614.85L119.30,616.12L119.52,617.44L119.75,618.77L119.97,620.04L120.20,621.20L120.43,621.70L120.65,621.70L120.88,621.70L121.10,621.70L121.33,621.70L121.56,621.70L121.78,621.70L122.01,621.70L122.23,621.70L122.46,621.70L122.68,621.70L122.91,621.70L123.14,621.70L123.36,621.70L123.59,621.70L123.81,621.70L124.04,621.70L124.26,621.70L124.49,621.70L124.72,621.70L124.94,621.70L125.17,621.70L125.39,621.70L125.62,621.70L125.85,621.70L126.07,621.70L126.30,621.70L126.52,621.70L126.75,621.70L126.97,621.70L127.20,621.70" fill="none" stroke="#222" stroke-width="0.45"/>
<line x1="72.5" y1="561.8" x2="72.5" y2="622.3" stroke="#888" stroke-width="0.6"/>
<line x1="71.7" y1="561.8" x2="71.7" y2="622.3" stroke="#777" stroke-width="1" stroke-dasharray="0.5 1.6"/>
<line x1="72.5" y1="622.3" x2="143.5" y2="622.3" stroke="#999" stroke-width="0.6"/>
<line x1="72.5" y1="623.0999999999999" x2="143.5" y2="623.0999999999999" stroke="#888" stroke-width="1" stroke-dasharray="0.5 1.6"/>
<text x="69.90" y="610.50" font-size="2.6" text-anchor="middle" dominant-baseline="central" fill="#333" transform="rotate(-90 69.90 610.50)">20</text>
<text x="69.90" y="598.70" font-size="2.6" text-anchor="middle" dominant-baseline="central" fill="#333" transform="rotate(-90 69.90 598.70)">40</text>
<text x="69.90" y="586.90" font-size="2.6" text-anchor="middle" dominant-baseline="central" fill="#333" transform="rotate(-90 69.90 586.90)">60</text>
<text x="69.90" y="575.10" font-size="2.6" text-anchor="middle" dominant-baseline="central" fill="#333" transform="rotate(-90 69.90 575.10)">80</text>
<text x="69.90" y="563.30" font-size="2.6" text-anchor="middle" dominant-baseline="central" fill="#333" transform="rotate(-90 69.90 563.30)">100</text>
<text x="73.00" y="625.70" font-size="2.6" text-anchor="middle" dominant-baseline="central" fill="#333">0</text>
<text x="87.10" y="625.70" font-size="2.6" text-anchor="middle" dominant-baseline="central" fill="#333">40</text>
<text x="101.20" y="625.70" font-size="2.6" text-anchor="middle" dominant-baseline="central" fill="#333">80</text>
<text x="115.30" y="625.70" font-size="2.6" text-anchor="middle" dominant-baseline="central" fill="#333">120</text>
<text x="129.40" y="625.70" font-size="2.6" text-anchor="middle" dominant-baseline="central" fill="#333">160</text>
<text x="143.50" y="625.70" font-size="2.6" text-anchor="middle" dominant-baseline="central" fill="#333">200</text>
<text x="103.50" y="628.10" font-size="2.9" text-anchor="middle" dominant-baseline="central" fill="#111">Channels (FL3-A)</text>
<text x="67.90" y="592.80" font-size="2.8" text-anchor="middle" dominant-baseline="central" fill="#333" transform="rotate(-90 67.90 592.80)">Number</text>
<path d="M174.00,622.40L174.00,622.40L174.41,622.01L174.82,621.04L175.23,619.76L175.64,618.47L176.05,617.46L176.46,617.00L176.87,617.00L177.28,617.00L177.69,617.00L178.10,617.00L178.51,617.00L178.92,617.00L179.33,617.00L179.74,617.00L180.15,617.00L180.56,617.00L180.97,617.00L181.38,617.00L181.79,617.00L182.21,617.00L182.62,617.00L183.03,617.00L183.44,617.00L183.85,617.00L184.26,617.00L184.67,617.00L185.08,617.00L185.49,617.00L185.90,617.00L186.31,617.00L186.72,617.19L187.13,617.69L187.54,618.41L187.95,619.26L188.36,620.16L188.77,621.00L189.18,621.72L189.59,622.22L190.00,622.40L190.00,622.40Z" fill="#c6c6f0" stroke="#8a8ac8" stroke-width="0.35"/>
<path d="M168.00,622.40L168.00,622.40L168.18,621.51L168.36,620.12L168.54,618.46L168.72,616.60L168.90,614.56L169.08,612.37L169.26,610.04L169.44,607.60L169.62,605.05L169.79,602.40L169.97,599.66L170.15,596.82L170.33,593.90L170.51,590.91L170.69,587.83L170.87,584.68L171.05,581.47L171.23,578.18L171.41,574.84L171.59,571.42L171.77,570.80L171.95,574.63L172.13,578.38L172.31,582.06L172.49,585.64L172.67,589.14L172.85,592.55L173.03,595.86L173.21,599.06L173.38,602.16L173.56,605.13L173.74,607.98L173.92,610.69L174.10,613.25L174.28,615.63L174.46,617.81L174.64,619.74L174.82,621.36L175.00,622.40L175.00,622.40Z" fill="#e60000" stroke="#300" stroke-width="0.35"/>
<path d="M186.00,622.40L186.00,622.40L186.29,622.04L186.58,621.32L186.87,620.37L187.16,619.26L187.45,618.05L187.74,616.80L188.03,615.56L188.32,614.38L188.61,613.31L188.90,612.38L189.19,611.63L189.48,611.09L189.77,610.78L190.06,610.70L190.35,610.75L190.64,610.87L190.93,611.07L191.22,611.33L191.51,611.66L191.79,612.05L192.08,612.50L192.37,613.00L192.66,613.55L192.95,614.14L193.24,614.76L193.53,615.41L193.82,616.08L194.11,616.77L194.40,617.45L194.69,618.14L194.98,618.80L195.27,619.45L195.56,620.06L195.85,620.63L196.14,621.15L196.43,621.61L196.72,621.98L197.01,622.26L197.30,622.40L197.30,622.40Z" fill="#e60000" stroke="#300" stroke-width="0.35"/>
<path d="M167.00,622.40L167.00,621.80L167.20,621.80L167.39,621.80L167.59,621.80L167.79,621.80L167.98,621.80L168.18,621.80L168.38,621.34L168.57,619.66L168.77,617.64L168.97,615.36L169.17,612.87L169.36,610.20L169.56,607.37L169.76,604.40L169.95,601.29L170.15,598.05L170.35,594.70L170.54,591.24L170.74,587.68L170.94,584.02L171.13,580.27L171.33,576.43L171.53,572.50L171.72,569.56L171.92,574.03L172.12,578.39L172.32,582.64L172.51,586.77L172.71,590.79L172.91,594.67L173.10,598.42L173.30,602.02L173.50,605.47L173.69,608.74L173.89,611.82L174.09,614.68L174.28,617.29L174.48,619.58L174.68,620.83L174.87,620.28L175.07,619.68L175.27,619.04L175.46,618.41L175.66,617.81L175.86,617.28L176.06,616.85L176.25,616.55L176.45,616.41L176.65,616.40L176.84,616.40L177.04,616.40L177.24,616.40L177.43,616.40L177.63,616.40L177.83,616.40L178.02,616.40L178.22,616.40L178.42,616.40L178.61,616.40L178.81,616.40L179.01,616.40L179.21,616.40L179.40,616.40L179.60,616.40L179.80,616.40L179.99,616.40L180.19,616.40L180.39,616.40L180.58,616.40L180.78,616.40L180.98,616.40L181.17,616.40L181.37,616.40L181.57,616.40L181.76,616.40L181.96,616.40L182.16,616.40L182.35,616.40L182.55,616.40L182.75,616.40L182.95,616.40L183.14,616.40L183.34,616.40L183.54,616.40L183.73,616.40L183.93,616.40L184.13,616.40L184.32,616.40L184.52,616.40L184.72,616.40L184.91,616.40L185.11,616.40L185.31,616.40L185.50,616.40L185.70,616.40L185.90,616.40L186.09,616.40L186.29,616.40L186.49,616.44L186.69,616.56L186.88,616.76L187.08,617.02L187.28,616.68L187.47,615.87L187.67,615.07L187.87,614.31L188.06,613.58L188.26,612.90L188.46,612.27L188.65,611.70L188.85,611.20L189.05,610.77L189.24,610.42L189.44,610.14L189.64,609.94L189.84,609.83L190.03,609.80L190.23,609.82L190.43,609.87L190.62,609.95L190.82,610.05L191.02,610.19L191.21,610.35L191.41,610.54L191.61,610.76L191.80,611.00L192.00,611.27L192.20,611.57L192.39,611.88L192.59,612.22L192.79,612.58L192.98,612.96L193.18,613.36L193.38,613.77L193.58,614.20L193.77,614.65L193.97,615.10L194.17,615.57L194.36,616.04L194.56,616.52L194.76,617.01L194.95,617.50L195.15,617.99L195.35,618.47L195.54,618.95L195.74,619.43L195.94,619.89L196.13,620.34L196.33,620.77L196.53,621.19L196.73,621.57L196.92,621.80L197.12,621.80L197.32,621.80L197.51,621.80L197.71,621.80L197.91,621.80L198.10,621.80L198.30,621.80" fill="none" stroke="#222" stroke-width="0.45"/>
<line x1="152.5" y1="561.9" x2="152.5" y2="622.4" stroke="#888" stroke-width="0.6"/>
<line x1="151.7" y1="561.9" x2="151.7" y2="622.4" stroke="#777" stroke-width="1" stroke-dasharray="0.5 1.6"/>
<line x1="152.5" y1="622.4" x2="223.5" y2="622.4" stroke="#999" stroke-width="0.6"/>
<line x1="152.5" y1="623.1999999999999" x2="223.5" y2="623.1999999999999" stroke="#888" stroke-width="1" stroke-dasharray="0.5 1.6"/>
<text x="149.90" y="610.60" font-size="2.6" text-anchor="middle" dominant-baseline="central" fill="#333" transform="rotate(-90 149.90 610.60)">20</text>
<text x="149.90" y="598.80" font-size="2.6" text-anchor="middle" dominant-baseline="central" fill="#333" transform="rotate(-90 149.90 598.80)">40</text>
<text x="149.90" y="587.00" font-size="2.6" text-anchor="middle" dominant-baseline="central" fill="#333" transform="rotate(-90 149.90 587.00)">60</text>
<text x="149.90" y="575.20" font-size="2.6" text-anchor="middle" dominant-baseline="central" fill="#333" transform="rotate(-90 149.90 575.20)">80</text>
<text x="149.90" y="563.40" font-size="2.6" text-anchor="middle" dominant-baseline="central" fill="#333" transform="rotate(-90 149.90 563.40)">100</text>
<text x="153.00" y="625.80" font-size="2.6" text-anchor="middle" dominant-baseline="central" fill="#333">0</text>
<text x="167.10" y="625.80" font-size="2.6" text-anchor="middle" dominant-baseline="central" fill="#333">40</text>
<text x="181.20" y="625.80" font-size="2.6" text-anchor="middle" dominant-baseline="central" fill="#333">80</text>
<text x="195.30" y="625.80" font-size="2.6" text-anchor="middle" dominant-baseline="central" fill="#333">120</text>
<text x="209.40" y="625.80" font-size="2.6" text-anchor="middle" dominant-baseline="central" fill="#333">160</text>
<text x="223.50" y="625.80" font-size="2.6" text-anchor="middle" dominant-baseline="central" fill="#333">200</text>
<text x="183.50" y="628.20" font-size="2.9" text-anchor="middle" dominant-baseline="central" fill="#111">Channels (FL3-A)</text>
<text x="147.90" y="592.90" font-size="2.8" text-anchor="middle" dominant-baseline="central" fill="#333" transform="rotate(-90 147.90 592.90)">Number</text>
<path d="M252.50,622.30L252.50,622.30L253.14,621.97L253.78,621.09L254.42,619.82L255.06,618.35L255.71,616.82L256.35,615.41L256.99,614.29L257.63,613.62L258.27,613.50L258.91,613.50L259.55,613.50L260.19,613.50L260.83,613.50L261.47,613.50L262.12,613.50L262.76,613.50L263.40,613.50L264.04,613.50L264.68,613.50L265.32,613.50L265.96,613.50L266.60,613.50L267.24,613.50L267.88,613.50L268.53,613.50L269.17,613.50L269.81,613.50L270.45,613.50L271.09,613.50L271.73,613.68L272.37,614.30L273.01,615.27L273.65,616.47L274.29,617.78L274.94,619.11L275.58,620.34L276.22,621.36L276.86,622.05L277.50,622.30L277.50,622.30Z" fill="#c6c6f0" stroke="#8a8ac8" stroke-width="0.35"/>
<path d="M251.20,622.30L251.20,622.30L251.41,621.55L251.63,620.39L251.84,618.99L252.05,617.42L252.26,615.71L252.48,613.87L252.69,611.92L252.90,609.87L253.12,607.72L253.33,605.50L253.54,603.19L253.75,600.81L253.97,598.35L254.18,595.83L254.39,593.25L254.61,590.60L254.82,587.90L255.03,585.14L255.24,582.33L255.46,579.46L255.67,578.57L255.88,581.82L256.09,585.00L256.31,588.11L256.52,591.15L256.73,594.12L256.95,597.00L257.16,599.81L257.37,602.52L257.58,605.15L257.80,607.67L258.01,610.08L258.22,612.38L258.44,614.54L258.65,616.56L258.86,618.41L259.07,620.05L259.29,621.42L259.50,622.30L259.50,622.30Z" fill="#e60000" stroke="#300" stroke-width="0.35"/>
<path d="M269.90,622.30L269.90,622.30L270.25,621.07L270.61,618.65L270.96,615.51L271.32,611.97L271.67,608.30L272.02,604.75L272.38,601.55L272.73,598.90L273.08,596.96L273.44,595.85L273.79,595.60L274.15,595.70L274.50,595.94L274.85,596.30L275.21,596.78L275.56,597.39L275.92,598.11L276.27,598.95L276.62,599.89L276.98,600.92L277.33,602.03L277.68,603.23L278.04,604.48L278.39,605.79L278.75,607.14L279.10,608.52L279.45,609.92L279.81,611.32L280.16,612.70L280.52,614.06L280.87,615.38L281.22,616.64L281.58,617.83L281.93,618.93L282.28,619.92L282.64,620.79L282.99,621.51L283.35,622.04L283.70,622.30L283.70,622.30Z" fill="#e60000" stroke="#300" stroke-width="0.35"/>
<path d="M250.20,622.30L250.20,621.70L250.42,621.70L250.63,621.70L250.85,621.70L251.07,621.70L251.28,621.70L251.50,621.70L251.72,620.87L251.94,619.31L252.15,617.50L252.37,615.48L252.59,613.30L252.80,610.97L253.02,608.51L253.24,605.92L253.45,603.23L253.67,600.44L253.89,597.54L254.11,594.56L254.32,591.50L254.54,588.35L254.76,585.12L254.97,581.82L255.19,578.45L255.41,575.01L255.62,572.35L255.84,576.28L256.06,580.13L256.28,583.89L256.49,587.56L256.71,591.13L256.93,594.59L257.14,597.95L257.36,601.19L257.58,604.31L257.79,607.29L258.01,610.12L258.23,612.80L258.45,612.90L258.66,612.90L258.88,612.90L259.10,612.90L259.31,612.90L259.53,612.90L259.75,612.90L259.96,612.90L260.18,612.90L260.40,612.90L260.62,612.90L260.83,612.90L261.05,612.90L261.27,612.90L261.48,612.90L261.70,612.90L261.92,612.90L262.13,612.90L262.35,612.90L262.57,612.90L262.78,612.90L263.00,612.90L263.22,612.90L263.44,612.90L263.65,612.90L263.87,612.90L264.09,612.90L264.30,612.90L264.52,612.90L264.74,612.90L264.95,612.90L265.17,612.90L265.39,612.90L265.61,612.90L265.82,612.90L266.04,612.90L266.26,612.90L266.47,612.90L266.69,612.90L266.91,612.90L267.12,612.90L267.34,612.90L267.56,612.90L267.78,612.90L267.99,612.90L268.21,612.90L268.43,612.90L268.64,612.90L268.86,612.90L269.08,612.90L269.29,612.90L269.51,612.90L269.73,612.90L269.95,612.90L270.16,612.90L270.38,612.17L270.60,610.07L270.81,607.97L271.03,605.91L271.25,603.91L271.46,601.99L271.68,600.17L271.90,598.48L272.12,596.93L272.33,595.55L272.55,594.34L272.77,593.32L272.98,592.50L273.20,591.88L273.42,591.49L273.63,591.31L273.85,591.31L274.07,591.37L274.28,591.48L274.50,591.65L274.72,591.86L274.94,592.12L275.15,592.43L275.37,592.79L275.59,593.19L275.80,593.64L276.02,594.14L276.24,594.68L276.45,595.26L276.67,595.89L276.89,596.55L277.11,597.25L277.32,597.99L277.54,598.76L277.76,599.57L277.97,600.40L278.19,601.27L278.41,602.16L278.62,603.07L278.84,604.01L279.06,604.96L279.28,605.93L279.49,606.91L279.71,607.90L279.93,608.91L280.14,609.91L280.36,610.92L280.58,611.92L280.79,612.92L281.01,613.91L281.23,614.89L281.45,615.85L281.66,616.79L281.88,617.70L282.10,618.58L282.31,619.42L282.53,620.21L282.75,620.94L282.96,621.59L283.18,621.70L283.40,621.70L283.62,621.70L283.83,621.70L284.05,621.70L284.27,621.70L284.48,621.70L284.70,621.70" fill="none" stroke="#222" stroke-width="0.45"/>
<line x1="233.1" y1="561.8" x2="233.1" y2="622.3" stroke="#888" stroke-width="0.6"/>
<line x1="232.29999999999998" y1="561.8" x2="232.29999999999998" y2="622.3" stroke="#777" stroke-width="1" stroke-dasharray="0.5 1.6"/>
<line x1="233.1" y1="622.3" x2="304.1" y2="622.3" stroke="#999" stroke-width="0.6"/>
<line x1="233.1" y1="623.0999999999999" x2="304.1" y2="623.0999999999999" stroke="#888" stroke-width="1" stroke-dasharray="0.5 1.6"/>
<text x="230.50" y="610.50" font-size="2.6" text-anchor="middle" dominant-baseline="central" fill="#333" transform="rotate(-90 230.50 610.50)">20</text>
<text x="230.50" y="598.70" font-size="2.6" text-anchor="middle" dominant-baseline="central" fill="#333" transform="rotate(-90 230.50 598.70)">40</text>
<text x="230.50" y="586.90" font-size="2.6" text-anchor="middle" dominant-baseline="central" fill="#333" transform="rotate(-90 230.50 586.90)">60</text>
<text x="230.50" y="575.10" font-size="2.6" text-anchor="middle" dominant-baseline="central" fill="#333" transform="rotate(-90 230.50 575.10)">80</text>
<text x="230.50" y="563.30" font-size="2.6" text-anchor="middle" dominant-baseline="central" fill="#333" transform="rotate(-90 230.50 563.30)">100</text>
<text x="233.60" y="625.70" font-size="2.6" text-anchor="middle" dominant-baseline="central" fill="#333">0</text>
<text x="247.70" y="625.70" font-size="2.6" text-anchor="middle" dominant-baseline="central" fill="#333">40</text>
<text x="261.80" y="625.70" font-size="2.6" text-anchor="middle" dominant-baseline="central" fill="#333">80</text>
<text x="275.90" y="625.70" font-size="2.6" text-anchor="middle" dominant-baseline="central" fill="#333">120</text>
<text x="290.00" y="625.70" font-size="2.6" text-anchor="middle" dominant-baseline="central" fill="#333">160</text>
<text x="304.10" y="625.70" font-size="2.6" text-anchor="middle" dominant-baseline="central" fill="#333">200</text>
<text x="264.10" y="628.10" font-size="2.9" text-anchor="middle" dominant-baseline="central" fill="#111">Channels (FL3-A)</text>
<text x="228.50" y="592.80" font-size="2.8" text-anchor="middle" dominant-baseline="central" fill="#333" transform="rotate(-90 228.50 592.80)">Number</text>
<path d="M337.00,623.00L337.00,623.00L337.59,622.25L338.18,620.57L338.77,618.79L339.36,617.75L339.95,617.70L340.54,617.70L341.13,617.70L341.72,617.70L342.31,617.70L342.90,617.70L343.49,617.70L344.08,617.70L344.67,617.70L345.26,617.70L345.85,617.70L346.44,617.70L347.03,617.70L347.62,617.70L348.21,617.70L348.79,617.70L349.38,617.70L349.97,617.70L350.56,617.70L351.15,617.70L351.74,617.70L352.33,617.70L352.92,617.70L353.51,617.70L354.10,617.70L354.69,617.70L355.28,617.70L355.87,617.70L356.46,617.70L357.05,618.05L357.64,619.02L358.23,620.31L358.82,621.60L359.41,622.60L360.00,623.00L360.00,623.00Z" fill="#c6c6f0" stroke="#8a8ac8" stroke-width="0.35"/>
<path d="M330.30,623.00L330.30,623.00L330.52,622.21L330.73,621.00L330.95,619.54L331.16,617.90L331.38,616.10L331.59,614.18L331.81,612.14L332.02,609.99L332.24,607.75L332.45,605.42L332.67,603.00L332.88,600.51L333.10,597.94L333.32,595.31L333.53,592.60L333.75,589.83L333.96,587.01L334.18,584.12L334.39,581.17L334.61,578.18L334.82,575.12L335.04,572.02L335.25,568.87L335.47,568.29L335.68,573.15L335.90,577.90L336.12,582.52L336.33,587.01L336.55,591.35L336.76,595.55L336.98,599.58L337.19,603.45L337.41,607.12L337.62,610.58L337.84,613.81L338.05,616.77L338.27,619.40L338.48,621.59L338.70,623.00L338.70,623.00Z" fill="#e60000" stroke="#300" stroke-width="0.35"/>
<path d="M355.90,623.00L355.90,623.00L356.20,622.41L356.51,621.26L356.81,619.84L357.11,618.36L357.41,616.99L357.72,615.91L358.02,615.22L358.32,615.00L358.62,615.02L358.93,615.07L359.23,615.15L359.53,615.27L359.83,615.41L360.14,615.59L360.44,615.79L360.74,616.02L361.04,616.28L361.35,616.56L361.65,616.86L361.95,617.18L362.25,617.52L362.56,617.87L362.86,618.23L363.16,618.60L363.46,618.98L363.77,619.36L364.07,619.74L364.37,620.12L364.67,620.49L364.98,620.85L365.28,621.20L365.58,621.53L365.88,621.84L366.19,622.13L366.49,622.39L366.79,622.61L367.09,622.80L367.40,622.93L367.70,623.00L367.70,623.00Z" fill="#e60000" stroke="#300" stroke-width="0.35"/>
<path d="M329.30,623.00L329.30,622.40L329.55,622.40L329.80,622.40L330.04,622.40L330.29,622.40L330.54,622.40L330.79,622.07L331.03,620.51L331.28,618.62L331.53,616.50L331.78,614.18L332.03,611.68L332.27,609.03L332.52,606.25L332.77,603.33L333.02,600.31L333.26,597.17L333.51,593.93L333.76,590.60L334.01,587.17L334.26,583.65L334.50,580.06L334.75,576.38L335.00,572.63L335.25,568.80L335.49,568.70L335.74,574.59L335.99,580.30L336.24,585.81L336.49,591.13L336.73,596.22L336.98,601.07L337.23,605.66L337.48,609.95L337.73,613.90L337.97,617.44L338.22,619.84L338.47,619.06L338.72,618.34L338.96,617.73L339.21,617.29L339.46,617.10L339.71,617.10L339.96,617.10L340.20,617.10L340.45,617.10L340.70,617.10L340.95,617.10L341.19,617.10L341.44,617.10L341.69,617.10L341.94,617.10L342.19,617.10L342.43,617.10L342.68,617.10L342.93,617.10L343.18,617.10L343.42,617.10L343.67,617.10L343.92,617.10L344.17,617.10L344.42,617.10L344.66,617.10L344.91,617.10L345.16,617.10L345.41,617.10L345.65,617.10L345.90,617.10L346.15,617.10L346.40,617.10L346.65,617.10L346.89,617.10L347.14,617.10L347.39,617.10L347.64,617.10L347.88,617.10L348.13,617.10L348.38,617.10L348.63,617.10L348.88,617.10L349.12,617.10L349.37,617.10L349.62,617.10L349.87,617.10L350.12,617.10L350.36,617.10L350.61,617.10L350.86,617.10L351.11,617.10L351.35,617.10L351.60,617.10L351.85,617.10L352.10,617.10L352.35,617.10L352.59,617.10L352.84,617.10L353.09,617.10L353.34,617.10L353.58,617.10L353.83,617.10L354.08,617.10L354.33,617.10L354.58,617.10L354.82,617.10L355.07,617.10L355.32,617.10L355.57,617.10L355.81,617.10L356.06,617.10L356.31,617.10L356.56,616.60L356.81,615.72L357.05,614.93L357.30,614.26L357.55,613.73L357.80,613.33L358.04,613.09L358.29,613.00L358.54,613.01L358.79,613.05L359.04,613.11L359.28,613.19L359.53,613.30L359.78,613.43L360.03,613.58L360.27,613.76L360.52,613.95L360.77,614.17L361.02,614.41L361.27,614.67L361.51,614.94L361.76,615.24L362.01,615.55L362.26,615.87L362.51,616.21L362.75,616.56L363.00,616.92L363.25,617.29L363.50,617.67L363.74,618.06L363.99,618.45L364.24,618.84L364.49,619.24L364.74,619.63L364.98,620.03L365.23,620.41L365.48,620.79L365.73,621.17L365.97,621.53L366.22,621.87L366.47,622.19L366.72,622.40L366.97,622.40L367.21,622.40L367.46,622.40L367.71,622.40L367.96,622.40L368.20,622.40L368.45,622.40L368.70,622.40" fill="none" stroke="#222" stroke-width="0.45"/>
<line x1="313.7" y1="562.5" x2="313.7" y2="623.0" stroke="#888" stroke-width="0.6"/>
<line x1="312.9" y1="562.5" x2="312.9" y2="623.0" stroke="#777" stroke-width="1" stroke-dasharray="0.5 1.6"/>
<line x1="313.7" y1="623.0" x2="384.7" y2="623.0" stroke="#999" stroke-width="0.6"/>
<line x1="313.7" y1="623.8" x2="384.7" y2="623.8" stroke="#888" stroke-width="1" stroke-dasharray="0.5 1.6"/>
<text x="311.10" y="611.20" font-size="2.6" text-anchor="middle" dominant-baseline="central" fill="#333" transform="rotate(-90 311.10 611.20)">20</text>
<text x="311.10" y="599.40" font-size="2.6" text-anchor="middle" dominant-baseline="central" fill="#333" transform="rotate(-90 311.10 599.40)">40</text>
<text x="311.10" y="587.60" font-size="2.6" text-anchor="middle" dominant-baseline="central" fill="#333" transform="rotate(-90 311.10 587.60)">60</text>
<text x="311.10" y="575.80" font-size="2.6" text-anchor="middle" dominant-baseline="central" fill="#333" transform="rotate(-90 311.10 575.80)">80</text>
<text x="311.10" y="564.00" font-size="2.6" text-anchor="middle" dominant-baseline="central" fill="#333" transform="rotate(-90 311.10 564.00)">100</text>
<text x="314.20" y="626.40" font-size="2.6" text-anchor="middle" dominant-baseline="central" fill="#333">0</text>
<text x="328.30" y="626.40" font-size="2.6" text-anchor="middle" dominant-baseline="central" fill="#333">40</text>
<text x="342.40" y="626.40" font-size="2.6" text-anchor="middle" dominant-baseline="central" fill="#333">80</text>
<text x="356.50" y="626.40" font-size="2.6" text-anchor="middle" dominant-baseline="central" fill="#333">120</text>
<text x="370.60" y="626.40" font-size="2.6" text-anchor="middle" dominant-baseline="central" fill="#333">160</text>
<text x="384.70" y="626.40" font-size="2.6" text-anchor="middle" dominant-baseline="central" fill="#333">200</text>
<text x="344.70" y="628.80" font-size="2.9" text-anchor="middle" dominant-baseline="central" fill="#111">Channels (FL3-A)</text>
<text x="309.10" y="593.50" font-size="2.8" text-anchor="middle" dominant-baseline="central" fill="#333" transform="rotate(-90 309.10 593.50)">Number</text>
<path d="M405.90,622.70L405.90,622.70L406.17,622.55L406.45,622.25L406.72,621.88L406.99,621.46L407.27,621.05L407.54,620.67L407.82,620.35L408.09,620.13L408.36,620.01L408.64,620.01L408.91,620.13L409.18,620.35L409.46,620.67L409.73,621.05L410.01,621.46L410.28,621.88L410.55,622.25L410.83,622.55L411.10,622.70L411.10,622.70Z" fill="#3cc4c4" stroke="#066" stroke-width="0.3"/>
<path d="M418.50,622.70L418.50,622.70L418.85,622.29L419.19,621.37L419.54,620.38L419.88,619.75L420.23,619.70L420.58,619.70L420.92,619.70L421.27,619.70L421.62,619.70L421.96,619.70L422.31,619.70L422.65,619.70L423.00,619.70L423.35,619.70L423.69,619.70L424.04,619.70L424.38,619.70L424.73,619.70L425.08,619.70L425.42,619.70L425.77,619.70L426.12,619.70L426.46,619.70L426.81,619.70L427.15,619.70L427.50,619.70L427.85,619.70L428.19,619.70L428.54,619.70L428.88,619.70L429.23,619.75L429.58,619.99L429.92,620.38L430.27,620.86L430.62,621.37L430.96,621.87L431.31,622.29L431.65,622.59L432.00,622.70L432.00,622.70Z" fill="#c6c6f0" stroke="#8a8ac8" stroke-width="0.35"/>
<path d="M411.00,622.70L411.00,622.70L411.21,621.55L411.41,619.77L411.62,617.63L411.82,615.23L412.03,612.60L412.23,609.79L412.44,606.80L412.64,603.66L412.85,600.37L413.05,596.96L413.26,593.43L413.46,589.78L413.67,586.02L413.87,582.16L414.08,578.20L414.28,574.15L414.49,570.01L414.69,569.25L414.90,572.66L415.10,576.01L415.31,579.29L415.51,582.52L415.72,585.67L415.92,588.76L416.13,591.78L416.33,594.73L416.54,597.59L416.74,600.37L416.95,603.07L417.15,605.67L417.36,608.18L417.56,610.57L417.77,612.85L417.97,615.00L418.18,617.00L418.38,618.84L418.59,620.46L418.79,621.82L419.00,622.70L419.00,622.70Z" fill="#e60000" stroke="#300" stroke-width="0.35"/>
<path d="M429.50,622.70L429.50,622.70L429.79,622.29L430.09,621.51L430.38,620.55L430.68,619.57L430.97,618.71L431.27,618.07L431.56,617.74L431.86,617.70L432.15,617.72L432.45,617.76L432.74,617.82L433.04,617.90L433.33,618.00L433.63,618.11L433.92,618.25L434.22,618.39L434.51,618.56L434.81,618.73L435.10,618.92L435.40,619.12L435.69,619.33L435.99,619.55L436.28,619.78L436.58,620.01L436.87,620.24L437.17,620.47L437.46,620.71L437.76,620.94L438.05,621.17L438.35,621.39L438.64,621.60L438.94,621.80L439.23,621.99L439.53,622.17L439.82,622.33L440.12,622.46L440.41,622.58L440.71,622.66L441.00,622.70L441.00,622.70Z" fill="#e60000" stroke="#300" stroke-width="0.35"/>
<path d="M410.00,622.70L410.00,622.10L410.20,622.10L410.40,622.10L410.60,622.10L410.81,622.10L411.01,622.10L411.21,622.10L411.41,621.26L411.61,619.33L411.81,617.05L412.01,614.49L412.21,611.70L412.42,608.72L412.62,605.56L412.82,602.24L413.02,598.77L413.22,595.17L413.42,591.44L413.62,587.59L413.82,583.63L414.03,579.56L414.23,575.40L414.43,571.13L414.63,567.92L414.83,571.47L415.03,574.96L415.23,578.39L415.43,581.75L415.64,585.04L415.84,588.26L416.04,591.40L416.24,594.46L416.44,597.44L416.64,600.32L416.84,603.12L417.04,605.81L417.25,608.40L417.45,610.87L417.65,613.22L417.85,615.42L418.05,617.46L418.25,619.31L418.45,620.93L418.65,622.01L418.86,621.67L419.06,621.17L419.26,620.58L419.46,619.99L419.66,619.49L419.86,619.17L420.06,619.10L420.26,619.10L420.47,619.10L420.67,619.10L420.87,619.10L421.07,619.10L421.27,619.10L421.47,619.10L421.67,619.10L421.87,619.10L422.08,619.10L422.28,619.10L422.48,619.10L422.68,619.10L422.88,619.10L423.08,619.10L423.28,619.10L423.48,619.10L423.69,619.10L423.89,619.10L424.09,619.10L424.29,619.10L424.49,619.10L424.69,619.10L424.89,619.10L425.09,619.10L425.30,619.10L425.50,619.10L425.70,619.10L425.90,619.10L426.10,619.10L426.30,619.10L426.50,619.10L426.70,619.10L426.91,619.10L427.11,619.10L427.31,619.10L427.51,619.10L427.71,619.10L427.91,619.10L428.11,619.10L428.31,619.10L428.52,619.10L428.72,619.10L428.92,619.10L429.12,619.11L429.32,619.20L429.52,619.34L429.72,619.54L429.92,619.78L430.13,620.05L430.33,620.13L430.53,619.43L430.73,618.79L430.93,618.23L431.13,617.77L431.33,617.44L431.53,617.25L431.74,617.20L431.94,617.21L432.14,617.22L432.34,617.24L432.54,617.27L432.74,617.31L432.94,617.36L433.14,617.41L433.35,617.47L433.55,617.54L433.75,617.62L433.95,617.70L434.15,617.80L434.35,617.89L434.55,618.00L434.75,618.11L434.96,618.23L435.16,618.35L435.36,618.48L435.56,618.62L435.76,618.76L435.96,618.90L436.16,619.05L436.36,619.21L436.57,619.36L436.77,619.52L436.97,619.69L437.17,619.85L437.37,620.02L437.57,620.19L437.77,620.36L437.97,620.53L438.18,620.70L438.38,620.87L438.58,621.04L438.78,621.21L438.98,621.38L439.18,621.54L439.38,621.70L439.58,621.85L439.79,622.01L439.99,622.10L440.19,622.10L440.39,622.10L440.59,622.10L440.79,622.10L440.99,622.10L441.19,622.10L441.40,622.10L441.60,622.10L441.80,622.10L442.00,622.10" fill="none" stroke="#222" stroke-width="0.45"/>
<line x1="393.7" y1="562.2" x2="393.7" y2="622.7" stroke="#888" stroke-width="0.6"/>
<line x1="392.9" y1="562.2" x2="392.9" y2="622.7" stroke="#777" stroke-width="1" stroke-dasharray="0.5 1.6"/>
<line x1="393.7" y1="622.7" x2="464.7" y2="622.7" stroke="#999" stroke-width="0.6"/>
<line x1="393.7" y1="623.5" x2="464.7" y2="623.5" stroke="#888" stroke-width="1" stroke-dasharray="0.5 1.6"/>
<text x="391.10" y="610.90" font-size="2.6" text-anchor="middle" dominant-baseline="central" fill="#333" transform="rotate(-90 391.10 610.90)">20</text>
<text x="391.10" y="599.10" font-size="2.6" text-anchor="middle" dominant-baseline="central" fill="#333" transform="rotate(-90 391.10 599.10)">40</text>
<text x="391.10" y="587.30" font-size="2.6" text-anchor="middle" dominant-baseline="central" fill="#333" transform="rotate(-90 391.10 587.30)">60</text>
<text x="391.10" y="575.50" font-size="2.6" text-anchor="middle" dominant-baseline="central" fill="#333" transform="rotate(-90 391.10 575.50)">80</text>
<text x="391.10" y="563.70" font-size="2.6" text-anchor="middle" dominant-baseline="central" fill="#333" transform="rotate(-90 391.10 563.70)">100</text>
<text x="394.20" y="626.10" font-size="2.6" text-anchor="middle" dominant-baseline="central" fill="#333">0</text>
<text x="408.30" y="626.10" font-size="2.6" text-anchor="middle" dominant-baseline="central" fill="#333">40</text>
<text x="422.40" y="626.10" font-size="2.6" text-anchor="middle" dominant-baseline="central" fill="#333">80</text>
<text x="436.50" y="626.10" font-size="2.6" text-anchor="middle" dominant-baseline="central" fill="#333">120</text>
<text x="450.60" y="626.10" font-size="2.6" text-anchor="middle" dominant-baseline="central" fill="#333">160</text>
<text x="464.70" y="626.10" font-size="2.6" text-anchor="middle" dominant-baseline="central" fill="#333">200</text>
<text x="424.70" y="628.50" font-size="2.9" text-anchor="middle" dominant-baseline="central" fill="#111">Channels (FL3-A)</text>
<text x="389.10" y="593.20" font-size="2.8" text-anchor="middle" dominant-baseline="central" fill="#333" transform="rotate(-90 389.10 593.20)">Number</text>
<path d="M93.00,701.00L93.00,701.00L93.44,700.60L93.87,699.67L94.31,698.61L94.74,697.85L95.18,697.70L95.62,697.70L96.05,697.70L96.49,697.70L96.92,697.70L97.36,697.70L97.79,697.70L98.23,697.70L98.67,697.70L99.10,697.70L99.54,697.70L99.97,697.70L100.41,697.70L100.85,697.70L101.28,697.70L101.72,697.70L102.15,697.70L102.59,697.70L103.03,697.70L103.46,697.70L103.90,697.70L104.33,697.70L104.77,697.70L105.21,697.70L105.64,697.70L106.08,697.70L106.51,697.70L106.95,697.70L107.38,697.70L107.82,697.85L108.26,698.42L108.69,699.24L109.13,700.08L109.56,700.73L110.00,701.00L110.00,701.00Z" fill="#c6c6f0" stroke="#8a8ac8" stroke-width="0.35"/>
<path d="M88.70,701.00L88.70,701.00L88.84,700.07L88.97,698.63L89.11,696.90L89.24,694.96L89.38,692.83L89.52,690.55L89.65,688.13L89.79,685.59L89.92,682.94L90.06,680.17L90.19,677.32L90.33,674.36L90.47,671.32L90.60,668.20L90.74,665.00L90.87,661.72L91.01,658.37L91.15,654.95L91.28,651.47L91.42,653.93L91.55,657.24L91.69,660.49L91.83,663.67L91.96,666.79L92.10,669.83L92.23,672.80L92.37,675.69L92.51,678.49L92.64,681.21L92.78,683.83L92.91,686.36L93.05,688.77L93.18,691.07L93.32,693.24L93.46,695.26L93.59,697.10L93.73,698.75L93.86,700.12L94.00,701.00L94.00,701.00Z" fill="#e60000" stroke="#300" stroke-width="0.35"/>
<path d="M108.00,701.00L108.00,701.00L108.26,700.82L108.51,700.44L108.77,699.95L109.03,699.37L109.28,698.73L109.54,698.05L109.79,697.35L110.05,696.67L110.31,696.02L110.56,695.42L110.82,694.89L111.08,694.44L111.33,694.09L111.59,693.85L111.85,693.72L112.10,693.70L112.36,693.75L112.62,693.85L112.87,694.00L113.13,694.20L113.38,694.44L113.64,694.73L113.90,695.06L114.15,695.42L114.41,695.82L114.67,696.23L114.92,696.67L115.18,697.13L115.44,697.59L115.69,698.05L115.95,698.50L116.21,698.95L116.46,699.37L116.72,699.77L116.97,700.13L117.23,700.44L117.49,700.71L117.74,700.90L118.00,701.00L118.00,701.00Z" fill="#e60000" stroke="#300" stroke-width="0.35"/>
<path d="M87.70,701.00L87.70,700.40L87.90,700.40L88.09,700.40L88.29,700.40L88.49,700.40L88.68,700.40L88.88,700.40L89.08,698.74L89.27,696.03L89.47,692.85L89.67,689.30L89.87,685.45L90.06,681.33L90.26,676.97L90.46,672.40L90.65,667.62L90.85,662.67L91.05,657.54L91.24,652.25L91.44,654.38L91.64,659.41L91.83,664.30L92.03,669.01L92.23,673.56L92.42,677.92L92.62,682.07L92.82,686.00L93.02,689.68L93.21,693.07L93.41,696.11L93.61,698.72L93.80,699.23L94.00,698.75L94.20,698.27L94.39,697.83L94.59,697.46L94.79,697.20L94.98,697.10L95.18,697.10L95.38,697.10L95.57,697.10L95.77,697.10L95.97,697.10L96.16,697.10L96.36,697.10L96.56,697.10L96.76,697.10L96.95,697.10L97.15,697.10L97.35,697.10L97.54,697.10L97.74,697.10L97.94,697.10L98.13,697.10L98.33,697.10L98.53,697.10L98.72,697.10L98.92,697.10L99.12,697.10L99.31,697.10L99.51,697.10L99.71,697.10L99.91,697.10L100.10,697.10L100.30,697.10L100.50,697.10L100.69,697.10L100.89,697.10L101.09,697.10L101.28,697.10L101.48,697.10L101.68,697.10L101.87,697.10L102.07,697.10L102.27,697.10L102.46,697.10L102.66,697.10L102.86,697.10L103.05,697.10L103.25,697.10L103.45,697.10L103.65,697.10L103.84,697.10L104.04,697.10L104.24,697.10L104.43,697.10L104.63,697.10L104.83,697.10L105.02,697.10L105.22,697.10L105.42,697.10L105.61,697.10L105.81,697.10L106.01,697.10L106.20,697.10L106.40,697.10L106.60,697.10L106.79,697.10L106.99,697.10L107.19,697.10L107.39,697.10L107.58,697.11L107.78,697.21L107.98,697.41L108.17,697.69L108.37,698.02L108.57,698.39L108.76,698.78L108.96,698.87L109.16,698.33L109.35,697.77L109.55,697.23L109.75,696.69L109.94,696.17L110.14,695.68L110.34,695.22L110.54,694.79L110.73,694.41L110.93,694.07L111.13,693.79L111.32,693.55L111.52,693.38L111.72,693.26L111.91,693.21L112.11,693.20L112.31,693.23L112.50,693.29L112.70,693.37L112.90,693.48L113.09,693.61L113.29,693.77L113.49,693.95L113.68,694.16L113.88,694.38L114.08,694.63L114.28,694.90L114.47,695.19L114.67,695.49L114.87,695.81L115.06,696.14L115.26,696.48L115.46,696.83L115.65,697.19L115.85,697.55L116.05,697.92L116.24,698.29L116.44,698.65L116.64,699.01L116.83,699.37L117.03,699.71L117.23,700.03L117.43,700.34L117.62,700.40L117.82,700.40L118.02,700.40L118.21,700.40L118.41,700.40L118.61,700.40L118.80,700.40L119.00,700.40" fill="none" stroke="#222" stroke-width="0.45"/>
<line x1="72.9" y1="640.5" x2="72.9" y2="701.0" stroke="#888" stroke-width="0.6"/>
<line x1="72.10000000000001" y1="640.5" x2="72.10000000000001" y2="701.0" stroke="#777" stroke-width="1" stroke-dasharray="0.5 1.6"/>
<line x1="72.9" y1="701.0" x2="143.9" y2="701.0" stroke="#999" stroke-width="0.6"/>
<line x1="72.9" y1="701.8" x2="143.9" y2="701.8" stroke="#888" stroke-width="1" stroke-dasharray="0.5 1.6"/>
<text x="70.30" y="689.20" font-size="2.6" text-anchor="middle" dominant-baseline="central" fill="#333" transform="rotate(-90 70.30 689.20)">20</text>
<text x="70.30" y="677.40" font-size="2.6" text-anchor="middle" dominant-baseline="central" fill="#333" transform="rotate(-90 70.30 677.40)">40</text>
<text x="70.30" y="665.60" font-size="2.6" text-anchor="middle" dominant-baseline="central" fill="#333" transform="rotate(-90 70.30 665.60)">60</text>
<text x="70.30" y="653.80" font-size="2.6" text-anchor="middle" dominant-baseline="central" fill="#333" transform="rotate(-90 70.30 653.80)">80</text>
<text x="70.30" y="642.00" font-size="2.6" text-anchor="middle" dominant-baseline="central" fill="#333" transform="rotate(-90 70.30 642.00)">100</text>
<text x="73.40" y="704.40" font-size="2.6" text-anchor="middle" dominant-baseline="central" fill="#333">0</text>
<text x="87.50" y="704.40" font-size="2.6" text-anchor="middle" dominant-baseline="central" fill="#333">40</text>
<text x="101.60" y="704.40" font-size="2.6" text-anchor="middle" dominant-baseline="central" fill="#333">80</text>
<text x="115.70" y="704.40" font-size="2.6" text-anchor="middle" dominant-baseline="central" fill="#333">120</text>
<text x="129.80" y="704.40" font-size="2.6" text-anchor="middle" dominant-baseline="central" fill="#333">160</text>
<text x="143.90" y="704.40" font-size="2.6" text-anchor="middle" dominant-baseline="central" fill="#333">200</text>
<text x="103.90" y="706.80" font-size="2.9" text-anchor="middle" dominant-baseline="central" fill="#111">Channels (FL3-A)</text>
<text x="68.30" y="671.50" font-size="2.8" text-anchor="middle" dominant-baseline="central" fill="#333" transform="rotate(-90 68.30 671.50)">Number</text>
<path d="M177.00,701.00L177.00,701.00L177.51,700.07L178.03,698.04L178.54,696.07L179.05,695.30L179.56,695.30L180.08,695.30L180.59,695.30L181.10,695.30L181.62,695.30L182.13,695.30L182.64,695.30L183.15,695.30L183.67,695.30L184.18,695.30L184.69,695.30L185.21,695.30L185.72,695.30L186.23,695.30L186.74,695.30L187.26,695.30L187.77,695.30L188.28,695.30L188.79,695.30L189.31,695.30L189.82,695.30L190.33,695.30L190.85,695.30L191.36,695.30L191.87,695.30L192.38,695.30L192.90,695.30L193.41,695.30L193.92,695.30L194.44,695.30L194.95,695.78L195.46,697.18L195.97,698.91L196.49,700.38L197.00,701.00L197.00,701.00Z" fill="#c6c6f0" stroke="#8a8ac8" stroke-width="0.35"/>
<path d="M171.70,701.00L171.70,701.00L171.86,700.08L172.02,698.65L172.18,696.93L172.35,695.00L172.51,692.89L172.67,690.63L172.83,688.23L172.99,685.71L173.15,683.08L173.32,680.34L173.48,677.50L173.64,674.57L173.80,671.55L173.96,668.45L174.12,665.28L174.28,662.03L174.45,658.70L174.61,655.31L174.77,651.85L174.93,649.70L175.09,653.31L175.25,656.85L175.42,660.32L175.58,663.71L175.74,667.03L175.90,670.26L176.06,673.41L176.22,676.47L176.38,679.43L176.55,682.29L176.71,685.04L176.87,687.67L177.03,690.18L177.19,692.54L177.35,694.74L177.52,696.75L177.68,698.54L177.84,700.04L178.00,701.00L178.00,701.00Z" fill="#e60000" stroke="#300" stroke-width="0.35"/>
<path d="M195.00,701.00L195.00,701.00L195.26,700.69L195.53,700.09L195.79,699.29L196.06,698.39L196.32,697.45L196.58,696.51L196.85,695.65L197.11,694.90L197.38,694.31L197.64,693.90L197.91,693.71L198.17,693.71L198.43,693.75L198.70,693.83L198.96,693.95L199.23,694.10L199.49,694.29L199.75,694.50L200.02,694.75L200.28,695.03L200.55,695.33L200.81,695.66L201.07,696.00L201.34,696.36L201.60,696.74L201.87,697.12L202.13,697.51L202.39,697.90L202.66,698.29L202.92,698.67L203.19,699.04L203.45,699.40L203.72,699.73L203.98,700.05L204.24,700.33L204.51,700.57L204.77,700.78L205.04,700.93L205.30,701.00L205.30,701.00Z" fill="#e60000" stroke="#300" stroke-width="0.35"/>
<path d="M170.70,701.00L170.70,700.40L170.92,700.40L171.15,700.40L171.37,700.40L171.60,700.40L171.82,700.40L172.04,699.82L172.27,697.53L172.49,694.74L172.72,691.56L172.94,688.08L173.16,684.34L173.39,680.36L173.61,676.17L173.83,671.79L174.06,667.23L174.28,662.51L174.51,657.63L174.73,652.60L174.95,649.99L175.18,655.25L175.40,660.36L175.63,665.31L175.85,670.08L176.07,674.67L176.30,679.06L176.52,683.23L176.75,687.17L176.97,690.83L177.19,694.17L177.42,697.13L177.64,699.02L177.86,698.12L178.09,697.17L178.31,696.26L178.54,695.48L178.76,694.93L178.98,694.70L179.21,694.70L179.43,694.70L179.66,694.70L179.88,694.70L180.10,694.70L180.33,694.70L180.55,694.70L180.78,694.70L181.00,694.70L181.22,694.70L181.45,694.70L181.67,694.70L181.89,694.70L182.12,694.70L182.34,694.70L182.57,694.70L182.79,694.70L183.01,694.70L183.24,694.70L183.46,694.70L183.69,694.70L183.91,694.70L184.13,694.70L184.36,694.70L184.58,694.70L184.81,694.70L185.03,694.70L185.25,694.70L185.48,694.70L185.70,694.70L185.93,694.70L186.15,694.70L186.37,694.70L186.60,694.70L186.82,694.70L187.04,694.70L187.27,694.70L187.49,694.70L187.72,694.70L187.94,694.70L188.16,694.70L188.39,694.70L188.61,694.70L188.84,694.70L189.06,694.70L189.28,694.70L189.51,694.70L189.73,694.70L189.96,694.70L190.18,694.70L190.40,694.70L190.63,694.70L190.85,694.70L191.07,694.70L191.30,694.70L191.52,694.70L191.75,694.70L191.97,694.70L192.19,694.70L192.42,694.70L192.64,694.70L192.87,694.70L193.09,694.70L193.31,694.70L193.54,694.70L193.76,694.70L193.99,694.70L194.21,694.70L194.43,694.70L194.66,694.76L194.88,695.06L195.11,695.54L195.33,696.16L195.55,696.49L195.78,695.77L196.00,695.07L196.22,694.42L196.45,693.81L196.67,693.27L196.90,692.80L197.12,692.41L197.34,692.10L197.57,691.87L197.79,691.74L198.02,691.70L198.24,691.72L198.46,691.77L198.69,691.84L198.91,691.95L199.14,692.09L199.36,692.25L199.58,692.45L199.81,692.67L200.03,692.91L200.25,693.19L200.48,693.48L200.70,693.80L200.93,694.13L201.15,694.49L201.37,694.86L201.60,695.24L201.82,695.64L202.05,696.05L202.27,696.47L202.49,696.89L202.72,697.32L202.94,697.75L203.17,698.17L203.39,698.59L203.61,699.00L203.84,699.40L204.06,699.78L204.28,700.14L204.51,700.40L204.73,700.40L204.96,700.40L205.18,700.40L205.40,700.40L205.63,700.40L205.85,700.40L206.08,700.40L206.30,700.40" fill="none" stroke="#222" stroke-width="0.45"/>
<line x1="152.7" y1="640.5" x2="152.7" y2="701.0" stroke="#888" stroke-width="0.6"/>
<line x1="151.89999999999998" y1="640.5" x2="151.89999999999998" y2="701.0" stroke="#777" stroke-width="1" stroke-dasharray="0.5 1.6"/>
<line x1="152.7" y1="701.0" x2="223.7" y2="701.0" stroke="#999" stroke-width="0.6"/>
<line x1="152.7" y1="701.8" x2="223.7" y2="701.8" stroke="#888" stroke-width="1" stroke-dasharray="0.5 1.6"/>
<text x="150.10" y="689.20" font-size="2.6" text-anchor="middle" dominant-baseline="central" fill="#333" transform="rotate(-90 150.10 689.20)">20</text>
<text x="150.10" y="677.40" font-size="2.6" text-anchor="middle" dominant-baseline="central" fill="#333" transform="rotate(-90 150.10 677.40)">40</text>
<text x="150.10" y="665.60" font-size="2.6" text-anchor="middle" dominant-baseline="central" fill="#333" transform="rotate(-90 150.10 665.60)">60</text>
<text x="150.10" y="653.80" font-size="2.6" text-anchor="middle" dominant-baseline="central" fill="#333" transform="rotate(-90 150.10 653.80)">80</text>
<text x="150.10" y="642.00" font-size="2.6" text-anchor="middle" dominant-baseline="central" fill="#333" transform="rotate(-90 150.10 642.00)">100</text>
<text x="153.20" y="704.40" font-size="2.6" text-anchor="middle" dominant-baseline="central" fill="#333">0</text>
<text x="167.30" y="704.40" font-size="2.6" text-anchor="middle" dominant-baseline="central" fill="#333">40</text>
<text x="181.40" y="704.40" font-size="2.6" text-anchor="middle" dominant-baseline="central" fill="#333">80</text>
<text x="195.50" y="704.40" font-size="2.6" text-anchor="middle" dominant-baseline="central" fill="#333">120</text>
<text x="209.60" y="704.40" font-size="2.6" text-anchor="middle" dominant-baseline="central" fill="#333">160</text>
<text x="223.70" y="704.40" font-size="2.6" text-anchor="middle" dominant-baseline="central" fill="#333">200</text>
<text x="183.70" y="706.80" font-size="2.9" text-anchor="middle" dominant-baseline="central" fill="#111">Channels (FL3-A)</text>
<text x="148.10" y="671.50" font-size="2.8" text-anchor="middle" dominant-baseline="central" fill="#333" transform="rotate(-90 148.10 671.50)">Number</text>
<path d="M252.70,701.00L252.70,701.00L253.40,700.83L254.10,700.35L254.80,699.61L255.50,698.67L256.20,697.59L256.90,696.42L257.60,695.22L258.30,694.03L259.00,692.92L259.70,691.94L260.40,691.14L261.10,690.58L261.80,690.31L262.50,690.30L263.20,690.30L263.90,690.30L264.60,690.30L265.30,690.30L266.00,690.30L266.70,690.30L267.40,690.30L268.10,690.30L268.80,690.30L269.50,690.30L270.20,690.31L270.90,690.54L271.60,691.03L272.30,691.74L273.00,692.61L273.70,693.61L274.40,694.69L275.10,695.81L275.80,696.92L276.50,697.99L277.20,698.95L277.90,699.78L278.60,700.43L279.30,700.85L280.00,701.00L280.00,701.00Z" fill="#c6c6f0" stroke="#8a8ac8" stroke-width="0.35"/>
<path d="M250.40,701.00L250.40,701.00L250.65,700.21L250.89,698.99L251.14,697.53L251.38,695.88L251.63,694.08L251.88,692.15L252.12,690.10L252.37,687.94L252.62,685.69L252.86,683.35L253.11,680.93L253.35,678.43L253.60,675.85L253.85,673.21L254.09,670.49L254.34,667.72L254.58,664.88L254.83,661.98L255.08,659.03L255.32,656.60L255.57,659.72L255.82,662.79L256.06,665.79L256.31,668.73L256.55,671.60L256.80,674.40L257.05,677.12L257.29,679.77L257.54,682.33L257.78,684.81L258.03,687.19L258.28,689.47L258.52,691.63L258.77,693.68L259.02,695.58L259.26,697.33L259.51,698.87L259.75,700.17L260.00,701.00L260.00,701.00Z" fill="#e60000" stroke="#300" stroke-width="0.35"/>
<path d="M268.70,701.00L268.70,701.00L269.09,700.13L269.48,698.39L269.88,696.10L270.27,693.43L270.66,690.54L271.05,687.55L271.45,684.61L271.84,681.83L272.23,679.33L272.62,677.20L273.02,675.52L273.41,674.37L273.80,673.78L274.19,673.72L274.58,673.88L274.98,674.21L275.37,674.70L275.76,675.34L276.15,676.13L276.55,677.06L276.94,678.13L277.33,679.30L277.72,680.59L278.12,681.96L278.51,683.42L278.90,684.93L279.29,686.48L279.68,688.06L280.08,689.64L280.47,691.22L280.86,692.75L281.25,694.24L281.65,695.64L282.04,696.95L282.43,698.14L282.82,699.18L283.22,700.05L283.61,700.68L284.00,701.00L284.00,701.00Z" fill="#e60000" stroke="#300" stroke-width="0.35"/>
<path d="M249.40,701.00L249.40,700.40L249.62,700.40L249.85,700.40L250.07,700.40L250.30,700.40L250.52,700.40L250.74,700.40L250.97,699.51L251.19,697.97L251.42,696.18L251.64,694.20L251.86,692.05L252.09,689.76L252.31,687.34L252.53,684.80L252.76,682.16L252.98,679.42L253.21,676.58L253.43,673.66L253.65,670.65L253.88,667.56L254.10,664.40L254.33,661.16L254.55,657.85L254.77,654.48L255.00,651.04L255.22,647.54L255.45,648.69L255.67,652.32L255.89,655.87L256.12,659.36L256.34,662.77L256.56,666.11L256.79,669.36L257.01,672.53L257.24,675.61L257.46,678.60L257.68,681.49L257.91,684.27L258.13,686.93L258.36,689.47L258.58,691.87L258.80,692.62L259.03,692.28L259.25,691.95L259.48,691.64L259.70,691.34L259.92,691.06L260.15,690.80L260.37,690.57L260.59,690.36L260.82,690.17L261.04,690.02L261.27,689.89L261.49,689.79L261.71,689.73L261.94,689.70L262.16,689.70L262.39,689.70L262.61,689.70L262.83,689.70L263.06,689.70L263.28,689.70L263.51,689.70L263.73,689.70L263.95,689.70L264.18,689.70L264.40,689.70L264.63,689.70L264.85,689.70L265.07,689.70L265.30,689.70L265.52,689.70L265.74,689.70L265.97,689.70L266.19,689.70L266.42,689.70L266.64,689.70L266.86,689.70L267.09,689.70L267.31,689.70L267.54,689.70L267.76,689.70L267.98,689.70L268.21,689.70L268.43,689.70L268.66,689.70L268.88,689.70L269.10,689.70L269.33,689.70L269.55,689.70L269.77,689.48L270.00,687.73L270.22,685.98L270.45,684.26L270.67,682.56L270.89,680.92L271.12,679.33L271.34,677.82L271.57,676.38L271.79,675.04L272.01,673.80L272.24,672.67L272.46,671.66L272.69,670.77L272.91,670.01L273.13,669.39L273.36,668.90L273.58,668.56L273.81,668.36L274.03,668.30L274.25,668.34L274.48,668.43L274.70,668.58L274.92,668.79L275.15,669.06L275.37,669.39L275.60,669.76L275.82,670.20L276.04,670.68L276.27,671.22L276.49,671.81L276.72,672.45L276.94,673.14L277.16,673.87L277.39,674.64L277.61,675.46L277.84,676.31L278.06,677.20L278.28,678.13L278.51,679.09L278.73,680.08L278.95,681.09L279.18,682.13L279.40,683.18L279.63,684.26L279.85,685.34L280.07,686.44L280.30,687.55L280.52,688.65L280.75,689.76L280.97,690.86L281.19,691.95L281.42,693.03L281.64,694.09L281.87,695.13L282.09,696.13L282.31,697.10L282.54,698.02L282.76,698.88L282.98,699.67L283.21,700.37L283.43,700.40L283.66,700.40L283.88,700.40L284.10,700.40L284.33,700.40L284.55,700.40L284.78,700.40L285.00,700.40" fill="none" stroke="#222" stroke-width="0.45"/>
<line x1="233.3" y1="640.5" x2="233.3" y2="701.0" stroke="#888" stroke-width="0.6"/>
<line x1="232.5" y1="640.5" x2="232.5" y2="701.0" stroke="#777" stroke-width="1" stroke-dasharray="0.5 1.6"/>
<line x1="233.3" y1="701.0" x2="304.3" y2="701.0" stroke="#999" stroke-width="0.6"/>
<line x1="233.3" y1="701.8" x2="304.3" y2="701.8" stroke="#888" stroke-width="1" stroke-dasharray="0.5 1.6"/>
<text x="230.70" y="689.20" font-size="2.6" text-anchor="middle" dominant-baseline="central" fill="#333" transform="rotate(-90 230.70 689.20)">20</text>
<text x="230.70" y="677.40" font-size="2.6" text-anchor="middle" dominant-baseline="central" fill="#333" transform="rotate(-90 230.70 677.40)">40</text>
<text x="230.70" y="665.60" font-size="2.6" text-anchor="middle" dominant-baseline="central" fill="#333" transform="rotate(-90 230.70 665.60)">60</text>
<text x="230.70" y="653.80" font-size="2.6" text-anchor="middle" dominant-baseline="central" fill="#333" transform="rotate(-90 230.70 653.80)">80</text>
<text x="230.70" y="642.00" font-size="2.6" text-anchor="middle" dominant-baseline="central" fill="#333" transform="rotate(-90 230.70 642.00)">100</text>
<text x="233.80" y="704.40" font-size="2.6" text-anchor="middle" dominant-baseline="central" fill="#333">0</text>
<text x="247.90" y="704.40" font-size="2.6" text-anchor="middle" dominant-baseline="central" fill="#333">40</text>
<text x="262.00" y="704.40" font-size="2.6" text-anchor="middle" dominant-baseline="central" fill="#333">80</text>
<text x="276.10" y="704.40" font-size="2.6" text-anchor="middle" dominant-baseline="central" fill="#333">120</text>
<text x="290.20" y="704.40" font-size="2.6" text-anchor="middle" dominant-baseline="central" fill="#333">160</text>
<text x="304.30" y="704.40" font-size="2.6" text-anchor="middle" dominant-baseline="central" fill="#333">200</text>
<text x="264.30" y="706.80" font-size="2.9" text-anchor="middle" dominant-baseline="central" fill="#111">Channels (FL3-A)</text>
<text x="228.70" y="671.50" font-size="2.8" text-anchor="middle" dominant-baseline="central" fill="#333" transform="rotate(-90 228.70 671.50)">Number</text>
<path d="M327.40,700.70L327.40,700.70L327.67,700.52L327.95,700.17L328.22,699.72L328.49,699.23L328.77,698.74L329.04,698.29L329.32,697.92L329.59,697.66L329.86,697.52L330.14,697.52L330.41,697.66L330.68,697.92L330.96,698.29L331.23,698.74L331.51,699.23L331.78,699.72L332.05,700.17L332.33,700.52L332.60,700.70L332.60,700.70Z" fill="#3cc4c4" stroke="#066" stroke-width="0.3"/>
<path d="M340.00,700.70L340.00,700.70L340.46,699.93L340.92,698.18L341.38,696.29L341.85,695.10L342.31,695.00L342.77,695.00L343.23,695.00L343.69,695.00L344.15,695.00L344.62,695.00L345.08,695.00L345.54,695.00L346.00,695.00L346.46,695.00L346.92,695.00L347.38,695.00L347.85,695.00L348.31,695.00L348.77,695.00L349.23,695.00L349.69,695.00L350.15,695.00L350.62,695.00L351.08,695.00L351.54,695.00L352.00,695.00L352.46,695.00L352.92,695.00L353.38,695.00L353.85,695.00L354.31,695.00L354.77,695.00L355.23,695.00L355.69,695.10L356.15,695.97L356.62,697.39L357.08,698.94L357.54,700.19L358.00,700.70L358.00,700.70Z" fill="#c6c6f0" stroke="#8a8ac8" stroke-width="0.35"/>
<path d="M333.60,700.70L333.60,700.70L333.79,699.84L333.98,698.50L334.17,696.89L334.36,695.08L334.55,693.10L334.74,690.98L334.93,688.74L335.12,686.37L335.31,683.90L335.50,681.34L335.69,678.68L335.88,675.93L336.07,673.11L336.26,670.20L336.45,667.23L336.64,664.18L336.83,661.07L337.02,657.89L337.21,654.64L337.39,654.64L337.58,657.89L337.77,661.07L337.96,664.18L338.15,667.23L338.34,670.20L338.53,673.11L338.72,675.93L338.91,678.68L339.10,681.34L339.29,683.90L339.48,686.37L339.67,688.74L339.86,690.98L340.05,693.10L340.24,695.08L340.43,696.89L340.62,698.50L340.81,699.84L341.00,700.70L341.00,700.70Z" fill="#e60000" stroke="#300" stroke-width="0.35"/>
<path d="M356.00,700.70L356.00,700.70L356.21,700.33L356.41,699.59L356.62,698.65L356.82,697.60L357.03,696.55L357.23,695.57L357.44,694.75L357.64,694.14L357.85,693.78L358.05,693.70L358.26,693.73L358.46,693.78L358.67,693.87L358.87,693.99L359.08,694.14L359.28,694.31L359.49,694.52L359.69,694.75L359.90,695.00L360.10,695.28L360.31,695.57L360.51,695.89L360.72,696.21L360.92,696.55L361.13,696.90L361.33,697.25L361.54,697.60L361.74,697.96L361.95,698.30L362.15,698.65L362.36,698.98L362.56,699.29L362.77,699.59L362.97,699.86L363.18,700.11L363.38,700.33L363.59,700.50L363.79,700.64L364.00,700.70L364.00,700.70Z" fill="#e60000" stroke="#300" stroke-width="0.35"/>
<path d="M332.60,700.70L332.60,700.10L332.80,700.10L333.01,700.10L333.21,700.10L333.42,700.10L333.62,700.10L333.82,700.10L334.03,699.41L334.23,697.75L334.43,695.79L334.64,693.61L334.84,691.23L335.05,688.68L335.25,685.99L335.45,683.16L335.66,680.20L335.86,677.13L336.06,673.96L336.27,670.68L336.47,667.30L336.68,663.84L336.88,660.29L337.08,656.66L337.29,652.94L337.49,656.18L337.69,659.82L337.90,663.38L338.10,666.86L338.31,670.25L338.51,673.54L338.71,676.73L338.92,679.81L339.12,682.78L339.32,685.63L339.53,688.34L339.73,690.91L339.94,693.31L340.14,695.52L340.34,697.51L340.55,699.05L340.75,698.29L340.95,697.44L341.16,696.58L341.36,695.77L341.57,695.09L341.77,694.61L341.97,694.40L342.18,694.40L342.38,694.40L342.58,694.40L342.79,694.40L342.99,694.40L343.20,694.40L343.40,694.40L343.60,694.40L343.81,694.40L344.01,694.40L344.22,694.40L344.42,694.40L344.62,694.40L344.83,694.40L345.03,694.40L345.23,694.40L345.44,694.40L345.64,694.40L345.85,694.40L346.05,694.40L346.25,694.40L346.46,694.40L346.66,694.40L346.86,694.40L347.07,694.40L347.27,694.40L347.48,694.40L347.68,694.40L347.88,694.40L348.09,694.40L348.29,694.40L348.49,694.40L348.70,694.40L348.90,694.40L349.11,694.40L349.31,694.40L349.51,694.40L349.72,694.40L349.92,694.40L350.12,694.40L350.33,694.40L350.53,694.40L350.74,694.40L350.94,694.40L351.14,694.40L351.35,694.40L351.55,694.40L351.75,694.40L351.96,694.40L352.16,694.40L352.37,694.40L352.57,694.40L352.77,694.40L352.98,694.40L353.18,694.40L353.38,694.40L353.59,694.40L353.79,694.40L354.00,694.40L354.20,694.40L354.40,694.40L354.61,694.40L354.81,694.40L355.02,694.40L355.22,694.40L355.42,694.40L355.63,694.44L355.83,693.89L356.03,692.72L356.24,691.59L356.44,690.53L356.65,689.56L356.85,688.69L357.05,687.94L357.26,687.32L357.46,686.84L357.66,686.51L357.87,686.33L358.07,686.31L358.28,686.44L358.48,686.73L358.68,687.17L358.89,687.75L359.09,688.46L359.29,689.29L359.50,690.23L359.70,691.27L359.91,692.38L360.11,693.54L360.31,694.73L360.52,695.94L360.72,697.12L360.92,698.26L361.13,699.30L361.33,700.10L361.54,700.10L361.74,700.10L361.94,700.10L362.15,700.10L362.35,700.10L362.55,700.10L362.76,700.10L362.96,700.10L363.17,700.10L363.37,700.10L363.57,700.10L363.78,700.10L363.98,700.10L364.18,700.10L364.39,700.10L364.59,700.10L364.80,700.10L365.00,700.10" fill="none" stroke="#222" stroke-width="0.45"/>
<line x1="313.3" y1="640.2" x2="313.3" y2="700.7" stroke="#888" stroke-width="0.6"/>
<line x1="312.5" y1="640.2" x2="312.5" y2="700.7" stroke="#777" stroke-width="1" stroke-dasharray="0.5 1.6"/>
<line x1="313.3" y1="700.7" x2="384.3" y2="700.7" stroke="#999" stroke-width="0.6"/>
<line x1="313.3" y1="701.5" x2="384.3" y2="701.5" stroke="#888" stroke-width="1" stroke-dasharray="0.5 1.6"/>
<text x="310.70" y="688.90" font-size="2.6" text-anchor="middle" dominant-baseline="central" fill="#333" transform="rotate(-90 310.70 688.90)">20</text>
<text x="310.70" y="677.10" font-size="2.6" text-anchor="middle" dominant-baseline="central" fill="#333" transform="rotate(-90 310.70 677.10)">40</text>
<text x="310.70" y="665.30" font-size="2.6" text-anchor="middle" dominant-baseline="central" fill="#333" transform="rotate(-90 310.70 665.30)">60</text>
<text x="310.70" y="653.50" font-size="2.6" text-anchor="middle" dominant-baseline="central" fill="#333" transform="rotate(-90 310.70 653.50)">80</text>
<text x="310.70" y="641.70" font-size="2.6" text-anchor="middle" dominant-baseline="central" fill="#333" transform="rotate(-90 310.70 641.70)">100</text>
<text x="313.80" y="704.10" font-size="2.6" text-anchor="middle" dominant-baseline="central" fill="#333">0</text>
<text x="327.90" y="704.10" font-size="2.6" text-anchor="middle" dominant-baseline="central" fill="#333">40</text>
<text x="342.00" y="704.10" font-size="2.6" text-anchor="middle" dominant-baseline="central" fill="#333">80</text>
<text x="356.10" y="704.10" font-size="2.6" text-anchor="middle" dominant-baseline="central" fill="#333">120</text>
<text x="370.20" y="704.10" font-size="2.6" text-anchor="middle" dominant-baseline="central" fill="#333">160</text>
<text x="384.30" y="704.10" font-size="2.6" text-anchor="middle" dominant-baseline="central" fill="#333">200</text>
<text x="344.30" y="706.50" font-size="2.9" text-anchor="middle" dominant-baseline="central" fill="#111">Channels (FL3-A)</text>
<text x="308.70" y="671.20" font-size="2.8" text-anchor="middle" dominant-baseline="central" fill="#333" transform="rotate(-90 308.70 671.20)">Number</text>
<path d="M405.60,701.00L405.60,701.00L405.87,700.87L406.15,700.60L406.42,700.27L406.69,699.90L406.97,699.53L407.24,699.19L407.52,698.92L407.79,698.72L408.06,698.61L408.34,698.61L408.61,698.72L408.88,698.92L409.16,699.19L409.43,699.53L409.71,699.90L409.98,700.27L410.25,700.60L410.53,700.87L410.80,701.00L410.80,701.00Z" fill="#3cc4c4" stroke="#066" stroke-width="0.3"/>
<path d="M418.50,701.00L418.50,701.00L418.85,700.69L419.19,699.98L419.54,699.22L419.88,698.74L420.23,698.70L420.58,698.70L420.92,698.70L421.27,698.70L421.62,698.70L421.96,698.70L422.31,698.70L422.65,698.70L423.00,698.70L423.35,698.70L423.69,698.70L424.04,698.70L424.38,698.70L424.73,698.70L425.08,698.70L425.42,698.70L425.77,698.70L426.12,698.70L426.46,698.70L426.81,698.70L427.15,698.70L427.50,698.70L427.85,698.70L428.19,698.70L428.54,698.70L428.88,698.70L429.23,698.74L429.58,698.92L429.92,699.22L430.27,699.59L430.62,699.98L430.96,700.36L431.31,700.69L431.65,700.92L432.00,701.00L432.00,701.00Z" fill="#c6c6f0" stroke="#8a8ac8" stroke-width="0.35"/>
<path d="M411.00,701.00L411.00,701.00L411.22,699.63L411.45,697.50L411.67,694.94L411.89,692.07L412.12,688.93L412.34,685.56L412.56,681.99L412.78,678.24L413.01,674.31L413.23,670.24L413.45,666.01L413.68,661.65L413.90,657.16L414.12,652.55L414.35,647.82L414.57,642.98L414.79,645.27L415.02,648.66L415.24,652.00L415.46,655.28L415.68,658.49L415.91,661.65L416.13,664.74L416.35,667.77L416.58,670.72L416.80,673.61L417.02,676.41L417.25,679.14L417.47,681.78L417.69,684.33L417.92,686.78L418.14,689.12L418.36,691.35L418.58,693.46L418.81,695.42L419.03,697.22L419.25,698.81L419.48,700.14L419.70,701.00L419.70,701.00Z" fill="#e60000" stroke="#300" stroke-width="0.35"/>
<path d="M428.00,701.00L428.00,701.00L428.30,700.82L428.60,700.45L428.90,699.97L429.20,699.42L429.50,698.82L429.80,698.23L430.10,697.65L430.40,697.13L430.70,696.69L431.00,696.35L431.30,696.11L431.60,696.01L431.90,696.01L432.20,696.04L432.50,696.10L432.80,696.18L433.10,696.30L433.40,696.43L433.70,696.59L434.00,696.78L434.30,696.98L434.60,697.20L434.90,697.44L435.20,697.69L435.50,697.95L435.80,698.22L436.10,698.49L436.40,698.77L436.70,699.05L437.00,699.32L437.30,699.59L437.60,699.84L437.90,700.08L438.20,700.31L438.50,700.51L438.80,700.69L439.10,700.84L439.40,700.95L439.70,701.00L439.70,701.00Z" fill="#e60000" stroke="#300" stroke-width="0.35"/>
<path d="M410.00,701.00L410.00,700.40L410.19,700.40L410.39,700.40L410.58,700.40L410.77,700.40L410.97,700.40L411.16,700.40L411.35,699.96L411.54,698.13L411.74,695.90L411.93,693.38L412.12,690.62L412.32,687.66L412.51,684.51L412.70,681.20L412.90,677.74L413.09,674.14L413.28,670.41L413.48,666.56L413.67,662.59L413.86,658.51L414.05,654.33L414.25,650.05L414.44,645.68L414.63,642.56L414.83,645.70L415.02,648.80L415.21,651.85L415.41,654.85L415.60,657.81L415.79,660.71L415.99,663.56L416.18,666.35L416.37,669.09L416.56,671.76L416.76,674.38L416.95,676.93L417.14,679.41L417.34,681.82L417.53,684.15L417.72,686.40L417.92,688.57L418.11,690.64L418.30,692.61L418.50,694.46L418.69,696.19L418.88,697.77L419.07,699.17L419.27,699.21L419.46,698.78L419.65,698.41L419.85,698.17L420.04,698.10L420.23,698.10L420.43,698.10L420.62,698.10L420.81,698.10L421.01,698.10L421.20,698.10L421.39,698.10L421.58,698.10L421.78,698.10L421.97,698.10L422.16,698.10L422.36,698.10L422.55,698.10L422.74,698.10L422.94,698.10L423.13,698.10L423.32,698.10L423.52,698.10L423.71,698.10L423.90,698.10L424.09,698.10L424.29,698.10L424.48,698.10L424.67,698.10L424.87,698.10L425.06,698.10L425.25,698.10L425.45,698.10L425.64,698.10L425.83,698.10L426.03,698.10L426.22,698.10L426.41,698.10L426.61,698.10L426.80,698.10L426.99,698.10L427.18,698.10L427.38,698.10L427.57,698.10L427.76,698.10L427.96,698.10L428.15,698.10L428.34,698.10L428.54,698.10L428.73,698.10L428.92,698.10L429.12,698.11L429.31,698.17L429.50,698.20L429.69,697.80L429.89,697.42L430.08,697.07L430.27,696.74L430.47,696.44L430.66,696.18L430.85,695.95L431.05,695.77L431.24,695.64L431.43,695.55L431.63,695.50L431.82,695.50L432.01,695.51L432.20,695.54L432.40,695.57L432.59,695.61L432.78,695.66L432.98,695.72L433.17,695.79L433.36,695.87L433.56,695.96L433.75,696.06L433.94,696.17L434.14,696.29L434.33,696.41L434.52,696.54L434.71,696.68L434.91,696.83L435.10,696.98L435.29,697.14L435.49,697.31L435.68,697.48L435.87,697.65L436.07,697.83L436.26,698.01L436.45,698.20L436.65,698.38L436.84,698.57L437.03,698.76L437.22,698.96L437.42,699.15L437.61,699.34L437.80,699.52L438.00,699.71L438.19,699.89L438.38,700.07L438.58,700.24L438.77,700.40L438.96,700.40L439.16,700.40L439.35,700.40L439.54,700.40L439.73,700.40L439.93,700.40L440.12,700.40L440.31,700.40L440.51,700.40L440.70,700.40" fill="none" stroke="#222" stroke-width="0.45"/>
<line x1="393.7" y1="640.5" x2="393.7" y2="701.0" stroke="#888" stroke-width="0.6"/>
<line x1="392.9" y1="640.5" x2="392.9" y2="701.0" stroke="#777" stroke-width="1" stroke-dasharray="0.5 1.6"/>
<line x1="393.7" y1="701.0" x2="464.7" y2="701.0" stroke="#999" stroke-width="0.6"/>
<line x1="393.7" y1="701.8" x2="464.7" y2="701.8" stroke="#888" stroke-width="1" stroke-dasharray="0.5 1.6"/>
<text x="391.10" y="689.20" font-size="2.6" text-anchor="middle" dominant-baseline="central" fill="#333" transform="rotate(-90 391.10 689.20)">20</text>
<text x="391.10" y="677.40" font-size="2.6" text-anchor="middle" dominant-baseline="central" fill="#333" transform="rotate(-90 391.10 677.40)">40</text>
<text x="391.10" y="665.60" font-size="2.6" text-anchor="middle" dominant-baseline="central" fill="#333" transform="rotate(-90 391.10 665.60)">60</text>
<text x="391.10" y="653.80" font-size="2.6" text-anchor="middle" dominant-baseline="central" fill="#333" transform="rotate(-90 391.10 653.80)">80</text>
<text x="391.10" y="642.00" font-size="2.6" text-anchor="middle" dominant-baseline="central" fill="#333" transform="rotate(-90 391.10 642.00)">100</text>
<text x="394.20" y="704.40" font-size="2.6" text-anchor="middle" dominant-baseline="central" fill="#333">0</text>
<text x="408.30" y="704.40" font-size="2.6" text-anchor="middle" dominant-baseline="central" fill="#333">40</text>
<text x="422.40" y="704.40" font-size="2.6" text-anchor="middle" dominant-baseline="central" fill="#333">80</text>
<text x="436.50" y="704.40" font-size="2.6" text-anchor="middle" dominant-baseline="central" fill="#333">120</text>
<text x="450.60" y="704.40" font-size="2.6" text-anchor="middle" dominant-baseline="central" fill="#333">160</text>
<text x="464.70" y="704.40" font-size="2.6" text-anchor="middle" dominant-baseline="central" fill="#333">200</text>
<text x="424.70" y="706.80" font-size="2.9" text-anchor="middle" dominant-baseline="central" fill="#111">Channels (FL3-A)</text>
<text x="389.10" y="671.50" font-size="2.8" text-anchor="middle" dominant-baseline="central" fill="#333" transform="rotate(-90 389.10 671.50)">Number</text>
<rect x="446.2" y="561.60" width="4.2" height="2.1" fill="#c4c4dc" stroke="#999" stroke-width="0.25"/>
<line x1="451.2" y1="562.65" x2="458.2" y2="562.65" stroke="#3a3ac0" stroke-width="0.9"/>
<rect x="446.2" y="564.10" width="4.2" height="2.1" fill="#e4e4ea" stroke="#999" stroke-width="0.25"/>
<line x1="451.2" y1="565.15" x2="461.7" y2="565.15" stroke="#3a3ac0" stroke-width="0.9"/>
<rect x="446.2" y="566.60" width="4.2" height="2.1" fill="#50c4b4" stroke="#999" stroke-width="0.25"/>
<line x1="451.2" y1="567.65" x2="461.2" y2="567.65" stroke="#3a3ac0" stroke-width="0.9"/>
<rect x="446.2" y="569.10" width="4.2" height="2.1" fill="#a82020" stroke="#999" stroke-width="0.25"/>
<line x1="451.2" y1="570.15" x2="456.7" y2="570.15" stroke="#3a3ac0" stroke-width="0.9"/>
<rect x="446.2" y="571.60" width="4.2" height="2.1" fill="#d42020" stroke="#999" stroke-width="0.25"/>
<line x1="451.2" y1="572.65" x2="456.7" y2="572.65" stroke="#3a3ac0" stroke-width="0.9"/>
<rect x="446.2" y="574.10" width="4.2" height="2.1" fill="#dcdce8" stroke="#999" stroke-width="0.25"/>
<line x1="451.2" y1="575.15" x2="455.7" y2="575.15" stroke="#3a3ac0" stroke-width="0.9"/>
<rect x="446.2" y="639.20" width="4.2" height="2.1" fill="#c4c4dc" stroke="#999" stroke-width="0.25"/>
<line x1="451.2" y1="640.25" x2="458.2" y2="640.25" stroke="#3a3ac0" stroke-width="0.9"/>
<rect x="446.2" y="641.70" width="4.2" height="2.1" fill="#e4e4ea" stroke="#999" stroke-width="0.25"/>
<line x1="451.2" y1="642.75" x2="461.7" y2="642.75" stroke="#3a3ac0" stroke-width="0.9"/>
<rect x="446.2" y="644.20" width="4.2" height="2.1" fill="#50c4b4" stroke="#999" stroke-width="0.25"/>
<line x1="451.2" y1="645.25" x2="461.2" y2="645.25" stroke="#3a3ac0" stroke-width="0.9"/>
<rect x="446.2" y="646.70" width="4.2" height="2.1" fill="#a82020" stroke="#999" stroke-width="0.25"/>
<line x1="451.2" y1="647.75" x2="456.7" y2="647.75" stroke="#3a3ac0" stroke-width="0.9"/>
<rect x="446.2" y="649.20" width="4.2" height="2.1" fill="#d42020" stroke="#999" stroke-width="0.25"/>
<line x1="451.2" y1="650.25" x2="456.7" y2="650.25" stroke="#3a3ac0" stroke-width="0.9"/>
<rect x="446.2" y="651.70" width="4.2" height="2.1" fill="#dcdce8" stroke="#999" stroke-width="0.25"/>
<line x1="451.2" y1="652.75" x2="455.7" y2="652.75" stroke="#3a3ac0" stroke-width="0.9"/>
<line x1="62.2" y1="695.6" x2="62.2" y2="578.5" stroke="#000" stroke-width="0.9" marker-end="url(#ah)"/>
<text x="56.00" y="638.30" font-size="8.5" text-anchor="middle" dominant-baseline="central" fill="#000" transform="rotate(-90 56.00 638.30)">cell number</text>
<text x="44.40" y="601.00" font-size="8" text-anchor="middle" dominant-baseline="central" fill="#000">U87</text>
<text x="46.70" y="683.30" font-size="8" text-anchor="middle" dominant-baseline="central" fill="#000">U251</text>
<line x1="106" y1="717.8" x2="416.5" y2="717.8" stroke="#000" stroke-width="0.9" marker-end="url(#ah)"/>
<text x="272.00" y="725.80" font-size="8.3" text-anchor="middle" dominant-baseline="central" fill="#000">DNA content</text>
<line x1="498.85" y1="569.12" x2="498.85" y2="565.97" stroke="#000" stroke-width="0.9"/>
<line x1="497.05" y1="565.97" x2="500.65" y2="565.97" stroke="#000" stroke-width="0.9"/>
<rect x="496.70" y="569.12" width="4.30" height="41.48" fill="#fff" stroke="#000" stroke-width="0.9"/>
<line x1="503.95" y1="589.27" x2="503.95" y2="586.11" stroke="#000" stroke-width="0.9"/>
<line x1="502.15" y1="586.11" x2="505.75" y2="586.11" stroke="#000" stroke-width="0.9"/>
<rect x="501.80" y="589.27" width="4.30" height="21.33" fill="#a8a8a8" stroke="#000" stroke-width="0.9"/>
<line x1="509.05" y1="594.01" x2="509.05" y2="591.64" stroke="#000" stroke-width="0.9"/>
<line x1="507.25" y1="591.64" x2="510.85" y2="591.64" stroke="#000" stroke-width="0.9"/>
<rect x="506.90" y="594.01" width="4.30" height="16.59" fill="#585858" stroke="#000" stroke-width="0.9"/>
<line x1="503.90" y1="610.6" x2="503.90" y2="612.4" stroke="#000" stroke-width="0.8"/>
<line x1="518.05" y1="567.54" x2="518.05" y2="564.38" stroke="#000" stroke-width="0.9"/>
<line x1="516.25" y1="564.38" x2="519.85" y2="564.38" stroke="#000" stroke-width="0.9"/>
<rect x="515.90" y="567.54" width="4.30" height="43.06" fill="#fff" stroke="#000" stroke-width="0.9"/>
<line x1="523.15" y1="592.43" x2="523.15" y2="590.06" stroke="#000" stroke-width="0.9"/>
<line x1="521.35" y1="590.06" x2="524.95" y2="590.06" stroke="#000" stroke-width="0.9"/>
<rect x="521.00" y="592.43" width="4.30" height="18.17" fill="#a8a8a8" stroke="#000" stroke-width="0.9"/>
<line x1="528.25" y1="594.01" x2="528.25" y2="590.85" stroke="#000" stroke-width="0.9"/>
<line x1="526.45" y1="590.85" x2="530.05" y2="590.85" stroke="#000" stroke-width="0.9"/>
<rect x="526.10" y="594.01" width="4.30" height="16.59" fill="#585858" stroke="#000" stroke-width="0.9"/>
<line x1="523.10" y1="610.6" x2="523.10" y2="612.4" stroke="#000" stroke-width="0.8"/>
<line x1="537.05" y1="582.16" x2="537.05" y2="579.79" stroke="#000" stroke-width="0.9"/>
<line x1="535.25" y1="579.79" x2="538.85" y2="579.79" stroke="#000" stroke-width="0.9"/>
<rect x="534.90" y="582.16" width="4.30" height="28.44" fill="#fff" stroke="#000" stroke-width="0.9"/>
<path d="M537.05 576.59L537.05 575.19M537.05 576.59L538.38 576.16M537.05 576.59L537.87 577.72M537.05 576.59L536.23 577.72M537.05 576.59L535.72 576.16" stroke="#333" stroke-width="0.6" stroke-linecap="round"/>
<line x1="542.15" y1="584.92" x2="542.15" y2="582.95" stroke="#000" stroke-width="0.9"/>
<line x1="540.35" y1="582.95" x2="543.95" y2="582.95" stroke="#000" stroke-width="0.9"/>
<rect x="540.00" y="584.92" width="4.30" height="25.68" fill="#a8a8a8" stroke="#000" stroke-width="0.9"/>
<path d="M542.15 579.75L542.15 578.35M542.15 579.75L543.48 579.32M542.15 579.75L542.97 580.88M542.15 579.75L541.33 580.88M542.15 579.75L540.82 579.32" stroke="#333" stroke-width="0.6" stroke-linecap="round"/>
<line x1="547.25" y1="586.90" x2="547.25" y2="583.74" stroke="#000" stroke-width="0.9"/>
<line x1="545.45" y1="583.74" x2="549.05" y2="583.74" stroke="#000" stroke-width="0.9"/>
<rect x="545.10" y="586.90" width="4.30" height="23.70" fill="#585858" stroke="#000" stroke-width="0.9"/>
<path d="M547.25 580.54L547.25 579.14M547.25 580.54L548.58 580.11M547.25 580.54L548.07 581.67M547.25 580.54L546.43 581.67M547.25 580.54L545.92 580.11" stroke="#333" stroke-width="0.6" stroke-linecap="round"/>
<line x1="542.10" y1="610.6" x2="542.10" y2="612.4" stroke="#000" stroke-width="0.8"/>
<line x1="556.15" y1="571.10" x2="556.15" y2="568.73" stroke="#000" stroke-width="0.9"/>
<line x1="554.35" y1="568.73" x2="557.95" y2="568.73" stroke="#000" stroke-width="0.9"/>
<rect x="554.00" y="571.10" width="4.30" height="39.50" fill="#fff" stroke="#000" stroke-width="0.9"/>
<line x1="561.25" y1="590.06" x2="561.25" y2="587.69" stroke="#000" stroke-width="0.9"/>
<line x1="559.45" y1="587.69" x2="563.05" y2="587.69" stroke="#000" stroke-width="0.9"/>
<rect x="559.10" y="590.06" width="4.30" height="20.54" fill="#a8a8a8" stroke="#000" stroke-width="0.9"/>
<line x1="566.35" y1="593.22" x2="566.35" y2="590.85" stroke="#000" stroke-width="0.9"/>
<line x1="564.55" y1="590.85" x2="568.15" y2="590.85" stroke="#000" stroke-width="0.9"/>
<rect x="564.20" y="593.22" width="4.30" height="17.38" fill="#585858" stroke="#000" stroke-width="0.9"/>
<line x1="561.20" y1="610.6" x2="561.20" y2="612.4" stroke="#000" stroke-width="0.8"/>
<line x1="575.25" y1="555.30" x2="575.25" y2="552.14" stroke="#000" stroke-width="0.9"/>
<line x1="573.45" y1="552.14" x2="577.05" y2="552.14" stroke="#000" stroke-width="0.9"/>
<rect x="573.10" y="555.30" width="4.30" height="55.30" fill="#fff" stroke="#000" stroke-width="0.9"/>
<text x="575.25" y="548.74" font-size="4.5" text-anchor="middle" dominant-baseline="central" fill="#666" font-family="Liberation Sans" font-weight="normal" font-style="italic">#</text>
<line x1="580.35" y1="598.36" x2="580.35" y2="595.59" stroke="#000" stroke-width="0.9"/>
<line x1="578.55" y1="595.59" x2="582.15" y2="595.59" stroke="#000" stroke-width="0.9"/>
<rect x="578.20" y="598.36" width="4.30" height="12.25" fill="#a8a8a8" stroke="#000" stroke-width="0.9"/>
<text x="580.35" y="592.19" font-size="4.5" text-anchor="middle" dominant-baseline="central" fill="#666" font-family="Liberation Sans" font-weight="normal" font-style="italic">#</text>
<line x1="585.45" y1="599.54" x2="585.45" y2="597.17" stroke="#000" stroke-width="0.9"/>
<line x1="583.65" y1="597.17" x2="587.25" y2="597.17" stroke="#000" stroke-width="0.9"/>
<rect x="583.30" y="599.54" width="4.30" height="11.06" fill="#585858" stroke="#000" stroke-width="0.9"/>
<text x="585.45" y="593.77" font-size="4.5" text-anchor="middle" dominant-baseline="central" fill="#666" font-family="Liberation Sans" font-weight="normal" font-style="italic">#</text>
<line x1="580.30" y1="610.6" x2="580.30" y2="612.4" stroke="#000" stroke-width="0.8"/>
<line x1="494.2" y1="610.6" x2="494.2" y2="547.40" stroke="#000" stroke-width="0.9"/>
<line x1="494.2" y1="610.6" x2="592.2" y2="610.6" stroke="#000" stroke-width="0.9"/>
<line x1="492.2" y1="610.60" x2="494.2" y2="610.60" stroke="#000" stroke-width="0.9"/>
<text x="491.60" y="610.60" font-size="4.8" text-anchor="end" dominant-baseline="central" fill="#000">0</text>
<line x1="492.2" y1="594.80" x2="494.2" y2="594.80" stroke="#000" stroke-width="0.9"/>
<text x="491.60" y="594.80" font-size="4.8" text-anchor="end" dominant-baseline="central" fill="#000">20</text>
<line x1="492.2" y1="579.00" x2="494.2" y2="579.00" stroke="#000" stroke-width="0.9"/>
<text x="491.60" y="579.00" font-size="4.8" text-anchor="end" dominant-baseline="central" fill="#000">40</text>
<line x1="492.2" y1="563.20" x2="494.2" y2="563.20" stroke="#000" stroke-width="0.9"/>
<text x="491.60" y="563.20" font-size="4.8" text-anchor="end" dominant-baseline="central" fill="#000">60</text>
<line x1="492.2" y1="547.40" x2="494.2" y2="547.40" stroke="#000" stroke-width="0.9"/>
<text x="491.60" y="547.40" font-size="4.8" text-anchor="end" dominant-baseline="central" fill="#000">80</text>
<rect x="498.7" y="544.00" width="4.8" height="2.6" fill="#fff" stroke="#000" stroke-width="0.7"/>
<text x="505.59999999999997" y="546.60" font-size="4.0">G<tspan font-size="2.6" dy="0.8">0</tspan><tspan dy="-0.8">/G</tspan><tspan font-size="2.6" dy="0.8">1</tspan></text>
<rect x="498.7" y="547.90" width="4.8" height="2.6" fill="#a8a8a8" stroke="#000" stroke-width="0.7"/>
<text x="505.59999999999997" y="550.50" font-size="4.0">S</text>
<rect x="498.7" y="551.80" width="4.8" height="2.6" fill="#585858" stroke="#000" stroke-width="0.7"/>
<text x="505.59999999999997" y="554.40" font-size="4.0">G<tspan font-size="2.6" dy="0.8">2</tspan><tspan dy="-0.8">/M</tspan></text>
<text x="506.90" y="615.60" font-size="5.7" text-anchor="end" dominant-baseline="central" fill="#000" transform="rotate(-30 506.90 615.60)">control</text>
<text x="526.10" y="615.60" font-size="5.7" text-anchor="end" dominant-baseline="central" fill="#000" transform="rotate(-30 526.10 615.60)">FGF1(+)-NC</text>
<text x="545.10" y="615.60" font-size="5.7" text-anchor="end" dominant-baseline="central" fill="#000" transform="rotate(-30 545.10 615.60)">FGF1(+)</text>
<text x="564.20" y="615.60" font-size="5.7" text-anchor="end" dominant-baseline="central" fill="#000" transform="rotate(-30 564.20 615.60)">FGF1(-)-NC</text>
<text x="583.30" y="615.60" font-size="5.7" text-anchor="end" dominant-baseline="central" fill="#000" transform="rotate(-30 583.30 615.60)">FGF1(-)</text>
<text x="483.60" y="579.60" font-size="6.1" text-anchor="middle" dominant-baseline="central" fill="#000" transform="rotate(-90 483.60 579.60)">DNA content (100%)</text>
<line x1="498.75" y1="668.07" x2="498.75" y2="665.83" stroke="#000" stroke-width="0.9"/>
<line x1="496.95" y1="665.83" x2="500.55" y2="665.83" stroke="#000" stroke-width="0.9"/>
<rect x="496.60" y="668.07" width="4.30" height="42.13" fill="#fff" stroke="#000" stroke-width="0.9"/>
<line x1="503.85" y1="688.62" x2="503.85" y2="687.02" stroke="#000" stroke-width="0.9"/>
<line x1="502.05" y1="687.02" x2="505.65" y2="687.02" stroke="#000" stroke-width="0.9"/>
<rect x="501.70" y="688.62" width="4.30" height="21.58" fill="#a8a8a8" stroke="#000" stroke-width="0.9"/>
<line x1="508.95" y1="691.01" x2="508.95" y2="688.62" stroke="#000" stroke-width="0.9"/>
<line x1="507.15" y1="688.62" x2="510.75" y2="688.62" stroke="#000" stroke-width="0.9"/>
<rect x="506.80" y="691.01" width="4.30" height="19.19" fill="#585858" stroke="#000" stroke-width="0.9"/>
<line x1="503.80" y1="710.2" x2="503.80" y2="712.0" stroke="#000" stroke-width="0.8"/>
<line x1="517.95" y1="664.24" x2="517.95" y2="661.84" stroke="#000" stroke-width="0.9"/>
<line x1="516.15" y1="661.84" x2="519.75" y2="661.84" stroke="#000" stroke-width="0.9"/>
<rect x="515.80" y="664.24" width="4.30" height="45.96" fill="#fff" stroke="#000" stroke-width="0.9"/>
<line x1="523.05" y1="691.81" x2="523.05" y2="689.42" stroke="#000" stroke-width="0.9"/>
<line x1="521.25" y1="689.42" x2="524.85" y2="689.42" stroke="#000" stroke-width="0.9"/>
<rect x="520.90" y="691.81" width="4.30" height="18.39" fill="#a8a8a8" stroke="#000" stroke-width="0.9"/>
<line x1="528.15" y1="693.41" x2="528.15" y2="690.62" stroke="#000" stroke-width="0.9"/>
<line x1="526.35" y1="690.62" x2="529.95" y2="690.62" stroke="#000" stroke-width="0.9"/>
<rect x="526.00" y="693.41" width="4.30" height="16.79" fill="#585858" stroke="#000" stroke-width="0.9"/>
<line x1="523.00" y1="710.2" x2="523.00" y2="712.0" stroke="#000" stroke-width="0.8"/>
<line x1="537.05" y1="681.42" x2="537.05" y2="678.62" stroke="#000" stroke-width="0.9"/>
<line x1="535.25" y1="678.62" x2="538.85" y2="678.62" stroke="#000" stroke-width="0.9"/>
<rect x="534.90" y="681.42" width="4.30" height="28.78" fill="#fff" stroke="#000" stroke-width="0.9"/>
<path d="M537.05 675.42L537.05 674.02M537.05 675.42L538.38 674.99M537.05 675.42L537.87 676.56M537.05 675.42L536.23 676.56M537.05 675.42L535.72 674.99" stroke="#333" stroke-width="0.6" stroke-linecap="round"/>
<line x1="542.15" y1="683.02" x2="542.15" y2="680.62" stroke="#000" stroke-width="0.9"/>
<line x1="540.35" y1="680.62" x2="543.95" y2="680.62" stroke="#000" stroke-width="0.9"/>
<rect x="540.00" y="683.02" width="4.30" height="27.18" fill="#a8a8a8" stroke="#000" stroke-width="0.9"/>
<path d="M542.15 677.42L542.15 676.02M542.15 677.42L543.48 676.99M542.15 677.42L542.97 678.56M542.15 677.42L541.33 678.56M542.15 677.42L540.82 676.99" stroke="#333" stroke-width="0.6" stroke-linecap="round"/>
<line x1="547.25" y1="685.42" x2="547.25" y2="683.82" stroke="#000" stroke-width="0.9"/>
<line x1="545.45" y1="683.82" x2="549.05" y2="683.82" stroke="#000" stroke-width="0.9"/>
<rect x="545.10" y="685.42" width="4.30" height="24.78" fill="#585858" stroke="#000" stroke-width="0.9"/>
<path d="M547.25 680.62L547.25 679.22M547.25 680.62L548.58 680.19M547.25 680.62L548.07 681.75M547.25 680.62L546.43 681.75M547.25 680.62L545.92 680.19" stroke="#333" stroke-width="0.6" stroke-linecap="round"/>
<line x1="542.10" y1="710.2" x2="542.10" y2="712.0" stroke="#000" stroke-width="0.8"/>
<line x1="556.15" y1="671.27" x2="556.15" y2="668.63" stroke="#000" stroke-width="0.9"/>
<line x1="554.35" y1="668.63" x2="557.95" y2="668.63" stroke="#000" stroke-width="0.9"/>
<rect x="554.00" y="671.27" width="4.30" height="38.93" fill="#fff" stroke="#000" stroke-width="0.9"/>
<line x1="561.25" y1="691.01" x2="561.25" y2="689.02" stroke="#000" stroke-width="0.9"/>
<line x1="559.45" y1="689.02" x2="563.05" y2="689.02" stroke="#000" stroke-width="0.9"/>
<rect x="559.10" y="691.01" width="4.30" height="19.19" fill="#a8a8a8" stroke="#000" stroke-width="0.9"/>
<line x1="566.35" y1="692.61" x2="566.35" y2="690.22" stroke="#000" stroke-width="0.9"/>
<line x1="564.55" y1="690.22" x2="568.15" y2="690.22" stroke="#000" stroke-width="0.9"/>
<rect x="564.20" y="692.61" width="4.30" height="17.59" fill="#585858" stroke="#000" stroke-width="0.9"/>
<line x1="561.20" y1="710.2" x2="561.20" y2="712.0" stroke="#000" stroke-width="0.8"/>
<line x1="575.25" y1="653.44" x2="575.25" y2="650.65" stroke="#000" stroke-width="0.9"/>
<line x1="573.45" y1="650.65" x2="577.05" y2="650.65" stroke="#000" stroke-width="0.9"/>
<rect x="573.10" y="653.44" width="4.30" height="56.76" fill="#fff" stroke="#000" stroke-width="0.9"/>
<text x="575.25" y="647.25" font-size="4.5" text-anchor="middle" dominant-baseline="central" fill="#666" font-family="Liberation Sans" font-weight="normal" font-style="italic">#</text>
<line x1="580.35" y1="699.01" x2="580.35" y2="697.41" stroke="#000" stroke-width="0.9"/>
<line x1="578.55" y1="697.41" x2="582.15" y2="697.41" stroke="#000" stroke-width="0.9"/>
<rect x="578.20" y="699.01" width="4.30" height="11.19" fill="#a8a8a8" stroke="#000" stroke-width="0.9"/>
<text x="580.35" y="694.01" font-size="4.5" text-anchor="middle" dominant-baseline="central" fill="#666" font-family="Liberation Sans" font-weight="normal" font-style="italic">#</text>
<line x1="585.45" y1="699.41" x2="585.45" y2="697.81" stroke="#000" stroke-width="0.9"/>
<line x1="583.65" y1="697.81" x2="587.25" y2="697.81" stroke="#000" stroke-width="0.9"/>
<rect x="583.30" y="699.41" width="4.30" height="10.79" fill="#585858" stroke="#000" stroke-width="0.9"/>
<text x="585.45" y="694.41" font-size="4.5" text-anchor="middle" dominant-baseline="central" fill="#666" font-family="Liberation Sans" font-weight="normal" font-style="italic">#</text>
<line x1="580.30" y1="710.2" x2="580.30" y2="712.0" stroke="#000" stroke-width="0.8"/>
<line x1="492.75" y1="710.2" x2="492.75" y2="646.25" stroke="#000" stroke-width="0.9"/>
<line x1="492.75" y1="710.2" x2="590.75" y2="710.2" stroke="#000" stroke-width="0.9"/>
<line x1="490.75" y1="710.20" x2="492.75" y2="710.20" stroke="#000" stroke-width="0.9"/>
<text x="490.15" y="710.20" font-size="4.8" text-anchor="end" dominant-baseline="central" fill="#000">0</text>
<line x1="490.75" y1="694.21" x2="492.75" y2="694.21" stroke="#000" stroke-width="0.9"/>
<text x="490.15" y="694.21" font-size="4.8" text-anchor="end" dominant-baseline="central" fill="#000">20</text>
<line x1="490.75" y1="678.23" x2="492.75" y2="678.23" stroke="#000" stroke-width="0.9"/>
<text x="490.15" y="678.23" font-size="4.8" text-anchor="end" dominant-baseline="central" fill="#000">40</text>
<line x1="490.75" y1="662.24" x2="492.75" y2="662.24" stroke="#000" stroke-width="0.9"/>
<text x="490.15" y="662.24" font-size="4.8" text-anchor="end" dominant-baseline="central" fill="#000">60</text>
<line x1="490.75" y1="646.25" x2="492.75" y2="646.25" stroke="#000" stroke-width="0.9"/>
<text x="490.15" y="646.25" font-size="4.8" text-anchor="end" dominant-baseline="central" fill="#000">80</text>
<rect x="497.25" y="643.00" width="4.8" height="2.6" fill="#fff" stroke="#000" stroke-width="0.7"/>
<text x="504.15" y="645.60" font-size="4.0">G<tspan font-size="2.6" dy="0.8">0</tspan><tspan dy="-0.8">/G</tspan><tspan font-size="2.6" dy="0.8">1</tspan></text>
<rect x="497.25" y="646.90" width="4.8" height="2.6" fill="#a8a8a8" stroke="#000" stroke-width="0.7"/>
<text x="504.15" y="649.50" font-size="4.0">S</text>
<rect x="497.25" y="650.80" width="4.8" height="2.6" fill="#585858" stroke="#000" stroke-width="0.7"/>
<text x="504.15" y="653.40" font-size="4.0">G<tspan font-size="2.6" dy="0.8">2</tspan><tspan dy="-0.8">/M</tspan></text>
<text x="506.80" y="715.20" font-size="5.7" text-anchor="end" dominant-baseline="central" fill="#000" transform="rotate(-30 506.80 715.20)">control</text>
<text x="526.00" y="715.20" font-size="5.7" text-anchor="end" dominant-baseline="central" fill="#000" transform="rotate(-30 526.00 715.20)">FGF1(+)-NC</text>
<text x="545.10" y="715.20" font-size="5.7" text-anchor="end" dominant-baseline="central" fill="#000" transform="rotate(-30 545.10 715.20)">FGF1(+)</text>
<text x="564.20" y="715.20" font-size="5.7" text-anchor="end" dominant-baseline="central" fill="#000" transform="rotate(-30 564.20 715.20)">FGF1(-)-NC</text>
<text x="583.30" y="715.20" font-size="5.7" text-anchor="end" dominant-baseline="central" fill="#000" transform="rotate(-30 583.30 715.20)">FGF1(-)</text>
<text x="483.20" y="678.50" font-size="6.1" text-anchor="middle" dominant-baseline="central" fill="#000" transform="rotate(-90 483.20 678.50)">DNA content (100%)</text>
</svg></body></html>
